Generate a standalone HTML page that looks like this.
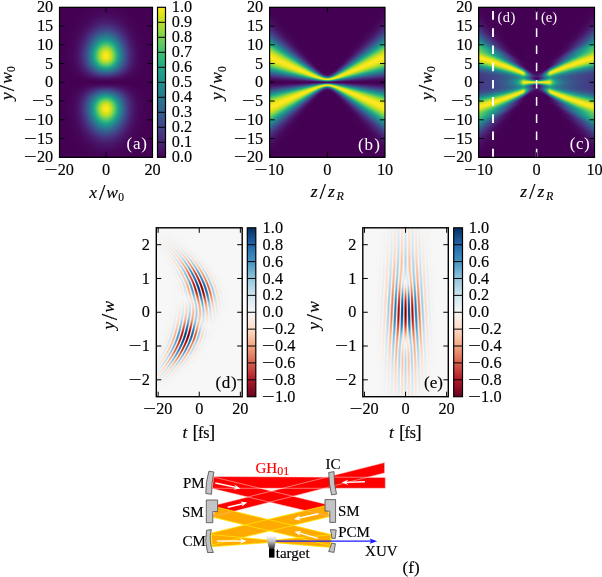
<!DOCTYPE html>
<html><head><meta charset="utf-8"><title>figure</title><style>
html,body{margin:0;padding:0;background:#fff}
#f{position:relative;width:602px;height:577px;overflow:hidden;background:#fff}
.h,.v{position:absolute;overflow:hidden}
.h i{display:block;height:1px}
.v{display:flex}
.v i{display:block;width:1px;height:100%;flex:none}
svg{position:absolute;left:0;top:0;font-family:"Liberation Serif",serif;font-size:16.3px}
svg text{stroke-width:.15px}
.a i{background:radial-gradient(circle at 47.00px var(--c),#fde725 0px,#fbe723 1.09px,#f3e61e 2.17px,#ebe51a 2.81px,#e2e418 3.45px,#dae319 3.91px,#d2e21b 4.32px,#c8e020 4.82px,#bade28 5.41px,#a4db36 6.24px,#88d548 7.27px,#5ac864 8.92px,#3dbc74 10.09px,#2fb47c 10.76px,#26ad81 11.37px,#21a685 11.9px,#1f9f88 12.5px,#1f958b 13.26px,#25858e 14.59px,#2b748e 16.08px,#34618d 17.89px,#3f4788 20.48px,#443b84 21.8px,#46317e 23.15px,#482273 25.31px,#48176a 27.57px,#470e61 30.23px,#46075b 32.91px,#450356 37.44px,#440154 44.05px,#440154 104.63px)}
.b i{background:linear-gradient(180deg,#440154 0%,#440154 43.269%,#440255 44.756%,#450559 45.175%,#460a5d 45.462%,#481567 45.794%,#482474 46.075%,#472e7c 46.225%,#443a83 46.369%,#3f4889 46.513%,#39568c 46.644%,#306a8e 46.812%,#277f8e 46.981%,#20928c 47.119%,#1e9c89 47.194%,#20a486 47.25%,#25ac82 47.3%,#2fb37c 47.356%,#3cbb75 47.413%,#59c765 47.513%,#87d549 47.65%,#a4db36 47.737%,#bade28 47.806%,#c8e020 47.856%,#d2e21b 47.894%,#dae319 47.925%,#e2e418 47.963%,#ebe51a 48.013%,#f2e61d 48.062%,#fbe723 48.15%,#fde725 48.231%,#fae723 48.319%,#f2e61d 48.4%,#ebe51a 48.444%,#e2e418 48.487%,#dbe319 48.519%,#d0e11c 48.556%,#c5e021 48.594%,#b8de29 48.631%,#a3db37 48.688%,#86d549 48.756%,#61ca60 48.844%,#3ebc73 48.931%,#34b779 48.962%,#2bb17e 48.994%,#24aa83 49.025%,#21a586 49.05%,#1e9c89 49.094%,#21908d 49.15%,#26818e 49.219%,#2d6f8e 49.3%,#355e8d 49.381%,#3c4f8a 49.45%,#433e85 49.525%,#472f7d 49.6%,#482071 49.681%,#481366 49.762%,#460a5d 49.831%,#450659 49.875%,#440255 49.938%,#440154 49.994%,#440255 50.056%,#450559 50.119%,#46095d 50.163%,#471265 50.231%,#481f70 50.313%,#472f7d 50.4%,#433e85 50.475%,#3c4f8a 50.55%,#355e8d 50.619%,#2d6f8e 50.7%,#26818e 50.781%,#21908d 50.85%,#1e9c89 50.906%,#21a586 50.95%,#24aa83 50.975%,#2bb17e 51.006%,#34b779 51.038%,#3ebc73 51.069%,#61ca60 51.156%,#86d549 51.244%,#a3db37 51.313%,#b8de29 51.369%,#c5e021 51.406%,#d0e11c 51.444%,#dbe319 51.481%,#e2e418 51.513%,#ebe51a 51.556%,#f2e61d 51.6%,#fae723 51.681%,#fde725 51.769%,#fbe723 51.85%,#f2e61d 51.938%,#ebe51a 51.987%,#e2e418 52.038%,#dae319 52.075%,#d2e21b 52.106%,#c8e020 52.144%,#bade28 52.194%,#a4db36 52.263%,#87d549 52.35%,#59c765 52.487%,#3cbb75 52.587%,#2fb37c 52.644%,#25ac82 52.7%,#20a486 52.75%,#1e9c89 52.806%,#20928c 52.881%,#277f8e 53.019%,#306a8e 53.188%,#39568c 53.356%,#3f4889 53.487%,#443a83 53.631%,#472e7c 53.775%,#482474 53.925%,#481567 54.206%,#460a5d 54.538%,#450559 54.825%,#440255 55.244%,#440154 56.731%,#440154 100%) no-repeat;background-size:1px var(--h);background-position:0 calc(75.30px - var(--h)/2)}
</style></head><body><div id="f">
<div class="h a" style="left:59px;top:7px;width:94px;height:151px;background:#440154"><i style="--c:-35.8px"></i><i style="--c:-35.1px"></i><i style="--c:-34.4px"></i><i style="--c:-33.7px"></i><i style="--c:-33.1px"></i><i style="--c:-32.4px"></i><i style="--c:-31.7px"></i><i style="--c:-31.0px"></i><i style="--c:-30.2px"></i><i style="--c:-29.5px"></i><i style="--c:-28.8px"></i><i style="--c:-28.1px"></i><i style="--c:-27.4px"></i><i style="--c:-26.7px"></i><i style="--c:-26.0px"></i><i style="--c:-25.3px"></i><i style="--c:-24.6px"></i><i style="--c:-23.8px"></i><i style="--c:-23.1px"></i><i style="--c:-22.4px"></i><i style="--c:-21.7px"></i><i style="--c:-20.9px"></i><i style="--c:-20.2px"></i><i style="--c:-19.5px"></i><i style="--c:-18.7px"></i><i style="--c:-18.0px"></i><i style="--c:-17.3px"></i><i style="--c:-16.5px"></i><i style="--c:-15.8px"></i><i style="--c:-15.0px"></i><i style="--c:-14.3px"></i><i style="--c:-13.5px"></i><i style="--c:-12.7px"></i><i style="--c:-12.0px"></i><i style="--c:-11.2px"></i><i style="--c:-10.4px"></i><i style="--c:-9.6px"></i><i style="--c:-8.8px"></i><i style="--c:-8.1px"></i><i style="--c:-7.3px"></i><i style="--c:-6.4px"></i><i style="--c:-5.6px"></i><i style="--c:-4.8px"></i><i style="--c:-4.0px"></i><i style="--c:-3.2px"></i><i style="--c:-2.3px"></i><i style="--c:-1.5px"></i><i style="--c:-0.6px"></i><i style="--c:0.3px"></i><i style="--c:-0.1px"></i><i style="--c:-1.0px"></i><i style="--c:-1.9px"></i><i style="--c:-2.8px"></i><i style="--c:-3.8px"></i><i style="--c:-4.7px"></i><i style="--c:-5.7px"></i><i style="--c:-6.7px"></i><i style="--c:-7.7px"></i><i style="--c:-8.7px"></i><i style="--c:-9.8px"></i><i style="--c:-10.9px"></i><i style="--c:-12.0px"></i><i style="--c:-13.2px"></i><i style="--c:-14.4px"></i><i style="--c:-15.6px"></i><i style="--c:-17.0px"></i><i style="--c:-18.4px"></i><i style="--c:-19.9px"></i><i style="--c:-21.5px"></i><i style="--c:-23.3px"></i><i style="--c:-25.2px"></i><i style="--c:-27.5px"></i><i style="--c:-30.3px"></i><i style="--c:-33.9px"></i><i style="--c:-39.8px"></i><i style="--c:-48.2px"></i><i style="--c:-37.0px"></i><i style="--c:-32.3px"></i><i style="--c:-29.1px"></i><i style="--c:-26.6px"></i><i style="--c:-24.4px"></i><i style="--c:-22.5px"></i><i style="--c:-20.8px"></i><i style="--c:-19.2px"></i><i style="--c:-17.8px"></i><i style="--c:-16.4px"></i><i style="--c:-15.1px"></i><i style="--c:-13.9px"></i><i style="--c:-12.7px"></i><i style="--c:-11.5px"></i><i style="--c:-10.4px"></i><i style="--c:-9.3px"></i><i style="--c:-8.3px"></i><i style="--c:-7.3px"></i><i style="--c:-6.3px"></i><i style="--c:-5.3px"></i><i style="--c:-4.3px"></i><i style="--c:-3.4px"></i><i style="--c:-2.5px"></i><i style="--c:-1.6px"></i><i style="--c:-0.7px"></i><i style="--c:0.2px"></i><i style="--c:-0.1px"></i><i style="--c:-1.0px"></i><i style="--c:-1.8px"></i><i style="--c:-2.7px"></i><i style="--c:-3.5px"></i><i style="--c:-4.3px"></i><i style="--c:-5.1px"></i><i style="--c:-6.0px"></i><i style="--c:-6.8px"></i><i style="--c:-7.6px"></i><i style="--c:-8.4px"></i><i style="--c:-9.2px"></i><i style="--c:-9.9px"></i><i style="--c:-10.7px"></i><i style="--c:-11.5px"></i><i style="--c:-12.3px"></i><i style="--c:-13.0px"></i><i style="--c:-13.8px"></i><i style="--c:-14.6px"></i><i style="--c:-15.3px"></i><i style="--c:-16.1px"></i><i style="--c:-16.8px"></i><i style="--c:-17.6px"></i><i style="--c:-18.3px"></i><i style="--c:-19.0px"></i><i style="--c:-19.8px"></i><i style="--c:-20.5px"></i><i style="--c:-21.2px"></i><i style="--c:-22.0px"></i><i style="--c:-22.7px"></i><i style="--c:-23.4px"></i><i style="--c:-24.1px"></i><i style="--c:-24.9px"></i><i style="--c:-25.6px"></i><i style="--c:-26.3px"></i><i style="--c:-27.0px"></i><i style="--c:-27.7px"></i><i style="--c:-28.4px"></i><i style="--c:-29.1px"></i><i style="--c:-29.8px"></i><i style="--c:-30.5px"></i><i style="--c:-31.2px"></i><i style="--c:-31.9px"></i><i style="--c:-32.6px"></i><i style="--c:-33.3px"></i><i style="--c:-34.0px"></i><i style="--c:-34.7px"></i><i style="--c:-35.4px"></i><i style="--c:-36.1px"></i></div>
<div class="v b" style="left:269px;top:7px;width:116px;height:151px;background:#440154"><i style="--h:1422.3px"></i><i style="--h:1398.0px"></i><i style="--h:1373.8px"></i><i style="--h:1349.5px"></i><i style="--h:1325.2px"></i><i style="--h:1301.0px"></i><i style="--h:1276.8px"></i><i style="--h:1252.5px"></i><i style="--h:1228.3px"></i><i style="--h:1204.1px"></i><i style="--h:1179.9px"></i><i style="--h:1155.7px"></i><i style="--h:1131.5px"></i><i style="--h:1107.3px"></i><i style="--h:1083.2px"></i><i style="--h:1059.0px"></i><i style="--h:1034.9px"></i><i style="--h:1010.8px"></i><i style="--h:986.7px"></i><i style="--h:962.6px"></i><i style="--h:938.5px"></i><i style="--h:914.4px"></i><i style="--h:890.4px"></i><i style="--h:866.4px"></i><i style="--h:842.4px"></i><i style="--h:818.5px"></i><i style="--h:794.6px"></i><i style="--h:770.7px"></i><i style="--h:746.8px"></i><i style="--h:723.0px"></i><i style="--h:699.2px"></i><i style="--h:675.5px"></i><i style="--h:651.8px"></i><i style="--h:628.2px"></i><i style="--h:604.6px"></i><i style="--h:581.2px"></i><i style="--h:557.8px"></i><i style="--h:534.5px"></i><i style="--h:511.3px"></i><i style="--h:488.2px"></i><i style="--h:465.3px"></i><i style="--h:442.5px"></i><i style="--h:419.9px"></i><i style="--h:397.6px"></i><i style="--h:375.5px"></i><i style="--h:353.7px"></i><i style="--h:332.3px"></i><i style="--h:311.3px"></i><i style="--h:290.9px"></i><i style="--h:271.1px"></i><i style="--h:252.1px"></i><i style="--h:234.2px"></i><i style="--h:217.5px"></i><i style="--h:202.5px"></i><i style="--h:189.3px"></i><i style="--h:178.6px"></i><i style="--h:170.8px"></i><i style="--h:166.2px"></i><i style="--h:165.1px"></i><i style="--h:167.6px"></i><i style="--h:173.5px"></i><i style="--h:182.6px"></i><i style="--h:194.3px"></i><i style="--h:208.3px"></i><i style="--h:224.0px"></i><i style="--h:241.2px"></i><i style="--h:259.6px"></i><i style="--h:278.9px"></i><i style="--h:299.0px"></i><i style="--h:319.6px"></i><i style="--h:340.8px"></i><i style="--h:362.4px"></i><i style="--h:384.3px"></i><i style="--h:406.5px"></i><i style="--h:429.0px"></i><i style="--h:451.6px"></i><i style="--h:474.4px"></i><i style="--h:497.4px"></i><i style="--h:520.6px"></i><i style="--h:543.8px"></i><i style="--h:567.1px"></i><i style="--h:590.6px"></i><i style="--h:614.1px"></i><i style="--h:637.6px"></i><i style="--h:661.3px"></i><i style="--h:685.0px"></i><i style="--h:708.7px"></i><i style="--h:732.5px"></i><i style="--h:756.3px"></i><i style="--h:780.2px"></i><i style="--h:804.1px"></i><i style="--h:828.1px"></i><i style="--h:852.0px"></i><i style="--h:876.0px"></i><i style="--h:900.0px"></i><i style="--h:924.1px"></i><i style="--h:948.1px"></i><i style="--h:972.2px"></i><i style="--h:996.3px"></i><i style="--h:1020.4px"></i><i style="--h:1044.5px"></i><i style="--h:1068.7px"></i><i style="--h:1092.8px"></i><i style="--h:1117.0px"></i><i style="--h:1141.2px"></i><i style="--h:1165.4px"></i><i style="--h:1189.6px"></i><i style="--h:1213.8px"></i><i style="--h:1238.0px"></i><i style="--h:1262.2px"></i><i style="--h:1286.5px"></i><i style="--h:1310.7px"></i><i style="--h:1334.9px"></i><i style="--h:1359.2px"></i><i style="--h:1383.5px"></i><i style="--h:1407.7px"></i></div>
<div class="v" style="left:478px;top:7px;width:117px;height:151px"><i style="background:linear-gradient(180deg,#450356 0px,#45065a 6.2px,#460b5f 10px,#48196b 15px,#482878 19.5px,#443b84 22.8px,#37598c 27px,#2a798e 31.5px,#20948c 34.2px,#1fa287 35.5px,#29af7f 36.8px,#43bf71 38.8px,#51c469 40px,#68cc5c 42.8px,#74d054 43.8px,#85d44a 44.8px,#95d840 45.5px,#c3e023 47.2px,#d6e21a 48px,#e7e419 48.8px,#f4e61e 49.5px,#fbe723 50.2px,#fde725 51px,#f9e622 51.8px,#eee51c 52.5px,#dde318 53.2px,#cee11d 53.8px,#b2dd2d 54.5px,#87d549 55.5px,#5cc863 56.5px,#3fbd73 57.2px,#2ab07f 58px,#1fa287 58.8px,#1f958b 59.5px,#2d718e 61.8px,#365d8d 63.2px,#3d4d8a 64.8px,#414487 66px,#433d85 67.2px,#443982 70.5px,#443983 81px,#443b83 82.5px,#424086 84px,#3d4c8a 85.8px,#355f8d 87.5px,#24868e 90.2px,#1f978b 91.2px,#1fa088 91.8px,#28ae80 92.5px,#3cbb75 93.2px,#58c765 94px,#83d44c 95px,#b8de29 96.2px,#d3e21b 97px,#e1e318 97.5px,#f1e51d 98.2px,#fae723 99px,#fde725 99.8px,#fce724 100.2px,#f5e61f 101px,#e4e419 102px,#d9e219 102.5px,#c5e021 103.2px,#97d83e 105px,#82d44c 106px,#76d054 106.8px,#67cc5d 108px,#52c569 110.5px,#45bf70 111.8px,#27ae80 114px,#20a386 115px,#1f958b 116.2px,#29798e 119px,#375a8c 123.5px,#433c84 127.8px,#482878 131.2px,#481769 136.2px,#460b5e 141px,#440356 151px)"></i><i style="background:linear-gradient(180deg,#440255 0px,#450559 6.2px,#460a5d 10.5px,#481769 15.5px,#482777 20.2px,#443a83 23.5px,#38588c 27.8px,#2a788e 32.2px,#1f958b 35px,#20a387 36.2px,#27ae81 37.2px,#40bd73 39.2px,#4dc36c 40.5px,#5fca61 42.8px,#6ece59 44px,#7fd34e 45px,#8fd744 45.8px,#bfdf25 47.5px,#d4e21a 48.2px,#e6e419 49px,#f3e61e 49.8px,#fbe723 50.5px,#fde725 51.2px,#f9e622 52px,#f2e61d 52.5px,#e3e418 53.2px,#d5e21a 53.8px,#bade28 54.5px,#85d44a 55.8px,#5ac864 56.8px,#3ebc74 57.5px,#29af80 58.2px,#1fa187 59px,#1f988b 59.5px,#228b8d 60.2px,#2f6c8e 62.2px,#37598c 63.8px,#3d4c8a 65px,#414387 66.2px,#433d85 67.5px,#443983 70.5px,#443a83 81px,#424086 83.8px,#3e4b8a 85.5px,#355e8d 87.2px,#25858e 90px,#1f968b 91px,#1f9f88 91.5px,#27ad81 92.2px,#33b67a 92.8px,#43be71 93.2px,#60ca60 94px,#8cd646 95px,#b7de2a 96px,#d2e21b 96.8px,#e0e318 97.2px,#f1e51d 98px,#fae722 98.8px,#fde725 99.5px,#fce724 100px,#f5e61f 100.8px,#e3e418 101.8px,#d7e21a 102.2px,#c2df23 103px,#92d742 104.8px,#7cd250 105.8px,#6fcf58 106.5px,#60ca60 107.8px,#41bd72 111.2px,#28ae80 113.2px,#1fa187 114.5px,#20938c 115.8px,#2a778e 118.5px,#38578c 123px,#443b83 127px,#482777 130.5px,#481668 135.5px,#460a5d 140.2px,#450559 144.8px,#440255 151px)"></i><i style="background:linear-gradient(180deg,#440255 0px,#450558 6.8px,#460a5d 11.2px,#481467 15.8px,#482576 20.8px,#443983 24.2px,#39568c 28.2px,#2b768e 32.8px,#20938c 35.5px,#1fa187 36.8px,#26ac82 37.8px,#3cbb75 39.8px,#59c765 43px,#67cc5c 44.2px,#78d152 45.2px,#8ad547 46px,#c3e022 48px,#d8e219 48.8px,#e5e419 49.2px,#f6e620 50.2px,#fce724 51px,#fde725 51.5px,#f9e621 52.2px,#f2e61d 52.8px,#e2e418 53.5px,#d4e21b 54px,#b9de29 54.8px,#84d44b 56px,#58c765 57px,#3cbb75 57.8px,#28ae80 58.5px,#1fa088 59.2px,#238a8d 60.5px,#2e6f8e 62.2px,#375b8d 63.8px,#3d4e8a 65px,#414487 66.2px,#433e85 67.5px,#443a83 70.5px,#443a83 81px,#424186 83.8px,#3d4d8a 85.5px,#34608d 87.2px,#25848e 89.8px,#1f9f88 91.2px,#26ac81 92px,#32b57b 92.5px,#41be72 93px,#5fc961 93.8px,#8ad647 94.8px,#b5de2b 95.8px,#d1e11c 96.5px,#e0e318 97px,#f1e51c 97.8px,#fae722 98.5px,#fde725 99.2px,#fce724 99.8px,#f4e61e 100.5px,#e7e419 101.2px,#d4e21a 102px,#bfdf25 102.8px,#8cd646 104.5px,#7ad251 105.2px,#68cd5c 106.2px,#59c864 107.5px,#3dbc74 110.8px,#27ad81 112.8px,#1fa287 113.8px,#20948c 115px,#2a778e 117.8px,#39568c 122.2px,#453882 126.5px,#482575 130px,#481366 135.2px,#46095d 139.5px,#450458 144.5px,#440255 151px)"></i><i style="background:linear-gradient(180deg,#440255 0px,#450457 6.8px,#46095c 12px,#481466 16.5px,#482475 21.5px,#453882 25px,#39568c 29.2px,#2c738e 33.2px,#20948c 36.2px,#1fa287 37.5px,#26ac81 38.5px,#39b977 40.2px,#54c667 43.5px,#64cb5e 44.8px,#72cf56 45.5px,#8ad547 46.5px,#c0df24 48.2px,#d6e21a 49px,#e3e418 49.5px,#f6e61f 50.5px,#fce724 51.2px,#fde725 51.8px,#f9e621 52.5px,#f2e61d 53px,#e2e418 53.8px,#d3e21b 54.2px,#b8de29 55px,#8dd645 56px,#61ca60 57px,#44bf71 57.8px,#2db27d 58.5px,#20a486 59.2px,#1f968b 60px,#2d718e 62.2px,#365d8d 63.8px,#3c4f8a 65px,#424086 67.2px,#443b83 70.2px,#443b84 81px,#414286 83.8px,#3d4c8a 85.2px,#355e8d 87px,#25838e 89.5px,#1f9e89 91px,#25ab82 91.8px,#30b47b 92.2px,#40bd73 92.8px,#5dc962 93.5px,#89d548 94.5px,#b4dd2c 95.5px,#d0e11c 96.2px,#dfe318 96.8px,#f0e51c 97.5px,#fae722 98.2px,#fde725 99px,#fbe723 99.5px,#f3e61e 100.2px,#e5e419 101px,#d9e219 101.5px,#c3e023 102.2px,#86d549 104.2px,#74d055 105px,#66cc5d 105.8px,#55c667 107px,#37b977 110.5px,#27ad81 112px,#20a386 113px,#1f958b 114.2px,#2b748e 117.2px,#39558c 121.5px,#453782 125.8px,#482374 129.2px,#481366 134.2px,#46095c 138.8px,#450457 144.2px,#440255 151px)"></i><i style="background:linear-gradient(180deg,#440255 0px,#450457 7px,#46085b 12.5px,#471265 17px,#482273 22px,#453782 25.8px,#39558c 30px,#2c738e 34px,#1f958b 37px,#20a387 38.2px,#24ab82 39px,#35b778 40.8px,#4ec36b 43.8px,#5ec962 45px,#71cf56 46px,#84d44b 46.8px,#c4e022 48.8px,#d4e21b 49.2px,#e7e419 50px,#f5e61f 50.8px,#fce724 51.5px,#fde725 52px,#f9e622 52.8px,#f2e61d 53.2px,#e2e418 54px,#d3e21b 54.5px,#b7de2a 55.2px,#8cd646 56.2px,#60ca61 57.2px,#42be71 58px,#2cb17e 58.8px,#20a386 59.5px,#1f958b 60.2px,#2d708e 62.5px,#3b518b 65px,#424186 67.2px,#443c84 70.2px,#443c84 80.8px,#414286 83.5px,#3e4b8a 85px,#355d8d 86.8px,#26828e 89.2px,#1e9d89 90.8px,#24ab82 91.5px,#2fb47c 92px,#3fbc73 92.5px,#5cc863 93.2px,#87d549 94.2px,#b3dd2c 95.2px,#cfe11c 96px,#dfe318 96.5px,#f0e51c 97.2px,#fae723 98px,#fde725 98.8px,#fbe723 99.2px,#f3e61e 100px,#e4e418 100.8px,#d6e21a 101.2px,#bfdf25 102px,#80d34d 104px,#6ece58 104.8px,#5fca61 105.5px,#4fc46a 106.8px,#34b779 110px,#25ab82 111.5px,#1fa187 112.5px,#20938c 113.8px,#2c728e 116.8px,#3a538b 121px,#453681 125px,#482173 128.8px,#471265 133.5px,#46085c 138px,#450457 143.5px,#440255 151px)"></i><i style="background:linear-gradient(180deg,#440254 0px,#450356 7px,#46075b 13.2px,#471063 17.5px,#482071 22.5px,#472c7b 25px,#414387 28.2px,#32648e 33px,#2c748e 34.8px,#24878e 36.5px,#1f968b 37.8px,#1fa187 38.8px,#23a984 39.5px,#30b47c 41px,#48c16e 44px,#57c766 45.2px,#6bcd5a 46.2px,#7fd34e 47px,#c1df24 49px,#d8e219 49.8px,#e5e419 50.2px,#f4e61e 51px,#fce724 51.8px,#fde725 52.2px,#f9e722 53px,#f2e61d 53.5px,#e2e418 54.2px,#d2e21b 54.8px,#b6de2a 55.5px,#8bd646 56.5px,#5ec961 57.5px,#41be72 58.2px,#2bb07f 59px,#1fa287 59.8px,#1f948c 60.5px,#2e6f8e 62.8px,#355e8d 64px,#3c508b 65.2px,#424186 67.5px,#433c84 70.2px,#433c84 80.8px,#414387 83.5px,#3d4d8a 85px,#345f8d 86.8px,#26818e 89px,#1e9c89 90.5px,#24aa83 91.2px,#2eb37c 91.8px,#3ebc74 92.2px,#5ac864 93px,#86d549 94px,#b2dd2d 95px,#cfe11c 95.8px,#dfe318 96.2px,#ebe51a 96.8px,#f5e61f 97.2px,#fbe723 97.8px,#fde725 98.5px,#fbe723 99px,#f2e61d 99.8px,#e2e418 100.5px,#d4e21b 101px,#c4e022 101.5px,#81d34c 103.5px,#6dce59 104.2px,#59c765 105.2px,#46c06f 106.8px,#31b57b 109.5px,#1fa287 111.8px,#1f978b 112.8px,#24888e 114px,#2b758e 115.8px,#32658e 117.5px,#414487 122.2px,#472d7c 125.5px,#482072 128px,#471163 133px,#46085b 137.2px,#450356 143.8px,#440254 151px)"></i><i style="background:linear-gradient(180deg,#440154 0px,#450356 7.5px,#46075a 14px,#471063 18.5px,#481f70 23.2px,#472c7a 25.8px,#424086 28.8px,#34618d 33.5px,#2d718e 35.2px,#25858e 37px,#1f978b 38.5px,#1fa287 39.5px,#2db27d 41.5px,#40bd73 44px,#4ac26d 45px,#55c667 45.8px,#65cb5e 46.5px,#79d152 47.2px,#91d743 48px,#bddf26 49.2px,#d6e21a 50px,#e4e418 50.5px,#f3e61e 51.2px,#fce724 52px,#fde725 52.5px,#fce723 53px,#f3e61e 53.8px,#e2e418 54.5px,#d3e21b 55px,#b6de2a 55.8px,#8ad547 56.8px,#5dc962 57.8px,#40bd73 58.5px,#30b47b 59px,#25ab82 59.5px,#1e9d89 60.2px,#26828e 61.8px,#34608d 64px,#3d4d8a 65.8px,#414387 67.2px,#433d85 70px,#433d84 80.2px,#424286 83px,#3f4889 84.2px,#3b518b 85.2px,#355e8d 86.5px,#2d708e 87.8px,#23898e 89.2px,#1fa088 90.5px,#28ae80 91.2px,#3cbb75 92px,#59c764 92.8px,#86d44a 93.8px,#b2dd2d 94.8px,#cfe11c 95.5px,#dfe318 96px,#f1e51d 96.8px,#f8e621 97.2px,#fde725 98px,#fce724 98.5px,#f5e61f 99.2px,#e0e318 100.2px,#d1e11c 100.8px,#c1df24 101.2px,#7cd250 103.2px,#67cc5c 104px,#53c568 105px,#48c16e 105.8px,#3ebc74 106.8px,#2bb17e 109.2px,#20a387 111px,#20928c 112.5px,#2b758e 115px,#33628d 117px,#424186 121.8px,#472b7a 125px,#481e70 127.5px,#470f62 132.5px,#46075a 136.8px,#450356 143.2px,#440154 151px)"></i><i style="background:linear-gradient(180deg,#440154 0px,#440256 8px,#45065a 14.8px,#470f62 19px,#481d6f 23.8px,#482979 26.2px,#423f85 29.5px,#355f8d 34px,#2c728e 36px,#20928c 38.8px,#1fa287 40.2px,#2ab07f 42px,#3aba76 44.2px,#44bf70 45.2px,#4fc46a 46px,#65cb5e 47px,#7bd251 47.8px,#c2df23 49.8px,#d3e21b 50.2px,#e2e418 50.8px,#f2e61d 51.5px,#fbe723 52.2px,#fde725 52.8px,#fae722 53.5px,#f3e61e 54px,#e2e418 54.8px,#d3e21b 55.2px,#b7de2a 56px,#8ad547 57px,#5dc962 58px,#3fbd73 58.8px,#29af80 59.5px,#1fa188 60.2px,#1f978b 60.8px,#23898d 61.5px,#2d708e 63px,#355f8d 64.2px,#3b518b 65.5px,#3f4989 66.5px,#414287 67.8px,#433e85 70.5px,#424086 75.2px,#433e85 80.8px,#414487 83.2px,#3d4e8a 84.8px,#34618d 86.5px,#25838e 88.8px,#1f958b 89.8px,#1f9f88 90.2px,#27ad81 91px,#3cbb75 91.8px,#59c765 92.5px,#85d44a 93.5px,#b2dd2d 94.5px,#d0e11c 95.2px,#e0e318 95.8px,#f1e51d 96.5px,#f9e621 97px,#fde725 97.8px,#fce724 98.2px,#f4e61e 99px,#e4e419 99.8px,#d6e21a 100.2px,#bddf26 101px,#8fd744 102.2px,#76d053 103px,#61ca60 103.8px,#51c469 104.5px,#45c070 105.2px,#3bba75 106.2px,#29af80 108.8px,#20a386 110.2px,#20938c 111.8px,#2d708e 114.8px,#355d8d 116.8px,#433e85 121.2px,#482878 124.5px,#481d6f 126.8px,#470f62 131.5px,#45065a 136px,#440255 142.8px,#440154 151px)"></i><i style="background:linear-gradient(180deg,#440154 0px,#440255 8.5px,#450659 15.5px,#470e61 19.8px,#481c6e 24.5px,#482777 26.8px,#433c84 30px,#375a8c 34.2px,#2f6d8e 36.2px,#20938c 39.5px,#20a586 41.2px,#27ad81 42.5px,#36b878 44.8px,#42be72 45.8px,#4ec36b 46.5px,#5fca61 47.2px,#75d054 48px,#bfdf25 50px,#d0e11c 50.5px,#e0e318 51px,#f1e51d 51.8px,#fbe723 52.5px,#fde725 53px,#fae722 53.8px,#f4e61e 54.2px,#e3e418 55px,#d4e21a 55.5px,#b7de2a 56.2px,#8ad647 57.2px,#5cc963 58.2px,#3ebc73 59px,#28ae80 59.8px,#1fa088 60.5px,#23888e 61.8px,#2d6f8e 63.2px,#3a538b 65.5px,#3e4a89 66.5px,#414387 67.8px,#433f85 70.5px,#424186 75.2px,#433f85 80.5px,#404588 83.2px,#3c508b 84.8px,#33638d 86.5px,#24878e 88.8px,#1f9e89 90px,#26ac81 90.8px,#3bba75 91.5px,#58c765 92.2px,#86d44a 93.2px,#b3dd2c 94.2px,#d1e11c 95px,#e1e318 95.5px,#f2e61d 96.2px,#fbe723 97px,#fde725 97.5px,#fce724 98px,#f3e61e 98.8px,#e2e418 99.5px,#d4e21b 100px,#c3e023 100.5px,#8ad547 102px,#71cf57 102.8px,#5cc863 103.5px,#4bc26c 104.2px,#40bd73 105px,#35b779 106px,#26ac81 108.2px,#20a386 109.5px,#20918c 111.2px,#2e6e8e 114.2px,#375a8d 116.2px,#443b84 120.8px,#482676 124px,#481b6d 126.2px,#470c5f 131.5px,#450659 135.2px,#440255 142.5px,#440154 151px)"></i><i style="background:linear-gradient(180deg,#440154 0px,#440255 9px,#450559 16.2px,#470c5f 20px,#481b6d 25.2px,#482676 27.5px,#443a83 30.5px,#38578c 34.8px,#306a8e 36.8px,#20918c 40px,#1e9c89 41px,#20a486 42px,#31b57b 45px,#3cbb75 46px,#48c16e 46.8px,#5ac864 47.5px,#70cf57 48.2px,#bcdf27 50.2px,#d6e21a 51px,#e4e419 51.5px,#f4e61e 52.2px,#fce724 53px,#fde725 53.5px,#fbe723 54px,#f4e61f 54.5px,#e4e419 55.2px,#d5e21a 55.8px,#b9de29 56.5px,#8bd646 57.5px,#68cc5c 58.2px,#47c06f 59px,#2eb37d 59.8px,#20a486 60.5px,#1f958b 61.2px,#2c728e 63.2px,#39558c 65.5px,#3d4c8a 66.5px,#404587 67.8px,#423f86 70.2px,#414287 75.2px,#423f86 80.5px,#404588 83px,#3b518b 84.8px,#33628d 86.2px,#24858e 88.5px,#1e9d89 89.8px,#26ac82 90.5px,#3aba76 91.2px,#58c765 92px,#86d549 93px,#b4dd2c 94px,#d2e21b 94.8px,#e2e418 95.2px,#f3e61e 96px,#fae722 96.5px,#fde725 97.2px,#fbe723 97.8px,#f2e61d 98.5px,#e0e318 99.2px,#d1e11c 99.8px,#bfdf25 100.2px,#73d055 102.2px,#5cc963 103px,#4ac26d 103.8px,#3dbc74 104.5px,#32b57a 105.5px,#21a586 108.5px,#1e9d89 109.5px,#20928c 110.5px,#30698e 114px,#39568c 116px,#443a83 120px,#482575 123.2px,#481a6c 125.5px,#460c5f 130.8px,#450559 134.5px,#440255 142px,#440154 151px)"></i><i style="background:linear-gradient(180deg,#440154 0px,#440255 9.5px,#450558 17px,#460a5d 20.2px,#48186b 25.8px,#482273 27.8px,#463480 30.5px,#39568c 35.5px,#2a778e 38.5px,#20928c 40.8px,#1f9e89 42px,#22a785 43.2px,#29af80 44.8px,#31b57b 45.8px,#3aba76 46.5px,#48c16e 47.2px,#5bc864 48px,#73d055 48.8px,#c2df23 50.8px,#d4e21b 51.2px,#e3e418 51.8px,#f3e61e 52.5px,#fce724 53.2px,#fde725 53.8px,#f9e621 54.5px,#f1e51d 55px,#dfe318 55.8px,#cee11d 56.2px,#bade28 56.8px,#80d34d 58px,#5dc963 58.8px,#3dbc74 59.5px,#27ad81 60.2px,#23a884 60.5px,#1f9e89 61px,#24868e 62.2px,#33638d 64.5px,#3b528b 66px,#404688 67.8px,#424086 70.2px,#414387 75.2px,#424086 80px,#404688 82.8px,#3d4d8a 84px,#39568c 85px,#2c748e 87.2px,#20928c 89px,#1fa187 89.8px,#21a685 90px,#2bb07f 90.5px,#43be71 91.2px,#63cb5f 92px,#87d549 92.8px,#b6de2b 93.8px,#d3e21b 94.5px,#e3e418 95px,#f4e61e 95.8px,#fae722 96.2px,#fde725 97px,#fbe723 97.5px,#f5e61f 98px,#e5e419 98.8px,#d7e21a 99.2px,#bcdf27 100px,#6ece58 102px,#56c666 102.8px,#44bf70 103.5px,#38b977 104.2px,#2fb47c 105px,#28ae80 106px,#21a685 107.5px,#1e9d89 108.8px,#21918c 110px,#31668e 113.5px,#39558c 115.2px,#46337f 120.2px,#482273 122.8px,#48196b 124.8px,#460a5d 130.5px,#450558 133.8px,#440255 141.2px,#440154 151px)"></i><i style="background:linear-gradient(180deg,#440154 0px,#440255 10.2px,#450558 17.8px,#46095d 21px,#48176a 26.5px,#482172 28.5px,#463480 31.5px,#3f4989 34.8px,#38588c 36.5px,#2a788e 39.2px,#20938c 41.5px,#1f9e89 42.8px,#22a785 44.2px,#2cb17e 46px,#34b779 46.8px,#42be72 47.5px,#55c667 48.2px,#6ece58 49px,#bfdf25 51px,#d1e11c 51.5px,#e1e318 52px,#f2e61d 52.8px,#fce723 53.5px,#fde725 54px,#fce723 54.5px,#f2e61d 55.2px,#e0e318 56px,#d0e11c 56.5px,#bcdf27 57px,#81d34d 58.2px,#5dc962 59px,#3dbc74 59.8px,#27ad81 60.5px,#22a884 60.8px,#1f9e89 61.2px,#25858e 62.5px,#32658e 64.5px,#3a548c 66px,#3f4888 67.8px,#424186 70.2px,#404588 75.2px,#424186 80px,#404688 82.5px,#3d4d8a 83.8px,#39568c 84.8px,#34618d 85.8px,#2c738e 87px,#228d8d 88.5px,#1fa188 89.5px,#25ab82 90px,#2ab07f 90.2px,#43be71 91px,#64cb5e 91.8px,#89d548 92.5px,#b8de29 93.5px,#d5e21a 94.2px,#e4e419 94.8px,#f0e51c 95.2px,#f8e621 95.8px,#fde725 96.5px,#fae723 97.2px,#f4e61e 97.8px,#e4e418 98.5px,#d5e21a 99px,#b9de29 99.8px,#68cc5c 101.8px,#51c469 102.5px,#44bf70 103px,#36b878 103.8px,#2db27d 104.5px,#22a884 106.2px,#1f9f88 107.8px,#20948c 109px,#29798e 111.2px,#38598c 114px,#3e4a89 115.8px,#453580 119px,#482173 122px,#481769 124.2px,#46095c 129.8px,#450458 133px,#440255 140.5px,#440154 151px)"></i><i style="background:linear-gradient(180deg,#440154 0px,#450458 18.5px,#46095d 22px,#481669 27.2px,#482071 29.2px,#453681 32.8px,#3f4889 35.5px,#375a8c 37.5px,#29798e 40px,#20938c 42.2px,#1f9f88 43.8px,#22a784 45.2px,#2cb17e 46.8px,#37b878 47.5px,#41be72 48px,#4fc36b 48.5px,#68cc5c 49.2px,#9cd93c 50.5px,#bcdf27 51.2px,#cfe11d 51.8px,#dfe318 52.2px,#f1e51d 53px,#f9e621 53.5px,#fde725 54.2px,#fae722 55px,#f3e61e 55.5px,#e2e418 56.2px,#d2e21b 56.8px,#b3dd2c 57.5px,#83d44c 58.5px,#5ec962 59.2px,#3dbc74 60px,#26ac81 60.8px,#1fa287 61.2px,#20938c 62px,#2c738e 63.8px,#33618d 65px,#39568c 66px,#404788 68.2px,#414287 70.8px,#404688 75.2px,#414287 80.2px,#3f4989 82.8px,#39558c 84.5px,#31678e 86px,#24878e 88px,#1f968b 88.8px,#1fa088 89.2px,#24aa83 89.8px,#2ab07f 90px,#43be71 90.8px,#65cb5e 91.5px,#8ad547 92.2px,#bade28 93.2px,#cee11d 93.8px,#dfe318 94.2px,#f1e51d 95px,#f9e621 95.5px,#fde725 96.2px,#fae722 97px,#f3e61e 97.5px,#e2e418 98.2px,#d2e21b 98.8px,#c0df25 99.2px,#6ccd5a 101.2px,#52c569 102px,#44bf71 102.5px,#39b977 103px,#2db27d 103.8px,#26ac81 104.5px,#21a685 105.5px,#1f9e89 107px,#20928c 108.5px,#2a778e 110.8px,#38588c 113.2px,#3f4889 115px,#453581 118px,#482072 121.2px,#481668 123.5px,#46085c 129px,#450457 132.2px,#440154 151px)"></i><i style="background:linear-gradient(180deg,#440154 0px,#450457 19.2px,#46085b 22.5px,#481467 27.8px,#481f70 30px,#453781 33.8px,#404788 36.2px,#375a8c 38.2px,#2a778e 40.5px,#218f8d 42.5px,#1e9c89 44.2px,#21a685 46px,#25ab82 46.8px,#2db27d 47.5px,#3bbb75 48.2px,#48c16e 48.8px,#6bcd5a 49.8px,#b8de29 51.5px,#d5e21a 52.2px,#e4e419 52.8px,#f4e61f 53.5px,#fbe723 54px,#fde725 54.8px,#f8e621 55.5px,#efe51c 56px,#e3e418 56.5px,#d3e21b 57px,#b5de2b 57.8px,#84d44b 58.8px,#52c568 59.8px,#3dbb74 60.2px,#26ac82 61px,#1fa187 61.5px,#20928c 62.2px,#2a768e 63.8px,#32648e 65px,#38588c 66px,#3c508b 67px,#3f4889 68.2px,#414387 70.8px,#3f4888 75.2px,#414387 80.2px,#3f4989 82.5px,#39558c 84.2px,#31668e 85.8px,#24868e 87.8px,#1f9f88 89px,#24aa83 89.5px,#29af7f 89.8px,#39ba76 90.2px,#59c864 91px,#7fd34e 91.8px,#b0dd2e 92.8px,#d0e11c 93.5px,#e0e318 94px,#f2e61d 94.8px,#f9e722 95.2px,#fde725 96px,#f9e722 96.8px,#f2e61d 97.2px,#e7e419 97.8px,#d8e219 98.2px,#bcdf27 99px,#90d743 100px,#65cc5d 101px,#44bf70 102px,#38b977 102.5px,#2bb17e 103.2px,#24aa83 104px,#21a586 104.8px,#1e9b8a 106.5px,#228d8d 108.2px,#2b758e 110.2px,#38588c 112.5px,#3f4788 114.2px,#453681 117px,#481e70 120.8px,#481567 122.8px,#46095c 127.8px,#450457 131.2px,#440154 151px)"></i><i style="background:linear-gradient(180deg,#440154 0px,#450457 20.2px,#46085c 23.8px,#481366 28.5px,#481b6d 30.2px,#482978 32.5px,#424086 36.2px,#3d4c8a 37.8px,#375a8c 39px,#277e8e 41.8px,#228c8d 43px,#1f998a 44.8px,#20a486 46.5px,#28ae80 47.8px,#35b779 48.5px,#41be72 49px,#64cb5e 50px,#91d743 51px,#bedf25 52px,#d2e21b 52.5px,#e2e418 53px,#f3e61e 53.8px,#fae722 54.2px,#fde725 55px,#f8e621 55.8px,#f0e51c 56.2px,#e5e419 56.8px,#d5e21a 57.2px,#b7de2a 58px,#85d44a 59px,#53c568 60px,#3dbb74 60.5px,#2bb17e 61px,#25ac82 61.2px,#1fa188 61.8px,#228c8d 62.8px,#2b758e 64px,#375b8d 66px,#3b528b 67px,#3e4a89 68.2px,#404487 70.8px,#3f4989 75.2px,#404587 80.2px,#3e4a89 82.5px,#38578c 84.2px,#30698e 85.8px,#25858e 87.5px,#1f9f88 88.8px,#23a983 89.2px,#29af80 89.5px,#39b977 90px,#5ac864 90.8px,#80d34d 91.5px,#b2dd2d 92.5px,#d2e11b 93.2px,#e2e418 93.8px,#f3e61e 94.5px,#fae722 95px,#fde725 95.8px,#f8e621 96.5px,#f0e51c 97px,#e5e419 97.5px,#d5e21a 98px,#b8de29 98.8px,#69cd5c 100.5px,#44bf70 101.5px,#37b878 102px,#2aaf7f 102.8px,#20a486 104px,#1f9a8a 105.8px,#238b8d 107.8px,#38588c 111.8px,#3e4b89 113px,#433f85 114.5px,#482878 118.2px,#481a6c 120.5px,#471365 122.2px,#46085b 127px,#450457 130.5px,#440154 151px)"></i><i style="background:linear-gradient(180deg,#440154 0px,#450357 20.8px,#46085b 24.8px,#471264 29px,#48196b 30.8px,#482676 33px,#433d84 36.8px,#3f4989 38.2px,#375a8d 39.8px,#29798e 42px,#24878e 43.2px,#1f968b 45.2px,#20a386 47.2px,#24aa83 48px,#2ab07f 48.5px,#34b779 49px,#42be72 49.5px,#5dc962 50.2px,#8ad547 51.2px,#b9de28 52.2px,#cee11d 52.8px,#d7e21a 53px,#e6e419 53.5px,#f2e61d 54px,#f9e722 54.5px,#fde725 55.2px,#f9e622 56px,#f1e51d 56.5px,#dfe318 57.2px,#cde11d 57.8px,#b8de29 58.2px,#86d549 59.2px,#53c568 60.2px,#3cbb75 60.8px,#2bb17e 61.2px,#25ab82 61.5px,#1fa088 62px,#1f958b 62.5px,#24868e 63.2px,#30698e 65px,#38588c 66.5px,#3e4b8a 68.2px,#404688 70.2px,#3e4a89 75.2px,#404688 80px,#3e4b89 82.2px,#3a538b 83.5px,#365c8d 84.5px,#2a778e 86.5px,#20938c 88px,#20a386 88.8px,#28ae80 89.2px,#43be71 90px,#67cc5d 90.8px,#8ed644 91.5px,#bfdf25 92.5px,#d3e21b 93px,#e3e418 93.5px,#efe51c 94px,#f8e621 94.5px,#fde725 95.2px,#fae722 96px,#f4e61e 96.5px,#e2e418 97.2px,#d2e21b 97.8px,#bedf26 98.2px,#8fd744 99.2px,#61ca60 100.2px,#45bf70 101px,#37b878 101.5px,#2cb17e 102px,#25ab82 102.5px,#20a486 103.2px,#1f988b 105px,#23888e 107.2px,#297a8e 108.5px,#38598c 111px,#3f4888 112.5px,#443c84 114px,#482576 117.8px,#471265 121.5px,#46085c 125.8px,#450357 129.8px,#440154 151px)"></i><i style="background:linear-gradient(180deg,#440154 0px,#450356 21.5px,#46085c 26px,#471163 29.8px,#482575 33.8px,#443983 37.2px,#404688 38.8px,#38588c 40.2px,#2a768e 42.5px,#25848e 43.8px,#1f968b 46.2px,#20a386 48px,#29af7f 49px,#34b779 49.5px,#42be71 50px,#5fca61 50.8px,#8fd744 51.8px,#bfdf25 52.8px,#d3e21b 53.2px,#e3e418 53.8px,#f0e51c 54.2px,#f8e621 54.8px,#fde725 55.5px,#fae722 56.2px,#f2e61e 56.8px,#e0e318 57.5px,#cfe11d 58px,#b9de28 58.5px,#87d549 59.5px,#52c568 60.5px,#3cbb75 61px,#2ab07f 61.5px,#24ab82 61.8px,#1f9f88 62.2px,#218f8d 63px,#2a788e 64.2px,#365d8d 66.2px,#3d4d8a 68.2px,#3f4788 70.5px,#3e4c8a 75.2px,#3f4788 80.2px,#3d4c8a 82.2px,#39578c 83.8px,#31678e 85.2px,#277f8e 86.8px,#1e9d89 88.2px,#23a884 88.8px,#28ae80 89px,#38b977 89.5px,#4dc36b 90px,#81d34c 91px,#b5dd2b 92px,#cbe11e 92.5px,#d4e21a 92.8px,#e5e419 93.2px,#f1e51c 93.8px,#f9e621 94.2px,#fde725 95px,#f9e722 95.8px,#f2e61d 96.2px,#e6e419 96.8px,#d7e21a 97.2px,#c3e023 97.8px,#94d841 98.8px,#64cb5e 99.8px,#46c06f 100.5px,#36b878 101px,#2bb17e 101.5px,#24aa83 102px,#1fa287 102.8px,#20948c 104.8px,#26838e 107px,#365c8d 110px,#3e4a89 111.5px,#433e85 112.8px,#482777 116.5px,#48176a 119.2px,#471063 121px,#46085b 125px,#450356 129.2px,#440154 151px)"></i><i style="background:linear-gradient(180deg,#440154 0px,#450356 22px,#46075b 26.5px,#470f62 30.2px,#482475 34.5px,#443983 38.2px,#404588 39.5px,#38588c 41px,#2d708e 42.8px,#277f8e 44px,#20938c 46.8px,#1fa287 48.5px,#22a884 49px,#29af80 49.5px,#34b679 50px,#43bf71 50.5px,#62ca5f 51.2px,#93d741 52.2px,#c3e022 53.2px,#d7e21a 53.8px,#e7e419 54.2px,#f3e61e 54.8px,#fae722 55.2px,#fde725 56px,#f8e621 56.8px,#efe51c 57.2px,#e1e318 57.8px,#d0e11c 58.2px,#bade28 58.8px,#87d549 59.8px,#46c06f 61px,#2ab07f 61.8px,#20a486 62.2px,#20948c 63px,#287c8e 64.2px,#355f8d 66.2px,#3c4e8a 68.2px,#3f4889 70.5px,#3d4d8a 75.2px,#3f4989 80.2px,#3d4e8a 82.2px,#38598c 83.8px,#306a8e 85.2px,#277e8e 86.5px,#1e9c89 88px,#22a884 88.5px,#27ad81 88.8px,#37b878 89.2px,#59c765 90px,#81d34c 90.8px,#b6de2b 91.8px,#cce11e 92.2px,#d6e21a 92.5px,#e6e419 93px,#f2e61d 93.5px,#f9e722 94px,#fde725 94.8px,#f8e621 95.5px,#f0e51c 96px,#e3e418 96.5px,#d2e11b 97px,#bddf26 97.5px,#8cd646 98.5px,#67cc5d 99.2px,#47c06f 100px,#36b878 100.5px,#2bb07f 101px,#23a983 101.5px,#20a387 102px,#20948c 103.8px,#23888e 105.5px,#287d8e 106.8px,#375a8c 109.5px,#404688 111px,#443a83 112.2px,#482475 116px,#470f62 120.2px,#46085b 123.5px,#450356 128.5px,#440154 151px)"></i><i style="background:linear-gradient(180deg,#440154 0px,#440356 23px,#46085b 28.2px,#470e61 31px,#482475 35.5px,#453882 39px,#404588 40.2px,#39558c 41.5px,#29798e 44.2px,#20938c 47.8px,#1fa088 49px,#22a785 49.5px,#28ae80 50px,#34b779 50.5px,#44bf70 51px,#64cb5e 51.8px,#8ad547 52.5px,#bcdf27 53.5px,#d1e11b 54px,#e3e418 54.5px,#f0e51c 55px,#f8e621 55.5px,#fde725 56.2px,#f9e621 57px,#f0e51c 57.5px,#e3e418 58px,#d1e11c 58.5px,#bbde27 59px,#86d549 60px,#51c469 61px,#3aba76 61.5px,#29af80 62px,#23a983 62.2px,#1f9e89 62.8px,#277f8e 64.2px,#31688e 65.8px,#38578c 67.2px,#3c4e8a 68.5px,#3e4a89 70.2px,#3c4e8a 75.2px,#3e4a89 80.2px,#3c4f8a 82.2px,#355d8d 84px,#29798e 86px,#1f968b 87.5px,#1fa187 88px,#26ad81 88.5px,#2db27d 88.8px,#40bd72 89.2px,#58c765 89.8px,#81d34d 90.5px,#b6de2a 91.5px,#cde11d 92px,#e0e318 92.5px,#eee51b 93px,#f7e620 93.5px,#fde725 94.2px,#fae722 95px,#f2e61d 95.5px,#e6e419 96px,#d5e21a 96.5px,#c1df24 97px,#8fd744 98px,#5dc962 99px,#3fbc73 99.8px,#2ab07f 100.5px,#23a884 101px,#1fa187 101.5px,#20948c 102.8px,#25838e 105.2px,#2a788e 106.5px,#38578c 109px,#414387 110.5px,#453781 111.8px,#482374 115.2px,#470e61 119.5px,#46085b 122.2px,#440256 127.8px,#440154 151px)"></i><i style="background:linear-gradient(180deg,#440154 0px,#440255 23.8px,#46085b 29.5px,#470d60 31.8px,#482172 36px,#463480 39.5px,#404587 41px,#2f6b8e 43.8px,#297b8e 45.2px,#21908c 48.2px,#1fa287 49.8px,#28ae80 50.5px,#34b779 51px,#46c070 51.5px,#67cc5c 52.2px,#8ed645 53px,#c0df25 54px,#d5e21a 54.5px,#e6e419 55px,#f2e61d 55.5px,#fae722 56px,#fde725 56.8px,#fae722 57.2px,#f1e51d 57.8px,#e4e419 58.2px,#d2e21b 58.8px,#bcdf27 59.2px,#86d44a 60.2px,#5cc963 61px,#44bf71 61.5px,#30b47c 62px,#28ae80 62.2px,#20a387 62.8px,#1f988b 63.2px,#297a8e 64.8px,#34618d 66.5px,#3b518b 68.2px,#3e4b8a 70.2px,#3c508b 75.2px,#3e4b8a 80.5px,#3c4f8b 82px,#38588c 83.2px,#30698e 84.8px,#287d8e 86px,#1e9b8a 87.5px,#21a685 88px,#26ac81 88.2px,#2cb27d 88.5px,#3fbd73 89px,#57c766 89.5px,#80d34d 90.2px,#b7de2a 91.2px,#cee11d 91.8px,#e1e318 92.2px,#efe51c 92.8px,#f8e621 93.2px,#fde725 94px,#fbe723 94.5px,#f4e61e 95px,#e1e318 95.8px,#cfe11d 96.2px,#b9de29 96.8px,#86d44a 97.8px,#60ca61 98.5px,#40bd73 99.2px,#2ab07f 100px,#22a784 100.5px,#1fa088 101px,#20948c 102px,#228b8d 103px,#287b8e 105.2px,#30698e 107px,#414387 109.8px,#46337f 111.2px,#482072 114.8px,#470c5f 119px,#46085b 121.2px,#440255 126.8px,#440154 151px)"></i><i style="background:linear-gradient(180deg,#440154 0px,#440255 24.2px,#46075b 30.2px,#460c5f 32.5px,#482978 38.8px,#46317e 40px,#424186 41.5px,#32658e 44px,#2b758e 45.5px,#228d8d 48.8px,#1fa187 50.2px,#28ae80 51px,#3dbc74 51.8px,#5dc962 52.5px,#84d44b 53.2px,#b8de2a 54.2px,#cee11d 54.8px,#e1e318 55.2px,#f4e61e 56px,#fbe723 56.5px,#fde725 57px,#fbe723 57.5px,#f3e61e 58px,#e6e419 58.5px,#d4e21b 59px,#bddf26 59.5px,#86d44a 60.5px,#5bc863 61.2px,#43be71 61.8px,#2fb37c 62.2px,#28ae80 62.5px,#22a884 62.8px,#1e9d89 63.2px,#277e8e 64.8px,#306a8e 66px,#38588c 67.5px,#3c508b 68.8px,#3d4d8a 70.5px,#3b518b 75.8px,#3d4d8a 80.2px,#3b518b 82px,#355f8d 83.8px,#2a788e 85.5px,#1f958b 87px,#1fa088 87.5px,#25ab82 88px,#2cb17e 88.2px,#3ebc74 88.8px,#56c666 89.2px,#8ed644 90.2px,#b8de29 91px,#d0e11c 91.5px,#e3e418 92px,#f1e51d 92.5px,#f9e722 93px,#fde725 93.5px,#fce724 94px,#f6e620 94.5px,#e4e419 95.2px,#d2e21b 95.8px,#bcdf27 96.2px,#89d548 97.2px,#62cb5f 98px,#41be72 98.8px,#2ab07f 99.5px,#22a785 100px,#1f9f88 100.5px,#228c8d 102px,#2b768e 105px,#31668e 106.5px,#3d4d8a 108.2px,#433c84 109.5px,#46327e 110.5px,#482878 112px,#460b5e 118.2px,#46075a 120.5px,#440255 126.2px,#440154 151px)"></i><i style="background:linear-gradient(180deg,#440154 0px,#440255 25.2px,#46075a 31.2px,#460b5e 33.2px,#482676 39.2px,#472d7c 40.5px,#443a83 41.8px,#3d4c8a 43px,#33628d 44.5px,#2c728e 46px,#24888e 49px,#21918c 49.8px,#1fa088 50.8px,#28ae80 51.5px,#3ebc73 52.2px,#60ca61 53px,#87d549 53.8px,#bcdf27 54.8px,#d2e21b 55.2px,#e4e419 55.8px,#f1e51d 56.2px,#fae722 56.8px,#fde725 57.2px,#fbe723 57.8px,#f4e61f 58.2px,#e8e419 58.8px,#d6e21a 59.2px,#bedf25 59.8px,#86d44a 60.8px,#5bc864 61.5px,#42be72 62px,#2eb37c 62.5px,#27ad81 62.8px,#1fa287 63.2px,#1f978b 63.8px,#29798e 65.2px,#34608d 67px,#3a538b 68.5px,#3c4e8a 70.2px,#3a538b 75px,#3c4e8a 80px,#3b518b 81.8px,#375a8c 83px,#30688e 84.2px,#25858e 86px,#1f958c 86.8px,#1fa088 87.2px,#25ab82 87.8px,#2bb17e 88px,#3dbc74 88.5px,#63cb5f 89.2px,#8ed644 90px,#b9de29 90.8px,#d1e11c 91.2px,#e5e419 91.8px,#f2e61d 92.2px,#fae723 92.8px,#fde725 93.2px,#fbe723 93.8px,#f4e61e 94.2px,#e7e419 94.8px,#d6e21a 95.2px,#c0df24 95.8px,#8dd645 96.8px,#65cb5e 97.5px,#42be71 98.2px,#2ab07f 99px,#25ab82 99.2px,#1fa287 99.8px,#1f998a 100.2px,#23898e 101.5px,#2d708e 104.8px,#33638d 106px,#3e4a89 107.8px,#443982 109px,#472e7c 110px,#482676 111.2px,#460a5d 117.5px,#45065a 119.5px,#440255 125.5px,#440154 151px)"></i><i style="background:linear-gradient(180deg,#440154 0px,#440255 26px,#450659 32px,#460a5d 34px,#482474 40px,#472c7b 41.2px,#453782 42.2px,#404588 43.2px,#355e8d 45px,#2f6c8e 46.2px,#26828e 49.2px,#218e8d 50.2px,#1f9f88 51.2px,#23a984 51.8px,#27ae80 52px,#2eb37d 52.2px,#40bd73 52.8px,#63cb5f 53.5px,#8cd646 54.2px,#c0df24 55.2px,#d6e21a 55.8px,#e8e419 56.2px,#f4e61e 56.8px,#fbe723 57.2px,#fde725 57.8px,#fae722 58.2px,#f0e51c 58.8px,#e1e318 59.2px,#cce11e 59.8px,#b2dd2d 60.2px,#86d549 61px,#5bc864 61.8px,#41be72 62.2px,#2eb37d 62.8px,#27ad81 63px,#1fa287 63.5px,#1f968b 64px,#287d8e 65.2px,#33638d 67px,#39558c 68.5px,#3c508b 70.2px,#39558c 75px,#3c508b 80px,#3a538b 81.8px,#365c8d 83px,#2f6b8e 84.2px,#238a8d 86px,#1f9f88 87px,#24ab82 87.5px,#2bb07e 87.8px,#3dbc74 88.2px,#63cb5f 89px,#8fd744 89.8px,#bbde28 90.5px,#d3e21b 91px,#e6e419 91.5px,#f4e61e 92px,#fbe723 92.5px,#fde725 93px,#fae722 93.5px,#f1e51d 94px,#e3e418 94.5px,#d0e11c 95px,#b9de29 95.5px,#91d742 96.2px,#5bc863 97.2px,#44bf71 97.8px,#2ab07f 98.5px,#24ab82 98.8px,#1fa188 99.2px,#21908d 100.2px,#25838e 101.2px,#2e6d8e 104.2px,#34608d 105.5px,#404788 107.2px,#453580 108.5px,#472b7a 109.5px,#482374 110.8px,#46095d 116.8px,#450659 118.8px,#440255 124.8px,#440154 151px)"></i><i style="background:linear-gradient(180deg,#440154 0px,#440255 26.8px,#46085c 34.5px,#481f71 40.2px,#482978 41.8px,#463480 42.8px,#404688 44px,#375b8d 45.5px,#30688e 46.8px,#277f8e 49.8px,#228c8d 50.8px,#1f9e89 51.8px,#22a884 52.2px,#27ad81 52.5px,#2eb37d 52.8px,#41bd72 53.2px,#59c765 53.8px,#90d743 54.8px,#bade28 55.5px,#d1e11b 56px,#e5e419 56.5px,#f2e61d 57px,#fbe723 57.5px,#fde725 58px,#fae723 58.5px,#f2e61d 59px,#e3e418 59.5px,#cee11d 60px,#b4dd2c 60.5px,#88d548 61.2px,#5bc863 62px,#42be72 62.5px,#2eb37d 63px,#27ad81 63.2px,#22a784 63.5px,#1e9c8a 64px,#26828e 65.2px,#2f6c8e 66.5px,#355d8d 67.8px,#3a548c 69px,#3b528b 70.8px,#38588c 75.5px,#3b528b 80.2px,#39578c 82px,#32648e 83.5px,#2c738e 84.5px,#23898d 85.8px,#1f998a 86.5px,#20a586 87px,#2bb07e 87.5px,#33b67a 87.8px,#49c16e 88.2px,#64cb5e 88.8px,#91d743 89.5px,#bcdf27 90.2px,#d5e21a 90.8px,#dfe318 91px,#efe51c 91.5px,#f9e622 92px,#fde725 92.5px,#fce723 93px,#f4e61f 93.5px,#e8e419 94px,#d6e21a 94.5px,#bfdf25 95px,#88d548 96px,#5ec962 96.8px,#45bf70 97.2px,#31b57b 97.8px,#2ab07f 98px,#24aa83 98.2px,#1fa088 98.8px,#218e8d 99.8px,#26808e 100.8px,#30698e 103.8px,#365c8d 105px,#414387 106.8px,#482a79 108.8px,#482071 110.2px,#46085c 116px,#450559 118px,#440255 124px,#440154 151px)"></i><i style="background:linear-gradient(180deg,#440154 0px,#440254 27.5px,#450558 33.5px,#46085c 35.5px,#481d6f 41px,#482676 42.2px,#46307e 43.2px,#414287 44.5px,#38578c 46px,#33628d 47px,#287d8e 50.2px,#238a8d 51.2px,#1e9d89 52.2px,#22a884 52.8px,#27ad81 53px,#2eb37d 53.2px,#42be72 53.8px,#5bc864 54.2px,#87d549 55px,#c0df24 56px,#d8e219 56.5px,#eae51a 57px,#f6e620 57.5px,#fde725 58.2px,#fbe723 58.8px,#f2e61e 59.2px,#e4e419 59.8px,#d0e11c 60.2px,#b6de2b 60.8px,#89d547 61.5px,#5dc962 62.2px,#43be71 62.8px,#2eb37c 63.2px,#27ad81 63.5px,#1fa187 64px,#1f968b 64.5px,#287c8e 65.8px,#32658e 67.2px,#38588c 68.8px,#3a538b 70.5px,#375a8d 75px,#3a538b 79.8px,#39568c 81.5px,#355f8d 82.8px,#2e6e8e 84px,#23898e 85.5px,#1f9f88 86.5px,#25ab82 87px,#2bb17e 87.2px,#3ebc74 87.8px,#57c766 88.2px,#83d44b 89px,#bedf25 90px,#d6e21a 90.5px,#e0e318 90.8px,#f0e51c 91.2px,#fae722 91.8px,#fde725 92.2px,#fbe723 92.8px,#f3e61e 93.2px,#e5e419 93.8px,#d1e11c 94.2px,#b8de29 94.8px,#8dd645 95.5px,#60ca60 96.2px,#3bbb75 97px,#2aaf7f 97.5px,#24aa83 97.8px,#1f9f88 98.2px,#24888e 99.5px,#297b8e 100.5px,#33638d 103.5px,#38588c 104.5px,#414487 106px,#46327e 107.2px,#482677 108.2px,#481d6f 109.8px,#46085b 115.2px,#450558 117px,#440255 123px,#440154 151px)"></i><i style="background:linear-gradient(180deg,#440154 0px,#440254 28.5px,#450458 34.5px,#46075b 36.2px,#481a6c 41.5px,#482273 42.8px,#472d7c 43.8px,#423f85 45px,#39568c 46.8px,#2d6f8e 49.8px,#297a8e 50.8px,#23898e 51.8px,#1f978b 52.5px,#1fa287 53px,#27ad81 53.5px,#2eb37d 53.8px,#43be71 54.2px,#5dc962 54.8px,#8bd646 55.5px,#b9de29 56.2px,#d3e21b 56.8px,#dee318 57px,#efe51c 57.5px,#f9e622 58px,#fde725 58.5px,#fbe723 59px,#f3e61e 59.5px,#e5e419 60px,#d1e11c 60.5px,#b8de2a 61px,#8bd646 61.8px,#5fc961 62.5px,#44bf70 63px,#2fb37c 63.5px,#27ad81 63.8px,#1fa187 64.2px,#1f968b 64.8px,#26808e 65.8px,#30688e 67.2px,#375a8d 68.8px,#39558c 70.5px,#365d8d 75.2px,#39568c 79.5px,#38598c 81.5px,#33628d 82.8px,#2e6e8e 83.8px,#25838e 85px,#1f9f88 86.2px,#25ab82 86.8px,#2bb17e 87px,#3fbd73 87.5px,#59c765 88px,#85d44a 88.8px,#b2dd2d 89.5px,#cce11e 90px,#e1e318 90.5px,#f1e51d 91px,#fae722 91.5px,#fde725 92px,#fae723 92.5px,#f1e51d 93px,#e2e418 93.5px,#d7e219 93.8px,#bfdf25 94.2px,#92d742 95px,#55c667 96px,#3cbb75 96.5px,#29af7f 97px,#24aa83 97.2px,#1f9e89 97.8px,#24868e 99px,#2a788e 100px,#39558c 104px,#424086 105.5px,#472e7c 106.8px,#482374 107.8px,#481a6c 109.2px,#46075a 114.5px,#450457 116.2px,#440254 122.2px,#440154 151px)"></i><i style="background:linear-gradient(180deg,#440154 0px,#440154 29.2px,#450457 35.2px,#46075a 37px,#48176a 42px,#482172 43.5px,#443b84 45.5px,#3b528b 47.2px,#30698e 50px,#2c748e 51px,#24878e 52.2px,#1f968b 53px,#1fa187 53.5px,#27ad81 54px,#2eb37c 54.2px,#44bf70 54.8px,#60ca60 55.2px,#91d743 56px,#b1dd2e 56.5px,#cde11d 57px,#d9e219 57.2px,#e4e418 57.5px,#f3e61e 58px,#fbe723 58.5px,#fde725 59px,#f4e61e 59.8px,#e6e419 60.2px,#d2e21b 60.8px,#b9de28 61.2px,#8ed645 62px,#61ca60 62.8px,#45c070 63.2px,#30b47c 63.8px,#28ae80 64px,#1fa187 64.5px,#1f958b 65px,#27808e 66px,#30688e 67.5px,#365c8d 69px,#38578c 70.8px,#34608d 75.2px,#38588c 79.5px,#365b8d 81.5px,#32648e 82.8px,#2d718e 83.8px,#25838e 84.8px,#1f9f88 86px,#25ab82 86.5px,#2cb17e 86.8px,#41bd72 87.2px,#5bc864 87.8px,#88d549 88.5px,#b4dd2c 89.2px,#cee11d 89.8px,#e3e418 90.2px,#f2e61d 90.8px,#fbe723 91.2px,#fde725 91.8px,#fae722 92.2px,#efe51c 92.8px,#dee318 93.2px,#d2e21b 93.5px,#b7de2a 94px,#87d549 94.8px,#57c766 95.5px,#3dbb74 96px,#29af7f 96.5px,#23a983 96.8px,#1f9d89 97.2px,#25848e 98.5px,#2c728e 99.8px,#3b518b 103.5px,#433d84 105px,#472b7a 106.2px,#482071 107.2px,#48186a 108.5px,#45065a 113.8px,#450457 115.5px,#440254 121.2px,#440154 151px)"></i><i style="background:linear-gradient(180deg,#440154 0px,#440154 30px,#450357 36px,#45065a 37.8px,#481567 42.5px,#481e70 44px,#443b84 46.2px,#3c4e8a 47.8px,#33638d 50.2px,#2d708e 51.5px,#25858e 52.8px,#1f948c 53.5px,#1fa088 54px,#27ad81 54.5px,#2fb37c 54.8px,#46c06f 55.2px,#64cb5e 55.8px,#85d44a 56.2px,#b7de2a 57px,#d3e21b 57.5px,#dfe318 57.8px,#f0e51c 58.2px,#fae723 58.8px,#fde725 59.2px,#fce724 59.5px,#f5e61f 60px,#e8e419 60.5px,#d4e21a 61px,#bcdf27 61.5px,#81d34d 62.5px,#54c667 63.2px,#3bba76 63.8px,#28ae80 64.2px,#22a884 64.5px,#1e9b8a 65px,#25858e 66px,#2c738e 67px,#31668e 68px,#365d8d 69.2px,#375a8c 71px,#33628d 75.5px,#375a8c 80px,#355d8d 81.5px,#2f6a8e 83px,#26838e 84.5px,#1f998a 85.5px,#21a585 86px,#2db27d 86.5px,#42be72 87px,#5dc963 87.5px,#8ad547 88.2px,#b6de2a 89px,#d0e11c 89.5px,#e4e419 90px,#f3e61e 90.5px,#fbe723 91px,#fde725 91.2px,#fce723 91.8px,#f3e61e 92.2px,#e3e418 92.8px,#d8e219 93px,#bddf26 93.5px,#8cd646 94.2px,#5ac864 95px,#3ebc74 95.5px,#2aaf7f 96px,#23a983 96.2px,#1e9d89 96.8px,#26828e 98px,#2e6f8e 99.2px,#32648e 100.2px,#3d4d8a 103px,#443983 104.5px,#481f71 106.5px,#481567 108px,#46075a 112.8px,#450356 114.8px,#440154 120.5px,#440154 151px)"></i><i style="background:linear-gradient(180deg,#440154 0px,#450356 36.2px,#450559 38.2px,#471164 42.8px,#481568 43.8px,#481d6f 44.8px,#463480 46.5px,#424186 47.5px,#3b518b 49px,#31678e 51.5px,#287e8e 53px,#20938c 54px,#1fa088 54.5px,#27ad81 55px,#3bbb75 55.5px,#58c765 56px,#8bd646 56.8px,#aedc30 57.2px,#cce11e 57.8px,#d9e219 58px,#ede51b 58.5px,#f9e621 59px,#fde725 59.5px,#fbe723 60px,#f2e61d 60.5px,#e2e418 61px,#d8e219 61.2px,#cde11e 61.5px,#b2dd2d 62px,#84d44b 62.8px,#56c666 63.5px,#3bbb75 64px,#28ae80 64.5px,#1fa287 65px,#1f958b 65.5px,#27808e 66.5px,#2f6c8e 67.8px,#34608d 69px,#365c8d 70.5px,#32658e 75.2px,#365c8d 79.5px,#355f8d 81.2px,#32668e 82.2px,#2c718e 83.2px,#26838e 84.2px,#1f9f88 85.5px,#26ac82 86px,#2db27d 86.2px,#43be71 86.8px,#5ec961 87.2px,#8dd645 88px,#bade28 88.8px,#d4e21b 89.2px,#e8e419 89.8px,#f5e61f 90.2px,#fce724 90.8px,#fde725 91px,#fae722 91.5px,#f0e51c 92px,#dde318 92.5px,#d1e11b 92.8px,#b4dd2c 93.2px,#81d34d 94px,#5fc961 94.5px,#40bd72 95px,#2ab07f 95.5px,#23a983 95.8px,#1e9c89 96.2px,#27808e 97.5px,#2f6b8e 98.8px,#34608d 99.8px,#3f4889 102.5px,#453581 104px,#481f70 105.8px,#481668 106.8px,#471264 107.8px,#450558 112.5px,#450356 114.2px,#440154 151px)"></i><i style="background:linear-gradient(180deg,#440154 0px,#440255 37px,#450458 38.8px,#470f62 43.5px,#481b6d 45.2px,#46307e 47px,#433d85 48px,#3d4c8a 49.5px,#33638d 52px,#297b8e 53.5px,#228c8d 54.2px,#1fa088 55px,#22a785 55.2px,#28ae80 55.5px,#3ebc74 56px,#5dc962 56.5px,#80d34d 57px,#b5de2b 57.8px,#d2e21b 58.2px,#dee318 58.5px,#f0e51c 59px,#fae722 59.5px,#fde725 60px,#fce724 60.2px,#f5e61f 60.8px,#e7e419 61.2px,#dde318 61.5px,#d2e21b 61.8px,#b7de2a 62.2px,#88d549 63px,#58c765 63.8px,#3cbb75 64.2px,#28af80 64.8px,#22a884 65px,#1e9c8a 65.5px,#25858e 66.5px,#2c748e 67.5px,#31678e 68.5px,#34608d 69.5px,#355e8d 71px,#31678e 73.8px,#30688e 75.5px,#355e8d 80.2px,#33638d 81.5px,#2e6f8e 82.8px,#25838e 84px,#1f998a 85px,#21a685 85.5px,#2db27d 86px,#44bf70 86.5px,#61ca60 87px,#81d34d 87.5px,#b1dd2e 88.2px,#cde11d 88.8px,#d9e219 89px,#e3e418 89.2px,#f3e61e 89.8px,#fbe723 90.2px,#fde725 90.5px,#fbe723 91px,#f3e61e 91.5px,#e2e418 92px,#d7e21a 92.2px,#cae11f 92.5px,#bbde27 92.8px,#88d548 93.5px,#53c568 94.2px,#36b878 94.8px,#2bb17e 95px,#24aa83 95.2px,#1e9c8a 95.8px,#23888e 96.5px,#2a788e 97.2px,#34618d 98.8px,#3d4d8a 101px,#433e85 102.5px,#46327e 103.5px,#481c6d 105.2px,#481366 106.2px,#470f62 107.2px,#440255 113.5px,#440154 151px)"></i><i style="background:linear-gradient(180deg,#440154 0px,#440255 37.8px,#470d60 44px,#48186a 45.8px,#472d7b 47.5px,#443c84 48.8px,#355f8d 52.5px,#2a788e 54px,#238a8d 54.8px,#1fa088 55.5px,#22a784 55.8px,#29af80 56px,#41be72 56.5px,#62cb5f 57px,#87d549 57.5px,#bcdf27 58.2px,#cbe11f 58.5px,#d8e219 58.8px,#e3e418 59px,#f3e61e 59.5px,#fbe723 60px,#fde725 60.5px,#f8e621 61px,#ebe51a 61.5px,#d8e219 62px,#cbe11e 62.2px,#aedc30 62.8px,#8cd646 63.2px,#5ac864 64px,#3dbc74 64.5px,#29af80 65px,#1fa287 65.5px,#1f968b 66px,#24868e 66.8px,#2d718e 68px,#32648e 69.2px,#34618d 70.5px,#306a8e 73.8px,#2f6c8e 75.2px,#2f6a8e 76.8px,#34618d 79.8px,#33638d 81px,#306a8e 82px,#2a778e 83px,#23898e 84px,#1f9f88 85px,#26ac81 85.5px,#2eb37d 85.8px,#45bf70 86.2px,#63cb5f 86.8px,#85d44a 87.2px,#b7de2a 88px,#d3e21b 88.5px,#dee318 88.8px,#f0e51c 89.2px,#fae722 89.8px,#fde725 90.2px,#fae722 90.8px,#efe51c 91.2px,#dce319 91.8px,#d0e11c 92px,#b2dd2d 92.5px,#7cd250 93.2px,#58c765 93.8px,#39b977 94.2px,#2db27d 94.5px,#24aa83 94.8px,#20a387 95px,#1e9b8a 95.2px,#24868e 96px,#2b758e 96.8px,#355d8d 98.2px,#3f4889 100.5px,#443a83 102px,#472e7c 103px,#48196b 104.8px,#470d60 106.5px,#440255 112.8px,#440154 151px)"></i><i style="background:linear-gradient(180deg,#440154 0px,#440255 38.5px,#460b5e 44.8px,#481567 46.2px,#482978 48px,#453782 49.2px,#3c4f8b 52px,#365b8d 53px,#31678e 53.8px,#2b768e 54.5px,#21908c 55.5px,#1f9f88 56px,#22a784 56.2px,#29af7f 56.5px,#43bf71 57px,#67cc5d 57.5px,#8dd645 58px,#b1dd2e 58.5px,#d0e11c 59px,#dce319 59.2px,#efe51c 59.8px,#fae722 60.2px,#fde725 60.8px,#fae722 61.2px,#efe51c 61.8px,#dce319 62.2px,#d0e11c 62.5px,#b2dd2d 63px,#90d743 63.5px,#5cc963 64.2px,#3fbc73 64.8px,#2aaf7f 65.2px,#23a983 65.5px,#1e9c89 66px,#24868e 67px,#2b758e 68px,#306a8e 69px,#32658e 69.8px,#32648e 71px,#2e6e8e 73.8px,#2d708e 75.2px,#2e6f8e 76.5px,#32658e 79.2px,#33638d 80.2px,#30698e 81.5px,#2c748e 82.5px,#25848e 83.5px,#20948c 84.2px,#1fa088 84.8px,#27ad81 85.2px,#2fb37c 85.5px,#47c06f 86px,#66cc5d 86.5px,#89d548 87px,#bcdf27 87.8px,#cae11f 88px,#d7e21a 88.2px,#e2e418 88.5px,#f3e61e 89px,#f8e621 89.2px,#fde725 89.8px,#fbe723 90.2px,#f2e61d 90.8px,#e1e318 91.2px,#d5e21a 91.5px,#b8de29 92px,#81d34d 92.8px,#5bc863 93.2px,#3aba76 93.8px,#2eb27d 94px,#24ab82 94.2px,#20a387 94.5px,#1e9b8a 94.8px,#228c8d 95.2px,#2c738e 96.2px,#32648e 97px,#37598c 97.8px,#414387 100px,#453681 101.5px,#472a79 102.5px,#481668 104.2px,#460b5e 106px,#440255 112.2px,#440154 151px)"></i><i style="background:linear-gradient(180deg,#440154 0px,#440254 39px,#46095c 45.2px,#471264 46.8px,#46337f 49.8px,#3f4889 52.2px,#3a538b 53.2px,#355e8d 54px,#2e6d8e 54.8px,#24888e 55.8px,#1f9f88 56.5px,#22a784 56.8px,#2ab07f 57px,#36b878 57.2px,#56c666 57.8px,#7cd250 58.2px,#b5dd2b 59px,#d3e21b 59.5px,#e0e318 59.8px,#f2e61d 60.2px,#f8e621 60.5px,#fde725 61px,#fbe723 61.5px,#f1e51d 62px,#dee318 62.5px,#d2e21b 62.8px,#b5dd2b 63.2px,#92d742 63.8px,#5ec962 64.5px,#40bd72 65px,#2ab07f 65.5px,#20a387 66px,#1f978b 66.5px,#24868e 67.2px,#2b758e 68.2px,#2f6b8e 69.2px,#31668e 70.5px,#2b758e 75.2px,#2c738e 76.5px,#31678e 79.5px,#31688e 80.8px,#2e6e8e 81.8px,#2a778e 82.5px,#23898d 83.5px,#1fa088 84.5px,#27ae80 85px,#3bbb75 85.5px,#58c765 86px,#8bd646 86.8px,#aedc30 87.2px,#cde11d 87.8px,#dae319 88px,#eee51b 88.5px,#f9e722 89px,#fde725 89.5px,#f9e722 90px,#ede51b 90.5px,#d9e219 91px,#cbe11e 91.2px,#aadc32 91.8px,#84d44b 92.2px,#5ec962 92.8px,#3cbb75 93.2px,#2eb37c 93.5px,#25ab82 93.8px,#20a287 94px,#1f9a8a 94.2px,#238b8d 94.8px,#2d708e 95.8px,#34608d 96.5px,#3a548c 97.2px,#3f4989 98.2px,#463480 100.8px,#482979 101.8px,#471365 103.8px,#46095d 105.2px,#440254 111.5px,#440154 151px)"></i><i style="background:linear-gradient(180deg,#440154 0px,#440154 39.8px,#46085b 46px,#471164 47.5px,#46307e 50.5px,#414387 52.8px,#3d4e8a 53.8px,#375a8c 54.5px,#306a8e 55.2px,#24868e 56.2px,#1f9f88 57px,#22a784 57.2px,#2ab07f 57.5px,#36b878 57.8px,#58c765 58.2px,#7ed34e 58.8px,#b7de2a 59.5px,#c8e020 59.8px,#d7e21a 60px,#e3e418 60.2px,#f4e61f 60.8px,#fae722 61px,#fde725 61.5px,#fce724 61.8px,#f2e61d 62.2px,#e0e318 62.8px,#d4e21b 63px,#b6de2a 63.5px,#83d44c 64.2px,#60ca60 64.8px,#42be71 65.2px,#2cb17e 65.8px,#24aa83 66px,#1e9d89 66.5px,#24868e 67.5px,#29798e 68.2px,#2d708e 69px,#2f6b8e 69.8px,#2f6b8e 71.2px,#2a778e 74.2px,#29798e 75.2px,#2a788e 76.2px,#2f6d8e 78.8px,#306a8e 80px,#2f6c8e 81px,#2b748e 82px,#25848e 83px,#1f958c 83.8px,#1fa187 84.2px,#28ae80 84.8px,#3dbc74 85.2px,#5ac864 85.8px,#8dd645 86.5px,#c0df24 87.2px,#cee11d 87.5px,#dbe319 87.8px,#e6e419 88px,#f6e620 88.5px,#fde724 89px,#fde725 89.2px,#f7e620 89.8px,#f0e51c 90px,#dce319 90.5px,#cee11d 90.8px,#addc31 91.2px,#86d549 91.8px,#5fc961 92.2px,#3cbb75 92.8px,#2fb37c 93px,#25ab82 93.2px,#1fa287 93.5px,#1f9a8a 93.8px,#26828e 94.5px,#31678e 95.5px,#38578c 96.2px,#3d4c8a 97px,#472f7d 100.2px,#471063 103.2px,#46075b 104.8px,#440154 110.8px,#440154 151px)"></i><i style="background:linear-gradient(180deg,#440154 0px,#440154 40.5px,#450659 46.5px,#470f61 48px,#482777 50.5px,#433d85 53.2px,#3f4989 54.2px,#39568c 55px,#31678e 55.8px,#25858e 56.8px,#1f9f88 57.5px,#22a784 57.8px,#2ab07f 58px,#37b977 58.2px,#5ac864 58.8px,#82d34c 59.2px,#aadc33 59.8px,#cde11e 60.2px,#dbe319 60.5px,#f0e51c 61px,#f7e620 61.2px,#fde725 61.8px,#fde724 62px,#f5e61f 62.5px,#e3e418 63px,#d7e219 63.2px,#cae01f 63.5px,#bade28 63.8px,#86d549 64.5px,#64cb5f 65px,#45bf70 65.5px,#2db27d 66px,#20a586 66.5px,#1f988b 67px,#24878e 67.8px,#297a8e 68.5px,#2d708e 69.5px,#2e6d8e 70.5px,#2d708e 71.8px,#287c8e 74.2px,#277e8e 75.2px,#287c8e 76.5px,#2e6e8e 79.2px,#2e6e8e 80.8px,#2c738e 81.5px,#287c8e 82.2px,#238a8d 83px,#1e9b8a 83.8px,#23a984 84.2px,#29af7f 84.5px,#3fbd73 85px,#5dc962 85.5px,#91d743 86.2px,#b4dd2c 86.8px,#d2e21b 87.2px,#dfe318 87.5px,#f2e61d 88px,#fce724 88.5px,#fde725 88.8px,#f9e622 89.2px,#f3e61e 89.5px,#e0e318 90px,#d3e21b 90.2px,#c3e023 90.5px,#b1dd2e 90.8px,#8ad547 91.2px,#61ca60 91.8px,#3dbc74 92.2px,#2fb47c 92.5px,#25ab82 92.8px,#1fa287 93px,#1f998a 93.2px,#27808e 94px,#33638d 95px,#3a538b 95.8px,#404688 96.5px,#433e85 97.2px,#472d7b 99.5px,#470f62 102.5px,#45065a 104px,#440154 110px,#440154 151px)"></i><i style="background:linear-gradient(180deg,#440154 0px,#440154 41.2px,#450559 47.2px,#460c5f 48.5px,#482878 51.5px,#453681 53.5px,#424086 54.5px,#3d4c8a 55.2px,#32648e 56.2px,#25838e 57.2px,#1f9e89 58px,#22a784 58.2px,#2bb07e 58.5px,#39b977 58.8px,#5dc962 59.2px,#88d548 59.8px,#b1dd2e 60.2px,#c4e022 60.5px,#d4e21b 60.8px,#e1e318 61px,#f4e61e 61.5px,#fae722 61.8px,#fde725 62.2px,#fbe723 62.5px,#f1e51d 63px,#dde318 63.5px,#d0e11c 63.8px,#b1dd2e 64.2px,#8dd645 64.8px,#58c765 65.5px,#3aba76 66px,#26ac81 66.5px,#1f9f88 67px,#228d8d 67.8px,#277f8e 68.5px,#2b768e 69.2px,#2d718e 70px,#2d718e 71.2px,#27808e 73.8px,#25848e 75.2px,#26818e 76.5px,#2c738e 79px,#2d708e 80px,#2c738e 81px,#277e8e 82px,#1f968b 83.2px,#20a387 83.8px,#24aa83 84px,#2bb07e 84.2px,#42be71 84.8px,#62ca5f 85.2px,#86d44a 85.8px,#bbde27 86.5px,#cbe11e 86.8px,#d9e219 87px,#e4e419 87.2px,#f5e61f 87.8px,#fde724 88.2px,#fde725 88.5px,#f7e620 89px,#f0e51c 89.2px,#e6e419 89.5px,#dae319 89.8px,#cae11f 90px,#a5db35 90.5px,#7bd250 91px,#51c569 91.5px,#3fbd73 91.8px,#30b47c 92px,#25ab82 92.2px,#1fa287 92.5px,#1f988b 92.8px,#24878e 93.2px,#34608d 94.5px,#3c4e8a 95.2px,#424186 96px,#453781 97px,#482978 99px,#470d60 102px,#450559 103.2px,#440154 109.5px,#440154 151px)"></i><i style="background:linear-gradient(180deg,#440154 0px,#440154 41.8px,#450558 48px,#460b5e 49.2px,#482071 51.5px,#46307e 54px,#443a83 55px,#3f4889 55.8px,#375a8d 56.5px,#26828e 57.8px,#1f9d89 58.5px,#22a784 58.8px,#2bb17e 59px,#3aba76 59.2px,#4cc36c 59.5px,#78d152 60px,#a5db36 60.5px,#cbe11e 61px,#dbe319 61.2px,#e7e419 61.5px,#f1e51d 61.8px,#f8e621 62px,#fde725 62.5px,#fde724 62.8px,#f4e61f 63.2px,#e3e418 63.8px,#d7e219 64px,#c9e01f 64.2px,#b9de28 64.5px,#82d44c 65.2px,#5dc962 65.8px,#3dbc74 66.2px,#27ad81 66.8px,#21a785 67px,#1fa088 67.2px,#218e8d 68px,#26818e 68.8px,#2a798e 69.5px,#2b748e 70.2px,#2b758e 71.2px,#24868e 73.8px,#238a8d 75.2px,#24888e 76.5px,#2a778e 79px,#2b748e 80px,#2a788e 81px,#27808e 81.8px,#1f978b 83px,#20a486 83.5px,#25ab82 83.8px,#2cb27d 84px,#46c06f 84.5px,#68cc5c 85px,#8ed645 85.5px,#b3dd2d 86px,#d2e21b 86.5px,#dfe318 86.8px,#f2e61d 87.2px,#fce723 87.8px,#fde725 88px,#f9e722 88.5px,#f4e61e 88.8px,#e0e318 89.2px,#d2e21b 89.5px,#c1df24 89.8px,#addc30 90px,#81d34d 90.5px,#55c667 91px,#41bd72 91.2px,#30b47b 91.5px,#25ab82 91.8px,#1fa187 92px,#1f988b 92.2px,#25858e 92.8px,#355d8d 94px,#3e4a89 94.8px,#433c84 95.5px,#46317e 96.5px,#482072 99px,#460c5f 101.2px,#450558 102.5px,#440154 108.8px,#440154 151px)"></i><i style="background:linear-gradient(180deg,#440154 0px,#440154 42.5px,#450457 48.8px,#46095c 49.8px,#481e6f 52.2px,#472b7a 54.5px,#453580 55.5px,#414387 56.2px,#39568c 57px,#27808e 58.2px,#1e9d89 59px,#22a784 59.2px,#2cb17e 59.5px,#3bbb75 59.8px,#4fc36a 60px,#7bd250 60.5px,#a9dc33 61px,#bddf26 61.2px,#cfe11c 61.5px,#dee318 61.8px,#f3e61e 62.2px,#f9e622 62.5px,#fde725 63px,#fce723 63.2px,#f1e51d 63.8px,#dde318 64.2px,#cfe11d 64.5px,#bfdf25 64.8px,#87d549 65.5px,#61ca60 66px,#40bd73 66.5px,#29af80 67px,#22a884 67.2px,#1e9b8a 67.8px,#238b8d 68.5px,#26838e 69px,#287d8e 69.5px,#2a788e 70.2px,#297a8e 71.2px,#228e8d 74px,#20928c 75.2px,#218e8d 76.5px,#297a8e 79.2px,#2a788e 80.2px,#287c8e 81px,#25858e 81.8px,#1f998a 82.8px,#21a585 83.2px,#26ac81 83.5px,#2fb37c 83.8px,#49c16e 84.2px,#6cce5a 84.8px,#92d742 85.2px,#b8de29 85.8px,#c9e01f 86px,#d7e219 86.2px,#e4e418 86.5px,#f5e61f 87px,#fde724 87.5px,#fde725 87.8px,#f6e61f 88.2px,#eee51b 88.5px,#e3e418 88.8px,#d5e21a 89px,#c5e022 89.2px,#b1dd2e 89.5px,#85d44a 90px,#43be71 90.8px,#31b57b 91px,#25ab82 91.2px,#1fa187 91.5px,#1f978b 91.8px,#25838e 92.2px,#37598c 93.5px,#404588 94.2px,#453781 95px,#472c7a 96px,#481e70 98.2px,#46095d 100.8px,#450458 101.8px,#440154 108px,#440154 151px)"></i><i style="background:linear-gradient(180deg,#440154 0px,#440154 43.2px,#450457 49.5px,#46085b 50.5px,#481a6c 52.8px,#482576 55px,#47307d 56px,#433e85 56.8px,#3b528b 57.5px,#287d8e 58.8px,#1e9c89 59.5px,#22a784 59.8px,#2cb27e 60px,#3dbb74 60.2px,#51c469 60.5px,#7ed34e 61px,#abdc32 61.5px,#bfdf25 61.8px,#d1e11c 62px,#dfe318 62.2px,#f4e61e 62.8px,#fae722 63px,#fde725 63.5px,#f5e61f 64px,#e2e418 64.5px,#d4e21b 64.8px,#c4e022 65px,#8ad647 65.8px,#64cb5e 66.2px,#43be71 66.8px,#2bb17e 67.2px,#24aa83 67.5px,#20a387 67.8px,#20918c 68.5px,#25848e 69.2px,#277f8e 69.8px,#287c8e 70.5px,#26818e 71.8px,#1f978b 74.2px,#1f9a8a 75.2px,#1f968b 76.5px,#277f8e 79.2px,#287d8e 80.5px,#24868e 81.5px,#218f8d 82px,#1fa088 82.8px,#28ae80 83.2px,#3dbc74 83.8px,#5dc962 84.2px,#83d44c 84.8px,#bddf26 85.5px,#cee11d 85.8px,#dde318 86px,#f2e61d 86.5px,#fde724 87px,#fde725 87.2px,#fbe723 87.5px,#efe51c 88px,#e4e419 88.2px,#d7e21a 88.5px,#c6e021 88.8px,#b3dd2c 89px,#87d549 89.5px,#44bf70 90.2px,#32b67a 90.5px,#25ab82 90.8px,#1fa188 91px,#1f968b 91.2px,#26818e 91.8px,#39558c 93px,#424086 93.8px,#46317e 94.5px,#482676 95.5px,#481b6d 97.8px,#46095c 100px,#450457 101px,#440154 107.2px,#440154 151px)"></i><i style="background:linear-gradient(180deg,#440154 0px,#440154 44px,#450356 50.2px,#46085b 51.2px,#481668 53.2px,#482072 55.5px,#472a79 56.5px,#453882 57.2px,#3d4d8a 58px,#287c8e 59.2px,#1e9c8a 60px,#21a785 60.2px,#2cb17e 60.5px,#3dbb74 60.8px,#52c569 61px,#81d34d 61.5px,#b0dd2f 62px,#c4e022 62.2px,#d6e21a 62.5px,#e4e419 62.8px,#efe51c 63px,#fce724 63.5px,#fde725 63.8px,#f8e621 64.2px,#f1e51d 64.5px,#e7e419 64.8px,#dae319 65px,#cbe11f 65.2px,#b9de29 65.5px,#92d742 66px,#58c765 66.8px,#39b977 67.2px,#2db27d 67.5px,#25ab82 67.8px,#1f9e89 68.2px,#238a8d 69.2px,#26828e 70.2px,#26818e 70.8px,#25848e 71.5px,#1f9e89 74px,#20a386 75.2px,#1f9f88 76.5px,#1f958b 77.5px,#25858e 79px,#26818e 80px,#25848e 80.8px,#23898e 81.2px,#20918c 81.8px,#1fa287 82.5px,#23a884 82.8px,#2aaf7f 83px,#41be72 83.5px,#63cb5f 84px,#8ad547 84.5px,#c4e022 85.2px,#d4e21a 85.5px,#e2e418 85.8px,#f5e61f 86.2px,#fde725 86.8px,#f9e722 87.2px,#f3e61e 87.5px,#e9e41a 87.8px,#dce319 88px,#cce11e 88.2px,#b8de29 88.5px,#8bd647 89px,#45bf70 89.8px,#32b57a 90px,#25ab82 90.2px,#1fa088 90.5px,#1f958b 90.8px,#27808e 91.2px,#3b518b 92.5px,#443b83 93.2px,#472c7a 94px,#482172 95px,#481769 97.2px,#450357 100.2px,#440154 106.8px,#440154 151px)"></i><i style="background:linear-gradient(180deg,#440154 0px,#440154 44.8px,#450356 51px,#471365 53.8px,#481b6d 56px,#482173 56.8px,#482878 57.2px,#46337f 57.8px,#3f4989 58.5px,#297a8e 59.8px,#1e9b8a 60.5px,#21a685 60.8px,#2cb17e 61px,#3dbb74 61.2px,#52c568 61.5px,#84d44b 62px,#b5de2b 62.5px,#cae11f 62.8px,#dce319 63px,#eae51a 63.2px,#f4e61e 63.5px,#fae722 63.8px,#fde725 64px,#fde724 64.2px,#f4e61e 64.8px,#dfe318 65.2px,#d1e11b 65.5px,#c1df24 65.8px,#86d549 66.5px,#4cc36c 67.2px,#30b47b 67.8px,#27ad81 68px,#21a685 68.2px,#1f9a8a 68.8px,#228d8d 69.5px,#24868e 70.5px,#238a8d 71.5px,#1e9c89 73px,#22a884 74px,#28ae80 75px,#27ad81 75.8px,#23a984 76.5px,#1f9a8a 77.8px,#228b8d 79px,#24868e 79.8px,#24888e 80.5px,#228c8d 81px,#1e9d89 82px,#24aa83 82.5px,#2cb17e 82.8px,#37b877 83px,#57c766 83.5px,#7ed34e 84px,#a7db34 84.5px,#cbe11e 85px,#dae319 85.2px,#e7e419 85.5px,#f0e51c 85.8px,#fce724 86.2px,#fde725 86.5px,#fce723 86.8px,#f7e620 87px,#eee51b 87.2px,#e2e418 87.5px,#d2e21b 87.8px,#bedf26 88px,#8ed644 88.5px,#5cc863 89px,#45bf70 89.2px,#32b57a 89.5px,#24aa83 89.8px,#1f9f88 90px,#20948c 90.2px,#277e8e 90.8px,#3d4c8a 92px,#453580 92.8px,#482676 93.5px,#481c6e 94.5px,#471264 97px,#450356 99.5px,#440254 100.8px,#440154 106px,#440154 151px)"></i><i style="background:linear-gradient(180deg,#440154 0px,#440154 50.5px,#450356 51.8px,#471063 54.5px,#48186a 56.8px,#482374 57.8px,#463480 58.5px,#38578c 59.5px,#26828e 60.5px,#1f998a 61px,#21a585 61.2px,#2cb17e 61.5px,#3ebc74 61.8px,#55c667 62px,#89d548 62.5px,#bade28 63px,#cee11d 63.2px,#dee318 63.5px,#ebe51a 63.8px,#f5e61f 64px,#fbe723 64.2px,#fde725 64.5px,#f9e621 65px,#f2e61d 65.2px,#e8e419 65.5px,#dae319 65.8px,#cae01f 66px,#b7de2a 66.2px,#8dd645 66.8px,#63cb5f 67.2px,#41bd72 67.8px,#34b679 68px,#29af7f 68.2px,#20a387 68.8px,#21908c 69.8px,#228c8d 70.2px,#228b8d 70.8px,#21908c 71.5px,#1fa187 72.8px,#23a983 73.2px,#32b57a 74.2px,#38b977 74.8px,#3bbb75 75.2px,#39ba76 75.8px,#33b67a 76.2px,#24aa83 77.2px,#20a387 77.8px,#20918c 79px,#228c8d 79.8px,#228c8d 80.2px,#218f8d 80.8px,#1fa088 81.8px,#26ad81 82.2px,#2fb47c 82.5px,#4ac26d 83px,#6fcf58 83.5px,#9ad93d 84px,#c2df23 84.5px,#d4e21b 84.8px,#e3e418 85px,#eee51b 85.2px,#f6e620 85.5px,#fbe723 85.8px,#fde725 86px,#fce724 86.2px,#f7e620 86.5px,#efe51c 86.8px,#e4e419 87px,#d5e21a 87.2px,#c2df23 87.5px,#acdc31 87.8px,#79d151 88.2px,#47c06f 88.8px,#32b67a 89px,#24aa83 89.2px,#1f9e89 89.5px,#20928c 89.8px,#297b8e 90.2px,#365b8d 91px,#3f4889 91.5px,#47307d 92.2px,#482072 93px,#481769 94px,#471062 96.2px,#440356 99px,#440154 151px)"></i><i style="background:linear-gradient(180deg,#440154 0px,#440154 51px,#450356 52.5px,#470d60 55px,#471365 57.2px,#481e6f 58.2px,#482878 58.8px,#423f85 59.5px,#3a538b 60px,#30698e 60.5px,#27808e 61px,#1f988b 61.5px,#20a586 61.8px,#2bb17e 62px,#3ebc74 62.2px,#56c667 62.5px,#8bd647 63px,#bcdf27 63.5px,#d1e11c 63.8px,#e2e418 64px,#eee51b 64.2px,#f7e620 64.5px,#fce724 64.8px,#fde725 65px,#fbe723 65.2px,#f5e61f 65.5px,#ece51b 65.8px,#e0e318 66px,#d1e11c 66.2px,#bedf25 66.5px,#95d840 67px,#6acd5b 67.5px,#46c06f 68px,#37b977 68.2px,#2cb27e 68.5px,#25ab82 68.8px,#1f9f88 69.2px,#20948c 70px,#20928c 70.8px,#1f978b 71.5px,#21a685 72.5px,#29af7f 73px,#3ebc74 73.8px,#51c469 74.5px,#58c765 75.2px,#56c667 75.8px,#4ec36b 76.2px,#2cb17e 77.5px,#22a884 78px,#1f9f88 78.5px,#1f988b 79px,#20928c 79.8px,#20928c 80.2px,#1f968b 80.8px,#1e9d89 81.2px,#23a884 81.8px,#29af80 82px,#33b67a 82.2px,#50c46a 82.8px,#8cd646 83.5px,#b6de2a 84px,#c9e01f 84.2px,#dae319 84.5px,#e8e419 84.8px,#f2e61d 85px,#f9e722 85.2px,#fde724 85.5px,#fde724 85.8px,#f9e722 86px,#f2e61d 86.2px,#e7e419 86.5px,#d8e219 86.8px,#c5e021 87px,#aedc2f 87.2px,#7ad251 87.8px,#47c06f 88.2px,#32b57a 88.5px,#24aa83 88.8px,#1e9d89 89px,#25858e 89.5px,#38578c 90.5px,#414387 91px,#46327f 91.5px,#481f71 92.2px,#48186a 92.8px,#471265 93.5px,#470e61 95.5px,#450356 98px,#440154 99.5px,#440154 151px)"></i><i style="background:linear-gradient(180deg,#440154 0px,#440154 51.8px,#450356 53.2px,#460b5e 55.5px,#470e61 57.8px,#48186b 58.8px,#482979 59.5px,#443a83 60px,#3c4f8a 60.5px,#32658e 61px,#287d8e 61.5px,#1f978b 62px,#20a486 62.2px,#2ab07f 62.5px,#3dbc74 62.8px,#56c666 63px,#8dd645 63.5px,#c0df24 64px,#d5e21a 64.2px,#e6e419 64.5px,#f2e61d 64.8px,#f9e722 65px,#fde724 65.2px,#fde724 65.5px,#f9e621 65.8px,#f1e51d 66px,#e6e419 66.2px,#d8e219 66.5px,#c6e021 66.8px,#9dd93a 67.2px,#72cf56 67.8px,#4bc26c 68.2px,#3cbb75 68.5px,#30b47c 68.8px,#27ad81 69px,#22a784 69.2px,#1e9b8a 70px,#1f988b 70.8px,#1f9e89 71.5px,#25ab82 72.2px,#2ab07f 72.5px,#3bbb75 73px,#5cc863 73.8px,#79d152 74.5px,#83d44b 75px,#85d44a 75.2px,#81d34d 75.8px,#74d055 76.2px,#55c667 77px,#36b878 77.8px,#27ad81 78.2px,#20a386 78.8px,#1e9c89 79.2px,#1f988b 79.8px,#1f988b 80.2px,#1fa088 81px,#25ab82 81.5px,#2cb17e 81.8px,#37b878 82px,#45bf70 82.2px,#6acd5b 82.8px,#95d840 83.2px,#bfdf25 83.8px,#d1e11c 84px,#e1e318 84.2px,#ede51b 84.5px,#f6e620 84.8px,#fbe723 85px,#fde725 85.2px,#fbe723 85.5px,#f5e61f 85.8px,#ebe51a 86px,#dce319 86.2px,#c9e01f 86.5px,#b2dd2d 86.8px,#7cd250 87.2px,#47c06f 87.8px,#31b57b 88px,#23a984 88.2px,#1e9c89 88.5px,#26828e 89px,#355f8d 89.8px,#433e85 90.5px,#472c7b 91px,#481f71 91.5px,#481668 92px,#471063 92.5px,#470d60 93.2px,#460b5e 95px,#450356 97.2px,#440154 98.8px,#440154 151px)"></i><i style="background:linear-gradient(180deg,#440154 0px,#440154 52.5px,#46085c 56px,#46095d 58px,#470d60 58.8px,#481366 59.2px,#481d6f 59.8px,#472c7b 60.2px,#3e4b89 61px,#33628d 61.5px,#24888e 62.2px,#1f958b 62.5px,#20a387 62.8px,#2ab07f 63px,#3ebc74 63.2px,#74d054 63.8px,#addc30 64.2px,#c6e021 64.5px,#dae319 64.8px,#e9e41a 65px,#f4e61e 65.2px,#fbe723 65.5px,#fde725 65.8px,#fce724 66px,#f7e620 66.2px,#eee51b 66.5px,#e2e418 66.8px,#d1e11c 67px,#bedf26 67.2px,#91d743 67.8px,#65cb5e 68.2px,#52c569 68.5px,#41be72 68.8px,#35b779 69px,#2bb17e 69.2px,#25ab82 69.5px,#1fa088 70.2px,#1f9e88 70.8px,#21a685 71.5px,#29af7f 72px,#31b57b 72.2px,#49c16e 72.8px,#79d152 73.5px,#a6db35 74.2px,#bade28 74.8px,#c2df23 75.2px,#bddf26 75.8px,#abdc32 76.2px,#90d743 76.8px,#4ec36b 77.8px,#35b779 78.2px,#2cb17e 78.5px,#22a784 79px,#1fa188 79.5px,#1f9e89 80px,#1fa187 80.5px,#23a983 81px,#28ae80 81.2px,#30b47b 81.5px,#3cbb75 81.8px,#5dc962 82.2px,#9fda3a 83px,#cae01f 83.5px,#dce319 83.8px,#eae51a 84px,#f4e61e 84.2px,#fbe723 84.5px,#fde725 84.8px,#fce724 85px,#f7e620 85.2px,#eee51b 85.5px,#e1e318 85.8px,#cee11d 86px,#b8de2a 86.2px,#80d34d 86.8px,#48c16e 87.2px,#31b57b 87.5px,#22a884 87.8px,#1f9a8a 88px,#27808e 88.5px,#365b8d 89.2px,#443983 90px,#482777 90.5px,#481a6c 91px,#471164 91.5px,#46095d 92.5px,#46095c 94.5px,#440154 98px,#440154 151px)"></i><i style="background:linear-gradient(180deg,#440154 0px,#440154 53px,#45065a 56.5px,#45065a 58.8px,#46085c 59.2px,#470e61 59.8px,#48186a 60.2px,#482777 60.8px,#443a83 61.2px,#365d8d 62px,#25848e 62.8px,#20918c 63px,#1f9f88 63.2px,#26ac81 63.5px,#38b977 63.8px,#51c469 64px,#89d548 64.5px,#bddf26 65px,#d1e11c 65.2px,#e1e318 65.5px,#ebe51a 65.8px,#f1e51d 66px,#f2e61d 66.2px,#efe51c 66.5px,#e7e419 66.8px,#dce319 67px,#cce11e 67.2px,#bade28 67.5px,#8fd744 68px,#64cb5e 68.5px,#41be72 69px,#34b779 69.2px,#2bb17e 69.5px,#22a784 70px,#20a387 70.5px,#20a486 71px,#24ab82 71.5px,#2ab07f 71.8px,#32b67a 72px,#3ebc73 72.2px,#61ca60 72.8px,#8bd646 73.2px,#b7de2a 73.8px,#cbe11e 74px,#dce319 74.2px,#eae51a 74.5px,#f4e61e 74.8px,#fbe723 75px,#fde725 75.2px,#fce724 75.5px,#f7e620 75.8px,#eee51b 76px,#e2e418 76.2px,#d2e21b 76.5px,#bfdf25 76.8px,#94d840 77.2px,#55c667 78px,#44bf70 78.2px,#37b878 78.5px,#2db27d 78.8px,#26ad81 79px,#22a884 79.2px,#20a386 79.8px,#20a486 80.2px,#24aa83 80.8px,#30b47b 81.2px,#3cbb75 81.5px,#5dc963 82px,#86d549 82.5px,#b2dd2d 83px,#c5e021 83.2px,#d6e21a 83.5px,#e3e418 83.8px,#ece51b 84px,#f2e61d 84.2px,#f2e61d 84.5px,#eee51b 84.8px,#e6e419 85px,#d8e219 85.2px,#c5e021 85.5px,#aedc30 85.8px,#78d152 86.2px,#42be72 86.8px,#2cb27d 87px,#20a486 87.2px,#1f978b 87.5px,#287c8e 88px,#39568c 88.8px,#433e85 89.2px,#482a79 89.8px,#481b6d 90.2px,#471063 90.8px,#46095d 91.2px,#45065a 91.8px,#46065a 94px,#440154 97.5px,#440154 151px)"></i><i style="background:linear-gradient(180deg,#440154 0px,#440154 53.8px,#450558 57.2px,#450457 59.5px,#45065a 60px,#470d60 60.5px,#48186a 61px,#482677 61.5px,#404588 62.2px,#365d8d 62.8px,#218e8d 63.8px,#1e9b8a 64px,#22a785 64.2px,#2eb27d 64.5px,#54c568 65px,#7cd250 65.5px,#8cd646 65.8px,#99d93d 66px,#a1da38 66.2px,#a6db35 66.5px,#a5db35 66.8px,#a1da38 67px,#98d83e 67.2px,#8cd646 67.5px,#6dce59 68px,#3dbc74 68.8px,#28ae80 69.2px,#20a387 69.8px,#1e9b8a 70.2px,#1f998a 70.8px,#1e9d89 71.2px,#22a785 71.8px,#27ad81 72px,#31b57b 72.2px,#3fbc73 72.5px,#51c469 72.8px,#66cc5d 73px,#97d83f 73.5px,#c7e021 74px,#dae319 74.2px,#e9e41a 74.5px,#f4e61e 74.8px,#fbe723 75px,#fde725 75.2px,#fce724 75.5px,#f7e620 75.8px,#eee51b 76px,#e1e318 76.2px,#cfe11c 76.5px,#b9de28 76.8px,#88d548 77.2px,#59c765 77.8px,#46c070 78px,#36b878 78.2px,#2ab07f 78.5px,#23a983 78.8px,#1f9f88 79.2px,#1f998a 79.8px,#1f9a8a 80.2px,#1fa188 80.8px,#25ac82 81.2px,#2db27d 81.5px,#46c06f 82px,#77d153 82.8px,#94d841 83.2px,#9eda3a 83.5px,#a4db36 83.8px,#a6db35 84px,#a4db36 84.2px,#9dd93b 84.5px,#92d742 84.8px,#83d44c 85px,#5cc863 85.5px,#34b779 86px,#25ac82 86.2px,#1fa088 86.5px,#20938c 86.8px,#24878e 87px,#33628d 87.8px,#3e4a89 88.2px,#472a79 89px,#481a6c 89.5px,#470f62 90px,#46075b 90.5px,#450458 91px,#450558 93.5px,#440154 97px,#440154 151px)"></i><i style="background:linear-gradient(180deg,#440154 0px,#450356 60.2px,#450659 60.8px,#470d60 61.2px,#48186a 61.8px,#482777 62.2px,#404588 63px,#365c8d 63.5px,#277e8e 64.2px,#1f948c 64.8px,#1f9f88 65px,#23a984 65.2px,#2cb27d 65.5px,#50c46a 66.2px,#58c765 66.5px,#5dc962 66.8px,#5fc961 67px,#5dc962 67.2px,#58c765 67.5px,#48c16e 68px,#2ab07f 68.8px,#24aa83 69px,#1e9d89 69.5px,#21908c 70.2px,#218f8d 71px,#1e9b8a 71.8px,#20a387 72px,#25ab82 72.2px,#30b47c 72.5px,#40bd72 72.8px,#56c666 73px,#89d548 73.5px,#bcdf27 74px,#d2e21b 74.2px,#e4e419 74.5px,#f1e51d 74.8px,#fae722 75px,#fde725 75.2px,#fce724 75.5px,#f5e61f 75.8px,#eae51a 76px,#dae319 76.2px,#c5e021 76.5px,#93d741 77px,#5fca61 77.5px,#48c16e 77.8px,#36b878 78px,#28ae80 78.2px,#21a685 78.5px,#1f9e89 78.8px,#21908d 79.5px,#218f8d 80.2px,#1f968b 80.8px,#1fa088 81.2px,#22a785 81.5px,#30b47c 82px,#44bf70 82.5px,#56c667 83px,#5bc863 83.2px,#5ec961 83.8px,#5bc864 84px,#54c568 84.2px,#3ebc74 84.8px,#26ac81 85.2px,#20a387 85.5px,#1f998a 85.8px,#2a788e 86.5px,#39558c 87.2px,#463480 88px,#482273 88.5px,#481467 89px,#460a5d 89.5px,#450458 90px,#440255 90.5px,#450457 92.8px,#440254 96.2px,#440154 151px)"></i><i style="background:linear-gradient(180deg,#440154 0px,#440255 60.8px,#450457 61.2px,#46095c 61.8px,#48196b 62.5px,#46307e 63.2px,#404587 63.8px,#375a8c 64.2px,#29798e 65px,#1f968b 65.8px,#20a486 66.2px,#28ae80 66.8px,#2eb37d 67.2px,#2eb37c 67.5px,#2aaf7f 68px,#22a784 68.5px,#1e9d89 69px,#24888e 70px,#26828e 70.5px,#26838e 71px,#25858e 71.2px,#218f8d 71.8px,#1fa088 72.2px,#24aa83 72.5px,#30b47b 72.8px,#44bf70 73px,#5dc962 73.2px,#96d83f 73.8px,#b2dd2d 74px,#cbe11e 74.2px,#e0e318 74.5px,#efe51c 74.8px,#f9e722 75px,#fde725 75.2px,#fbe723 75.5px,#f4e61e 75.8px,#e7e419 76px,#d4e21a 76.2px,#bddf26 76.5px,#85d44a 77px,#4ec36b 77.5px,#38b977 77.8px,#28ae80 78px,#20a486 78.2px,#1f9a8a 78.5px,#24878e 79.2px,#25838e 79.5px,#26828e 80px,#238a8d 80.8px,#1f9a8a 81.5px,#21a585 82px,#28ae80 82.5px,#2eb37c 83.2px,#2ab07f 83.8px,#22a785 84.2px,#1f998a 84.8px,#287d8e 85.5px,#3a548b 86.5px,#463480 87.2px,#482374 87.8px,#481567 88.2px,#46075a 89px,#440255 89.8px,#440154 151px)"></i><i style="background:linear-gradient(180deg,#440154 0px,#440255 61.5px,#46075a 62.2px,#481a6c 63.2px,#46317e 64px,#3d4e8a 64.8px,#287c8e 66px,#238a8d 66.5px,#1f958c 67px,#1e9b8a 67.8px,#1f998a 68.2px,#20938c 68.8px,#287b8e 70px,#2b758e 70.8px,#2a788e 71.2px,#287c8e 71.5px,#238a8d 72px,#1f9e89 72.5px,#24aa83 72.8px,#33b67a 73px,#4bc26d 73.2px,#88d548 73.8px,#c4e022 74.2px,#dce319 74.5px,#ede51b 74.8px,#f9e621 75px,#fde725 75.2px,#fbe723 75.5px,#f3e61e 75.8px,#e4e418 76px,#cee11d 76.2px,#b3dd2c 76.5px,#94d840 76.8px,#56c666 77.2px,#3cbb75 77.5px,#29af80 77.8px,#20a387 78px,#1f978b 78.2px,#25858e 78.8px,#277e8e 79px,#29798e 79.2px,#2b758e 79.8px,#297a8e 80.5px,#1f988b 82.2px,#1e9b8a 82.8px,#1f968b 83.5px,#228d8d 84px,#277f8e 84.5px,#3b528b 85.8px,#463480 86.5px,#481c6e 87.2px,#46085b 88.2px,#440254 89.2px,#440154 151px)"></i><i style="background:linear-gradient(180deg,#440154 0px,#440255 62px,#46085c 63px,#481568 63.8px,#46317e 64.8px,#3e4b89 65.5px,#2f6c8e 66.5px,#2a788e 67px,#26818e 67.5px,#25858e 68px,#25848e 68.5px,#277e8e 69px,#2f6a8e 70.2px,#31678e 71px,#30698e 71.2px,#2c738e 71.8px,#25858e 72.2px,#1f9d89 72.8px,#25ab82 73px,#38b977 73.2px,#55c667 73.5px,#77d153 73.8px,#bade28 74.2px,#d6e21a 74.5px,#ebe51a 74.8px,#f8e621 75px,#fde725 75.2px,#fbe723 75.5px,#f1e51d 75.8px,#dfe318 76px,#c6e021 76.2px,#a7db34 76.5px,#85d44a 76.8px,#62cb5f 77px,#43be71 77.2px,#2bb17e 77.5px,#20a387 77.8px,#1f958b 78px,#277f8e 78.5px,#2b768e 78.8px,#306a8e 79.2px,#31678e 79.5px,#31668e 79.8px,#30698e 80.2px,#25838e 82px,#25848e 82.8px,#277f8e 83.2px,#2e6e8e 84px,#38578c 84.8px,#404688 85.2px,#472c7b 86px,#48186a 86.8px,#46095d 87.5px,#440255 88.5px,#440154 151px)"></i><i style="background:linear-gradient(180deg,#440154 0px,#440255 62.5px,#46075b 63.5px,#481769 64.5px,#46307e 65.5px,#3f4788 66.2px,#33628d 67.2px,#2e6e8e 68px,#2d6f8e 68.8px,#2f6b8e 69.2px,#37598c 70.5px,#38578c 71px,#38598c 71.2px,#365d8d 71.5px,#2f6b8e 72px,#26818e 72.5px,#1f9e88 73px,#28ae80 73.2px,#42be72 73.5px,#64cb5e 73.8px,#8ad547 74px,#afdd2f 74.2px,#cfe11c 74.5px,#e8e419 74.8px,#f7e620 75px,#fde725 75.2px,#fae723 75.5px,#efe51c 75.8px,#dae319 76px,#bddf26 76.2px,#73d055 76.8px,#4fc36b 77px,#31b57b 77.2px,#20a586 77.5px,#1f958b 77.8px,#297a8e 78.2px,#2e6f8e 78.5px,#355f8d 79px,#375a8c 79.2px,#38578c 79.5px,#38588c 80px,#2e6f8e 81.8px,#2d708e 82.2px,#2f6c8e 82.8px,#355f8d 83.5px,#414387 84.5px,#472c7b 85.2px,#481466 86.2px,#46085c 87px,#440356 88px,#440154 151px)"></i><i style="background:linear-gradient(180deg,#440154 0px,#440154 53px,#450357 63.2px,#46095d 64.2px,#481466 65px,#482979 66px,#433d84 66.8px,#3c4f8a 67.5px,#375a8d 68.2px,#365d8d 68.8px,#375b8d 69.2px,#3f4788 70.8px,#3f4788 71.2px,#3e4b89 71.5px,#3b518b 71.8px,#32648e 72.2px,#27808e 72.8px,#21908c 73px,#1fa287 73.2px,#2fb47c 73.5px,#50c46a 73.8px,#79d152 74px,#a3db37 74.2px,#c9e01f 74.5px,#e5e419 74.8px,#f6e620 75px,#fde725 75.2px,#fae722 75.5px,#ede51b 75.8px,#d5e21a 76px,#b3dd2c 76.2px,#8ad547 76.5px,#60ca61 76.8px,#3bba75 77px,#23a983 77.2px,#1f978b 77.5px,#2a778e 78px,#355d8d 78.5px,#3d4d8a 79px,#3f4889 79.2px,#404788 79.5px,#3f4989 80px,#38578c 81px,#365c8d 81.5px,#365b8d 82.2px,#3b518b 83px,#423f85 83.8px,#482576 84.8px,#471164 85.8px,#46085b 86.5px,#450356 87.5px,#440154 97.8px,#440154 151px)"></i><i style="background:linear-gradient(180deg,#440154 0px,#440154 54px,#450357 63.5px,#46075b 64.5px,#471264 65.5px,#482374 66.5px,#443982 67.5px,#404688 68.2px,#3e4a89 68.8px,#3f4989 69.5px,#453681 71px,#453882 71.5px,#433d85 71.8px,#3b518b 72.2px,#2d6f8e 72.8px,#20948c 73.2px,#22a884 73.5px,#3cbb75 73.8px,#66cc5d 74px,#94d841 74.2px,#bfdf25 74.5px,#e0e318 74.8px,#f5e61f 75px,#fde725 75.2px,#f9e722 75.5px,#eae51a 75.8px,#cee11d 76px,#a6db35 76.2px,#78d152 76.5px,#4cc26c 76.8px,#2ab07f 77px,#1e9c89 77.2px,#23888e 77.5px,#2b768e 77.8px,#39578c 78.2px,#424086 78.8px,#443a83 79px,#453681 79.5px,#443a83 80px,#3e4a89 81.2px,#3f4989 82px,#414487 82.5px,#453681 83.2px,#482676 84px,#481366 85px,#46085b 86px,#450457 87px,#440154 96.8px,#440154 151px)"></i><i style="background:linear-gradient(180deg,#440154 0px,#440154 56px,#450457 64px,#46075b 65px,#470e61 65.8px,#48176a 66.5px,#46307e 68px,#453782 68.5px,#443b83 69px,#453882 69.8px,#482777 71px,#482677 71.5px,#472a7a 71.8px,#46327f 72px,#433d85 72.2px,#3d4c8a 72.5px,#2d708e 73px,#25858e 73.2px,#1e9b8a 73.5px,#2cb17e 73.8px,#52c568 74px,#84d44b 74.2px,#b4dd2c 74.5px,#dbe319 74.8px,#f3e61e 75px,#fde724 75.2px,#f9e621 75.5px,#e7e419 75.8px,#c5e021 76px,#98d83e 76.2px,#66cc5d 76.5px,#39b976 76.8px,#20a486 77px,#228e8d 77.2px,#2a788e 77.5px,#3a538b 78px,#414387 78.2px,#453681 78.5px,#472d7b 78.8px,#482878 79px,#482676 79.5px,#443983 81px,#443a83 81.8px,#472e7c 82.8px,#48196b 84px,#470f62 84.8px,#46085c 85.5px,#450457 86.5px,#440154 94.5px,#440154 151px)"></i><i style="background:linear-gradient(180deg,#440154 0px,#440154 56.2px,#450458 64.5px,#460c5f 66px,#482777 68.2px,#472e7c 69.2px,#472a7a 70px,#48186a 71.2px,#481a6c 71.8px,#482072 72px,#472b7a 72.2px,#443983 72.5px,#3e4c8a 72.8px,#2a778e 73.2px,#218e8d 73.5px,#21a685 73.8px,#41bd72 74px,#74d055 74.2px,#aadc32 74.5px,#d6e21a 74.8px,#f2e61d 75px,#fde724 75.2px,#f8e621 75.5px,#e3e418 75.8px,#bddf26 76px,#8ad547 76.2px,#54c667 76.5px,#2ab07f 76.8px,#1f988b 77px,#27808e 77.2px,#30698e 77.5px,#424086 78px,#47307d 78.2px,#482475 78.5px,#481c6e 78.8px,#48186a 79px,#48186a 79.2px,#472c7b 80.8px,#472e7c 81.5px,#482878 82.2px,#470c5f 84.5px,#46075b 85.2px,#450457 86.2px,#440154 94.5px,#440154 151px)"></i><i style="background:linear-gradient(180deg,#440154 0px,#440256 63px,#450558 65px,#46095c 66px,#482374 68.8px,#482576 69.5px,#481f71 70.2px,#470e61 71.2px,#460c5f 71.5px,#470d60 71.8px,#471264 72px,#481b6d 72.2px,#482979 72.5px,#433c84 72.8px,#3b528b 73px,#26838e 73.5px,#1e9d89 73.8px,#34b679 74px,#66cc5d 74.2px,#9fda39 74.5px,#d1e11c 74.8px,#f0e51c 75px,#fde724 75.2px,#f7e621 75.5px,#e0e318 75.8px,#b5dd2b 76px,#7dd24f 76.2px,#46c06f 76.5px,#22a784 76.8px,#228d8d 77px,#2c748e 77.2px,#365b8d 77.5px,#404487 77.8px,#47307d 78px,#482072 78.2px,#481567 78.5px,#470e61 78.8px,#460c5f 79px,#471063 79.5px,#482172 80.5px,#482676 81.2px,#482273 82px,#470f62 83.8px,#46085b 84.8px,#440255 87.8px,#440154 151px)"></i><i style="background:linear-gradient(180deg,#440154 0px,#440256 63px,#46085b 66px,#470e61 67px,#481e6f 68.8px,#482072 69.5px,#481b6d 70.2px,#46075b 71.2px,#450457 71.8px,#46075b 72px,#471163 72.2px,#481e70 72.5px,#46317e 72.8px,#3f4888 73px,#34618d 73.2px,#297b8e 73.5px,#1f968b 73.8px,#2cb17e 74px,#5cc963 74.2px,#98d83e 74.5px,#cde11e 74.8px,#efe51c 75px,#fde724 75.2px,#f7e620 75.5px,#dde318 75.8px,#afdd2f 76px,#74d055 76.2px,#3cbb75 76.5px,#1fa188 76.8px,#25858e 77px,#3b518b 77.5px,#443983 77.8px,#482575 78px,#481568 78.2px,#460a5e 78.5px,#450558 78.8px,#450457 79px,#450659 79.2px,#481d6e 80.5px,#482072 81.2px,#481e70 81.8px,#46085b 84.5px,#440255 87.8px,#440154 151px)"></i><i style="background:linear-gradient(180deg,#440154 0px,#440255 62.8px,#46075b 66px,#470d60 67px,#481c6e 68.8px,#481e70 69.5px,#48196b 70.2px,#450559 71.2px,#440154 71.8px,#450457 72px,#470c5f 72.2px,#481a6c 72.5px,#472c7b 72.8px,#414387 73px,#365d8d 73.2px,#2a778e 73.5px,#20938c 73.8px,#29af80 74px,#59c765 74.2px,#95d840 74.5px,#cbe11e 74.8px,#efe51c 75px,#fde724 75.2px,#f7e620 75.5px,#dce319 75.8px,#acdc31 76px,#71cf57 76.2px,#39b977 76.5px,#1f9e89 76.8px,#26828e 77px,#31678e 77.2px,#3d4d8a 77.5px,#453580 77.8px,#482172 78px,#471164 78.2px,#45065a 78.5px,#440255 78.8px,#440154 79px,#450457 79.2px,#481b6d 80.5px,#481e70 81.2px,#46085b 84.5px,#440255 87.8px,#440154 151px)"></i><i style="background:linear-gradient(180deg,#440154 0px,#440255 62.8px,#46075b 66px,#470e61 67px,#481d6f 68.8px,#482071 69.5px,#481a6c 70.2px,#46075a 71.2px,#450356 71.8px,#45065a 72px,#470f62 72.2px,#481d6f 72.5px,#472f7d 72.8px,#404688 73px,#345f8d 73.2px,#297a8e 73.5px,#1f958b 73.8px,#2bb07e 74px,#5bc863 74.2px,#97d83e 74.5px,#cde11e 74.8px,#efe51c 75px,#fde724 75.2px,#f7e620 75.5px,#dde318 75.8px,#aedc2f 76px,#73d055 76.2px,#3bbb75 76.5px,#1fa088 76.8px,#25848e 77px,#306a8e 77.2px,#3c508b 77.5px,#453882 77.8px,#482474 78px,#481467 78.2px,#46095c 78.5px,#450457 78.8px,#450356 79px,#450559 79.2px,#481c6e 80.5px,#482071 81.2px,#481e6f 81.8px,#46085b 84.5px,#440255 87.8px,#440154 151px)"></i><i style="background:linear-gradient(180deg,#440154 0px,#440256 63px,#450458 64.8px,#46085c 66px,#471063 67px,#482173 68.8px,#482475 69.5px,#481e70 70.2px,#460a5d 71.5px,#460a5e 71.8px,#470f62 72px,#48196b 72.2px,#482677 72.5px,#443983 72.8px,#3c4f8b 73px,#26818e 73.5px,#1e9b8a 73.8px,#32b57a 74px,#64cb5e 74.2px,#9eda3a 74.5px,#d0e11c 74.8px,#f0e51c 75px,#fde724 75.2px,#f7e620 75.5px,#dfe318 75.8px,#b3dd2c 76px,#7bd250 76.2px,#43bf71 76.5px,#21a685 76.8px,#228b8d 77px,#2c718e 77.2px,#37598c 77.5px,#414286 77.8px,#472d7c 78px,#481e6f 78.2px,#471265 78.5px,#460c5f 78.8px,#46095d 79px,#460b5e 79.2px,#482072 80.5px,#482475 81.2px,#482072 82px,#470f61 83.8px,#46085b 84.8px,#440255 87.8px,#440154 151px)"></i><i style="background:linear-gradient(180deg,#440154 0px,#440154 57px,#440255 62.5px,#450558 64.8px,#470d60 66.2px,#482575 68.2px,#472c7b 69.2px,#482978 70px,#481668 71.2px,#481769 71.8px,#481d6f 72px,#482777 72.2px,#453681 72.5px,#3f4889 72.8px,#2c748e 73.2px,#228b8d 73.5px,#20a486 73.8px,#3ebc74 74px,#71cf57 74.2px,#a7db34 74.5px,#d4e21b 74.8px,#f1e51d 75px,#fde724 75.2px,#f8e621 75.5px,#e2e418 75.8px,#bbde28 76px,#87d549 76.2px,#51c469 76.5px,#28ae80 76.8px,#1f958b 77px,#287d8e 77.2px,#31668e 77.5px,#3b508b 77.8px,#433d84 78px,#472c7b 78.2px,#482072 78.5px,#48196b 78.8px,#481568 79px,#481568 79.2px,#472a79 80.8px,#472c7b 81.5px,#482676 82.2px,#460c5f 84.5px,#450458 86px,#440154 93.8px,#440154 151px)"></i><i style="background:linear-gradient(180deg,#440154 0px,#440154 55.8px,#450458 64.2px,#46085c 65.2px,#470f62 66px,#472d7c 68px,#453882 69px,#453681 69.8px,#482374 71.2px,#482777 71.8px,#472e7c 72px,#443983 72.2px,#3f4889 72.5px,#2e6d8e 73px,#26828e 73.2px,#1f988b 73.5px,#29af80 73.8px,#4fc36a 74px,#80d34d 74.2px,#b2dd2d 74.5px,#dae319 74.8px,#f3e61e 75px,#fde724 75.2px,#f9e621 75.5px,#e6e419 75.8px,#c4e022 76px,#95d840 76.2px,#62ca5f 76.5px,#36b878 76.8px,#1fa187 77px,#238b8d 77.2px,#2b758e 77.5px,#3c4f8a 78px,#423f85 78.2px,#46327f 78.5px,#482979 78.8px,#482475 79px,#482374 79.5px,#453580 80.8px,#453882 81.5px,#472f7d 82.5px,#481769 84px,#470e61 84.8px,#46085b 85.5px,#450457 86.5px,#440154 94.8px,#440154 151px)"></i><i style="background:linear-gradient(180deg,#440154 0px,#440154 55.8px,#450457 63.8px,#46085c 64.8px,#471063 65.5px,#482072 66.5px,#453580 67.5px,#414286 68.2px,#404788 68.8px,#404688 69.5px,#46337f 71px,#463480 71.5px,#443a83 71.8px,#3d4d8a 72.2px,#365b8d 72.5px,#287d8e 73px,#20918c 73.2px,#21a585 73.5px,#39b977 73.8px,#62ca60 74px,#91d743 74.2px,#bddf26 74.5px,#dfe318 74.8px,#f5e61f 75px,#fde725 75.2px,#f9e722 75.5px,#e9e41a 75.8px,#cce11e 76px,#a3db37 76.2px,#74d054 76.5px,#48c16e 76.8px,#27ad81 77px,#1f998a 77.2px,#2c738e 77.8px,#3a538b 78.2px,#433c84 78.8px,#453681 79px,#46327f 79.5px,#404588 81px,#3f4788 81.5px,#404688 82px,#424086 82.5px,#46327f 83.2px,#481e6f 84.2px,#471264 85px,#46075b 86px,#450357 87px,#440154 97px,#440154 151px)"></i><i style="background:linear-gradient(180deg,#440154 0px,#440154 52.5px,#450356 63.2px,#46085c 64.2px,#471264 65px,#482071 65.8px,#453882 66.8px,#3e4a89 67.5px,#39568c 68.2px,#37598c 68.8px,#38578c 69.2px,#3f4788 70.5px,#414387 71px,#3f4788 71.5px,#3d4d8a 71.8px,#34608d 72.2px,#287c8e 72.8px,#228d8d 73px,#1f9f88 73.2px,#2cb17e 73.5px,#4cc26c 73.8px,#75d054 74px,#9fda39 74.2px,#c6e021 74.5px,#e3e418 74.8px,#f5e61f 75px,#fde725 75.2px,#fae722 75.5px,#ece51a 75.8px,#d3e21b 76px,#afdd2f 76.2px,#86d54a 76.5px,#5cc863 76.8px,#37b877 77px,#21a685 77.2px,#20948c 77.5px,#2c738e 78px,#375a8c 78.5px,#3f4989 79px,#404588 79.2px,#414387 79.5px,#404688 80px,#3a548b 81px,#38588c 81.5px,#38578c 82.2px,#3d4c8a 83px,#443b83 83.8px,#482878 84.5px,#481366 85.5px,#46075a 86.5px,#450356 87.5px,#440154 98px,#440154 151px)"></i><i style="background:linear-gradient(180deg,#440154 0px,#450356 62.8px,#46095c 63.8px,#481467 64.5px,#472c7b 65.5px,#414287 66.2px,#355d8d 67.2px,#30698e 68px,#2f6c8e 68.5px,#2f6a8e 69px,#39568c 70.5px,#3a548b 71px,#39558c 71.2px,#37598c 71.5px,#31688e 72px,#277e8e 72.5px,#1e9c89 73px,#26ac81 73.2px,#3ebc74 73.5px,#60ca61 73.8px,#87d549 74px,#aedc30 74.2px,#cfe11c 74.5px,#e8e419 74.8px,#f7e620 75px,#fde725 75.2px,#fbe723 75.5px,#efe51c 75.8px,#dae319 76px,#bcdf27 76.2px,#97d83f 76.5px,#6fcf57 76.8px,#4ac26d 77px,#2eb37d 77.2px,#20a287 77.5px,#20938c 77.8px,#25848e 78px,#2f6c8e 78.5px,#365b8d 79px,#39578c 79.2px,#3a548c 79.5px,#39558c 80px,#30698e 81.5px,#2f6c8e 82px,#2f6a8e 82.5px,#345f8d 83.2px,#404588 84.2px,#472f7d 85px,#481669 86px,#46075b 87px,#440256 88px,#440154 151px)"></i><i style="background:linear-gradient(180deg,#440154 0px,#440255 62.2px,#460a5d 63.2px,#48186a 64px,#472c7b 64.8px,#404588 65.5px,#31668e 66.5px,#2c728e 67px,#287b8e 67.5px,#27808e 68px,#27808e 68.5px,#297b8e 69px,#31688e 70.2px,#33648d 71px,#32668e 71.2px,#2d708e 71.8px,#26828e 72.2px,#1e9b8a 72.8px,#23a983 73px,#35b779 73.2px,#51c469 73.5px,#73d055 73.8px,#b8de29 74.2px,#d5e21a 74.5px,#eae51a 74.8px,#f8e621 75px,#fde725 75.2px,#fbe723 75.5px,#f0e51c 75.8px,#dee318 76px,#c4e022 76.2px,#a5db36 76.5px,#81d34c 76.8px,#5ec962 77px,#3fbd73 77.2px,#29af80 77.5px,#1fa088 77.8px,#24868e 78.2px,#2c738e 78.8px,#31678e 79.2px,#32648e 79.5px,#33638d 79.8px,#31668e 80.2px,#297a8e 81.5px,#277f8e 82px,#26818e 82.5px,#29798e 83.2px,#30698e 84px,#3f4989 85px,#472f7d 85.8px,#481a6c 86.5px,#46085b 87.5px,#440255 88.5px,#440154 151px)"></i><i style="background:linear-gradient(180deg,#440154 0px,#440255 61.5px,#46085c 62.5px,#481d6e 63.5px,#463480 64.2px,#3b518b 65px,#287d8e 66.2px,#238a8d 66.8px,#20938c 67.2px,#1f978b 67.8px,#1f958b 68.2px,#218f8d 68.8px,#2b758e 70.2px,#2c728e 70.8px,#2b758e 71.2px,#29798e 71.5px,#24878e 72px,#1e9b8a 72.5px,#22a784 72.8px,#30b47b 73px,#47c06f 73.2px,#84d44b 73.8px,#c2df23 74.2px,#dae319 74.5px,#ede51b 74.8px,#f8e621 75px,#fde725 75.2px,#fbe723 75.5px,#f2e61d 75.8px,#e2e418 76px,#cce11e 76.2px,#b0dd2e 76.5px,#91d742 76.8px,#52c568 77.2px,#38b977 77.5px,#26ac81 77.8px,#1fa088 78px,#238a8d 78.5px,#287b8e 79px,#2c738e 79.5px,#2c728e 79.8px,#2a778e 80.5px,#218e8d 81.8px,#1f948c 82.2px,#1f968b 83px,#21918c 83.5px,#24868e 84px,#2a788e 84.5px,#3e4b89 85.8px,#472f7d 86.5px,#48196b 87.2px,#460a5d 88px,#440255 89px,#440154 151px)"></i><i style="background:linear-gradient(180deg,#440154 0px,#440255 61px,#46075a 61.8px,#481568 62.5px,#482374 63px,#463480 63.5px,#3a538b 64.2px,#2c738e 65px,#218e8d 65.8px,#1f9e89 66.2px,#23a984 66.8px,#28ae80 67.2px,#25ab82 68px,#20a486 68.5px,#1f9a8a 69px,#25858e 70px,#277f8e 70.8px,#26838e 71.2px,#24878e 71.5px,#1e9d89 72.2px,#22a784 72.5px,#2db27d 72.8px,#41bd72 73px,#5ac864 73.2px,#93d841 73.8px,#cae11f 74.2px,#dfe318 74.5px,#efe51c 74.8px,#f9e622 75px,#fde725 75.2px,#fbe723 75.5px,#f4e61e 75.8px,#e6e419 76px,#d3e21b 76.2px,#bbde27 76.5px,#82d34c 77px,#4ac26d 77.5px,#34b779 77.8px,#26ac82 78px,#1fa187 78.2px,#21908d 78.8px,#25848e 79.2px,#26818e 79.5px,#277f8e 80px,#24888e 80.8px,#1f9d89 81.8px,#24aa83 82.5px,#28ae80 83.2px,#24aa83 83.8px,#1fa088 84.2px,#20928c 84.8px,#2a768e 85.5px,#38588c 86.2px,#453882 87px,#482676 87.5px,#48186a 88px,#46085c 88.8px,#440254 89.8px,#440154 151px)"></i><i style="background:linear-gradient(180deg,#440154 0px,#440255 60.2px,#46075a 61px,#470f62 61.5px,#481b6d 62px,#463480 62.8px,#3e4989 63.2px,#34608d 63.8px,#228d8d 64.8px,#1fa187 65.2px,#24aa83 65.5px,#38b977 66px,#4bc26c 66.5px,#53c568 67px,#53c568 67.2px,#49c16e 67.8px,#39b977 68.2px,#28ae80 68.8px,#22a784 69px,#1fa187 69.2px,#1f958b 69.8px,#228c8d 70.5px,#218f8d 71.2px,#1fa188 72px,#23a983 72.2px,#2db27d 72.5px,#3dbc74 72.8px,#52c568 73px,#86d54a 73.5px,#bbde27 74px,#d2e21b 74.2px,#e4e419 74.5px,#f2e61d 74.8px,#fae722 75px,#fde725 75.2px,#fce724 75.5px,#f5e61f 75.8px,#eae51a 76px,#dae319 76.2px,#c5e021 76.5px,#91d742 77px,#5cc863 77.5px,#45bf70 77.8px,#33b67a 78px,#26ad81 78.2px,#20a486 78.5px,#1e9c89 78.8px,#228d8d 79.5px,#228d8d 80.2px,#20948c 80.8px,#20a586 81.5px,#2cb17e 82px,#3ebc74 82.5px,#4dc36b 83px,#52c569 83.2px,#52c568 83.8px,#47c06f 84.2px,#28ae80 85px,#21a586 85.2px,#1e9b8a 85.5px,#24868e 86px,#32658e 86.8px,#414387 87.5px,#472e7c 88px,#481d6f 88.5px,#471163 89px,#46085b 89.5px,#440255 90.2px,#440154 151px)"></i><i style="background:linear-gradient(180deg,#440154 0px,#440154 53.8px,#450558 57.2px,#450357 59.5px,#450559 60px,#460a5d 60.5px,#481466 61px,#482273 61.5px,#463480 62px,#39568c 62.8px,#24868e 63.8px,#1f9f88 64.2px,#24aa83 64.5px,#31b57b 64.8px,#56c666 65.2px,#79d152 65.8px,#86d549 66px,#90d743 66.2px,#96d83f 66.5px,#97d83e 66.8px,#94d841 67px,#8dd645 67.2px,#82d34c 67.5px,#65cb5e 68px,#39ba76 68.8px,#26ac81 69.2px,#21a685 69.5px,#1e9c89 70px,#1f978b 70.5px,#1f988b 71px,#1f9f88 71.5px,#25ab82 72px,#2eb37c 72.2px,#3cbb75 72.5px,#4dc36b 72.8px,#63cb5f 73px,#95d840 73.5px,#c5e021 74px,#d9e219 74.2px,#e8e419 74.5px,#f4e61e 74.8px,#fae723 75px,#fde725 75.2px,#fce724 75.5px,#f7e620 75.8px,#ede51b 76px,#e0e318 76.2px,#cee11d 76.5px,#b7de2a 76.8px,#85d44a 77.2px,#56c667 77.8px,#42be71 78px,#33b67a 78.2px,#28ae80 78.5px,#22a784 78.8px,#1e9d89 79.2px,#1f978b 79.8px,#1f988b 80.2px,#1f9f88 80.8px,#24aa83 81.2px,#2bb07f 81.5px,#41be72 82px,#6ece58 82.8px,#89d548 83.2px,#92d742 83.5px,#97d83f 83.8px,#97d83f 84px,#93d741 84.2px,#8bd647 84.5px,#7ed34e 84.8px,#5dc962 85.2px,#38b977 85.8px,#29af80 86px,#20a486 86.2px,#1f978b 86.5px,#228b8d 86.8px,#375a8c 87.8px,#414387 88.2px,#482575 89px,#481669 89.5px,#460c5f 90px,#450659 90.5px,#450357 91px,#450558 93.2px,#440154 96.8px,#440154 151px)"></i><i style="background:linear-gradient(180deg,#440154 0px,#440154 53.2px,#45065a 56.8px,#450659 59px,#46095c 59.5px,#471063 60px,#481b6d 60.5px,#482a79 61px,#3e4989 61.8px,#33628d 62.2px,#287c8e 62.8px,#1f968b 63.2px,#20a386 63.5px,#2bb07f 63.8px,#3ebc73 64px,#72cf56 64.5px,#a6db35 65px,#bbde27 65.2px,#cce11e 65.5px,#d9e219 65.8px,#e0e318 66px,#e3e418 66.2px,#e1e318 66.5px,#dae319 66.8px,#d0e11c 67px,#c2df23 67.2px,#b1dd2e 67.5px,#88d548 68px,#5fc961 68.5px,#4dc36c 68.8px,#3dbc74 69px,#31b57b 69.2px,#29af80 69.5px,#21a685 70px,#1fa187 70.5px,#1fa287 71px,#23a984 71.5px,#28ae80 71.8px,#30b47c 72px,#3bbb75 72.2px,#5ec962 72.8px,#88d548 73.2px,#c9e01f 74px,#dae319 74.2px,#e9e419 74.5px,#f4e61e 74.8px,#fae723 75px,#fde725 75.2px,#fce724 75.5px,#f7e620 75.8px,#eee51b 76px,#e1e318 76.2px,#d0e11c 76.5px,#bddf26 76.8px,#91d742 77.2px,#66cc5d 77.8px,#41be72 78.2px,#34b779 78.5px,#2ab07f 78.8px,#24aa83 79px,#20a387 79.5px,#1fa287 80.2px,#22a884 80.8px,#2eb37d 81.2px,#38b977 81.5px,#57c766 82px,#80d34d 82.5px,#a9dc33 83px,#cbe11e 83.5px,#d7e21a 83.8px,#dfe318 84px,#e2e418 84.2px,#e2e318 84.5px,#dce319 84.8px,#d2e21b 85px,#c3e023 85.2px,#afdd2f 85.5px,#7dd24f 86px,#48c16e 86.5px,#32b57a 86.8px,#23a984 87px,#1e9b8a 87.2px,#26818e 87.8px,#31678e 88.2px,#414287 89px,#472d7c 89.5px,#481d6f 90px,#471264 90.5px,#460a5d 91px,#45065a 91.5px,#450659 94px,#440154 97.2px,#440154 151px)"></i><i style="background:linear-gradient(180deg,#440154 0px,#440154 52.8px,#46085c 56.2px,#46095c 58.2px,#471163 59.2px,#481a6c 59.8px,#482878 60.2px,#443a83 60.8px,#365c8d 61.5px,#26828e 62.2px,#1e9d89 62.8px,#24aa83 63px,#35b779 63.2px,#4dc36c 63.5px,#86d44a 64px,#bcdf27 64.5px,#d2e21b 64.8px,#e4e418 65px,#f1e51c 65.2px,#f9e621 65.5px,#fde724 65.8px,#fde724 66px,#f9e621 66.2px,#f1e51d 66.5px,#e5e419 66.8px,#d5e21a 67px,#c3e023 67.2px,#97d83f 67.8px,#6acd5b 68.2px,#46c06f 68.8px,#38b977 69px,#2db27d 69.2px,#22a884 69.8px,#1fa187 70.2px,#1fa088 70.8px,#22a784 71.5px,#2bb17e 72px,#34b779 72.2px,#4ec36b 72.8px,#82d44c 73.5px,#a4db36 74px,#b3dd2d 74.2px,#c7e021 74.8px,#cee11d 75.2px,#c9e01f 75.8px,#b8de2a 76.2px,#9bd93c 76.8px,#54c568 77.8px,#38b977 78.2px,#2eb37c 78.5px,#27ae80 78.8px,#21a586 79.2px,#1fa088 79.8px,#1fa088 80.2px,#24aa83 81px,#2ab07f 81.2px,#33b67a 81.5px,#40bd73 81.8px,#62cb5f 82.2px,#a4db36 83px,#cee11d 83.5px,#dfe318 83.8px,#ede51b 84px,#f6e620 84.2px,#fce724 84.5px,#fde725 84.8px,#fbe723 85px,#f4e61f 85.2px,#e9e41a 85.5px,#dae319 85.8px,#c6e021 86px,#91d742 86.5px,#58c765 87px,#3ebc74 87.2px,#2ab07f 87.5px,#1fa287 87.8px,#1f958b 88px,#24878e 88.2px,#34618d 89px,#3e4a89 89.5px,#472b7a 90.2px,#481c6e 90.8px,#471265 91.2px,#470c5f 91.8px,#46095c 92.2px,#46085b 94.5px,#440154 98px,#440154 151px)"></i><i style="background:linear-gradient(180deg,#440154 0px,#440154 52px,#450356 53.5px,#460b5e 55.8px,#470c5f 57.5px,#471063 58.2px,#481668 58.8px,#481f71 59.2px,#472d7b 59.8px,#3e4a89 60.5px,#34608d 61px,#25858e 61.8px,#1f9e89 62.2px,#25ab82 62.5px,#35b779 62.8px,#4cc26c 63px,#83d44b 63.5px,#b9de29 64px,#cfe11d 64.2px,#e1e318 64.5px,#eee51b 64.8px,#f7e620 65px,#fce724 65.2px,#fde725 65.5px,#fbe723 65.8px,#f4e61f 66px,#ebe51a 66.2px,#dde318 66.5px,#cde11d 66.8px,#bade28 67px,#8ed644 67.5px,#63cb5f 68px,#40bd73 68.5px,#33b67a 68.8px,#29af7f 69px,#23a983 69.2px,#1fa088 69.8px,#1f998a 70.5px,#1f9a8a 71px,#20a386 71.8px,#27ad81 72.2px,#2db27d 72.5px,#40bd72 73px,#64cb5e 73.8px,#83d44b 74.5px,#8fd744 75px,#91d743 75.2px,#90d743 75.5px,#86d549 76px,#68cc5c 76.8px,#3aba76 77.8px,#29af7f 78.2px,#24aa83 78.5px,#1e9d89 79.2px,#1f998a 80px,#1e9b8a 80.5px,#22a784 81.2px,#27ad81 81.5px,#2fb37c 81.8px,#3aba76 82px,#49c16d 82.2px,#6fcf57 82.8px,#9bd93c 83.2px,#c5e021 83.8px,#d7e21a 84px,#e6e419 84.2px,#f1e51d 84.5px,#f9e621 84.8px,#fde724 85px,#fde725 85.2px,#fae722 85.5px,#f2e61d 85.8px,#e7e419 86px,#d7e21a 86.2px,#c2df23 86.5px,#8ed644 87px,#57c666 87.5px,#3ebc74 87.8px,#2ab07f 88px,#20a386 88.2px,#1f968b 88.5px,#287d8e 89px,#37598c 89.8px,#443983 90.5px,#482878 91px,#481c6e 91.5px,#481466 92px,#470c5f 93px,#460a5d 95px,#450356 97px,#440154 98.5px,#440154 151px)"></i><i style="background:linear-gradient(180deg,#440154 0px,#440154 51.2px,#450356 52.8px,#470c60 55px,#471164 57.2px,#481b6d 58.2px,#472b7a 59px,#414487 59.8px,#38588c 60.2px,#297b8e 61px,#20938c 61.5px,#1fa088 61.8px,#26ac82 62px,#35b878 62.2px,#4bc26c 62.5px,#80d34d 63px,#b3dd2c 63.5px,#cae01f 63.8px,#dce319 64px,#ebe51a 64.2px,#f5e61f 64.5px,#fbe723 64.8px,#fde725 65px,#fce724 65.2px,#f7e620 65.5px,#efe51c 65.8px,#e3e418 66px,#d5e21a 66.2px,#c3e023 66.5px,#85d44a 67.2px,#5cc863 67.8px,#3bba75 68.2px,#2fb37c 68.5px,#26ac81 68.8px,#1fa188 69.2px,#1f958b 70px,#20938c 70.8px,#1f988b 71.5px,#1f9f88 72px,#22a884 72.5px,#2cb27e 73px,#43bf71 73.8px,#57c766 74.5px,#5fca61 75.2px,#5dc962 75.8px,#54c667 76.2px,#46c06f 76.8px,#2fb37c 77.5px,#24aa83 78px,#21a586 78.2px,#1f968b 79.2px,#20938c 80px,#1f978b 80.8px,#20a486 81.5px,#24aa83 81.8px,#2bb17e 82px,#36b878 82.2px,#44bf71 82.5px,#68cc5c 83px,#92d742 83.5px,#bcdf27 84px,#cee11d 84.2px,#dee318 84.5px,#ebe51a 84.8px,#f4e61f 85px,#fae723 85.2px,#fde725 85.5px,#fce724 85.8px,#f8e621 86px,#efe51c 86.2px,#e2e418 86.5px,#d2e21b 86.8px,#bddf26 87px,#8ad647 87.5px,#55c667 88px,#3ebc74 88.2px,#2bb17e 88.5px,#20a486 88.8px,#1f988b 89px,#277f8e 89.5px,#31688e 90px,#3b528b 90.5px,#433e85 91px,#472e7c 91.5px,#481d6e 92.2px,#471264 93.2px,#470d60 95.5px,#450356 98px,#440154 99.5px,#440154 151px)"></i><i style="background:linear-gradient(180deg,#440154 0px,#440356 51.8px,#470f62 54.5px,#481668 56.8px,#482071 57.8px,#46307e 58.5px,#424086 59px,#3a538b 59.5px,#287d8e 60.5px,#20948c 61px,#1fa088 61.2px,#26ac81 61.5px,#36b878 61.8px,#4cc26c 62px,#7fd34e 62.5px,#b1dd2d 63px,#c7e020 63.2px,#d9e219 63.5px,#e7e419 63.8px,#f2e61d 64px,#f9e621 64.2px,#fde724 64.5px,#fde725 64.8px,#fbe723 65px,#f5e61f 65.2px,#ebe51a 65.5px,#dfe318 65.8px,#cfe11c 66px,#bddf26 66.2px,#92d742 66.8px,#68cc5c 67.2px,#45bf70 67.8px,#2cb17e 68.2px,#24ab82 68.5px,#20a486 68.8px,#1f998a 69.2px,#20928c 69.8px,#228d8d 70.2px,#228d8d 70.8px,#20928c 71.5px,#20a386 72.8px,#25ab82 73.2px,#36b878 74.2px,#3dbc74 74.8px,#40bd72 75.2px,#3ebc74 75.8px,#38b977 76.2px,#26ac81 77.2px,#20a586 77.8px,#1f998a 78.5px,#218e8d 79.5px,#228c8d 80px,#218e8d 80.5px,#20948c 81px,#1e9c89 81.5px,#22a884 82px,#29af80 82.2px,#32b57a 82.5px,#3fbc73 82.8px,#61ca60 83.2px,#8ad547 83.8px,#c8e020 84.5px,#d9e219 84.8px,#e7e419 85px,#f1e51d 85.2px,#f9e621 85.5px,#fde724 85.8px,#fde725 86px,#fbe723 86.2px,#f5e61f 86.5px,#ece51a 86.8px,#dfe318 87px,#cee11d 87.2px,#bade28 87.5px,#8ad547 88px,#56c666 88.5px,#3ebc74 88.8px,#2cb17e 89px,#21a585 89.2px,#1f998a 89.5px,#26818e 90px,#39578c 91px,#414487 91.5px,#46337f 92px,#482273 92.8px,#481769 93.8px,#471062 96px,#450356 98.8px,#440154 100px,#440154 151px)"></i><i style="background:linear-gradient(180deg,#440154 0px,#440154 44.8px,#440254 50px,#450356 51.2px,#471164 53.8px,#481b6d 56.2px,#482676 57.2px,#453581 58px,#3d4d8a 58.8px,#27808e 60px,#1f968b 60.5px,#1fa187 60.8px,#26ad81 61px,#35b778 61.2px,#4ac16d 61.5px,#7bd251 62px,#addc31 62.5px,#c3e023 62.8px,#d6e21a 63px,#e5e419 63.2px,#f1e51c 63.5px,#f8e621 63.8px,#fce724 64px,#fde725 64.2px,#f6e620 64.8px,#e3e418 65.2px,#d6e21a 65.5px,#c6e021 65.8px,#b4dd2c 66px,#8cd646 66.5px,#63cb5f 67px,#40bd72 67.5px,#33b67a 67.8px,#29af80 68px,#22a884 68.2px,#1e9c8a 68.8px,#228b8d 69.8px,#24888e 70.2px,#24888e 71px,#218e8d 71.8px,#1f9e89 73px,#26ac81 74.2px,#2ab07f 75px,#2bb07e 75.5px,#25ab82 76.5px,#1f9f88 77.5px,#228c8d 79px,#24878e 80px,#228d8d 81px,#1f998a 81.8px,#21a585 82.2px,#26ac82 82.5px,#2eb37c 82.8px,#4ac16d 83.2px,#84d44b 84px,#bfdf25 84.8px,#d0e11c 85px,#dee318 85.2px,#f3e61e 85.8px,#fde724 86.2px,#fde725 86.5px,#fae722 86.8px,#f4e61e 87px,#eae51a 87.2px,#dce319 87.5px,#cbe11e 87.8px,#b6de2b 88px,#85d44a 88.5px,#53c568 89px,#3dbc74 89.2px,#2bb17e 89.5px,#21a685 89.8px,#1f9a8a 90px,#29798e 90.8px,#375a8d 91.5px,#3f4889 92px,#46327e 92.8px,#482777 93.2px,#482072 93.8px,#481a6c 94.5px,#471265 96.8px,#450356 99.5px,#440154 105.8px,#440154 151px)"></i><i style="background:linear-gradient(180deg,#440154 0px,#440154 44px,#450357 50.5px,#481669 53.5px,#482072 55.8px,#472b7a 56.8px,#443b83 57.5px,#3b518b 58.2px,#26818e 59.5px,#1f978b 60px,#1fa287 60.2px,#27ad81 60.5px,#35b778 60.8px,#49c16e 61px,#90d743 61.8px,#bedf26 62.2px,#d1e11c 62.5px,#e0e318 62.8px,#ece51b 63px,#f5e61f 63.2px,#fde725 63.8px,#fde724 64px,#f3e61e 64.5px,#dee318 65px,#cfe11c 65.2px,#bedf25 65.5px,#98d83e 66px,#70cf57 66.5px,#4bc26c 67px,#30b47c 67.5px,#27ad81 67.8px,#21a685 68px,#1f998a 68.5px,#228b8d 69.2px,#24868e 69.8px,#26828e 70.5px,#25858e 71.5px,#1f9e89 73.8px,#20a586 75px,#20a486 75.8px,#1fa188 76.5px,#1f978b 77.5px,#23888e 78.8px,#26828e 79.8px,#25838e 80.5px,#24878e 81px,#218e8d 81.5px,#1e9d89 82.2px,#24aa83 82.8px,#2cb17e 83px,#45bf70 83.5px,#68cc5c 84px,#90d743 84.5px,#b7de2a 85px,#c9e020 85.2px,#d8e219 85.5px,#e5e419 85.8px,#f7e620 86.2px,#fde725 86.8px,#f8e621 87.2px,#f0e51c 87.5px,#e6e419 87.8px,#d7e21a 88px,#c6e021 88.2px,#b1dd2e 88.5px,#81d34c 89px,#52c569 89.5px,#3dbb74 89.8px,#2cb17e 90px,#21a685 90.2px,#1e9b8a 90.5px,#287b8e 91.2px,#3d4c8a 92.5px,#453782 93.2px,#482979 94px,#481f71 95px,#481568 97.2px,#46075b 99.2px,#450356 100.2px,#440154 106.5px,#440154 151px)"></i><i style="background:linear-gradient(180deg,#440154 0px,#440154 43.5px,#450457 49.8px,#46095c 50.8px,#481a6c 53px,#482474 55px,#46317e 56.2px,#424086 57px,#39568c 57.8px,#29798e 58.8px,#1f988b 59.5px,#20a387 59.8px,#27ad81 60px,#35b878 60.2px,#48c16e 60.5px,#75d054 61px,#a3db37 61.5px,#cae11f 62px,#dae319 62.2px,#e7e419 62.5px,#f1e51d 62.8px,#f8e621 63px,#fde725 63.5px,#f7e620 64px,#e5e419 64.5px,#d8e219 64.8px,#c8e020 65px,#b6de2a 65.2px,#8fd744 65.8px,#69cd5c 66.2px,#47c06f 66.8px,#2db27d 67.2px,#25ab82 67.5px,#1f9e89 68px,#228d8d 68.8px,#25858e 69.2px,#287d8e 70.2px,#26818e 71.5px,#1f978b 74px,#1e9c89 75.2px,#1f978b 76.5px,#26818e 79px,#287d8e 80px,#277f8e 80.8px,#25848e 81.2px,#21908c 82px,#1fa287 82.8px,#23a984 83px,#2ab07f 83.2px,#41bd72 83.8px,#61ca60 84.2px,#87d549 84.8px,#c1df24 85.5px,#d2e21b 85.8px,#e0e318 86px,#f4e61f 86.5px,#fde724 87px,#fae722 87.5px,#f4e61e 87.8px,#e0e318 88.2px,#d1e11c 88.5px,#c0df25 88.8px,#acdc31 89px,#7fd34e 89.5px,#51c469 90px,#3dbb74 90.2px,#2cb17e 90.5px,#22a785 90.8px,#1e9c89 91px,#287d8e 91.8px,#3b518b 93px,#433d84 93.8px,#472f7d 94.5px,#482475 95.5px,#481b6d 97.5px,#46085b 100px,#450357 101px,#440154 107.2px,#440154 151px)"></i><i style="background:linear-gradient(180deg,#440154 0px,#440154 42.8px,#450458 49px,#46095d 50px,#481e70 52.5px,#472b7a 54.8px,#453681 55.8px,#404588 56.5px,#375a8c 57.2px,#287b8e 58.2px,#1f998a 59px,#20a387 59.2px,#27ad81 59.5px,#35b779 59.8px,#5cc863 60.2px,#8ad547 60.8px,#b6de2b 61.2px,#c8e020 61.5px,#d9e219 61.8px,#e6e419 62px,#f0e51c 62.2px,#f7e620 62.5px,#fde725 63px,#fde724 63.2px,#f3e61e 63.8px,#e0e318 64.2px,#d3e21b 64.5px,#c3e023 64.8px,#b2dd2d 65px,#8bd646 65.5px,#65cb5e 66px,#43bf71 66.5px,#2bb17e 67px,#24aa83 67.2px,#20a387 67.5px,#1f978b 68px,#25848e 69px,#287c8e 69.8px,#29798e 70.5px,#287c8e 71.5px,#218f8d 74px,#20948c 75.2px,#21908d 76.5px,#297b8e 79.2px,#297a8e 80.5px,#277f8e 81.2px,#24868e 81.8px,#1fa088 83px,#22a785 83.2px,#28ae80 83.5px,#3ebc74 84px,#5ec962 84.5px,#84d44b 85px,#bcdf27 85.8px,#cde11d 86px,#dbe319 86.2px,#f0e51c 86.8px,#fce723 87.2px,#fde725 87.5px,#f9e722 88px,#f3e61e 88.2px,#dee318 88.8px,#cfe11c 89px,#bddf26 89.2px,#a9dc33 89.5px,#7cd250 90px,#4fc46a 90.5px,#3cbb75 90.8px,#2cb17e 91px,#22a784 91.2px,#1e9d89 91.5px,#277f8e 92.2px,#39558c 93.5px,#414286 94.2px,#463480 95px,#482a79 96px,#481f70 98px,#46085c 100.8px,#450457 101.8px,#440154 108px,#440154 151px)"></i><i style="background:linear-gradient(180deg,#440154 0px,#440154 42px,#450457 48px,#460a5d 49.2px,#482273 52px,#46307e 54.2px,#453882 55px,#404588 55.8px,#38578c 56.5px,#277e8e 57.8px,#1f998a 58.5px,#20a386 58.8px,#27ad81 59px,#34b679 59.2px,#5ac864 59.8px,#87d549 60.2px,#b3dd2d 60.8px,#c6e021 61px,#d6e21a 61.2px,#e4e418 61.5px,#f6e61f 62px,#fbe723 62.2px,#fde725 62.8px,#fbe723 63px,#f0e51c 63.5px,#dbe319 64px,#cee11d 64.2px,#bedf25 64.5px,#87d549 65.2px,#61ca60 65.8px,#40bd72 66.2px,#29af7f 66.8px,#23a884 67px,#1fa187 67.2px,#238b8d 68.2px,#277f8e 69px,#2a788e 69.8px,#2b758e 70.5px,#2a778e 71.5px,#23888e 74px,#228c8d 75.2px,#24888e 76.8px,#2a778e 79.2px,#2b768e 80.5px,#26818e 81.8px,#218e8d 82.5px,#1f9f88 83.2px,#26ac81 83.8px,#2fb37c 84px,#3bba75 84.2px,#5ac864 84.8px,#93d741 85.5px,#b7de2a 86px,#c8e020 86.2px,#d6e21a 86.5px,#e2e418 86.8px,#f4e61e 87.2px,#fce724 87.8px,#fde725 88px,#f8e621 88.5px,#f2e61d 88.8px,#dce319 89.2px,#cde11e 89.5px,#a6db35 90px,#79d152 90.5px,#4dc36b 91px,#3aba76 91.2px,#2bb17e 91.5px,#22a784 91.8px,#1f9d89 92px,#26818e 92.8px,#375a8c 94px,#3f4788 94.8px,#443983 95.5px,#472f7d 96.5px,#482172 98.8px,#460b5e 101.2px,#450458 102.5px,#440154 108.5px,#440154 151px)"></i><i style="background:linear-gradient(180deg,#440154 0px,#440154 41.2px,#450559 47.5px,#470c5f 48.8px,#482475 51.2px,#453681 53.8px,#424186 54.8px,#3c4f8a 55.5px,#34618d 56.2px,#27808e 57.2px,#1f9a8a 58px,#20a486 58.2px,#27ad81 58.5px,#33b67a 58.8px,#56c666 59.2px,#81d34d 59.8px,#abdc31 60.2px,#cfe11c 60.8px,#dee318 61px,#f2e61d 61.5px,#fce724 62px,#fde725 62.2px,#fce724 62.5px,#f3e61e 63px,#e1e318 63.5px,#d5e21a 63.8px,#b6de2a 64.2px,#93d741 64.8px,#5cc963 65.5px,#3dbc74 66px,#28ae80 66.5px,#22a784 66.8px,#1fa088 67px,#218e8d 67.8px,#26818e 68.5px,#2a778e 69.2px,#2c728e 70px,#2c728e 71.2px,#26818e 73.8px,#25858e 75.2px,#26838e 76.5px,#2c748e 79px,#2d718e 80px,#2b748e 81px,#277f8e 82px,#1f978b 83.2px,#20a486 83.8px,#25ab82 84px,#2db27d 84.2px,#46c06f 84.8px,#67cc5d 85.2px,#8bd646 85.8px,#b0dd2f 86.2px,#cfe11c 86.8px,#dce319 87px,#f0e51c 87.5px,#fbe723 88px,#fde725 88.2px,#fae722 88.8px,#f5e61f 89px,#e3e418 89.5px,#d6e21a 89.8px,#c6e021 90px,#b3dd2c 90.2px,#8ad547 90.8px,#5ec961 91.2px,#39b976 91.8px,#2bb07e 92px,#22a784 92.2px,#1f9e89 92.5px,#25838e 93.2px,#365d8d 94.5px,#3e4c8a 95.2px,#423f85 96px,#453781 96.8px,#482374 99.5px,#460b5e 102px,#450558 103.2px,#440154 109.2px,#440154 151px)"></i><i style="background:linear-gradient(180deg,#440154 0px,#440154 40.8px,#45065a 46.8px,#470d60 48px,#472a79 51px,#443c84 53.2px,#404688 54.2px,#3a538b 55px,#32648e 55.8px,#26818e 56.8px,#1e9b8a 57.5px,#20a486 57.8px,#27ad81 58px,#32b57a 58.2px,#41be72 58.5px,#66cc5d 59px,#8fd744 59.5px,#b6de2a 60px,#c8e020 60.2px,#d7e21a 60.5px,#e4e418 60.8px,#f5e61f 61.2px,#fae723 61.5px,#fde725 62px,#fbe723 62.2px,#f0e51c 62.8px,#dbe319 63.2px,#cee11d 63.5px,#bfdf25 63.8px,#8bd646 64.5px,#68cc5c 65px,#48c16e 65.5px,#2fb47c 66px,#21a685 66.5px,#1f998a 67px,#24888e 67.8px,#297b8e 68.5px,#2d718e 69.5px,#2e6d8e 70.5px,#2d708e 71.8px,#287d8e 74.2px,#277f8e 75.2px,#287d8e 76.5px,#2e6f8e 79.2px,#2e6f8e 80.8px,#2b748e 81.5px,#287d8e 82.2px,#228b8d 83px,#1e9d89 83.8px,#24aa83 84.2px,#2cb17e 84.5px,#43be71 85px,#61ca60 85.5px,#84d44b 86px,#b8de29 86.8px,#c8e020 87px,#d6e21a 87.2px,#e2e418 87.5px,#f4e61e 88px,#fde724 88.5px,#fde725 88.8px,#fce724 89px,#f1e51d 89.5px,#dce319 90px,#cee11d 90.2px,#bddf26 90.5px,#83d44b 91.2px,#5ac864 91.8px,#38b977 92.2px,#2bb07f 92.5px,#22a784 92.8px,#1f9e88 93px,#25848e 93.8px,#31678e 94.8px,#39558c 95.5px,#3f4888 96.2px,#433c84 97.2px,#472b7a 99.5px,#470e61 102.5px,#45065a 103.8px,#440154 110px,#440154 151px)"></i><i style="background:linear-gradient(180deg,#440154 0px,#440154 40px,#46075b 46px,#471063 47.5px,#472f7c 50.5px,#3e4b8a 53.8px,#38578c 54.5px,#31678e 55.2px,#26838e 56.2px,#1e9b8a 57px,#20a486 57.2px,#26ad81 57.5px,#31b57b 57.8px,#40bd73 58px,#63cb5f 58.5px,#8bd647 59px,#b1dd2e 59.5px,#d2e21b 60px,#dfe318 60.2px,#f2e61d 60.8px,#fce724 61.2px,#fde725 61.5px,#fde724 61.8px,#f4e61e 62.2px,#e3e418 62.8px,#d7e21a 63px,#c9e01f 63.2px,#bade28 63.5px,#87d549 64.2px,#64cb5e 64.8px,#46c070 65.2px,#2eb37d 65.8px,#21a585 66.2px,#1f988b 66.8px,#26828e 67.8px,#2a768e 68.5px,#2e6d8e 69.5px,#306a8e 70.5px,#2f6c8e 71.5px,#2a778e 74px,#297a8e 75.2px,#2a788e 76.5px,#2f6b8e 79.2px,#2f6b8e 80.8px,#2d708e 81.5px,#2a788e 82.2px,#25858e 83px,#1e9c89 84px,#23a983 84.5px,#2ab07f 84.8px,#40bd73 85.2px,#5ec962 85.8px,#91d742 86.5px,#b4dd2c 87px,#d2e21b 87.5px,#dee318 87.8px,#f1e51d 88.2px,#fce723 88.8px,#fde725 89px,#fae722 89.5px,#f5e61f 89.8px,#e4e418 90.2px,#d7e21a 90.5px,#c9e01f 90.8px,#b8de29 91px,#7fd34e 91.8px,#58c765 92.2px,#37b878 92.8px,#2ab07f 93px,#22a884 93.2px,#1f9f88 93.5px,#24868e 94.2px,#306a8e 95.2px,#37598c 96px,#3d4d8a 96.8px,#414286 97.8px,#472f7d 100px,#471163 103px,#46075b 104.5px,#440154 110.8px,#440154 151px)"></i><i style="background:linear-gradient(180deg,#440154 0px,#440254 39.2px,#46095c 45.5px,#471365 47px,#482978 49px,#46337f 50px,#3b518b 53.2px,#365c8d 54px,#2f6b8e 54.8px,#25848e 55.8px,#1e9c89 56.5px,#20a486 56.8px,#26ac81 57px,#31b57b 57.2px,#3fbc73 57.5px,#62ca60 58px,#88d548 58.5px,#aedc30 59px,#cfe11d 59.5px,#dce319 59.8px,#efe51c 60.2px,#fae723 60.8px,#fde725 61.2px,#f8e621 61.8px,#f2e61d 62px,#e1e318 62.5px,#d5e21a 62.8px,#b8de29 63.2px,#85d44a 64px,#62ca5f 64.5px,#44bf71 65px,#2cb27d 65.5px,#20a586 66px,#1f988b 66.5px,#26828e 67.5px,#2b768e 68.2px,#2f6b8e 69.2px,#31678e 70.5px,#2b768e 75.2px,#2c738e 76.5px,#30688e 79.2px,#30688e 80.8px,#2e6f8e 81.8px,#2a788e 82.5px,#25858e 83.2px,#1e9c8a 84.2px,#23a884 84.8px,#29af7f 85px,#3ebc74 85.5px,#5cc863 86px,#8fd744 86.8px,#b2dd2d 87.2px,#d0e11c 87.8px,#dce319 88px,#efe51c 88.5px,#fae723 89px,#fde725 89.5px,#f8e621 90px,#f2e61d 90.2px,#e0e318 90.8px,#d4e21a 91px,#c6e021 91.2px,#b5de2b 91.5px,#7dd24f 92.2px,#57c666 92.8px,#36b878 93.2px,#2ab07f 93.5px,#22a784 93.8px,#1f9f88 94px,#24878e 94.8px,#2e6d8e 95.8px,#355d8d 96.5px,#3b528b 97.2px,#3f4788 98.2px,#46327f 100.8px,#481466 103.5px,#46095c 105.2px,#440254 111.2px,#440154 151px)"></i><i style="background:linear-gradient(180deg,#440154 0px,#440255 38.5px,#460a5e 44.8px,#481668 46.5px,#482a79 48.2px,#453581 49.2px,#3d4e8a 52px,#38598c 53px,#32648e 53.8px,#2c738e 54.5px,#228d8d 55.5px,#1e9c89 56px,#20a486 56.2px,#26ac81 56.5px,#30b47b 56.8px,#3ebc74 57px,#60ca61 57.5px,#86d44a 58px,#abdc32 58.5px,#cbe11e 59px,#d8e219 59.2px,#ece51b 59.8px,#f9e621 60.2px,#fde725 60.8px,#fbe723 61.2px,#f1e51c 61.8px,#dfe318 62.2px,#d3e21b 62.5px,#b6de2b 63px,#94d841 63.5px,#60ca61 64.2px,#42be72 64.8px,#2bb17e 65.2px,#20a486 65.8px,#1f978b 66.2px,#24878e 67px,#2c728e 68.2px,#30688e 69.2px,#32648e 70.5px,#2d718e 75.2px,#2e6f8e 76.8px,#32658e 79.5px,#32658e 80.8px,#30698e 81.5px,#2b748e 82.5px,#25858e 83.5px,#1e9b8a 84.5px,#22a884 85px,#28ae80 85.2px,#3dbb74 85.8px,#59c864 86.2px,#8dd645 87px,#b0dd2f 87.5px,#cee11d 88px,#dae319 88.2px,#eee51b 88.8px,#f9e722 89.2px,#fde725 89.8px,#fae722 90.2px,#f0e51c 90.8px,#dde318 91.2px,#d1e11c 91.5px,#b2dd2d 92px,#8dd645 92.5px,#67cc5c 93px,#44bf70 93.5px,#29af7f 94px,#22a784 94.2px,#1f9f88 94.5px,#21908d 95px,#2b758e 96px,#31668e 96.8px,#38578c 97.8px,#453681 101.2px,#472b7a 102.2px,#481467 104.2px,#460b5e 105.8px,#440255 112px,#440154 151px)"></i><i style="background:linear-gradient(180deg,#440154 0px,#440255 38px,#470d60 44.2px,#48196b 46px,#472e7c 47.8px,#443a83 48.8px,#3f4888 50.2px,#365d8d 52.5px,#2b768e 54px,#218e8d 55px,#1e9c89 55.5px,#20a486 55.8px,#26ac82 56px,#2fb37c 56.2px,#3cbb75 56.5px,#5cc863 57px,#81d34d 57.5px,#b7de2a 58.2px,#d4e21b 58.8px,#dfe318 59px,#f1e51d 59.5px,#fbe723 60px,#fde725 60.5px,#f9e622 61px,#eee51b 61.5px,#dbe319 62px,#cfe11d 62.2px,#b2dd2d 62.8px,#90d743 63.2px,#5ec962 64px,#40bd72 64.5px,#2bb07f 65px,#24aa83 65.2px,#1e9d89 65.8px,#24878e 66.8px,#2b758e 67.8px,#30698e 68.8px,#33628d 69.8px,#33628d 71px,#2f6b8e 73.8px,#2e6d8e 75.5px,#34618d 80.2px,#31668e 81.5px,#2d708e 82.5px,#25858e 83.8px,#1f958c 84.5px,#1fa188 85px,#27ae80 85.5px,#3bbb75 86px,#57c766 86.5px,#89d547 87.2px,#bbde27 88px,#d6e21a 88.5px,#e1e318 88.8px,#f2e61d 89.2px,#fbe723 89.8px,#fde725 90.2px,#f8e621 90.8px,#ece51b 91.2px,#d9e219 91.8px,#cce11e 92px,#addc31 92.5px,#88d548 93px,#63cb5f 93.5px,#42be72 94px,#29af80 94.5px,#22a784 94.8px,#1f9f88 95px,#238a8d 95.8px,#2a788e 96.5px,#355e8d 98px,#443b83 101.8px,#472c7b 103px,#481769 104.8px,#470c5f 106.5px,#440255 112.8px,#440154 151px)"></i><i style="background:linear-gradient(180deg,#440154 0px,#440255 37.2px,#470f61 43.5px,#48196b 45.2px,#472e7c 47px,#433e85 48.2px,#34618d 52px,#2a798e 53.5px,#23898e 54.2px,#1e9d89 55px,#20a486 55.2px,#25ab82 55.5px,#39ba76 56px,#57c766 56.5px,#8dd645 57.2px,#b0dd2f 57.8px,#cee11d 58.2px,#dbe319 58.5px,#eee51b 59px,#f9e722 59.5px,#fde725 60px,#fbe723 60.5px,#f1e51d 61px,#e0e318 61.5px,#d6e21a 61.8px,#bbde27 62.2px,#8cd646 63px,#5bc863 63.8px,#3fbd73 64.2px,#2ab07f 64.8px,#20a387 65.2px,#1f978b 65.8px,#26818e 66.8px,#2e6e8e 68px,#33628d 69.2px,#355f8d 70.5px,#30698e 75.2px,#31688e 76.8px,#355f8d 79.8px,#34608d 81px,#31678e 82px,#2c738e 83px,#25848e 84px,#1f948c 84.8px,#1fa188 85.2px,#27ad81 85.8px,#3aba76 86.2px,#55c667 86.8px,#85d44a 87.5px,#b5de2b 88.2px,#d1e11c 88.8px,#dce319 89px,#e6e419 89.2px,#f4e61f 89.8px,#fce724 90.2px,#fde725 90.5px,#fbe723 91px,#f1e51d 91.5px,#dfe318 92px,#d3e21b 92.2px,#b6de2a 92.8px,#82d44c 93.5px,#5ec962 94px,#3fbc73 94.5px,#28ae80 95px,#22a785 95.2px,#1fa088 95.5px,#228c8d 96.2px,#297b8e 97px,#33628d 98.5px,#3e4b8a 101px,#433c84 102.5px,#47307d 103.5px,#481a6c 105.2px,#470f62 107px,#450457 111.8px,#440255 113.5px,#440154 151px)"></i><i style="background:linear-gradient(180deg,#440154 0px,#450356 36.5px,#450558 38.2px,#471164 43px,#481668 44px,#481e70 45px,#46327f 46.5px,#414287 47.8px,#31688e 51.8px,#27808e 53.2px,#1e9d89 54.5px,#25ab82 55px,#2cb27e 55.2px,#44bf70 55.8px,#63cb5f 56.2px,#86d44a 56.8px,#b9de29 57.5px,#d5e21a 58px,#e1e318 58.2px,#f2e61d 58.8px,#fbe723 59.2px,#fde725 59.8px,#fce724 60px,#f4e61e 60.5px,#e5e419 61px,#dbe319 61.2px,#d0e11c 61.5px,#b6de2b 62px,#88d549 62.8px,#59c765 63.5px,#3ebc74 64px,#2ab07f 64.5px,#20a387 65px,#1f978b 65.5px,#26818e 66.5px,#2e6d8e 67.8px,#34618d 69px,#365c8d 70.5px,#31668e 75.2px,#365c8d 79.8px,#355f8d 81.2px,#31668e 82.2px,#2c728e 83.2px,#25848e 84.2px,#20948c 85px,#1fa088 85.5px,#27ad81 86px,#2fb37c 86.2px,#46c070 86.8px,#62ca5f 87.2px,#91d742 88px,#bedf26 88.8px,#d7e21a 89.2px,#eae51a 89.8px,#f7e620 90.2px,#fde724 90.8px,#fde725 91px,#f9e622 91.5px,#ede51b 92px,#dae319 92.5px,#cde11d 92.8px,#afdd2f 93.2px,#8dd645 93.8px,#59c765 94.5px,#3cbb75 95px,#27ad81 95.5px,#1fa088 96px,#20938c 96.5px,#287d8e 97.5px,#31668e 99px,#3c508b 101.5px,#424186 103px,#46337f 104px,#481d6f 105.8px,#481567 106.8px,#471163 107.8px,#450558 112.2px,#450356 114.2px,#440154 151px)"></i><i style="background:linear-gradient(180deg,#440154 0px,#440154 30.2px,#450356 36px,#45065a 38px,#481567 42.8px,#481d6e 44px,#482878 45px,#443983 46.2px,#3d4c8a 47.8px,#33638d 50.5px,#2e6e8e 51.5px,#26828e 52.8px,#1f9e89 54px,#24aa83 54.5px,#2bb17e 54.8px,#41be72 55.2px,#5ec962 55.8px,#91d743 56.5px,#b2dd2d 57px,#cfe11c 57.5px,#dce319 57.8px,#eee51b 58.2px,#f9e722 58.8px,#fde725 59.2px,#fde724 59.5px,#f7e620 60px,#eae51a 60.5px,#d7e21a 61px,#bfdf25 61.5px,#84d44b 62.5px,#57c766 63.2px,#3dbc74 63.8px,#29af7f 64.2px,#23a983 64.5px,#1e9d89 65px,#24868e 66px,#2c738e 67px,#31668e 68px,#365d8d 69.2px,#375a8c 71px,#33638d 75.5px,#375a8c 80px,#355e8d 81.5px,#2f6b8e 83px,#277f8e 84.2px,#20948c 85.2px,#1fa088 85.8px,#27ad81 86.2px,#2eb37c 86.5px,#44bf70 87px,#60ca61 87.5px,#8ed645 88.2px,#bade28 89px,#d3e21b 89.5px,#e7e419 90px,#f5e61f 90.5px,#fce724 91px,#fde725 91.2px,#fbe723 91.8px,#f1e51d 92.2px,#e0e318 92.8px,#d5e21a 93px,#b9de29 93.5px,#86d549 94.2px,#65cb5e 94.8px,#46c06f 95.2px,#2fb37c 95.8px,#27ad81 96px,#1fa088 96.5px,#20948c 97px,#25848e 97.8px,#2d708e 99px,#33628d 100.2px,#3d4d8a 102.8px,#443b83 104.2px,#481d6f 106.5px,#481467 108px,#46075a 112.5px,#450356 114.5px,#440154 120.2px,#440154 151px)"></i><i style="background:linear-gradient(180deg,#440154 0px,#440154 29.5px,#450457 35.2px,#45065a 37px,#48176a 42.2px,#482071 43.5px,#472b7a 44.5px,#433d84 45.8px,#3b508b 47.2px,#2c728e 51px,#25858e 52.2px,#1f9e89 53.5px,#24aa83 54px,#2bb17e 54.2px,#3fbd73 54.8px,#5bc864 55.2px,#8bd646 56px,#bbde27 56.8px,#d6e21a 57.2px,#e1e318 57.5px,#f1e51d 58px,#fbe723 58.5px,#fde725 59px,#f5e61f 59.8px,#e8e419 60.2px,#d5e21a 60.8px,#bcdf27 61.2px,#82d44c 62.2px,#56c667 63px,#3cbb75 63.5px,#29af7f 64px,#23a983 64.2px,#1e9d89 64.8px,#26818e 66px,#2d708e 67px,#33638d 68px,#375b8d 69.2px,#38588c 71px,#34608d 75.5px,#38588c 80px,#365b8d 81.5px,#31688e 83px,#277f8e 84.5px,#20948c 85.5px,#1fa088 86px,#26ad81 86.5px,#2eb37d 86.8px,#43bf71 87.2px,#5ec962 87.8px,#8bd646 88.5px,#b7de2a 89.2px,#d0e11c 89.8px,#e5e419 90.2px,#f3e61e 90.8px,#fbe723 91.2px,#fde725 91.8px,#f9e621 92.2px,#ede51b 92.8px,#dae319 93.2px,#cee11d 93.5px,#b2dd2d 94px,#92d742 94.5px,#61ca60 95.2px,#44bf70 95.8px,#2eb37c 96.2px,#27ad81 96.5px,#1fa188 97px,#1f958b 97.5px,#24868e 98.2px,#2c738e 99.5px,#30688e 100.5px,#3b518b 103.2px,#443b83 105px,#482172 107px,#481769 108.5px,#46075a 113.5px,#450457 115.2px,#440154 121.2px,#440154 151px)"></i><i style="background:linear-gradient(180deg,#440154 0px,#440254 28.5px,#450457 34.5px,#46075a 36.2px,#48196b 41.5px,#482374 43px,#472e7c 44px,#424086 45.2px,#3a548c 46.8px,#2a788e 50.8px,#24868e 51.8px,#1f9f88 53px,#24ab82 53.5px,#2bb07e 53.8px,#3ebc74 54.2px,#58c765 54.8px,#86d549 55.5px,#b5dd2b 56.2px,#d0e11c 56.8px,#dbe319 57px,#e5e419 57.2px,#f3e61e 57.8px,#fbe723 58.2px,#fde725 58.8px,#f4e61f 59.5px,#e7e419 60px,#d3e21b 60.5px,#bbde28 61px,#8fd744 61.8px,#62ca60 62.5px,#47c06f 63px,#31b57b 63.5px,#29af80 63.8px,#20a387 64.2px,#1f978b 64.8px,#287d8e 66px,#31668e 67.5px,#375a8c 69px,#39568c 70.8px,#355e8d 75.2px,#39568c 79.5px,#37598c 81.5px,#33628d 82.8px,#2e6e8e 83.8px,#23898d 85.2px,#1fa088 86.2px,#26ac81 86.8px,#2db27d 87px,#42be72 87.5px,#5cc863 88px,#89d548 88.8px,#b5de2b 89.5px,#cfe11d 90px,#e3e418 90.5px,#f2e61d 91px,#fbe723 91.5px,#fde725 92px,#fae722 92.5px,#f0e51c 93px,#dfe318 93.5px,#d4e21a 93.8px,#bade28 94.2px,#8cd645 95px,#5ec962 95.8px,#43be71 96.2px,#2eb37d 96.8px,#27ad81 97px,#1fa187 97.5px,#1f978b 98px,#23888e 98.8px,#29798e 99.8px,#2e6f8e 100.8px,#39558c 103.8px,#433e85 105.5px,#472c7b 106.8px,#482273 107.8px,#481a6c 109px,#46075b 114.2px,#450457 116px,#440254 122px,#440154 151px)"></i><i style="background:linear-gradient(180deg,#440154 0px,#440254 27.8px,#450558 33.8px,#46085b 35.5px,#481c6e 41px,#482677 42.5px,#424086 44.5px,#38588c 46.2px,#297b8e 50.2px,#23888e 51.2px,#1fa088 52.5px,#25ab82 53px,#2bb17e 53.2px,#3dbc74 53.8px,#56c666 54.2px,#91d743 55.2px,#bcdf27 56px,#d5e21a 56.5px,#dfe318 56.8px,#efe51c 57.2px,#f9e622 57.8px,#fde725 58.2px,#fbe723 58.8px,#f4e61e 59.2px,#e6e419 59.8px,#d2e21b 60.2px,#b9de29 60.8px,#8dd645 61.5px,#60ca61 62.2px,#45c070 62.8px,#30b47b 63.2px,#28ae80 63.5px,#20a287 64px,#1f978b 64.5px,#287d8e 65.8px,#31668e 67.2px,#38588c 68.8px,#3a548b 70.5px,#375b8d 75px,#3a548b 79.8px,#38578c 81.5px,#345f8d 82.8px,#2e6f8e 84px,#238a8d 85.5px,#1fa088 86.5px,#26ac82 87px,#2db27d 87.2px,#41bd72 87.8px,#5ac864 88.2px,#87d549 89px,#b4dd2c 89.8px,#cee11d 90.2px,#e3e418 90.8px,#f1e51d 91.2px,#fae723 91.8px,#fde725 92.2px,#fae723 92.8px,#f1e51d 93.2px,#e3e418 93.8px,#cee11d 94.2px,#b4dd2c 94.8px,#88d549 95.5px,#5bc863 96.2px,#42be72 96.8px,#2eb37d 97.2px,#27ad81 97.5px,#22a884 97.8px,#1e9d89 98.2px,#238a8d 99.2px,#287c8e 100.2px,#34618d 103.5px,#39568c 104.5px,#424286 106px,#47307d 107.2px,#482575 108.2px,#481d6f 109.5px,#46085b 115px,#450458 117px,#440254 123px,#440154 151px)"></i><i style="background:linear-gradient(180deg,#440154 0px,#440255 26.8px,#450558 32.8px,#46085c 34.8px,#481f71 40.5px,#482777 41.8px,#46327f 42.8px,#414387 44px,#365c8d 45.8px,#31668e 46.8px,#26808e 50px,#218e8d 51px,#1fa188 52px,#25ab82 52.5px,#2bb17e 52.8px,#3dbb74 53.2px,#61ca60 54px,#8cd646 54.8px,#b6de2b 55.5px,#cee11d 56px,#e2e418 56.5px,#f1e51d 57px,#fae722 57.5px,#fde725 58px,#fbe723 58.5px,#f3e61e 59px,#e5e419 59.5px,#d1e11c 60px,#b7de2a 60.5px,#8bd646 61.2px,#5ec961 62px,#44bf70 62.5px,#30b47c 63px,#28ae80 63.2px,#20a287 63.8px,#1f978b 64.2px,#287e8e 65.5px,#33638d 67.2px,#39568c 68.8px,#3b528b 70.5px,#38588c 75px,#3b528b 80px,#39568c 81.8px,#365d8d 82.8px,#2f6c8e 84px,#238a8d 85.8px,#1fa088 86.8px,#25ac82 87.2px,#2cb27e 87.5px,#40bd73 88px,#59c765 88.5px,#85d44a 89.2px,#bfdf25 90.2px,#d7e21a 90.8px,#e1e318 91px,#f1e51c 91.5px,#fae722 92px,#fde725 92.5px,#fbe723 93px,#f3e61e 93.5px,#e5e419 94px,#d3e21b 94.5px,#bbde27 95px,#91d742 95.8px,#59c765 96.8px,#41bd72 97.2px,#2eb37d 97.8px,#27ad81 98px,#22a884 98.2px,#1f9e89 98.8px,#228c8d 99.8px,#277f8e 100.8px,#31678e 103.8px,#375a8c 105px,#404588 106.5px,#46337f 107.8px,#482878 108.8px,#482071 110px,#46095c 115.8px,#450559 117.8px,#440255 123.8px,#440154 151px)"></i><i style="background:linear-gradient(180deg,#440154 0px,#440255 26px,#450659 32px,#46095c 34px,#482374 40px,#472b7a 41.2px,#453580 42.2px,#404788 43.5px,#34608d 45.2px,#2f6c8e 46.5px,#25838e 49.5px,#21908c 50.5px,#1fa287 51.5px,#25ac82 52px,#2bb17e 52.2px,#46c06f 53px,#5ec962 53.5px,#87d549 54.2px,#bddf26 55.2px,#d3e21b 55.8px,#e6e419 56.2px,#f3e61e 56.8px,#fbe723 57.2px,#fde725 57.8px,#fae723 58.2px,#f2e61d 58.8px,#e3e418 59.2px,#cfe11c 59.8px,#b5de2b 60.2px,#8ad547 61px,#5ec962 61.8px,#44bf70 62.2px,#2fb47c 62.8px,#28ae80 63px,#23a884 63.2px,#1e9d89 63.8px,#277e8e 65.2px,#306a8e 66.5px,#365b8d 67.8px,#3a548b 68.8px,#3b508b 70.5px,#39568c 75.8px,#3b508b 80.2px,#39558c 82px,#33628d 83.5px,#287c8e 85.2px,#1f958b 86.5px,#1fa088 87px,#26ac82 87.5px,#2cb17e 87.8px,#3fbd73 88.2px,#58c765 88.8px,#93d742 89.8px,#bedf26 90.5px,#d6e21a 91px,#e0e318 91.2px,#efe51c 91.8px,#f9e722 92.2px,#fde725 92.8px,#fce724 93.2px,#f5e61f 93.8px,#e9e419 94.2px,#d7e219 94.8px,#c1df23 95.2px,#8cd645 96.2px,#63cb5f 97px,#40bd73 97.8px,#2eb37d 98.2px,#27ae80 98.5px,#23a884 98.8px,#1f9f88 99.2px,#218e8d 100.2px,#26828e 101.2px,#2f6b8e 104.2px,#355e8d 105.5px,#3f4889 107px,#453681 108.2px,#472b7a 109.2px,#482273 110.8px,#46095d 116.5px,#450659 118.5px,#440255 124.5px,#440154 151px)"></i><i style="background:linear-gradient(180deg,#440154 0px,#440255 25.2px,#45065a 31.2px,#460a5d 33.2px,#482676 39.5px,#472e7c 40.8px,#423f85 42.2px,#34608d 44.5px,#2d708e 46px,#24868e 49px,#20928c 50px,#1f9e89 50.8px,#26ac82 51.5px,#3bba75 52.2px,#5cc863 53px,#83d44c 53.8px,#b8de29 54.8px,#cfe11d 55.2px,#e2e418 55.8px,#f5e61f 56.5px,#fce724 57px,#fde725 57.5px,#fae722 58px,#f0e51c 58.5px,#e2e318 59px,#cde11d 59.5px,#b4dd2c 60px,#89d548 60.8px,#5dc962 61.5px,#44bf70 62px,#30b47c 62.5px,#28ae80 62.8px,#20a387 63.2px,#1f988b 63.8px,#297a8e 65.2px,#34608d 67px,#3a538b 68.5px,#3c4f8a 70.2px,#3a548b 75px,#3c4f8a 80px,#3b528b 81.8px,#375a8c 83px,#30698e 84.2px,#287d8e 85.5px,#1e9b8a 87px,#21a685 87.5px,#26ac82 87.8px,#2cb27d 88px,#3fbd73 88.5px,#58c765 89px,#83d44c 89.8px,#bcdf27 90.8px,#d4e21b 91.2px,#e7e419 91.8px,#f4e61e 92.2px,#fbe723 92.8px,#fde725 93.2px,#fae722 93.8px,#f2e61d 94.2px,#e5e419 94.8px,#d3e21b 95.2px,#bddf26 95.8px,#88d548 96.8px,#61ca60 97.5px,#3fbc73 98.2px,#28ae80 99px,#1fa088 99.8px,#21908c 100.8px,#24878e 101.5px,#2d718e 104.5px,#34618d 106px,#3e4b8a 107.5px,#443a83 108.8px,#472d7b 110px,#482575 111.2px,#460a5e 117.2px,#45065a 119.2px,#440255 125.2px,#440154 151px)"></i><i style="background:linear-gradient(180deg,#440154 0px,#440255 24.5px,#46075a 30.2px,#460b5e 32.5px,#482878 38.8px,#46317e 40.2px,#433c84 41.2px,#3d4d8a 42.5px,#31668e 44.2px,#2b768e 45.8px,#228c8d 48.8px,#1f9f88 50.2px,#22a884 50.8px,#2bb17e 51.2px,#43bf71 52px,#65cc5d 52.8px,#8dd645 53.5px,#bfdf25 54.5px,#d5e21a 55px,#e6e419 55.5px,#f3e61e 56px,#fae723 56.5px,#fde725 57px,#fbe723 57.5px,#f4e61e 58px,#e8e419 58.5px,#d6e21a 59px,#c0df25 59.5px,#88d548 60.5px,#5ec962 61.2px,#45bf70 61.8px,#30b47b 62.2px,#29af80 62.5px,#20a386 63px,#1f988b 63.5px,#297b8e 65px,#34618d 66.8px,#3b528b 68.5px,#3d4d8a 70.2px,#3b528b 75.2px,#3d4d8a 80.5px,#3b518b 82px,#375a8d 83.2px,#30698e 84.5px,#287d8e 85.8px,#1e9c8a 87.2px,#22a785 87.8px,#26ac81 88px,#2db27d 88.2px,#40bd73 88.8px,#59c765 89.2px,#83d44c 90px,#bbde28 91px,#d2e21b 91.5px,#e5e419 92px,#f2e61d 92.5px,#fae722 93px,#fde725 93.5px,#fbe723 94px,#f5e61f 94.5px,#e1e318 95.2px,#cfe11d 95.8px,#b8de29 96.2px,#85d44a 97.2px,#5ec962 98px,#3dbc74 98.8px,#28ae80 99.5px,#1fa188 100.2px,#238a8d 102px,#2b748e 105px,#32648e 106.5px,#424086 109px,#46307d 110.5px,#482878 111.8px,#460b5e 118px,#46075a 120.2px,#440255 126.2px,#440154 151px)"></i><i style="background:linear-gradient(180deg,#440154 0px,#440255 24px,#46075b 29.5px,#460c5f 31.8px,#482072 36px,#46337f 39.5px,#414387 41px,#30698e 43.8px,#29798e 45.2px,#218f8d 48.2px,#1fa088 49.8px,#22a884 50.2px,#2bb17e 50.8px,#42be72 51.5px,#63cb5f 52.2px,#89d548 53px,#bcdf27 54px,#d2e11b 54.5px,#e3e418 55px,#f5e61f 55.8px,#fce723 56.2px,#fde725 56.8px,#fae723 57.2px,#f3e61e 57.8px,#e6e419 58.2px,#d5e21a 58.8px,#bedf25 59.2px,#89d548 60.2px,#52c569 61.2px,#3bba75 61.8px,#29af7f 62.2px,#24aa83 62.5px,#1f9e89 63px,#23898d 64px,#2f6b8e 65.8px,#37598c 67.2px,#3c508b 68.5px,#3e4c8a 70.2px,#3c508b 75.2px,#3e4c8a 80.2px,#3b518b 82.2px,#34608d 84px,#29798e 85.8px,#1f978b 87.2px,#1fa287 87.8px,#27ad81 88.2px,#2eb37d 88.5px,#41be72 89px,#5ac864 89.5px,#83d44b 90.2px,#bade28 91.2px,#d1e11c 91.8px,#e3e418 92.2px,#f1e51c 92.8px,#f9e722 93.2px,#fde725 94px,#fae722 94.5px,#f3e61e 95px,#e6e419 95.5px,#d5e21a 96px,#c0df24 96.5px,#8ed644 97.5px,#68cc5c 98.2px,#46c06f 99px,#34b779 99.5px,#28ae80 100px,#1fa287 100.8px,#21908d 102.2px,#297a8e 105.2px,#306a8e 106.8px,#3c4e8a 108.8px,#433e85 110px,#463480 111px,#482172 114.5px,#470c5f 118.8px,#46085b 121px,#440255 126.8px,#440154 151px)"></i><i style="background:linear-gradient(180deg,#440154 0px,#440256 23px,#46085b 28.5px,#470e61 31.2px,#482374 35.5px,#453681 39px,#404688 40.5px,#2f6c8e 43.2px,#297a8e 44.5px,#24868e 46px,#20948c 48px,#1fa287 49.2px,#23a984 49.8px,#2bb17e 50.2px,#41bd72 51px,#60ca60 51.8px,#86d44a 52.5px,#b8de29 53.5px,#cee11d 54px,#e0e318 54.5px,#eee51b 55px,#f7e621 55.5px,#fde725 56.2px,#f9e722 57px,#f1e51d 57.5px,#e5e419 58px,#d3e21b 58.5px,#bedf26 59px,#89d548 60px,#47c06f 61.2px,#2ab07f 62px,#20a586 62.5px,#20948c 63.2px,#287c8e 64.5px,#355f8d 66.5px,#3c508b 68.2px,#3e4a89 70.2px,#3c4f8a 75.2px,#3e4a89 80.2px,#3c4e8a 82px,#39568c 83.2px,#31678e 84.8px,#277e8e 86.2px,#1e9d89 87.8px,#22a884 88.2px,#28ae80 88.5px,#38b977 89px,#5bc864 89.8px,#83d44b 90.5px,#b9de29 91.5px,#cfe11c 92px,#e1e318 92.5px,#efe51c 93px,#f8e621 93.5px,#fde725 94.2px,#f9e621 95px,#f0e51c 95.5px,#e3e418 96px,#d2e21b 96.5px,#bddf26 97px,#8bd647 98px,#65cb5e 98.8px,#45bf70 99.5px,#34b779 100px,#28ae80 100.5px,#21a785 101px,#1fa088 101.5px,#20938c 102.8px,#2a798e 106.2px,#39558c 109px,#414487 110.2px,#453782 111.5px,#482374 115px,#470d60 119.5px,#46085b 122px,#440256 127.5px,#440154 151px)"></i><i style="background:linear-gradient(180deg,#440154 0px,#450356 22.2px,#46085b 27.2px,#470f62 30.5px,#482475 34.8px,#443a83 38.5px,#404688 39.8px,#375a8c 41.2px,#287d8e 44px,#21908c 46.5px,#1fa088 48.5px,#21a685 49px,#27ad81 49.5px,#31b57b 50px,#40bd73 50.5px,#5ec962 51.2px,#8fd744 52.2px,#c0df25 53.2px,#d4e21a 53.8px,#e5e419 54.2px,#f1e51d 54.8px,#f9e622 55.2px,#fde725 56px,#f8e621 56.8px,#f0e51c 57.2px,#e3e418 57.8px,#d2e21b 58.2px,#bddf26 58.8px,#89d547 59.8px,#54c568 60.8px,#3dbb74 61.2px,#2bb17e 61.8px,#25ab82 62px,#1fa088 62.5px,#1f958c 63px,#26818e 64px,#30698e 65.5px,#38588c 67px,#3d4d8a 68.5px,#3f4989 70.2px,#3d4d8a 75.2px,#3f4989 80.2px,#3d4e8a 82.2px,#355e8d 84.2px,#297b8e 86.2px,#1f988b 87.8px,#20a387 88.2px,#28ae80 88.8px,#30b47c 89px,#43bf71 89.5px,#5cc863 90px,#84d44b 90.8px,#b8de29 91.8px,#cee11d 92.2px,#e0e318 92.8px,#eee51b 93.2px,#f7e620 93.8px,#fde725 94.5px,#fae722 95.2px,#f3e61e 95.8px,#e8e419 96.2px,#d8e219 96.8px,#c4e022 97.2px,#94d841 98.2px,#62cb5f 99.2px,#43bf71 100px,#34b679 100.5px,#29af80 101px,#22a884 101.5px,#1fa187 102px,#20928c 103.8px,#277e8e 106.5px,#365b8d 109.2px,#3f4788 110.8px,#443b83 112px,#482575 115.8px,#470f62 120px,#46085b 123.2px,#450356 128.2px,#440154 151px)"></i><i style="background:linear-gradient(180deg,#440154 0px,#450356 21.5px,#46085b 26px,#471063 29.8px,#481769 31.5px,#482777 34.2px,#433d85 38px,#3e4989 39.2px,#365d8d 40.8px,#2b748e 42.5px,#26838e 43.8px,#1f958b 46.2px,#1fa287 48px,#28ae80 49px,#31b57b 49.5px,#3fbd73 50px,#5cc863 50.8px,#8bd647 51.8px,#bbde27 52.8px,#d0e11c 53.2px,#e1e318 53.8px,#f3e61e 54.5px,#fae722 55px,#fde725 55.8px,#f7e621 56.5px,#efe51c 57px,#e2e418 57.5px,#d1e11c 58px,#bcdf27 58.5px,#89d547 59.5px,#55c667 60.5px,#3ebc74 61px,#2cb17e 61.5px,#25ac82 61.8px,#1fa088 62.2px,#1f958b 62.8px,#2a798e 64.2px,#365d8d 66.2px,#3d4d8a 68.2px,#3f4788 70.5px,#3d4c8a 75.2px,#3f4788 80.2px,#3d4c8a 82.2px,#38578c 83.8px,#31688e 85.2px,#27808e 86.8px,#1f9e89 88.2px,#23a983 88.8px,#29af80 89px,#3aba76 89.5px,#50c46a 90px,#84d44b 91px,#b7de2a 92px,#cde11d 92.5px,#dfe318 93px,#f2e61d 93.8px,#f9e722 94.2px,#fde725 95px,#f9e621 95.8px,#f0e51c 96.2px,#e4e419 96.8px,#d4e21b 97.2px,#c0df25 97.8px,#90d743 98.8px,#60ca61 99.8px,#43be71 100.5px,#34b779 101px,#29af7f 101.5px,#20a386 102.5px,#1f958b 104.2px,#25848e 106.8px,#2b768e 108px,#375b8d 110px,#404588 111.8px,#443982 113.2px,#482475 116.8px,#471063 120.8px,#46085b 124.5px,#450356 129px,#440154 151px)"></i><i style="background:linear-gradient(180deg,#440154 0px,#450357 21px,#46085c 25px,#471264 29.2px,#482777 33.2px,#443b84 36.8px,#3f4788 38.2px,#38598c 39.8px,#297a8e 42.2px,#24888e 43.5px,#1f988b 45.8px,#20a486 47.5px,#26ac82 48.2px,#2db27d 48.8px,#38b977 49.2px,#47c06f 49.8px,#64cb5e 50.5px,#92d742 51.5px,#c1df24 52.5px,#d5e21a 53px,#e5e419 53.5px,#f0e51c 54px,#f8e621 54.5px,#fde725 55.2px,#fae722 56px,#f3e61e 56.5px,#e1e318 57.2px,#d0e11c 57.8px,#bbde28 58.2px,#89d548 59.2px,#55c667 60.2px,#3ebc74 60.8px,#2cb27e 61.2px,#26ac81 61.5px,#1fa187 62px,#228c8d 63px,#2b758e 64.2px,#375b8d 66.2px,#3e4c8a 68.2px,#404688 70.5px,#3e4b89 75.2px,#404688 80.2px,#3e4b89 82.2px,#38578c 84px,#30698e 85.5px,#26808e 87px,#20948c 88px,#1f9f88 88.5px,#24aa83 89px,#29af7f 89.2px,#3aba76 89.8px,#50c46a 90.2px,#84d44b 91.2px,#b6de2a 92.2px,#d5e21a 93px,#e5e419 93.5px,#f1e51d 94px,#f9e621 94.5px,#fde725 95.2px,#fae722 96px,#f2e61d 96.5px,#e7e419 97px,#d8e219 97.5px,#cfe11c 97.8px,#bade28 98.2px,#8bd646 99.2px,#5dc962 100.2px,#42be72 101px,#34b779 101.5px,#2ab07f 102px,#24aa83 102.5px,#20a387 103.2px,#1f978b 105px,#24878e 107.2px,#2a788e 108.5px,#375a8c 110.8px,#3f4889 112.2px,#433c84 113.8px,#482676 117.5px,#48196b 119.8px,#471164 121.5px,#46085b 125.8px,#450356 129.8px,#440154 151px)"></i><i style="background:linear-gradient(180deg,#440154 0px,#450457 20.2px,#46085b 23.8px,#471365 28.5px,#481a6c 30.2px,#482878 32.5px,#433e85 36.2px,#3e4b89 37.8px,#38588c 39px,#287d8e 41.8px,#238b8d 43px,#1f9a8a 45px,#20a486 46.8px,#24ab82 47.5px,#2ab07f 48px,#38b977 48.8px,#46c06f 49.2px,#61ca60 50px,#8dd645 51px,#bbde27 52px,#cfe11c 52.5px,#d8e219 52.8px,#e7e419 53.2px,#f2e61d 53.8px,#f9e722 54.2px,#fde725 55px,#f9e622 55.8px,#f2e61d 56.2px,#dfe318 57px,#cee11d 57.5px,#b9de28 58px,#88d548 59px,#55c667 60px,#3fbc73 60.5px,#2db27d 61px,#26ad81 61.2px,#22a784 61.5px,#1e9c89 62px,#277f8e 63.5px,#31678e 65px,#39568c 66.5px,#3e4a89 68.2px,#404588 70.5px,#3f4989 75.2px,#404588 80px,#3e4a89 82.2px,#3b518b 83.5px,#375a8c 84.5px,#2b748e 86.5px,#238b8d 87.8px,#1f9f88 88.8px,#24aa83 89.2px,#2ab07f 89.5px,#3bba76 90px,#50c46a 90.5px,#83d44c 91.5px,#b5dd2b 92.5px,#d4e21b 93.2px,#e4e418 93.8px,#f0e51c 94.2px,#f8e621 94.8px,#fde725 95.5px,#fae723 96.2px,#f4e61e 96.8px,#e3e418 97.5px,#d3e21b 98px,#bfdf25 98.5px,#92d742 99.5px,#65cb5e 100.5px,#49c16e 101.2px,#3bba76 101.8px,#2bb17e 102.5px,#25ac82 103px,#21a586 103.8px,#1f9a8a 105.5px,#228c8d 107.5px,#277e8e 108.8px,#375a8c 111.5px,#3e4b8a 112.8px,#423f85 114.2px,#482878 118px,#481b6d 120.2px,#481366 122px,#46085b 126.8px,#450457 130.2px,#440154 151px)"></i><i style="background:linear-gradient(180deg,#440154 0px,#450457 19.5px,#46095c 23px,#481567 28px,#481e70 30px,#453581 33.8px,#3f4788 36.5px,#38588c 38.2px,#2b758e 40.5px,#228d8d 42.5px,#1e9b8a 44.2px,#21a586 46px,#24aa83 46.8px,#2bb17e 47.5px,#39b977 48.2px,#45bf70 48.8px,#68cc5c 49.8px,#93d741 50.8px,#bfdf25 51.8px,#d2e21b 52.2px,#e2e418 52.8px,#f3e61e 53.5px,#fae722 54px,#fde725 54.8px,#f8e621 55.5px,#f1e51c 56px,#dee318 56.8px,#cce11e 57.2px,#b8de2a 57.8px,#87d549 58.8px,#55c667 59.8px,#3fbc73 60.2px,#27ad81 61px,#1fa287 61.5px,#20938c 62.2px,#2a778e 63.8px,#32658e 65px,#37598c 66px,#3c508b 67px,#3f4989 68.2px,#414387 70.8px,#3f4889 75.2px,#414487 80.2px,#3f4989 82.5px,#39568c 84.2px,#31678e 85.8px,#24878e 87.8px,#1f968b 88.5px,#1fa088 89px,#25ab82 89.5px,#2ab07f 89.8px,#3bba75 90.2px,#5cc863 91px,#82d34c 91.8px,#b3dd2c 92.8px,#d2e21b 93.5px,#e2e418 94px,#f3e61e 94.8px,#fae722 95.2px,#fde725 96px,#f8e621 96.8px,#f1e51c 97.2px,#e5e419 97.8px,#d6e21a 98.2px,#b9de29 99px,#6cce5a 100.8px,#48c16e 101.8px,#3bba75 102.2px,#2db27d 103px,#25ab82 103.8px,#21a685 104.5px,#1e9b8a 106.2px,#218e8d 108px,#2a778e 110px,#37598c 112.2px,#404688 114.2px,#453681 116.8px,#481e70 120.5px,#481467 122.8px,#46085c 127.8px,#450457 131.2px,#440154 151px)"></i><i style="background:linear-gradient(180deg,#440154 0px,#440255 11.2px,#450458 18.8px,#46095c 22px,#481668 27.2px,#481f70 29.2px,#453581 32.8px,#3f4889 35.8px,#38588c 37.5px,#2a778e 40px,#218f8d 42px,#1e9c89 43.5px,#21a685 45.2px,#26ac81 46.2px,#2db27d 47px,#39ba76 47.8px,#45bf70 48.2px,#53c568 48.8px,#6ece58 49.5px,#b9de29 51.2px,#d5e21a 52px,#e4e419 52.5px,#f4e61f 53.2px,#fbe723 53.8px,#fde725 54.5px,#f8e621 55.2px,#efe51c 55.8px,#e3e418 56.2px,#d4e21b 56.8px,#b6de2b 57.5px,#85d44a 58.5px,#54c667 59.5px,#3fbd73 60px,#27ad81 60.8px,#20a387 61.2px,#20938c 62px,#2a788e 63.5px,#32658e 64.8px,#37598c 65.8px,#3c508b 66.8px,#3f4889 68px,#414287 70.5px,#404688 75.2px,#414287 80.2px,#3f4888 82.5px,#3a538b 84.2px,#32648e 85.8px,#297a8e 87.2px,#1e9c8a 89px,#21a685 89.5px,#25ab82 89.8px,#3bbb75 90.5px,#5bc863 91.2px,#80d34d 92px,#b1dd2e 93px,#d0e11c 93.8px,#e1e318 94.2px,#f2e61d 95px,#f9e722 95.5px,#fde725 96.2px,#fbe723 96.8px,#f6e620 97.2px,#e7e419 98px,#d8e219 98.5px,#bddf26 99.2px,#68cd5c 101.2px,#48c16e 102.2px,#3bbb75 102.8px,#2fb37c 103.5px,#27ad81 104.2px,#21a785 105.2px,#1e9d89 107px,#21908c 108.5px,#29798e 110.5px,#37598c 113px,#3f4989 114.8px,#453681 117.8px,#481f71 121.2px,#481668 123.2px,#46095c 128.5px,#450457 132px,#440154 151px)"></i><i style="background:linear-gradient(180deg,#440154 0px,#440255 10.5px,#450558 18px,#46095d 21.2px,#48186a 26.8px,#482172 28.8px,#453580 31.8px,#3e4989 35px,#38598c 36.8px,#297a8e 39.5px,#20918c 41.5px,#1f9e88 43px,#22a784 44.5px,#2db27d 46.2px,#36b878 47px,#45bf70 47.8px,#52c569 48.2px,#6bcd5a 49px,#9dd93b 50.2px,#bcdf27 51px,#cfe11c 51.5px,#dfe318 52px,#f1e51d 52.8px,#f9e621 53.2px,#fde725 54px,#fae722 54.8px,#f3e61e 55.2px,#e2e418 56px,#d2e21b 56.5px,#b4dd2c 57.2px,#84d44b 58.2px,#5fca61 59px,#3fbd73 59.8px,#28ae80 60.5px,#20a486 61px,#1f948c 61.8px,#2b758e 63.5px,#33638d 64.8px,#38578c 65.8px,#3c4e8a 66.8px,#404788 68px,#424186 70.5px,#404588 75.2px,#424186 80.2px,#3f4788 82.8px,#3a548b 84.5px,#32658e 86px,#25848e 88px,#1e9c89 89.2px,#21a785 89.8px,#26ac82 90px,#3bbb75 90.8px,#5bc864 91.5px,#7fd34e 92.2px,#bade28 93.5px,#cee11d 94px,#dfe318 94.5px,#f1e51d 95.2px,#f9e621 95.8px,#fde725 96.5px,#fce724 97px,#f3e61e 97.8px,#e2e418 98.5px,#d2e21b 99px,#c0df24 99.5px,#6ece58 101.5px,#55c667 102.2px,#42be72 103px,#34b779 103.8px,#2bb17e 104.5px,#21a685 106.2px,#1f9d89 107.8px,#20938c 109px,#2a788e 111.2px,#38578c 114px,#3f4889 115.8px,#463480 119px,#482072 122px,#481769 124px,#460a5d 129.2px,#450458 132.8px,#440255 140.2px,#440154 151px)"></i><i style="background:linear-gradient(180deg,#440154 0px,#440255 9.8px,#450558 17.2px,#460a5d 20.5px,#48196b 26px,#482273 28px,#463480 30.8px,#39578c 35.8px,#2a788e 38.8px,#20938c 41px,#1f9f88 42.2px,#22a784 43.5px,#28ae80 44.8px,#2fb37c 45.8px,#38b977 46.5px,#45c070 47.2px,#58c765 48px,#70cf57 48.8px,#bfdf25 50.8px,#d1e11b 51.2px,#e1e318 51.8px,#f2e61d 52.5px,#fbe723 53.2px,#fde725 53.8px,#f9e722 54.5px,#f2e61d 55px,#e0e318 55.8px,#d0e11c 56.2px,#bddf26 56.8px,#83d44c 58px,#5fc961 58.8px,#3fbd73 59.5px,#28ae80 60.2px,#23a983 60.5px,#1f9f88 61px,#24878e 62.2px,#33638d 64.5px,#3a528b 66px,#404688 67.8px,#424086 70.2px,#414487 75.2px,#424086 80px,#404688 82.8px,#3d4d8a 84px,#39568c 85px,#2b748e 87.2px,#20938c 89px,#1fa287 89.8px,#22a784 90px,#2cb17e 90.5px,#45bf70 91.2px,#66cc5d 92px,#8ad547 92.8px,#b8de29 93.8px,#d5e21a 94.5px,#e5e419 95px,#f0e51c 95.5px,#f8e621 96px,#fde725 96.8px,#fce724 97.2px,#f4e61e 98px,#e4e418 98.8px,#d5e21a 99.2px,#bade28 100px,#6bcd5a 102px,#54c568 102.8px,#42be71 103.5px,#36b878 104.2px,#2eb37d 105px,#21a685 107.2px,#1f9e89 108.5px,#20928c 109.8px,#2a768e 112px,#39558c 115px,#46337f 120px,#482173 122.8px,#48186a 124.8px,#460a5d 130.2px,#450558 133.5px,#440255 141px,#440154 151px)"></i><i style="background:linear-gradient(180deg,#440154 0px,#440255 9px,#450559 16.2px,#460a5e 19.5px,#481a6c 25.2px,#482575 27.5px,#443a83 30.8px,#39558c 34.8px,#30698e 36.8px,#20938c 40.2px,#1e9d89 41.2px,#21a586 42.2px,#30b47c 45px,#3aba76 46px,#46c06f 46.8px,#57c766 47.5px,#6dce59 48.2px,#88d548 49px,#c2e023 50.5px,#d4e21b 51px,#e3e418 51.5px,#f3e61e 52.2px,#fce724 53px,#fde725 53.5px,#fbe723 54px,#f1e51d 54.8px,#dfe318 55.5px,#cfe11d 56px,#bbde27 56.5px,#82d34c 57.8px,#5fc961 58.5px,#40bd73 59.2px,#29af80 60px,#24aa83 60.2px,#1fa088 60.8px,#228d8d 61.8px,#2e6f8e 63.5px,#3a538b 65.8px,#3e4b89 66.8px,#414487 68px,#424086 70.5px,#414287 75.2px,#424086 80.5px,#404688 83px,#3b528b 84.8px,#33638d 86.2px,#24868e 88.5px,#1f9e89 89.8px,#27ad81 90.5px,#3cbb75 91.2px,#5ac864 92px,#89d548 93px,#b7de2a 94px,#d4e21b 94.8px,#e3e418 95.2px,#f4e61e 96px,#fae722 96.5px,#fde725 97.2px,#fbe723 97.8px,#f5e61f 98.2px,#e5e419 99px,#d7e21a 99.5px,#bddf26 100.2px,#71cf57 102.2px,#5ac864 103px,#48c16e 103.8px,#3cbb75 104.5px,#30b47b 105.5px,#21a685 108.2px,#1e9b8a 109.5px,#20918c 110.5px,#306a8e 113.8px,#39568c 115.8px,#443983 120px,#482576 123px,#481a6c 125.2px,#460c5f 130.5px,#450559 134.2px,#440255 141.8px,#440154 151px)"></i><i style="background:linear-gradient(180deg,#440154 0px,#440255 8.5px,#450659 15.5px,#470c5f 19.2px,#481b6d 24.5px,#482676 26.8px,#443b84 30px,#38588c 34.2px,#2e6e8e 36.5px,#20928c 39.5px,#20a386 41.2px,#26ac81 42.5px,#35b779 44.8px,#40bd73 45.8px,#4cc26c 46.5px,#5dc962 47.2px,#73d056 48px,#bcdf27 50px,#d6e21a 50.8px,#e5e419 51.2px,#f4e61e 52px,#fce724 52.8px,#fde725 53.2px,#f8e621 54px,#f0e51c 54.5px,#dee318 55.2px,#cde11d 55.8px,#bade28 56.2px,#81d34d 57.5px,#5fc961 58.2px,#40bd73 59px,#29af7f 59.8px,#1fa188 60.5px,#1f978b 61px,#23898e 61.8px,#2d708e 63.2px,#3a538b 65.5px,#3e4b89 66.5px,#414487 67.8px,#433f85 70.5px,#424186 75.2px,#433f85 80.5px,#404588 83.2px,#3c508b 84.8px,#32648e 86.5px,#24878e 88.8px,#1f9f88 90px,#27ad81 90.8px,#3cbb75 91.5px,#5ac864 92.2px,#88d548 93.2px,#b5de2b 94.2px,#d3e21b 95px,#e2e418 95.5px,#f3e61e 96.2px,#fae722 96.8px,#fde725 97.5px,#fbe723 98px,#f2e61d 98.8px,#e1e318 99.5px,#d2e11b 100px,#c0df24 100.5px,#76d054 102.5px,#59c765 103.5px,#49c16d 104.2px,#3ebc74 105px,#34b679 106px,#20a486 109.2px,#20938c 111px,#2f6c8e 114.2px,#37598c 116.2px,#433c84 120.5px,#482676 123.8px,#481b6d 126px,#470e61 130.8px,#450659 135px,#440255 142.2px,#440154 151px)"></i><i style="background:linear-gradient(180deg,#440154 0px,#440256 8.2px,#45065a 15px,#470f62 19.5px,#481d6f 24px,#482878 26.2px,#433e85 29.5px,#355d8d 34px,#2d708e 36px,#20938c 39px,#20a386 40.5px,#28ae80 42px,#38b977 44.2px,#42be71 45.2px,#4dc36b 46px,#63cb5f 47px,#78d152 47.8px,#c0df24 49.8px,#d1e11c 50.2px,#e0e318 50.8px,#f1e51d 51.5px,#fbe723 52.2px,#fde725 52.8px,#fae722 53.5px,#f4e61e 54px,#e4e419 54.8px,#d5e21a 55.2px,#b9de29 56px,#8cd646 57px,#5fc961 58px,#41bd72 58.8px,#2ab07f 59.5px,#1fa187 60.2px,#20938c 61px,#2d718e 63px,#345f8d 64.2px,#3b518b 65.5px,#3f4989 66.5px,#414287 67.8px,#433e85 70.5px,#424086 75.2px,#433e85 80.5px,#414487 83.2px,#3c4e8a 84.8px,#34618d 86.5px,#25848e 88.8px,#1f968b 89.8px,#1fa088 90.2px,#28ae80 91px,#3dbc74 91.8px,#5bc864 92.5px,#88d548 93.5px,#b5dd2b 94.5px,#d2e21b 95.2px,#e1e318 95.8px,#f2e61d 96.5px,#f9e722 97px,#fde725 97.8px,#fce723 98.2px,#f3e61e 99px,#e3e418 99.8px,#d4e21a 100.2px,#c3e022 100.8px,#8cd646 102.2px,#73d055 103px,#5fc961 103.8px,#4fc46a 104.5px,#44bf71 105.2px,#39ba76 106.2px,#29af7f 108.5px,#20a486 110px,#1e9d89 110.8px,#20928c 111.8px,#2d718e 114.5px,#355e8d 116.5px,#433f85 121px,#482978 124.2px,#481c6e 126.8px,#470e61 131.8px,#45065a 135.8px,#440255 142.8px,#440154 151px)"></i><i style="background:linear-gradient(180deg,#440154 0px,#450356 7.5px,#46075a 14px,#470f62 18.2px,#481e70 23.2px,#472a7a 25.8px,#424186 29px,#34608d 33.5px,#2c728e 35.5px,#20928c 38.2px,#20a387 39.8px,#2bb17e 41.5px,#3ebc74 44px,#48c16e 45px,#53c568 45.8px,#62cb5f 46.5px,#7ed24f 47.5px,#c3e022 49.5px,#d4e21b 50px,#e2e418 50.5px,#f2e61d 51.2px,#fbe723 52px,#fde725 52.5px,#fae722 53.2px,#f3e61e 53.8px,#e3e418 54.5px,#d4e21a 55px,#b8de29 55.8px,#8cd645 56.8px,#5fca61 57.8px,#42be72 58.5px,#2bb07e 59.2px,#1fa287 60px,#20948c 60.8px,#2c728e 62.8px,#34608d 64px,#3b528b 65.2px,#3e4989 66.2px,#414287 67.5px,#433d85 70.5px,#433d85 80.8px,#414487 83.5px,#3c4f8a 85px,#33628d 86.8px,#25858e 89px,#1f978b 90px,#1fa088 90.5px,#28af80 91.2px,#3ebc74 92px,#5bc863 92.8px,#88d548 93.8px,#b4dd2c 94.8px,#d1e11c 95.5px,#e1e318 96px,#f2e61d 96.8px,#f9e622 97.2px,#fde725 98px,#fce724 98.5px,#f4e61e 99.2px,#e4e419 100px,#d7e21a 100.5px,#bedf26 101.2px,#79d152 103.2px,#65cb5e 104px,#51c469 105px,#46c06f 105.8px,#3dbb74 106.8px,#2ab07f 109.2px,#1fa187 111px,#1f978b 112px,#25858e 113.5px,#2d718e 115.2px,#34618d 117px,#424086 121.8px,#472b7a 124.8px,#481e70 127.2px,#470f62 132.2px,#46075a 136.5px,#450356 143px,#440154 151px)"></i><i style="background:linear-gradient(180deg,#440254 0px,#450356 7.2px,#46075b 13.5px,#471164 18px,#482071 22.8px,#472d7b 25.2px,#414286 28.2px,#32658e 33.2px,#2b758e 35px,#23888e 36.8px,#1f978b 38px,#1fa287 39px,#2eb37c 41px,#44bf70 43.8px,#4ec36b 44.8px,#59c864 45.5px,#69cd5c 46.2px,#7cd250 47px,#bedf25 49px,#d6e21a 49.8px,#e4e418 50.2px,#f3e61e 51px,#fce723 51.8px,#fde725 52.2px,#fae722 53px,#f3e61e 53.5px,#e3e418 54.2px,#d4e21a 54.8px,#b8de29 55.5px,#8dd645 56.5px,#60ca60 57.5px,#43be71 58.2px,#2cb17e 59px,#20a386 59.8px,#1f958b 60.5px,#2d6f8e 62.8px,#355e8d 64px,#3c508b 65.2px,#424186 67.5px,#433c84 70.2px,#433d84 80.8px,#414387 83.5px,#3d4d8a 85px,#34608d 86.8px,#26828e 89px,#1e9d89 90.5px,#24ab82 91.2px,#2fb47c 91.8px,#3fbd73 92.2px,#5cc863 93px,#88d548 94px,#b4dd2c 95px,#d1e11c 95.8px,#e0e318 96.2px,#f1e51d 97px,#f9e621 97.5px,#fde725 98.2px,#fce724 98.8px,#f5e61f 99.5px,#e6e419 100.2px,#d2e21b 101px,#c2df23 101.5px,#7fd34e 103.5px,#6bcd5a 104.2px,#57c766 105.2px,#45bf70 106.8px,#2fb37c 109.5px,#20a386 111.5px,#20928c 113px,#2b768e 115.5px,#33638d 117.5px,#414287 122.2px,#472c7b 125.5px,#481f71 128px,#471063 133px,#46075b 137.2px,#450356 143.8px,#440254 151px)"></i><i style="background:linear-gradient(180deg,#440255 0px,#450457 7.2px,#46085b 12.8px,#471265 17.2px,#482172 22px,#472e7c 24.5px,#404487 27.8px,#31678e 32.8px,#2b748e 34.2px,#24878e 36px,#1f968b 37.2px,#1fa287 38.2px,#25ac82 39.2px,#34b679 40.8px,#4cc26c 43.8px,#5cc863 45px,#6fce58 46px,#82d44c 46.8px,#c2df23 48.8px,#d9e219 49.5px,#e6e419 50px,#f4e61e 50.8px,#fce724 51.5px,#fde725 52px,#fce723 52.5px,#f3e61e 53.2px,#e3e418 54px,#d4e21a 54.5px,#b9de29 55.2px,#8ed645 56.2px,#62ca60 57.2px,#44bf71 58px,#2db27d 58.8px,#20a486 59.5px,#1f968b 60.2px,#27808e 61.5px,#32668e 63.2px,#3b518b 65px,#424186 67.2px,#443c84 70.2px,#433c84 80.8px,#414286 83.5px,#3e4b8a 85px,#355e8d 86.8px,#26838e 89.2px,#1f9d89 90.8px,#25ab82 91.5px,#30b47b 92px,#40bd72 92.5px,#5dc962 93.2px,#89d547 94.2px,#b5de2b 95.2px,#d1e11c 96px,#e0e318 96.5px,#f1e51d 97.2px,#fbe723 98px,#fde725 98.8px,#fbe723 99.2px,#f2e61d 100px,#e2e418 100.8px,#d5e21a 101.2px,#bddf26 102px,#85d44a 103.8px,#6bcd5a 104.8px,#5dc962 105.5px,#4dc36b 106.8px,#35b779 109.8px,#26ac81 111.2px,#20a387 112.2px,#1f948c 113.5px,#2c738e 116.5px,#39558c 120.5px,#453781 124.8px,#482273 128.5px,#471265 133.2px,#46085c 137.8px,#450357 143.5px,#440255 151px)"></i><i style="background:linear-gradient(180deg,#440255 0px,#450457 6.5px,#46095c 12px,#471365 16.5px,#482374 21.5px,#453782 25px,#39558c 29.2px,#2b748e 33.5px,#1f958b 36.5px,#20a386 37.8px,#27ad81 38.8px,#37b877 40.2px,#53c568 43.5px,#62ca5f 44.8px,#75d054 45.8px,#88d548 46.5px,#bedf26 48.2px,#d4e21a 49px,#e7e419 49.8px,#f5e61f 50.5px,#fce724 51.2px,#fde725 51.8px,#f9e722 52.5px,#f3e61e 53px,#e3e418 53.8px,#d5e21a 54.2px,#bade28 55px,#84d44b 56.2px,#59c765 57.2px,#3cbb75 58px,#28ae80 58.8px,#1fa088 59.5px,#238a8d 60.8px,#2e6e8e 62.5px,#3c4f8b 65px,#404588 66.2px,#423f85 67.5px,#443b84 70.5px,#443b84 81px,#414287 83.8px,#3d4c8a 85.2px,#355f8d 87px,#25848e 89.5px,#1f9e89 91px,#26ac81 91.8px,#32b57b 92.2px,#42be72 92.8px,#5fc961 93.5px,#8bd647 94.5px,#b6de2b 95.5px,#d1e11b 96.2px,#e0e318 96.8px,#f1e51d 97.5px,#fbe723 98.2px,#fde725 99px,#fbe723 99.5px,#f2e61e 100.2px,#e4e418 101px,#d7e21a 101.5px,#c1df24 102.2px,#84d44b 104.2px,#72cf56 105px,#64cb5e 105.8px,#54c568 107px,#38b977 110.2px,#26ac81 112px,#1fa287 113px,#20938c 114.2px,#2c738e 117.2px,#3a548c 121.5px,#453882 125.5px,#482374 129.2px,#471264 134.5px,#46085c 138.8px,#450457 144.2px,#440255 151px)"></i><i style="background:linear-gradient(180deg,#440255 0px,#450558 7px,#460a5d 11.5px,#481568 16.2px,#482576 21px,#443a83 24.5px,#39568c 28.5px,#2a778e 33px,#20948c 35.8px,#20a387 37px,#27ad81 38px,#3bba76 39.8px,#59c765 43.2px,#69cd5b 44.5px,#76d053 45.2px,#8ed645 46.2px,#c1df24 48px,#d7e21a 48.8px,#e3e418 49.2px,#f5e61f 50.2px,#fce724 51px,#fde725 51.5px,#f9e722 52.2px,#f3e61e 52.8px,#e4e418 53.5px,#d5e21a 54px,#bbde28 54.8px,#85d44a 56px,#5ac864 57px,#3ebc74 57.8px,#29af80 58.5px,#1fa187 59.2px,#1f988b 59.8px,#238b8d 60.5px,#2d6f8e 62.2px,#365b8d 63.8px,#3d4e8a 65px,#404487 66.2px,#433e85 67.5px,#443a83 70.5px,#443b83 81px,#424186 83.8px,#3d4d8a 85.5px,#34608d 87.2px,#25858e 89.8px,#1f968b 90.8px,#1f9f88 91.2px,#27ad81 92px,#33b67a 92.5px,#43be71 93px,#60ca60 93.8px,#8cd646 94.8px,#b7de2a 95.8px,#d2e21b 96.5px,#e1e318 97px,#f1e51d 97.8px,#fbe723 98.5px,#fde725 99.2px,#fbe723 99.8px,#f3e61e 100.5px,#e5e419 101.2px,#d3e21b 102px,#c4e022 102.5px,#8ad547 104.5px,#78d152 105.2px,#66cc5d 106.2px,#58c765 107.5px,#3cbb75 110.8px,#25ab82 112.8px,#1fa187 113.8px,#1f958b 114.8px,#2b758e 117.8px,#39558c 122.2px,#443982 126.2px,#482575 129.8px,#481467 134.8px,#46095d 139.2px,#450458 144.2px,#440255 151px)"></i><i style="background:linear-gradient(180deg,#440255 0px,#450559 6.5px,#460a5e 10.8px,#481669 15.5px,#482677 20.2px,#443b83 23.8px,#38578c 27.8px,#2a778e 32.2px,#20938c 35px,#1fa287 36.2px,#26ac81 37.2px,#3ebc74 39.2px,#4bc26d 40.5px,#60ca61 43px,#6fcf58 44.2px,#7cd24f 45px,#8dd645 45.8px,#c4e022 47.8px,#d9e219 48.5px,#e5e419 49px,#f6e61f 50px,#fce724 50.8px,#fde725 51.2px,#f9e722 52px,#efe51c 52.8px,#dee318 53.5px,#cee11d 54px,#b2dd2d 54.8px,#87d549 55.8px,#5cc863 56.8px,#3fbd73 57.5px,#2ab07f 58.2px,#1fa287 59px,#1f998a 59.5px,#228c8d 60.2px,#2f6d8e 62.2px,#37598c 63.8px,#3d4d8a 65px,#414387 66.2px,#433e85 67.5px,#443a83 70.5px,#443a83 81px,#424086 83.8px,#3d4c8a 85.5px,#355e8d 87.2px,#24868e 90px,#1f978b 91px,#1fa088 91.5px,#28ae80 92.2px,#3cbb75 93px,#58c765 93.8px,#83d44c 94.8px,#b8de29 96px,#d3e21b 96.8px,#e2e418 97.2px,#f2e61d 98px,#fbe723 98.8px,#fde725 99.5px,#fbe723 100px,#f4e61e 100.8px,#e7e419 101.5px,#d5e21a 102.2px,#c0df24 103px,#8fd743 104.8px,#7ed34e 105.5px,#6dce59 106.5px,#5ec962 107.8px,#3fbd73 111.2px,#27ad81 113.2px,#20a387 114.2px,#1f948c 115.5px,#2a788e 118.2px,#38588c 122.8px,#443a83 127px,#482676 130.5px,#481567 135.5px,#460a5d 140px,#450559 144.5px,#440255 151px)"></i><i style="background:linear-gradient(180deg,#450356 0px,#45065a 6.5px,#460b5e 10px,#48196b 15.2px,#482978 19.8px,#414387 24px,#375a8c 27.2px,#29798e 31.8px,#1f958b 34.5px,#20a386 35.8px,#28ae80 36.8px,#44bf70 39px,#52c569 40.2px,#67cc5d 42.8px,#76d054 44px,#93d741 45.5px,#c1df24 47.2px,#d5e21a 48px,#e6e419 48.8px,#f3e61e 49.5px,#fbe723 50.2px,#fde725 51px,#fae722 51.8px,#efe51c 52.5px,#dee318 53.2px,#cfe11c 53.8px,#b4dd2c 54.5px,#89d548 55.5px,#5ec962 56.5px,#41bd72 57.2px,#2bb07e 58px,#20a387 58.8px,#1f958b 59.5px,#2d718e 61.8px,#355d8d 63.2px,#3d4d8a 64.8px,#414487 66px,#433e85 67.2px,#443982 70.2px,#443983 81px,#423f85 83.8px,#3e4a89 85.5px,#365c8d 87.2px,#26838e 90px,#1e9d89 91.5px,#24aa83 92.2px,#2eb37c 92.8px,#3dbc74 93.2px,#59c864 94px,#85d44a 95px,#bade28 96.2px,#d4e21a 97px,#e2e418 97.5px,#f2e61d 98.2px,#fbe723 99px,#fde725 99.8px,#fce723 100.2px,#f4e61f 101px,#e8e419 101.8px,#d7e21a 102.5px,#c3e022 103.2px,#95d840 105px,#80d34d 106px,#74d055 106.8px,#68cc5c 107.8px,#50c46a 110.5px,#43be71 111.8px,#29af80 113.8px,#1fa287 115px,#20948c 116.2px,#2a788e 119px,#38598c 123.5px,#443b83 127.8px,#482878 131px,#48176a 135.8px,#460b5e 140.8px,#45065a 144.5px,#440256 151px)"></i></div>
<div class="h" style="left:156px;top:227px;width:87px;height:170px;background:#f7f7f7"><i style="background:linear-gradient(90deg,#f7f7f7 -0.5px,#f7f6f5,#f7f6f6,#f6f7f7,#f5f6f7,#f6f7f7,#f7f7f6,#f7f6f6,#f7f7f7 7.5px)"></i><i style="background:linear-gradient(90deg,#f7f7f7 -0.5px,#f7f6f5,#f7f5f4,#f7f6f6,#f6f7f7,#f5f6f7,#f6f6f7,#f7f7f6,#f7f6f6,#f7f6f6,#f7f7f7 9.5px)"></i><i style="background:linear-gradient(90deg,#f7f7f7 0.5px,#f7f6f5,#f7f5f4,#f7f6f5,#f6f7f7,#f5f6f7,#f5f6f7,#f7f7f7,#f7f6f5,#f7f6f5,#f7f7f7 10.5px)"></i><i style="background:linear-gradient(90deg,#f7f7f7 -0.5px,#f4f6f6,#f6f7f7,#f7f6f5,#f7f5f3,#f7f6f5,#f6f7f7,#f5f6f7,#f5f6f7,#f6f7f7,#f7f6f5,#f7f6f5,#f7f7f7 11.5px)"></i><i style="background:linear-gradient(90deg,#f7f7f7 -0.5px,#f4f6f6,#f4f5f6,#f6f6f7,#f7f6f5,#f8f4f2,#f7f5f4,#f6f7f7,#f4f6f7,#f4f6f6,#f6f7f7,#f7f6f5,#f7f5f4,#f7f6f5,#f7f7f7,#f6f6f7,#f7f7f7 15.5px)"></i><i style="background:linear-gradient(90deg,#f7f7f7 0.5px,#f4f6f6,#f3f5f6,#f5f6f7,#f7f6f5,#f8f4f2,#f7f5f3,#f7f7f7,#f4f6f6,#f4f5f6,#f6f6f7,#f7f6f5,#f7f5f4,#f7f6f5,#f7f7f7,#f6f6f7,#f6f6f7,#f7f7f7 17.5px)"></i><i style="background:linear-gradient(90deg,#f7f7f7 -0.5px,#f8f5f3,#f7f7f6,#f4f5f6,#f3f5f6,#f5f6f7,#f7f6f5,#f8f4f2,#f8f4f2,#f7f7f6,#f4f6f6,#f3f5f6,#f5f6f7,#f7f6f5,#f7f5f4,#f7f6f5,#f7f7f6,#f6f6f7,#f6f6f7,#f7f7f7 18.5px)"></i><i style="background:linear-gradient(90deg,#f7f7f7 -0.5px,#f8f4f2,#f8f4f2,#f7f6f6,#f4f5f6,#f2f5f6,#f4f6f6,#f7f6f5,#f8f4f1,#f8f4f2,#f7f6f6,#f4f6f6,#f3f5f6,#f5f6f7,#f7f6f6,#f7f5f3,#f7f5f4,#f7f7f6,#f6f6f7,#f5f6f7,#f7f7f7 19.5px)"></i><i style="background:linear-gradient(90deg,#f7f7f7 0.5px,#f8f4f2,#f8f4f2,#f7f6f5,#f4f6f6,#f2f4f6,#f4f5f6,#f7f6f5,#f8f3f1,#f8f3f1,#f7f6f6,#f4f6f6,#f2f5f6,#f4f6f7,#f7f6f6,#f7f5f3,#f7f5f4,#f7f6f6,#f5f6f7,#f5f6f7,#f6f7f7,#f7f6f6,#f7f6f6,#f7f7f7 23.5px)"></i><i style="background:linear-gradient(90deg,#f7f7f7 -0.5px,#f4f6f6,#f7f6f6,#f8f4f2,#f8f3f1,#f7f6f5,#f4f6f6,#f1f4f6,#f3f5f6,#f7f6f6,#f8f3f0,#f8f3f0,#f7f6f5,#f4f5f6,#f2f5f6,#f4f6f6,#f7f6f6,#f8f4f3,#f7f5f3,#f7f6f6,#f5f6f7,#f5f6f7,#f6f6f7,#f7f7f6,#f7f6f6,#f7f7f7 24.5px)"></i><i style="background:linear-gradient(90deg,#f7f7f7 -0.5px,#f3f5f6,#f4f5f6,#f7f7f6,#f8f4f2,#f8f3f0,#f7f5f4,#f4f5f6,#f0f4f6,#f2f5f6,#f7f6f6,#f8f3f0,#f8f2ef,#f7f5f4,#f4f5f6,#f1f4f6,#f3f5f6,#f7f6f6,#f8f4f2,#f8f4f2,#f7f6f6,#f5f6f7,#f5f6f7,#f6f6f7,#f7f7f6,#f7f6f5,#f7f6f6,#f7f7f7 26.5px)"></i><i style="background:linear-gradient(90deg,#f7f7f7 -0.5px,#f6f6f7,#f3f5f6,#f3f5f6,#f7f7f7,#f8f3f1,#f8f2ef,#f7f5f3,#f4f5f6,#eff3f6,#f1f4f6,#f7f7f6,#f8f2ef,#f8f2ee,#f7f5f3,#f3f5f6,#f0f4f6,#f3f5f6,#f7f6f6,#f8f4f2,#f8f4f2,#f7f6f5,#f5f6f7,#f4f6f6,#f5f6f7,#f7f7f6,#f7f6f5,#f7f6f5,#f7f7f7 27.5px)"></i><i style="background:linear-gradient(90deg,#f7f7f7 -0.5px,#f7f5f4,#f5f6f7,#f2f5f6,#f2f5f6,#f7f7f7,#f8f3f0,#f8f1ed,#f8f4f2,#f3f5f6,#eef3f5,#f0f4f6,#f7f7f6,#f8f2ee,#f8f1ec,#f8f5f3,#f3f5f6,#eff3f6,#f2f5f6,#f7f6f6,#f8f3f1,#f8f3f1,#f7f6f5,#f5f6f7,#f4f5f6,#f5f6f7,#f7f7f6,#f7f6f5,#f7f6f5,#f7f7f7 28.5px)"></i><i style="background:linear-gradient(90deg,#f7f7f7 -0.5px,#f8f4f2,#f7f5f4,#f5f6f7,#f1f4f6,#f2f4f6,#f7f7f7,#f8f2ef,#f8f1ec,#f8f4f2,#f3f5f6,#edf2f5,#eff3f6,#f7f7f6,#f8f1ed,#f9f0eb,#f8f4f2,#f3f5f6,#eef3f5,#f1f4f6,#f7f6f6,#f8f3f0,#f8f3f0,#f7f6f5,#f5f6f7,#f3f5f6,#f5f6f7,#f7f7f6,#f7f6f5,#f7f6f5,#f7f7f7 29.5px)"></i><i style="background:linear-gradient(90deg,#f7f7f7 -0.5px,#f7f5f3,#f8f4f1,#f7f5f4,#f5f6f7,#f0f4f6,#f1f4f6,#f7f7f6,#f8f2ee,#f9f0eb,#f8f4f1,#f2f5f6,#ecf2f5,#eef3f5,#f7f6f6,#f8f0eb,#f9efe9,#f8f4f2,#f2f5f6,#edf2f5,#f0f4f6,#f7f6f6,#f8f2ef,#f8f2ef,#f7f6f5,#f4f6f7,#f3f5f6,#f5f6f7,#f7f6f6,#f7f6f4,#f7f6f5,#f7f7f7 30.5px)"></i><i style="background:linear-gradient(90deg,#f7f7f7 0.5px,#f8f5f3,#f8f3f1,#f7f5f4,#f4f6f6,#f0f3f6,#f0f4f6,#f7f7f6,#f8f1ed,#f9efe9,#f8f4f1,#f1f4f6,#eaf1f5,#edf2f5,#f7f6f6,#f9efea,#f9eee8,#f8f4f2,#f1f4f6,#ecf2f5,#f0f4f6,#f7f6f6,#f8f2ee,#f8f2ee,#f7f6f5,#f4f6f6,#f2f5f6,#f4f6f7,#f7f6f6,#f7f5f4,#f7f6f5,#f7f7f7 31.5px)"></i><i style="background:linear-gradient(90deg,#f7f7f7 -0.5px,#f5f6f7,#f7f7f6,#f8f4f2,#f8f3f0,#f7f5f4,#f3f5f6,#eff3f5,#f0f4f6,#f7f6f6,#f8f0eb,#f9eee8,#f8f4f1,#f0f4f6,#e9f0f4,#edf2f5,#f7f6f5,#f9eee8,#f9ede7,#f8f4f2,#f0f4f6,#ebf1f5,#f0f3f6,#f7f6f5,#f8f1ed,#f8f2ee,#f7f6f5,#f3f5f6,#f2f5f6,#f4f6f6,#f7f6f6,#f7f5f4,#f7f5f4,#f7f7f7 32.5px)"></i><i style="background:linear-gradient(90deg,#f7f7f7 -0.5px,#f4f6f7,#f5f6f7,#f7f6f6,#f8f4f2,#f8f3f0,#f7f5f4,#f3f5f6,#eef3f5,#f0f4f6,#f7f6f5,#f9efea,#f9eee7,#f8f4f1,#eff3f6,#e8f0f4,#ecf2f5,#f7f5f4,#f9ede6,#f9ede5,#f8f4f2,#eff3f6,#eaf1f5,#eff3f6,#f7f5f4,#f8f1ec,#f8f1ed,#f7f6f5,#f3f5f6,#f2f4f6,#f4f6f6,#f7f6f6,#f7f5f3,#f7f5f4,#f7f7f7 33.5px)"></i><i style="background:linear-gradient(90deg,#f7f7f7 -0.5px,#f6f6f7,#f4f6f6,#f5f6f7,#f7f6f6,#f8f4f1,#f8f3f0,#f7f5f4,#f2f5f6,#edf2f5,#eff3f6,#f7f6f5,#f9eee8,#f9ede6,#f8f4f2,#edf2f5,#e6eff4,#ecf2f5,#f8f4f3,#f9ece4,#f9ece4,#f8f4f2,#eef3f5,#e9f0f4,#eff3f6,#f7f5f3,#f9f0eb,#f8f1ed,#f7f6f5,#f2f5f6,#f1f4f6,#f4f6f6,#f7f6f5,#f7f5f3,#f7f5f4,#f7f7f6,#f6f6f7,#f6f6f7,#f7f7f7 37.5px)"></i><i style="background:linear-gradient(90deg,#f7f7f7 0.5px,#f6f6f7,#f4f6f6,#f4f6f7,#f7f6f6,#f8f3f1,#f8f2ef,#f7f5f4,#f1f4f6,#ecf2f5,#eff3f6,#f7f5f3,#f9ede6,#f9ece5,#f8f4f2,#ecf2f5,#e5eef4,#ecf2f5,#f8f3f1,#faeae1,#faebe3,#f7f5f3,#ecf2f5,#e8f0f4,#eff3f6,#f8f4f2,#f9efe9,#f8f1ec,#f7f6f6,#f2f4f6,#f1f4f6,#f4f6f6,#f7f6f5,#f8f4f3,#f7f5f4,#f7f7f6,#f6f6f7,#f6f6f7,#f7f7f7 38.5px)"></i><i style="background:linear-gradient(90deg,#f7f7f7 -0.5px,#f7f6f5,#f7f6f6,#f5f6f7,#f3f5f6,#f4f6f6,#f7f6f6,#f8f3f0,#f8f2ee,#f7f6f5,#f0f4f6,#ebf1f5,#eff3f6,#f8f4f2,#f9ece4,#f9ece3,#f7f5f3,#e9f1f4,#e3edf3,#ecf2f5,#f8f2ee,#fae9de,#faebe2,#f7f6f5,#eaf1f5,#e6eff4,#eff3f6,#f8f3f0,#f9eee8,#f8f0eb,#f7f6f6,#f1f4f6,#f0f4f6,#f4f6f7,#f7f6f4,#f8f4f2,#f7f5f4,#f7f7f6,#f5f6f7,#f6f6f7,#f7f7f7 39.5px)"></i><i style="background:linear-gradient(90deg,#f7f7f7 -0.5px,#f7f6f5,#f7f6f5,#f7f6f6,#f5f6f7,#f3f5f6,#f4f6f6,#f7f6f5,#f8f2ee,#f8f1ed,#f7f6f5,#eef3f5,#e9f0f4,#eff3f6,#f8f2ef,#faeae0,#faebe2,#f7f6f5,#e6eff4,#e0ecf3,#ecf2f5,#f8f0eb,#fbe7db,#faeae1,#f7f7f6,#e7f0f4,#e5eef4,#f0f4f6,#f8f2ee,#f9ede6,#f8f0eb,#f6f7f7,#f0f3f6,#f0f3f6,#f5f6f7,#f7f5f4,#f8f4f2,#f7f5f4,#f7f7f7,#f5f6f7,#f5f6f7,#f7f7f7 40.5px)"></i><i style="background:linear-gradient(90deg,#f7f7f7 0.5px,#f7f6f5,#f7f5f4,#f7f6f6,#f4f6f6,#f2f5f6,#f4f6f6,#f7f5f3,#f8f1ec,#f8f1ec,#f7f7f6,#ecf2f5,#e8f0f4,#f0f3f6,#f8f0ec,#fae8dd,#faeae1,#f6f6f7,#e3edf3,#dfebf2,#edf2f5,#f9ede7,#fbe4d7,#faeae1,#f5f6f7,#e4eef4,#e4eef3,#f1f4f6,#f8f0eb,#f9ece4,#f8f0eb,#f5f6f7,#eef3f5,#eff3f6,#f5f6f7,#f8f5f3,#f8f4f1,#f7f5f4,#f6f7f7,#f5f6f7,#f5f6f7,#f7f7f7 41.5px)"></i><i style="background:linear-gradient(90deg,#f7f7f7 1.5px,#f7f5f4,#f7f5f4,#f7f7f7,#f3f5f6,#f1f4f6,#f4f6f7,#f8f4f1,#f9f0ea,#f8f1ec,#f5f6f7,#e9f1f4,#e6eff4,#f1f4f6,#f9eee7,#fbe6d9,#faebe2,#f2f5f6,#dfebf3,#ddebf2,#f0f4f6,#faeae1,#fbe2d4,#faeae1,#f1f4f6,#e1edf3,#e3edf3,#f3f5f6,#f9eee8,#faebe2,#f8f1ec,#f4f5f6,#edf2f5,#eff3f6,#f6f6f7,#f8f4f2,#f8f3f1,#f7f5f4,#f6f7f7,#f5f6f7,#f5f6f7,#f7f7f7 42.5px)"></i><i style="background:linear-gradient(90deg,#f7f7f7 1.5px,#f7f6f5,#f7f5f4,#f7f5f4,#f6f7f7,#f2f5f6,#f1f4f6,#f5f6f7,#f8f2ef,#f9eee8,#f8f1ed,#f3f5f6,#e7eff4,#e5eff4,#f3f5f6,#faebe2,#fbe4d6,#f9ebe3,#eef3f5,#dae9f2,#dceaf2,#f3f5f6,#fbe7db,#fce1d1,#f9ece4,#edf2f5,#deebf2,#e3edf3,#f6f6f7,#f9ece4,#faeae1,#f8f2ee,#f2f4f6,#ecf2f5,#eff3f6,#f7f7f7,#f8f3f1,#f8f3f1,#f7f6f5,#f6f6f7,#f5f6f7,#f6f6f7,#f7f7f7 43.5px)"></i><i style="background:linear-gradient(90deg,#f7f7f7 2.5px,#f7f6f5,#f7f5f3,#f7f6f5,#f5f6f7,#f1f4f6,#f1f4f6,#f6f7f7,#f8f1ed,#f9eee7,#f8f2ee,#f0f4f6,#e4eef3,#e5eff4,#f7f7f7,#fae7dc,#fbe2d3,#f9ede6,#e8f0f4,#d6e7f1,#ddebf2,#f7f6f5,#fbe3d4,#fcdfcf,#f9eee8,#e8f0f4,#dbeaf2,#e4eef3,#f7f5f4,#faeae0,#faeae0,#f8f3f0,#eff3f6,#ebf1f5,#f0f4f6,#f7f6f6,#f8f3ef,#f8f3f0,#f7f6f5,#f5f6f7,#f4f6f7,#f6f6f7,#f7f7f6,#f7f6f6,#f7f7f7 46.5px)"></i><i style="background:linear-gradient(90deg,#f7f7f7 3.5px,#f7f5f4,#f7f5f3,#f7f6f5,#f4f6f6,#f0f4f6,#f1f4f6,#f7f6f5,#f9efea,#f9ede6,#f8f3f1,#ecf2f5,#e1edf3,#e6eff4,#f8f4f2,#fbe4d6,#fce1d2,#f8f0eb,#e2edf3,#d3e6f0,#dfecf3,#f8f2ee,#fcdfce,#fcdfce,#f8f1ed,#e3edf3,#d8e9f1,#e6eff4,#f8f2ef,#fae8dc,#faeae0,#f8f5f3,#edf2f5,#eaf1f5,#f1f4f6,#f7f5f4,#f8f2ee,#f8f3f1,#f7f6f6,#f5f6f7,#f4f6f6,#f6f6f7,#f7f6f6,#f7f6f6,#f7f7f7 47.5px)"></i><i style="background:linear-gradient(90deg,#f7f7f7 4.5px,#f7f5f4,#f7f5f3,#f7f6f6,#f3f5f6,#f0f4f6,#f2f5f6,#f8f5f3,#f9eee8,#f9ede6,#f7f5f4,#e9f0f4,#dfecf3,#e8f0f4,#f9f0eb,#fce1d1,#fce1d2,#f8f4f2,#dceaf2,#cfe4f0,#e3edf3,#f9ece5,#fddbc7,#fce0cf,#f7f5f4,#ddebf2,#d7e8f1,#e9f0f4,#f9efe9,#fbe6d9,#faeae2,#f7f7f6,#ebf1f5,#eaf1f5,#f2f5f6,#f8f4f2,#f8f2ee,#f8f4f1,#f7f7f7,#f4f6f6,#f4f6f7,#f6f7f7,#f7f6f6,#f7f6f6,#f7f7f7 48.5px)"></i><i style="background:linear-gradient(90deg,#f7f7f7 4.5px,#f7f6f6,#f7f5f4,#f7f5f3,#f7f7f7,#f2f5f6,#eff3f6,#f3f5f6,#f8f3f0,#f9ede5,#f9ede7,#f6f7f7,#e4eef4,#deebf2,#ecf2f5,#f9ece3,#fcddcb,#fbe2d4,#f4f6f6,#d5e7f1,#cde3ef,#e8f0f4,#fbe6db,#fcd5c0,#fce2d2,#f2f5f6,#d7e8f1,#d7e8f1,#edf2f5,#faebe3,#fbe4d7,#f9ece4,#f4f5f6,#e8f0f4,#eaf1f5,#f4f6f6,#f8f3f0,#f8f1ed,#f8f4f2,#f6f7f7,#f4f5f6,#f4f6f7,#f6f7f7,#f7f6f6,#f7f6f6,#f7f7f7 49.5px)"></i><i style="background:linear-gradient(90deg,#f7f7f7 5.5px,#f7f6f5,#f7f5f3,#f7f5f4,#f6f7f7,#f1f4f6,#eff3f6,#f4f6f6,#f8f1ed,#faebe3,#f9eee8,#f2f5f6,#e0ecf3,#ddebf2,#f0f4f6,#fbe6db,#fddac6,#fbe5d8,#ecf2f5,#cbe2ee,#cde3ef,#eff3f6,#fce0d0,#fbd0b9,#fbe5d8,#eaf1f5,#d2e5f0,#d8e8f1,#f3f5f6,#fae7dc,#fbe3d5,#f9eee7,#f0f4f6,#e6eff4,#ebf1f5,#f6f7f7,#f8f2ee,#f8f1ed,#f7f5f3,#f5f6f7,#f3f5f6,#f5f6f7,#f7f7f6,#f7f6f5,#f7f6f6,#f7f7f7 50.5px)"></i><i style="background:linear-gradient(90deg,#f7f7f7 4.5px,#f6f6f7,#f6f7f7,#f7f6f5,#f8f4f2,#f7f5f4,#f5f6f7,#eff3f6,#eff3f5,#f6f6f7,#f9efe9,#faeae0,#f9efea,#edf2f5,#dbeaf2,#ddebf2,#f6f7f7,#fce1d1,#fcd6c1,#fae9de,#e2edf3,#c0dceb,#d0e5f0,#f7f6f5,#fcd8c3,#fbceb6,#faeae0,#e1edf3,#cbe2ee,#dae9f2,#f7f5f3,#fbe3d5,#fbe3d5,#f8f1ec,#ecf2f5,#e5eef4,#ecf2f5,#f7f6f5,#f8f1ec,#f8f1ed,#f7f6f5,#f4f6f6,#f3f5f6,#f5f6f7,#f7f6f6,#f7f6f5,#f7f6f6,#f7f7f7 51.5px)"></i><i style="background:linear-gradient(90deg,#f7f7f7 4.5px,#f6f6f7,#f5f6f7,#f7f7f7,#f7f5f4,#f8f4f1,#f7f5f4,#f3f5f6,#eef3f5,#eff3f5,#f7f6f5,#f9ece4,#fae9de,#f8f2ee,#e7eff4,#d7e8f1,#dfecf3,#f8f1ed,#fddac5,#fcd4be,#f9eee8,#d6e8f1,#b7d8e8,#d5e7f1,#f9ede6,#facbb2,#fbceb7,#f8f0eb,#d7e8f1,#c5dfed,#dfecf3,#f9efe9,#fce0cf,#fbe4d7,#f8f4f3,#e7f0f4,#e4eef4,#eff3f5,#f8f4f1,#f9f0ea,#f8f2ee,#f7f6f6,#f3f5f6,#f3f5f6,#f6f6f7,#f7f6f6,#f7f6f5,#f7f6f6,#f7f7f7 52.5px)"></i><i style="background:linear-gradient(90deg,#f7f7f7 5.5px,#f5f6f7,#f5f6f7,#f7f6f6,#f8f4f2,#f8f3f1,#f7f6f5,#f1f4f6,#ecf2f5,#f0f3f6,#f8f3f0,#fae9df,#fae8de,#f7f6f5,#dfecf3,#d3e6f0,#e4eef4,#fae9e0,#fbceb6,#fcd7c1,#f7f7f6,#c5dfed,#b1d5e7,#deebf2,#fbe3d4,#f8bfa3,#fcd4be,#f4f6f6,#cae2ee,#c4deec,#e7eff4,#fae8de,#fdddcb,#fbe6db,#f4f6f6,#e3eef3,#e5eef4,#f2f5f6,#f8f2ee,#f9efe9,#f8f3f0,#f6f7f7,#f2f5f6,#f3f5f6,#f6f7f7,#f7f6f5,#f7f6f5,#f7f7f7 52.5px)"></i><i style="background:linear-gradient(90deg,#f7f7f7 5.5px,#f6f6f7,#f5f6f7,#f6f6f7,#f7f6f5,#f8f3f0,#f8f3f1,#f6f7f7,#eef3f5,#eaf1f5,#f2f5f6,#f9efe9,#fbe6da,#faeae0,#f1f4f6,#d7e8f1,#d2e5f0,#ecf2f5,#fce0d0,#f9c4aa,#fdddcb,#e8f0f4,#b1d5e7,#b2d5e7,#ebf2f5,#fcd4be,#f7b79a,#fcddcb,#e6eff4,#bbdaea,#c8e0ed,#f1f4f6,#fce1d2,#fddcc8,#faeae1,#edf2f5,#e0ecf3,#e6eff4,#f6f6f7,#f9f0ea,#f9efe9,#f8f4f2,#f4f6f7,#f2f5f6,#f4f5f6,#f7f7f7,#f7f6f5,#f7f6f5,#f7f7f7 53.5px)"></i><i style="background:linear-gradient(90deg,#f7f7f7 6.5px,#f5f6f7,#f5f6f7,#f6f7f7,#f8f4f2,#f8f2ef,#f8f4f2,#f3f5f6,#ebf1f5,#ebf1f5,#f6f7f7,#faeae1,#fbe4d6,#f9ede6,#e7eff4,#cee3ef,#d4e6f1,#f7f6f5,#fbd2bb,#f8c0a4,#fbe5d9,#d7e8f1,#a0cce2,#bcdaea,#f8f3ef,#f8bfa3,#f7b698,#fae7db,#d6e7f1,#b1d5e7,#d2e5f0,#f8f2ef,#fddbc7,#fddcca,#f9f0eb,#e6eff4,#deebf2,#e9f1f4,#f7f5f3,#f9eee7,#f9f0ea,#f7f5f4,#f3f5f6,#f2f5f6,#f5f6f7,#f7f6f6,#f7f6f4,#f7f6f5,#f7f7f7 54.5px)"></i><i style="background:linear-gradient(90deg,#f7f7f7 6.5px,#f6f6f7,#f4f6f7,#f5f6f7,#f7f6f6,#f8f3f0,#f8f2ef,#f7f6f5,#eff3f6,#e9f0f4,#edf2f5,#f8f3f0,#fbe6d9,#fbe4d6,#f8f3f0,#dceaf2,#c5dfed,#dbeaf2,#faeae1,#f9c0a5,#f9c3a8,#f8f1ed,#bcdaea,#97c8df,#d0e5f0,#fbe3d6,#f5ad8d,#f8bda1,#f8f4f1,#c0dceb,#add3e6,#ddebf2,#fae8de,#fcd3bd,#fce0cf,#f7f6f6,#e0ecf3,#dfebf2,#eef3f5,#f8f1ed,#f9ede6,#f8f1ec,#f7f7f7,#f2f4f6,#f2f5f6,#f5f6f7,#f7f6f5,#f7f5f4,#f7f6f6,#f7f7f7 55.5px)"></i><i style="background:linear-gradient(90deg,#f7f7f7 7.5px,#f5f6f7,#f4f6f7,#f6f7f7,#f7f5f3,#f8f2ef,#f8f3f0,#f6f6f7,#ecf2f5,#e8f0f4,#f1f4f6,#f9ede7,#fbe2d4,#fbe6da,#f2f4f6,#d1e5f0,#c4deec,#e7eff4,#fcdecb,#f7b495,#fbcfb8,#eaf1f5,#a0cce2,#99c9e0,#e3eef3,#fbcdb5,#f3a280,#fbceb6,#e7eff4,#abd2e5,#b3d6e7,#ebf1f5,#fcdecd,#fbcfb8,#fbe5d9,#eef3f5,#dbeaf2,#e1edf3,#f4f5f6,#f9eee8,#f9ede6,#f8f3ef,#f4f6f6,#f1f4f6,#f3f5f6,#f6f7f7,#f7f6f4,#f7f5f4,#f7f7f7 55.5px)"></i><i style="background:linear-gradient(90deg,#f7f7f7 8.5px,#f5f6f7,#f5f6f7,#f7f7f6,#f8f4f2,#f8f2ef,#f8f4f2,#f2f5f6,#e9f0f4,#e9f0f4,#f7f7f7,#fae8de,#fce1d1,#faebe3,#e5eef4,#c3deec,#cae2ee,#f7f7f6,#fac8ae,#f6af8f,#fce0d0,#d3e6f0,#89bfdb,#a8d0e4,#f8f4f2,#f6b191,#f2a17f,#fce1d2,#d2e5f0,#9dcbe1,#c2deec,#f8f3f0,#fbd2bb,#fbd2bb,#f9ede6,#e4eef3,#d9e9f1,#e6eff4,#f7f5f3,#f9ece4,#f9eee7,#f7f5f3,#f2f5f6,#f1f4f6,#f4f5f6,#f7f6f6,#f7f5f4,#f7f6f5,#f7f7f7 56.5px)"></i><i style="background:linear-gradient(90deg,#f7f7f7 8.5px,#f6f6f7,#f5f6f7,#f6f6f7,#f7f6f5,#f8f3f0,#f8f2ef,#f7f6f5,#eff3f5,#e8f0f4,#ecf2f5,#f8f2ee,#fbe4d6,#fce1d2,#f8f2ef,#d8e8f1,#bad9e9,#d6e8f1,#fae8de,#f6b394,#f7b596,#f9f0eb,#add3e6,#7db8d7,#c3deec,#fce0d0,#ef9878,#f5ad8c,#f8f2ef,#b2d5e7,#9ac9e0,#d7e8f1,#fbe6d9,#fac7ae,#fddbc7,#f7f6f6,#dceaf2,#dae9f2,#ecf2f5,#f8f0ec,#faebe3,#f9efea,#f7f7f7,#f1f4f6,#f1f4f6,#f5f6f7,#f7f6f5,#f7f5f4,#f7f6f5,#f7f7f7 57.5px)"></i><i style="background:linear-gradient(90deg,#f7f7f7 9.5px,#f6f6f7,#f5f6f7,#f6f7f7,#f7f5f4,#f8f3ef,#f8f3f0,#f6f6f7,#ebf1f5,#e7eff4,#f0f4f6,#f9ece5,#fce0cf,#fbe4d7,#f0f4f6,#c7e0ed,#b8d8e9,#e5eff4,#fcd7c1,#f4a481,#f9c5ab,#e6eff4,#8ac0db,#82bbd8,#e1edf3,#f8bfa3,#e8896d,#f9c4a9,#e3edf3,#98c8e0,#a3cee3,#eaf1f5,#fcd8c3,#f9c4a9,#fbe3d4,#ebf1f5,#d6e7f1,#ddebf2,#f4f5f6,#f9ede5,#faebe3,#f8f2ee,#f4f5f6,#f0f3f6,#f2f5f6,#f6f7f7,#f7f5f4,#f7f5f4,#f7f7f7 57.5px)"></i><i style="background:linear-gradient(90deg,#f7f7f7 10.5px,#f5f6f7,#f5f6f7,#f7f7f7,#f8f4f2,#f8f2ee,#f8f4f1,#f2f5f6,#e8f0f4,#e7f0f4,#f7f7f7,#fbe6da,#fcdecb,#faeae1,#e1edf3,#b5d7e8,#c0ddeb,#f7f5f3,#f7b89b,#f19e7d,#fcdecd,#c4deec,#6bacd1,#9ac9e0,#f8f0ec,#ef9a7a,#e98b6e,#fce1d0,#c2ddec,#86beda,#b9d9e9,#f9f0eb,#f9c5ab,#fac9af,#f9ede6,#dfecf3,#d4e6f1,#e4eef3,#f8f4f1,#faeae1,#f9ece5,#f7f5f3,#f1f4f6,#f0f3f6,#f3f5f6,#f7f6f6,#f7f5f3,#f7f6f4,#f7f7f7 58.5px)"></i><i style="background:linear-gradient(90deg,#f7f7f7 11.5px,#f5f6f7,#f5f6f7,#f7f6f6,#f8f3f0,#f8f1ed,#f7f5f4,#eef3f5,#e5eef4,#eaf1f5,#f8f1ec,#fce0cf,#fcdecc,#f8f3f0,#cfe4ef,#aad1e5,#d4e6f0,#fbe2d3,#f09d7c,#f5a886,#f8f3f1,#93c6de,#5ea4cc,#c1ddeb,#fcd3bd,#e17a61,#f2a07e,#f7f7f7,#9ac9e0,#86bdda,#d7e8f1,#fcdfce,#f7b99c,#fcd6c0,#f5f6f7,#d5e7f1,#d6e7f1,#ecf2f5,#f9eee8,#fae9df,#f9efe9,#f6f6f7,#eff3f6,#f0f4f6,#f5f6f7,#f7f5f4,#f7f5f3,#f7f6f5,#f7f7f7 59.5px)"></i><i style="background:linear-gradient(90deg,#f7f7f7 9.5px,#f7f6f6,#f7f6f6,#f5f6f7,#f4f5f6,#f5f6f7,#f7f5f3,#f8f1ed,#f8f1ed,#f5f6f7,#e8f0f4,#e3edf3,#f0f4f6,#fae8de,#fdd9c5,#fce2d2,#eaf1f5,#b3d6e7,#aad1e5,#e9f0f4,#f9c1a5,#e7886b,#f9c1a6,#d8e8f1,#5fa5cd,#6cadd1,#e9f1f4,#f3a280,#db6c56,#f9c3a9,#d4e7f1,#77b4d5,#99c8e0,#f1f4f6,#f9c6ac,#f7b89a,#fbe3d5,#e4eef4,#cfe4ef,#dceaf2,#f6f7f7,#faeae0,#faeae0,#f8f2ef,#f2f5f6,#eef3f5,#f2f5f6,#f7f7f6,#f7f5f3,#f7f5f4,#f7f7f7 59.5px)"></i><i style="background:linear-gradient(90deg,#f7f7f7 9.5px,#f7f6f5,#f7f6f5,#f6f7f7,#f4f5f6,#f3f5f6,#f6f7f7,#f8f2ef,#f9efea,#f8f3f0,#eff3f6,#e2edf3,#e4eef3,#f8f5f3,#fcdfce,#fcd4bf,#faebe3,#d4e6f1,#9dcae1,#bbdaea,#faebe3,#ee9777,#e7886c,#fbe5d8,#9ccae1,#4291c2,#99c9e0,#fce2d3,#dc6e58,#e17960,#fae9de,#9fcbe2,#68aad0,#bcdaea,#fbe6d9,#f6b192,#f9c3a9,#f8f2ee,#d6e7f1,#cee3ef,#e5eff4,#f8f0eb,#fae7dc,#f9ece4,#f7f6f6,#eff3f6,#eff3f5,#f4f6f6,#f7f6f5,#f8f5f3,#f7f5f4,#f7f7f7 60.5px)"></i><i style="background:linear-gradient(90deg,#f7f7f7 9.5px,#f7f6f5,#f7f6f5,#f7f6f6,#f5f6f7,#f2f5f6,#f4f5f6,#f7f5f3,#f9f0eb,#f9efea,#f7f7f6,#e7eff4,#deebf2,#ebf1f5,#faeae0,#fcd3bc,#fddbc7,#f2f4f6,#b0d4e6,#96c7df,#dbeaf2,#fac7ad,#df745d,#f4a684,#e5eff4,#569fc9,#4393c3,#d6e7f1,#f5a987,#cf5146,#f4a582,#e0ecf3,#6aacd0,#77b4d5,#e3eef3,#fac8ae,#f5aa88,#fddac6,#e9f0f4,#c9e1ee,#d4e7f1,#f1f4f6,#faeae0,#fae7dc,#f9f0eb,#f3f5f6,#edf2f5,#f0f4f6,#f6f7f7,#f7f5f3,#f8f5f3,#f7f6f5,#f7f7f7 61.5px)"></i><i style="background:linear-gradient(90deg,#f7f7f7 10.5px,#f7f6f5,#f7f6f5,#f6f6f7,#f3f5f6,#f2f5f6,#f6f7f7,#f8f2ee,#f9eee8,#f8f2ee,#eff3f5,#dfecf3,#e0ecf3,#f7f6f6,#fcdecc,#facbb3,#fbe6da,#d6e7f1,#91c5de,#a7cfe4,#f8f1ed,#eb9173,#dc6e58,#fcd8c3,#a2cde3,#3783bb,#73b1d3,#faeae1,#d86450,#d25849,#fdddca,#a2cde3,#4f9bc7,#a3cde3,#faebe2,#f5aa89,#f6b395,#f9ece4,#d6e7f1,#c4deec,#dfecf3,#f8f2ee,#fbe6da,#fae9e0,#f8f5f3,#eff3f5,#edf2f5,#f3f5f6,#f7f6f5,#f8f4f2,#f7f5f4,#f7f7f7 61.5px)"></i><i style="background:linear-gradient(90deg,#f7f7f7 10.5px,#f7f6f5,#f7f6f5,#f7f7f6,#f4f6f6,#f2f5f6,#f4f6f6,#f8f4f2,#f9efe9,#f9efe9,#f7f7f6,#e5eff4,#dceaf2,#e8f0f4,#faeae0,#fbcdb5,#fcd3bd,#f5f6f7,#abd2e5,#85bdda,#d2e5f0,#fac9b1,#d86551,#ea8e70,#edf2f5,#4c99c6,#3681ba,#c1ddec,#f5ab8a,#c43b3c,#e8886c,#e8f0f4,#5fa5cd,#5ca3cb,#d9e9f1,#fac8af,#f09d7c,#fbceb6,#ecf2f5,#c3deec,#cde3ef,#eef3f5,#faeae0,#fbe5d8,#f9eee8,#f4f5f6,#ecf2f5,#eff3f6,#f6f6f7,#f8f5f3,#f8f4f2,#f7f6f5,#f6f7f7,#f6f6f7,#f7f7f7 64.5px)"></i><i style="background:linear-gradient(90deg,#f7f7f7 10.5px,#f7f6f5,#f7f6f5,#f7f6f6,#f5f6f7,#f2f5f6,#f3f5f6,#f7f6f6,#f8f1ed,#f9eee7,#f8f2ee,#eef3f5,#deebf2,#dfebf3,#f7f6f6,#fddcc9,#fac6ad,#fbe4d6,#d6e7f1,#87beda,#9bc9e0,#f8f4f2,#e88b6e,#d45b4b,#facbb2,#a4cee3,#2e78b5,#58a0ca,#f9efe9,#d35a4a,#c6403e,#fbd0b9,#a2cde3,#408fc1,#91c4dd,#f9eee7,#f4a481,#f4a886,#fae8dd,#d5e7f1,#bcdbea,#dbeaf2,#f8f3ef,#fbe5d7,#fae8dd,#f8f4f1,#eef3f5,#ecf2f5,#f2f5f6,#f7f6f5,#f8f4f2,#f7f5f3,#f7f7f7 62.5px)"></i><i style="background:linear-gradient(90deg,#f7f7f7 11.5px,#f7f6f5,#f7f6f6,#f6f7f7,#f4f5f6,#f2f5f6,#f5f6f7,#f8f4f1,#f9efe9,#f9efea,#f6f7f7,#e5eef4,#dbeaf2,#e9f0f4,#fae9df,#facbb2,#fbd0b9,#f6f6f7,#a7d0e4,#7bb6d6,#cce2ef,#fac9b0,#d3594a,#e37f65,#f1f4f6,#4292c3,#2d75b4,#b5d7e8,#f5aa88,#bb2a34,#e0765e,#ebf1f5,#549ec9,#4997c5,#d3e6f0,#fac7ad,#ec9273,#f9c5ab,#eef3f5,#bfdceb,#c6dfed,#ecf2f5,#fae9df,#fbe4d6,#f9ede5,#f4f6f6,#ecf2f5,#eef3f5,#f5f6f7,#f8f5f3,#f8f4f2,#f7f6f5,#f6f7f7,#f6f6f7,#f7f7f7 65.5px)"></i><i style="background:linear-gradient(90deg,#f7f7f7 11.5px,#f7f6f6,#f7f6f6,#f7f7f6,#f5f6f7,#f3f5f6,#f4f5f6,#f7f6f5,#f8f1ed,#f9efe9,#f8f3f0,#edf2f5,#deebf2,#dfecf3,#f7f6f6,#fddcc8,#f9c5ab,#fbe3d5,#d5e7f1,#81bad8,#95c7df,#f7f5f3,#e68469,#ce5045,#f9c5ab,#a0cce2,#286fb1,#4896c5,#f9f0eb,#cd4f45,#be3036,#fac9b1,#9ecbe1,#3a87bd,#84bcd9,#f9eee8,#f09d7b,#f29f7e,#fbe6da,#d4e6f1,#b7d8e9,#d8e8f1,#f8f3f0,#fbe3d6,#fbe6db,#f8f3f1,#eef3f5,#ebf2f5,#f1f4f6,#f7f6f5,#f8f4f2,#f8f5f3,#f7f6f6,#f6f6f7,#f6f6f7,#f7f7f7 66.5px)"></i><i style="background:linear-gradient(90deg,#f7f7f7 15.5px,#f4f6f7,#f4f5f6,#f6f6f7,#f8f4f2,#f9f0eb,#f8f0eb,#f6f6f7,#e5eff4,#dceaf2,#e9f0f4,#fae9df,#facab2,#fbcfb8,#f5f6f7,#a4cee3,#75b3d4,#cae1ee,#f9c5ab,#ce5045,#e0785f,#f0f4f6,#3d8cbf,#276db0,#b1d5e7,#f4a481,#b41c2d,#dc6d57,#eaf1f5,#4896c5,#408fc1,#d1e5f0,#f9c2a8,#e8896d,#f9c2a6,#edf2f5,#bad9e9,#c2ddec,#ebf1f5,#fae8de,#fbe2d4,#f9ece5,#f4f5f6,#ebf1f5,#eef3f5,#f5f6f7,#f8f4f2,#f8f4f2,#f7f6f5,#f6f7f7,#f6f6f7,#f7f7f7 66.5px)"></i><i style="background:linear-gradient(90deg,#f7f7f7 15.5px,#f6f6f7,#f4f6f7,#f4f6f7,#f7f6f6,#f8f2ef,#f9efea,#f8f3f0,#eef3f5,#dfecf3,#dfecf3,#f7f6f6,#fddcc8,#f9c4a9,#fbe3d4,#d4e6f0,#7bb7d6,#92c5de,#f8f4f1,#e27b62,#c94741,#f9c4aa,#98c8e0,#2166ac,#4292c3,#f9eee7,#c6413e,#b82531,#facab1,#95c7df,#347fb9,#7fb9d8,#f9ede5,#ed9475,#ef9a79,#fbe6da,#d1e5f0,#b3d6e7,#d8e8f1,#f8f2ee,#fbe2d4,#fbe6da,#f8f3f1,#edf2f5,#ebf1f5,#f1f4f6,#f7f6f5,#f8f4f1,#f8f5f3,#f7f6f6,#f6f6f7,#f6f6f7,#f7f7f7 67.5px)"></i><i style="background:linear-gradient(90deg,#f7f7f7 16.5px,#f6f6f7,#f4f6f6,#f5f6f7,#f7f5f4,#f8f1ec,#f9f0eb,#f7f7f6,#e6eff4,#dceaf2,#e8f0f4,#fae9df,#fac8af,#fbcdb5,#f5f6f7,#9ecbe2,#6eaed2,#cae2ee,#f8bea2,#c8433f,#df745c,#ebf1f5,#3681ba,#2267ac,#b5d7e8,#ed9475,#a71429,#db6b55,#e4eef4,#3e8dc0,#3d8bbf,#d4e6f1,#f8ba9d,#e58167,#f9c1a6,#eaf1f5,#b5d7e8,#c0dceb,#ecf2f5,#fae7db,#fce2d2,#f9ece5,#f3f5f6,#eaf1f5,#edf2f5,#f5f6f7,#f8f4f2,#f8f4f1,#f7f6f5,#f6f7f7,#f6f6f7,#f7f7f7 67.5px)"></i><i style="background:linear-gradient(90deg,#f7f7f7 15.5px,#f7f6f6,#f7f7f6,#f5f6f7,#f3f5f6,#f6f6f7,#f8f3f0,#f9efe9,#f8f1ed,#eff3f6,#deebf2,#ddebf2,#f7f7f6,#fdd9c4,#f8bfa3,#fbe3d4,#cee4ef,#6fafd2,#8ec2dd,#f9f0eb,#da6a55,#c43c3c,#facab1,#82bbd9,#1a599a,#4292c3,#fbe6da,#bb2b34,#b41d2d,#fcd2bc,#80b9d8,#2e77b5,#83bbd9,#fae7dc,#e7886c,#ee9777,#fae9df,#cae1ee,#afd4e6,#d9e9f1,#f8f0eb,#fce1d1,#fbe6da,#f8f4f2,#ecf2f5,#ebf1f5,#f2f4f6,#f7f6f4,#f8f3f1,#f8f5f3,#f7f6f6,#f6f6f7,#f6f6f7,#f7f7f7 68.5px)"></i><i style="background:linear-gradient(90deg,#f7f7f7 15.5px,#f7f6f5,#f7f6f5,#f6f6f7,#f3f5f6,#f3f5f6,#f7f6f5,#f9efea,#f9eee7,#f7f6f5,#e4eef4,#d8e8f1,#e7eff4,#fbe7db,#f9c0a5,#fac9b0,#f0f4f6,#8fc3dd,#62a7ce,#d1e5f0,#f5ad8c,#be2f36,#df755d,#deebf2,#2870b1,#1e61a5,#c5dfed,#e0775f,#940e26,#de735c,#d6e8f1,#347fb9,#3c8abe,#ddeaf2,#f5ac8b,#e17a61,#fac6ad,#e3eef3,#add3e6,#c1ddeb,#f0f3f6,#fbe5d8,#fce1d1,#f9ede6,#f1f4f6,#eaf1f5,#eef3f5,#f6f7f7,#f8f4f2,#f8f4f1,#f7f6f5,#f6f7f7,#f5f6f7,#f7f7f7 68.5px)"></i><i style="background:linear-gradient(90deg,#f7f7f7 15.5px,#f7f6f5,#f7f5f4,#f7f7f6,#f3f5f6,#f1f4f6,#f5f6f7,#f8f1ed,#f9ece4,#f8f0eb,#edf2f5,#d9e9f1,#dae9f2,#f8f4f3,#fbceb6,#f7b799,#fbe5d8,#bcdaea,#5aa1cb,#90c4dd,#fbe6d9,#cc4c44,#c03438,#fddcc8,#57a0ca,#124983,#519cc8,#fcd3bd,#a41429,#b41d2d,#fbe2d3,#5aa2cb,#2870b1,#93c6de,#fdddca,#e0785f,#f09b7a,#f9efea,#bddbea,#add3e6,#ddebf2,#f9ece5,#fcdfcf,#fbe7db,#f7f6f5,#ebf1f5,#ebf1f5,#f2f5f6,#f7f5f3,#f8f3f1,#f7f5f3,#f7f7f6,#f6f6f7,#f6f6f7,#f7f7f7 69.5px)"></i><i style="background:linear-gradient(90deg,#f7f7f7 13.5px,#f6f6f7,#f6f7f7,#f7f6f5,#f7f5f3,#f7f6f5,#f4f6f6,#f0f4f6,#f2f5f6,#f8f4f2,#f9ece5,#f9ece4,#f6f6f7,#deebf2,#d4e6f0,#e9f0f4,#fcdfcf,#f6b495,#facbb2,#e3eef3,#70afd2,#5ba2cb,#dfecf3,#e7876b,#b3192c,#e7886c,#bcdbea,#185493,#2063a8,#e1edf3,#ca4741,#840924,#ea8e70,#b2d5e7,#276eb0,#4190c1,#eef3f5,#ec9274,#e0765e,#fcd4be,#d8e8f1,#a6cfe4,#c6e0ed,#f6f7f7,#fce2d2,#fce1d2,#f9efea,#eff3f5,#e9f0f4,#eff3f5,#f7f7f6,#f8f3f1,#f8f4f2,#f7f6f5,#f6f6f7,#f5f6f7,#f7f7f7 69.5px)"></i><i style="background:linear-gradient(90deg,#f7f7f7 13.5px,#f6f6f7,#f6f7f7,#f7f6f5,#f8f5f3,#f7f5f4,#f5f6f7,#f0f4f6,#f0f4f6,#f7f6f6,#f9eee7,#faeae0,#f8f2ee,#e5eef4,#d2e6f0,#dceaf2,#f9ece5,#f8bca0,#f6b495,#f9efe9,#9ac9e0,#4594c4,#a4cee3,#facab1,#b92531,#c43c3c,#f8f0ec,#317bb7,#0c3e75,#7fb9d8,#f3a380,#800823,#be3137,#f6f7f7,#3884bb,#276eb0,#b3d6e7,#f8bfa3,#da6954,#f5a987,#f2f5f6,#aed3e6,#afd4e6,#e4eef4,#fae7dc,#fcdecd,#fae9df,#f5f6f7,#e9f0f4,#ebf1f5,#f4f6f6,#f8f4f2,#f8f3f0,#f7f5f4,#f6f7f7,#f5f6f7,#f7f7f7 69.5px)"></i><i style="background:linear-gradient(90deg,#f7f7f7 13.5px,#f6f6f7,#f6f7f7,#f7f6f6,#f8f5f3,#f7f5f3,#f6f7f7,#f1f4f6,#eff3f5,#f4f6f7,#f9f0eb,#fae9df,#f9ede7,#edf2f5,#d5e7f1,#d3e6f0,#f4f6f6,#fbcdb6,#f5aa88,#fddbc7,#c9e1ee,#4c99c6,#68abd0,#f8f4f1,#cf5146,#aa162a,#f7b596,#77b4d5,#0a396e,#2e78b5,#faeae1,#a71429,#880b24,#f8bfa3,#74b2d4,#1e60a4,#61a6cd,#fae9df,#df755d,#e37f65,#fbe4d7,#c4dfec,#a2cde2,#d3e6f0,#f8f0ec,#fcdecd,#fbe3d5,#f8f3f0,#ecf2f5,#e9f0f4,#f0f4f6,#f7f6f5,#f8f3f0,#f8f4f2,#f7f6f6,#f6f6f7,#f5f6f7,#f7f7f7 70.5px)"></i><i style="background:linear-gradient(90deg,#f7f7f7 13.5px,#f6f6f7,#f6f7f7,#f7f6f6,#f7f5f3,#f8f4f3,#f7f7f6,#f2f5f6,#eef3f5,#f2f5f6,#f8f2ef,#faeae1,#faeae1,#f5f6f7,#dae9f2,#cde3ef,#e6eff4,#fcdfce,#f5ac8b,#f8bfa3,#eaf1f5,#6bacd1,#4393c3,#d1e5f0,#eb9173,#a11328,#d86551,#d4e6f0,#16518f,#124983,#c8e0ed,#d15548,#6c0120,#d96652,#c9e1ee,#246aae,#327cb7,#deebf2,#ef9978,#d96652,#f9c2a7,#deebf2,#a1cde2,#bad9e9,#f1f4f6,#fce2d3,#fcdfce,#f9ede6,#f0f4f6,#e8f0f4,#edf2f5,#f6f7f7,#f8f3f1,#f8f3f1,#f7f6f5,#f6f7f7,#f5f6f7,#f7f7f7 70.5px)"></i><i style="background:linear-gradient(90deg,#f7f7f7 13.5px,#f6f6f7,#f6f6f7,#f7f6f6,#f7f5f4,#f8f4f3,#f7f6f6,#f3f5f6,#eff3f5,#f0f4f6,#f8f5f3,#f9ebe3,#fae9df,#f8f3f1,#e2edf3,#cde3ef,#dbeaf2,#faebe3,#f7b799,#f5ae8d,#f9ede5,#98c8e0,#3f8dc0,#97c8df,#fbcfb8,#b51e2e,#ba2833,#fae9df,#327cb7,#053162,#63a7ce,#f5ae8d,#760521,#b1182b,#f9efea,#3985bc,#1f63a8,#a0cce2,#f9c6ac,#d7624e,#f09b7a,#f7f6f6,#add3e6,#a7d0e4,#e0ecf3,#fae8de,#fdddcb,#fae7db,#f6f7f7,#e9f0f4,#eaf1f5,#f3f5f6,#f8f4f2,#f8f3f0,#f7f5f3,#f7f7f7,#f5f6f7,#f6f6f7,#f7f7f7 71.5px)"></i><i style="background:linear-gradient(90deg,#f7f7f7 13.5px,#f6f6f7,#f6f6f7,#f7f7f6,#f7f5f4,#f8f4f3,#f7f6f5,#f4f6f6,#eff3f6,#f0f3f6,#f7f6f6,#f9eee7,#fae9df,#f9efea,#e9f0f4,#d2e6f0,#d4e6f1,#f7f6f6,#fac8af,#f4a886,#fddcc8,#c4deec,#4695c4,#65a8ce,#f8f3f1,#cc4d44,#a31329,#f6b090,#77b4d5,#073466,#2a71b2,#f9ece5,#a31329,#7e0723,#f7b89a,#75b3d4,#1b5b9d,#569fca,#faebe2,#de725b,#e17860,#fbe2d3,#c4dfec,#9ecbe2,#d0e5f0,#f8f1ed,#fcdecc,#fbe2d3,#f8f2ef,#ebf2f5,#e8f0f4,#f0f4f6,#f7f6f5,#f8f3f0,#f8f4f2,#f7f6f6,#f6f6f7,#f5f6f7,#f7f7f7 71.5px)"></i><i style="background:linear-gradient(90deg,#f7f7f7 16.5px,#f7f5f4,#f8f5f3,#f7f6f5,#f5f6f7,#f0f4f6,#eff3f6,#f6f6f7,#f9f0ea,#faeae0,#f9ede6,#f0f4f6,#d8e8f1,#d1e5f0,#ebf1f5,#fddcc8,#f5ab8a,#f9c5ab,#e4eef3,#65a9cf,#4896c5,#d7e8f1,#e8896c,#a01228,#db6c56,#cde3ef,#154e8b,#134b86,#cee4ef,#cd4f45,#6b0120,#db6a55,#c4deec,#2268ad,#327db8,#e1ecf3,#ed9576,#d86551,#f9c4a9,#ddebf2,#a0cce2,#badaea,#f1f4f6,#fce1d2,#fcdfcd,#f9ede6,#f0f4f6,#e8f0f4,#edf2f5,#f6f7f7,#f8f3f1,#f8f3f1,#f7f6f5,#f6f7f7,#f5f6f7,#f7f7f7 71.5px)"></i><i style="background:linear-gradient(90deg,#f7f7f7 16.5px,#f7f6f5,#f7f5f3,#f7f6f5,#f5f6f7,#f1f4f6,#f0f4f6,#f4f6f6,#f8f2ee,#faebe3,#f9ece4,#f6f7f7,#deebf2,#d2e5f0,#e2edf3,#fbe6da,#f7b698,#f7b89a,#f8f4f1,#90c4dd,#4292c3,#a8d0e4,#f9c3a8,#b51e2e,#c33a3b,#f8f2ee,#2d76b4,#09396d,#7bb6d6,#f2a07e,#770522,#ba2833,#f7f6f6,#3681ba,#2369ae,#aed3e6,#f8bfa3,#d76350,#f4a481,#f3f5f6,#abd2e5,#abd2e5,#e3eef3,#fae7dc,#fcddcb,#fae8dd,#f5f6f7,#e9f0f4,#ebf1f5,#f4f5f6,#f8f4f2,#f8f3f0,#f7f5f4,#f6f7f7,#f5f6f7,#f6f6f7,#f7f7f7 72.5px)"></i><i style="background:linear-gradient(90deg,#f7f7f7 16.5px,#f7f6f5,#f7f5f4,#f7f6f5,#f6f6f7,#f2f5f6,#f1f4f6,#f4f5f6,#f8f3f1,#f9ede6,#f9ece4,#f8f5f3,#e5eef4,#d5e7f1,#dceaf2,#f9f0eb,#f9c5ab,#f6b394,#fbe5d8,#b6d7e8,#4e9ac7,#82bbd8,#fae9df,#c94641,#b61f2e,#facab2,#60a6cd,#0b3c71,#3a86bd,#fce0d0,#9f1228,#970f27,#fbd1ba,#64a8ce,#2063a8,#73b1d3,#fbe3d5,#de725b,#e7876b,#fae9de,#bfdceb,#a3cee3,#d6e7f1,#f9efe9,#fcdecc,#fbe4d6,#f8f4f2,#ebf1f5,#e9f0f4,#f1f4f6,#f7f5f4,#f8f3f0,#f8f4f2,#f7f7f6,#f5f6f7,#f6f6f7,#f7f7f7 72.5px)"></i><i style="background:linear-gradient(90deg,#f7f7f7 16.5px,#f7f6f5,#f7f5f4,#f7f6f5,#f6f7f7,#f3f5f6,#f1f4f6,#f4f5f6,#f7f5f3,#f9efe9,#f9ede6,#f8f3ef,#ebf1f5,#dae9f2,#dae9f2,#f6f6f7,#fcd7c2,#f7b697,#fddac6,#d8e8f1,#68aad0,#69abd0,#eaf1f5,#e17a61,#b41c2d,#ee9777,#afd4e6,#16518e,#2369ad,#e8f0f4,#c53e3d,#850a24,#ee9677,#aad1e5,#256caf,#4292c2,#f2f4f6,#ea8e70,#e0765e,#fcd6c1,#d6e7f1,#a4cee3,#c7e0ed,#f7f7f6,#fce1d1,#fce1d1,#f9f0ea,#eef3f5,#e9f0f4,#eff3f5,#f7f6f6,#f8f3f1,#f8f4f2,#f7f6f5,#f6f6f7,#f5f6f7,#f7f7f7 72.5px)"></i><i style="background:linear-gradient(90deg,#f7f7f7 16.5px,#f7f6f5,#f7f5f4,#f7f6f5,#f6f7f7,#f4f5f6,#f2f5f6,#f4f6f6,#f7f6f5,#f8f1ec,#f9eee8,#f8f2ee,#f0f4f6,#dfecf3,#dbeaf2,#eef3f5,#fbe2d3,#f8bfa3,#fbceb6,#ecf2f5,#8bc1dc,#61a6cd,#cfe4f0,#f6ae8e,#bc2c35,#db6b56,#e4eef4,#2971b1,#195797,#b4d6e8,#e48166,#8b0c25,#d55f4c,#dfecf3,#347fb9,#3480b9,#d3e6f0,#f6b090,#de725b,#f8bca0,#e8f0f4,#acd2e5,#bad9e9,#ecf2f5,#fbe5d8,#fce0cf,#f9ece3,#f2f5f6,#e9f0f4,#edf2f5,#f5f6f7,#f8f4f2,#f8f3f1,#f7f6f4,#f6f7f7,#f5f6f7,#f7f7f7 72.5px)"></i><i style="background:linear-gradient(90deg,#f7f7f7 16.5px,#f7f6f5,#f7f6f5,#f7f6f6,#f6f6f7,#f4f6f6,#f3f5f6,#f5f6f7,#f7f6f5,#f8f2ef,#f8f0eb,#f8f2ee,#f4f6f6,#e5eff4,#ddebf2,#e8f0f4,#faeae2,#facbb3,#fac9b0,#f8f2ef,#acd2e5,#68abd0,#afd4e6,#fdd9c4,#cb4b43,#cf5246,#faeae1,#4594c4,#185595,#79b5d6,#f8bfa3,#a61429,#c2383a,#f9eee7,#4f9bc7,#2f78b5,#a9d1e4,#fcd2bc,#e17a61,#f5a886,#f7f5f3,#bad9e9,#b2d5e7,#e1edf3,#faebe2,#fce0cf,#fae8de,#f7f7f7,#ebf1f5,#ebf1f5,#f3f5f6,#f8f5f3,#f8f3f1,#f7f5f4,#f7f7f7,#f6f6f7,#f6f6f7,#f7f7f7 73.5px)"></i><i style="background:linear-gradient(90deg,#f7f7f7 16.5px,#f7f6f5,#f7f6f5,#f7f6f6,#f6f6f7,#f4f6f6,#f4f6f6,#f6f6f7,#f7f6f5,#f8f4f1,#f8f2ee,#f8f3ef,#f6f7f7,#ebf1f5,#e1edf3,#e6eff4,#f8f2ee,#fddac6,#facab1,#fae8de,#cce2ef,#7bb6d6,#9bcae1,#f9eee7,#de725b,#ca4942,#fbceb7,#89bfdb,#1f62a6,#4896c5,#fae8dd,#c03538,#b82330,#fbd1ba,#88beda,#317bb7,#83bcd9,#fae9df,#e98c6f,#ef9979,#fae8de,#cce3ef,#b1d5e7,#d8e9f1,#f8f1ec,#fce1d2,#fbe6da,#f8f4f2,#edf2f5,#ebf1f5,#f1f4f6,#f7f6f5,#f8f3f1,#f8f5f3,#f7f6f6,#f6f6f7,#f6f6f7,#f7f7f7 73.5px)"></i><i style="background:linear-gradient(90deg,#f7f7f7 16.5px,#f7f6f5,#f7f6f5,#f7f7f6,#f5f6f7,#f4f6f6,#f5f6f7,#f7f7f6,#f7f6f5,#f8f5f3,#f8f4f2,#f8f4f2,#f7f6f6,#f0f4f6,#e6eff4,#e6eff4,#f6f7f7,#fbe2d4,#fbd0b8,#fce2d2,#e0ecf3,#94c6df,#91c4de,#ecf2f5,#f09d7c,#ce4f45,#f5ae8d,#c0dceb,#2c75b4,#3885bc,#eaf1f5,#d96651,#b6202f,#f5ab8a,#bad9e9,#3986bc,#65a8ce,#f2f5f6,#f4a683,#ec9273,#fdddcb,#dbeaf2,#b4d6e8,#d1e5f0,#f7f7f6,#fbe4d7,#fbe4d7,#f8f1ec,#f0f3f6,#ebf1f5,#f0f4f6,#f7f6f6,#f8f4f2,#f8f4f2,#f7f6f6,#f6f7f7,#f6f6f7,#f7f7f7 73.5px)"></i><i style="background:linear-gradient(90deg,#f7f7f7 16.5px,#f7f6f5,#f7f6f5,#f7f7f7,#f5f6f7,#f4f6f6,#f6f6f7,#f7f6f6,#f7f5f4,#f7f5f4,#f7f6f5,#f7f5f4,#f7f6f5,#f4f6f6,#ecf2f5,#e7eff4,#f0f4f6,#faeae1,#fdd9c4,#fcdecc,#f0f4f6,#add3e6,#91c4de,#d9e9f2,#f9c1a6,#d7614e,#ed9475,#e5eef4,#3f8ec0,#337eb8,#cbe2ee,#ef9a79,#bc2c34,#e8896d,#dfecf3,#4b98c6,#539dc9,#ddebf2,#f8bea1,#ec9374,#fbceb6,#e8f0f4,#bcdaea,#cae2ee,#eff3f6,#fae8dd,#fbe4d6,#f9eee8,#f3f5f6,#ebf2f5,#eff3f5,#f6f6f7,#f8f4f2,#f8f4f2,#f7f6f5,#f6f7f7,#f6f6f7,#f7f7f7 73.5px)"></i><i style="background:linear-gradient(90deg,#f7f7f7 15.5px,#f7f6f6,#f7f6f5,#f7f6f5,#f6f7f7,#f4f6f6,#f4f6f6,#f6f7f7,#f7f5f4,#f8f4f3,#f7f6f5,#f6f7f7,#f6f7f7,#f7f6f5,#f7f6f6,#f1f4f6,#eaf1f5,#ecf2f5,#f8f1ed,#fce0cf,#fddcc9,#f8f2ef,#c7e0ed,#98c8e0,#c8e0ed,#fcdfcd,#e27b61,#e68569,#f8f1ec,#6cadd1,#3580b9,#a5cfe4,#f9c5ab,#c7433f,#de725a,#f7f5f4,#71b0d3,#4f9ac7,#c7e0ed,#fcd7c2,#f09c7b,#f9c1a6,#f5f6f7,#c7e0ed,#c6e0ed,#e8f0f4,#f9ece4,#fbe4d7,#f9ece4,#f6f6f7,#edf2f5,#eef3f5,#f5f6f7,#f7f5f3,#f8f4f2,#f7f6f4,#f7f7f7,#f6f6f7,#f7f7f7 73.5px)"></i><i style="background:linear-gradient(90deg,#f7f7f7 15.5px,#f7f6f6,#f7f5f4,#f7f6f5,#f6f7f7,#f4f5f6,#f4f5f6,#f7f7f7,#f8f4f3,#f8f4f1,#f7f6f5,#f4f6f6,#f4f6f6,#f7f6f6,#f8f4f2,#f7f7f7,#edf2f5,#eaf1f5,#f6f7f7,#fbe6da,#fdddca,#faeae1,#dae9f2,#a4cee3,#b8d8e9,#f9eee8,#ef9979,#e48065,#fce1d1,#9ccae1,#3b89be,#88bfdb,#fbe4d6,#d7624e,#d86651,#fbe4d7,#99c9e0,#549ec9,#afd4e6,#fbe6da,#f5a987,#f7b99c,#f9f0ea,#d3e6f0,#c6e0ed,#e2edf3,#f8f0eb,#fbe6d9,#faeae2,#f7f6f5,#eef3f5,#eef3f5,#f3f5f6,#f7f6f5,#f8f4f2,#f7f5f4,#f7f7f7 71.5px)"></i><i style="background:linear-gradient(90deg,#f7f7f7 15.5px,#f7f6f5,#f7f5f4,#f7f6f5,#f6f6f7,#f3f5f6,#f4f5f6,#f7f7f6,#f8f4f1,#f8f3f0,#f7f6f6,#f2f5f6,#f1f4f6,#f7f7f7,#f8f2ef,#f8f3f1,#f1f4f6,#e8f0f4,#eff3f5,#f9ede5,#fcdecd,#fbe4d7,#e9f0f4,#b4d6e8,#b0d4e6,#f1f4f6,#f7b596,#e68469,#fbcdb6,#c4deec,#4997c5,#73b1d3,#f7f6f4,#e68469,#d86450,#fcd3bc,#bbdaea,#63a7ce,#9fcce2,#f8f2ef,#f7b799,#f7b698,#fae8de,#dceaf2,#c9e1ee,#deebf2,#f8f4f2,#fae8dd,#faeae0,#f8f4f1,#f0f4f6,#eef3f5,#f2f5f6,#f7f6f6,#f8f4f3,#f7f5f4,#f7f7f7 71.5px)"></i><i style="background:linear-gradient(90deg,#f7f7f7 15.5px,#f7f6f5,#f7f5f4,#f7f6f5,#f5f6f7,#f3f5f6,#f3f5f6,#f7f6f6,#f8f3f0,#f8f2ef,#f7f6f6,#f0f4f6,#eff3f5,#f6f6f7,#f8f1ed,#f9f0eb,#f6f6f7,#e8f0f4,#e8f0f4,#f8f3f0,#fce1d2,#fce0d0,#f6f7f7,#c5dfed,#add3e6,#e1edf3,#fbceb7,#ea8f71,#f8bc9f,#dfecf3,#67aacf,#68abd0,#e4eef4,#f4a885,#db6b55,#f8bea3,#d7e8f1,#77b4d5,#95c7df,#eff3f6,#fac7ae,#f7b799,#fbe2d3,#e5eff4,#cfe4ef,#dbeaf2,#f6f6f7,#faeae1,#fae9e0,#f8f2ee,#f2f5f6,#eef3f5,#f2f4f6,#f7f7f6,#f7f5f3,#f7f5f4,#f7f7f7 71.5px)"></i><i style="background:linear-gradient(90deg,#f7f7f7 15.5px,#f7f6f5,#f7f5f4,#f7f6f6,#f5f6f7,#f2f5f6,#f3f5f6,#f7f6f5,#f8f2ee,#f8f1ee,#f7f6f6,#eff3f5,#ecf2f5,#f4f6f6,#f9f0eb,#f9ede6,#f7f5f3,#e8f0f4,#e3eef3,#f4f6f6,#fbe5d8,#fdddcb,#f9efe9,#d5e7f1,#aed3e6,#d5e7f1,#fce1d1,#f19e7d,#f6b090,#f3f5f6,#88bfdb,#67aacf,#d3e6f0,#f9c4a9,#e17860,#f6b191,#e9f1f4,#90c4dd,#92c5de,#e3edf3,#fcd8c3,#f8bb9e,#fcdecc,#eef3f5,#d4e6f1,#d9e9f2,#f1f4f6,#f9ede5,#faeae0,#f8f1ec,#f4f6f6,#eff3f6,#f1f4f6,#f6f7f7,#f7f5f4,#f7f5f4,#f7f6f6,#f7f7f7 72.5px)"></i><i style="background:linear-gradient(90deg,#f7f7f7 15.5px,#f7f6f5,#f7f5f4,#f7f6f6,#f4f6f7,#f2f4f6,#f3f5f6,#f7f6f5,#f8f1ed,#f8f1ec,#f7f6f6,#edf2f5,#eaf1f5,#f3f5f6,#f9efe9,#faeae1,#f8f2ee,#e9f0f4,#dfebf3,#edf2f5,#fae9de,#fddbc8,#fae8dd,#e0ecf3,#b3d6e7,#c9e1ee,#f9ece5,#f5ae8d,#f5aa88,#f9eee7,#a5cfe4,#6daed1,#c0dceb,#fddcca,#e88a6d,#f5a886,#f7f6f4,#a6cfe4,#93c6de,#d9e9f1,#fce2d3,#f9c2a7,#fddbc7,#f5f6f7,#d9e9f1,#d9e9f1,#edf2f5,#f9efea,#faeae2,#f9f0eb,#f6f7f7,#f0f4f6,#f1f4f6,#f5f6f7,#f7f6f5,#f7f5f4,#f7f6f5,#f7f7f7 72.5px)"></i><i style="background:linear-gradient(90deg,#f7f7f7 15.5px,#f7f5f4,#f7f5f3,#f7f6f6,#f4f6f6,#f1f4f6,#f3f5f6,#f7f5f4,#f8f0eb,#f8f0eb,#f7f6f6,#ecf2f5,#e8f0f4,#f2f4f6,#f9eee8,#fae8dc,#f9efea,#eaf1f5,#dbeaf2,#e6eff4,#f9ece5,#fddac6,#fce2d3,#eaf1f5,#b9d9e9,#bedbeb,#f7f6f6,#f8bda0,#f4a886,#fbe4d6,#bfdceb,#79b5d5,#b1d5e7,#fae9de,#f19e7d,#f4a582,#f9ece4,#bbdaea,#99c8e0,#d2e5f0,#faeae0,#facab1,#fdd8c3,#f8f4f1,#deebf2,#dae9f2,#eaf1f5,#f8f2ee,#f9ece3,#f9efea,#f7f6f6,#f1f4f6,#f1f4f6,#f5f6f7,#f7f6f5,#f7f5f4,#f7f6f5,#f7f7f7 72.5px)"></i><i style="background:linear-gradient(90deg,#f7f7f7 15.5px,#f7f5f4,#f7f5f3,#f7f6f6,#f3f5f6,#f1f4f6,#f3f5f6,#f7f5f3,#f9efea,#f9f0ea,#f7f7f6,#eaf1f5,#e6eff4,#f1f4f6,#f9ede6,#fbe5d8,#f9ede6,#ebf1f5,#d8e8f1,#e0ecf3,#f9f0ea,#fdd9c5,#fdddca,#f3f5f6,#c1ddeb,#b6d7e8,#ecf2f5,#faccb4,#f5a987,#fddcc9,#d5e7f1,#88bfdb,#a7d0e4,#f8f3f1,#f6b091,#f4a683,#fbe4d7,#cfe4f0,#a1cde2,#cae2ee,#f8f1ec,#fcd3bd,#fcd8c3,#f9f0ea,#e3eef3,#dbeaf2,#e8f0f4,#f8f4f2,#f9ede6,#f9efe9,#f7f6f5,#f2f5f6,#f1f4f6,#f4f6f7,#f7f6f6,#f7f5f4,#f7f6f5,#f7f7f7 72.5px)"></i><i style="background:linear-gradient(90deg,#f7f7f7 12.5px,#f6f6f7,#f6f7f7,#f7f6f6,#f7f5f4,#f7f5f3,#f7f6f6,#f3f5f6,#f0f4f6,#f3f5f6,#f8f4f2,#f9efe8,#f9efe9,#f6f7f7,#e8f0f4,#e4eef3,#f0f4f6,#f9ece4,#fbe3d5,#faebe2,#ebf1f5,#d5e7f1,#dbeaf2,#f8f2ef,#fdd9c4,#fcd7c2,#f8f4f2,#c8e1ee,#b1d5e7,#e2edf3,#fddac6,#f5ac8b,#fbd1bb,#e2edf3,#98c8e0,#a2cde3,#f0f4f6,#f9c1a6,#f5a987,#fcdfcd,#dbeaf2,#abd2e5,#c6dfed,#f7f6f6,#fddcc8,#fdd9c4,#f9ede5,#e8f0f4,#deebf2,#e7eff4,#f7f6f5,#f9eee8,#f9efe9,#f7f5f3,#f3f5f6,#f2f4f6,#f4f6f6,#f7f6f6,#f7f6f5,#f7f6f5,#f7f7f7 72.5px)"></i><i style="background:linear-gradient(90deg,#f7f7f7 12.5px,#f6f6f7,#f6f7f7,#f7f6f6,#f7f5f3,#f8f5f3,#f7f7f6,#f2f5f6,#f0f3f6,#f3f5f6,#f8f3f1,#f9eee7,#f9efe9,#f6f6f7,#e6eff4,#e2edf3,#f0f4f6,#faebe2,#fce1d1,#fae9df,#ebf1f5,#d2e6f0,#d7e8f1,#f7f5f3,#fcd8c3,#fbd0b9,#f9f0ea,#cfe4ef,#aed3e6,#dae9f2,#fce1d1,#f6b091,#fac9b0,#edf2f5,#a5cfe4,#a0cce2,#e6eff4,#fbd1ba,#f6af8e,#fddac6,#e5eff4,#b7d8e8,#c4deec,#f1f4f6,#fce1d1,#fddbc7,#faeae1,#edf2f5,#e0ecf3,#e7eff4,#f6f7f7,#f9f0ea,#f9efea,#f8f4f2,#f4f6f7,#f2f5f6,#f4f6f6,#f7f7f6,#f7f6f5,#f7f6f5,#f7f7f7 72.5px)"></i><i style="background:linear-gradient(90deg,#f7f7f7 12.5px,#f6f6f7,#f6f7f7,#f7f6f6,#f8f5f3,#f8f5f3,#f7f7f7,#f1f4f6,#eff3f6,#f3f5f6,#f8f2ef,#f9ede5,#f9eee8,#f4f6f6,#e4eef3,#e0ecf3,#f1f4f6,#fae9df,#fcdfcd,#fae8dd,#eaf1f5,#cee3ef,#d4e6f0,#f7f6f6,#fcd7c1,#facbb2,#f9ece4,#d3e6f0,#acd2e5,#d4e6f1,#fbe6db,#f7b597,#f9c3a8,#f6f7f7,#b3d6e7,#a1cce2,#deebf2,#fdddcb,#f7b597,#fcd5bf,#eef3f5,#c2ddec,#c5dfec,#ecf2f5,#fbe5d9,#fdddcb,#fae9df,#f1f4f6,#e3edf3,#e7eff4,#f4f6f6,#f8f1ed,#f9f0eb,#f8f4f1,#f5f6f7,#f3f5f6,#f4f6f6,#f6f7f7,#f7f6f5,#f7f6f5,#f7f7f7 72.5px)"></i><i style="background:linear-gradient(90deg,#f7f7f7 12.5px,#f5f6f7,#f6f7f7,#f7f6f5,#f8f4f2,#f8f5f3,#f6f7f7,#f1f4f6,#eff3f5,#f4f6f6,#f8f1ed,#f9ebe3,#f9eee8,#f3f5f6,#e1edf3,#dfecf3,#f1f4f6,#fbe7db,#fddcc9,#fae7dc,#e8f0f4,#c8e1ed,#d0e5f0,#f7f7f6,#fcd4bf,#f9c6ac,#fae9df,#d5e7f1,#aad1e5,#cee3ef,#faebe2,#f7ba9d,#f8bfa4,#f8f2ee,#bfdceb,#a3cee3,#d8e9f1,#fbe4d6,#f8bda1,#fbd2bb,#f6f6f7,#cde3ef,#c7e0ed,#e7f0f4,#fae9e0,#fcdfce,#fae8dd,#f5f6f7,#e6eff4,#e7eff4,#f3f5f6,#f8f2ef,#f8f0eb,#f8f3f1,#f6f7f7,#f3f5f6,#f4f6f6,#f6f7f7,#f7f6f6,#f7f6f5,#f7f7f7 72.5px)"></i><i style="background:linear-gradient(90deg,#f7f7f7 12.5px,#f5f6f7,#f6f7f7,#f7f6f5,#f8f4f2,#f8f5f3,#f6f6f7,#f0f4f6,#eef3f5,#f5f6f7,#f8f0eb,#faeae1,#f9eee8,#f0f4f6,#dfebf2,#deebf2,#f3f5f6,#fbe4d6,#fdd9c5,#fae7dc,#e5eff4,#c2ddec,#cde3ef,#f7f6f6,#fbd1bb,#f9c2a7,#fae7dc,#d7e8f1,#a8d0e4,#c9e1ee,#f9eee8,#f8bea2,#f8bda1,#f9ede7,#c9e1ee,#a7d0e4,#d4e7f1,#fae9df,#f9c5aa,#fbd1ba,#f8f4f1,#d5e7f1,#cae2ee,#e5eef4,#f9ede6,#fce2d2,#fae8dd,#f7f6f6,#e8f0f4,#e8f0f4,#f1f4f6,#f8f4f1,#f8f1ed,#f8f3f1,#f7f7f7,#f4f5f6,#f4f6f6,#f6f7f7,#f7f6f6,#f7f6f5,#f7f7f7 72.5px)"></i><i style="background:linear-gradient(90deg,#f7f7f7 11.5px,#f6f6f7,#f5f6f7,#f6f7f7,#f7f5f4,#f8f4f1,#f7f5f3,#f5f6f7,#eff3f5,#eef3f5,#f6f6f7,#f9efe9,#fae9e0,#f9efe9,#eef3f5,#dceaf2,#ddebf2,#f5f6f7,#fce1d1,#fcd5c0,#fae8dd,#e2edf3,#bcdaea,#cbe2ee,#f7f5f4,#fbcdb6,#f8bfa3,#fbe7db,#d7e8f1,#a7d0e4,#c6dfed,#f8f0ec,#f9c2a7,#f8bda1,#faebe2,#d2e5f0,#acd2e5,#d2e6f0,#f9eee7,#fbccb4,#fbd1bb,#f8f0ec,#dbeaf2,#cfe4ef,#e3edf3,#f8f0eb,#fbe4d6,#fae8dd,#f7f5f4,#ebf1f5,#e9f0f4,#f1f4f6,#f8f5f3,#f8f2ee,#f8f3f1,#f7f7f6,#f4f6f7,#f4f6f6,#f6f7f7,#f7f6f6,#f7f6f6,#f7f7f7 72.5px)"></i><i style="background:linear-gradient(90deg,#f7f7f7 11.5px,#f5f6f7,#f5f6f7,#f7f7f7,#f7f5f3,#f8f4f1,#f7f5f3,#f4f5f6,#eef3f5,#eef3f5,#f7f7f6,#f9ede6,#fae8de,#f9f0ea,#eaf1f5,#d8e9f1,#ddeaf2,#f7f6f5,#fcdecb,#fcd2bc,#fae9e0,#ddebf2,#b5d7e8,#cae2ee,#f8f3f0,#fac8af,#f8bda0,#fae7dc,#d5e7f1,#a6cfe4,#c5dfed,#f8f1ed,#f9c4aa,#f8bea2,#fae9df,#d6e7f1,#b1d5e7,#d1e5f0,#f8f1ed,#fcd3bd,#fcd3bd,#f9eee8,#e0ecf3,#d3e6f0,#e2edf3,#f8f3f0,#fbe6da,#fae8de,#f8f4f1,#edf2f5,#eaf1f5,#f0f4f6,#f7f5f4,#f8f2ef,#f8f3f1,#f7f6f6,#f5f6f7,#f4f6f7,#f7f7f7 69.5px)"></i><i style="background:linear-gradient(90deg,#f7f7f7 11.5px,#f5f6f7,#f5f6f7,#f7f7f6,#f8f5f3,#f8f3f1,#f7f5f4,#f3f5f6,#ecf2f5,#eef3f5,#f7f6f5,#faebe3,#fae7dc,#f8f1ed,#e7eff4,#d5e7f1,#ddebf2,#f8f2ef,#fdd8c4,#fbd0b8,#f9ece4,#d7e8f1,#afd4e6,#cce3ef,#f9f0eb,#f9c2a7,#f8bc9f,#fae9df,#d3e6f0,#a5cfe4,#c7e0ed,#f8f1ed,#fac6ad,#f9c0a5,#fae9de,#d9e9f2,#b6d7e8,#d2e5f0,#f8f4f1,#fddac5,#fcd6c1,#f9ede5,#e4eef3,#d6e7f1,#e2edf3,#f7f5f3,#fae9de,#fae9df,#f8f3f0,#eff3f6,#ebf1f5,#f0f4f6,#f7f6f6,#f8f3f0,#f8f4f1,#f7f6f6,#f5f6f7,#f5f6f7,#f7f7f7 69.5px)"></i><i style="background:linear-gradient(90deg,#f7f7f7 11.5px,#f5f6f7,#f5f6f7,#f7f6f6,#f8f4f2,#f8f3f0,#f7f6f5,#f1f4f6,#ebf1f5,#eef3f5,#f8f4f2,#fae9df,#fae7db,#f8f3f0,#e2edf3,#d2e6f0,#deebf2,#f9eee8,#fbd0ba,#fbceb6,#f9efea,#cfe4f0,#a9d1e5,#d0e5f0,#faebe3,#f8bc9f,#f8bca0,#f9ece4,#cee3ef,#a5cfe3,#cbe2ee,#f9f0eb,#fac7ae,#f9c4a9,#fae9df,#dbeaf2,#bcdaea,#d3e6f0,#f7f5f4,#fdddcb,#fddac6,#f9ece4,#e8f0f4,#d9e9f1,#e2edf3,#f7f6f6,#faebe2,#faeae1,#f8f2ef,#f1f4f6,#ecf2f5,#f0f4f6,#f7f7f6,#f8f4f1,#f8f4f1,#f7f6f5,#f6f6f7,#f5f6f7,#f7f7f7 69.5px)"></i><i style="background:linear-gradient(90deg,#f7f7f7 11.5px,#f5f6f7,#f5f6f7,#f7f6f6,#f8f4f1,#f8f3f0,#f7f6f6,#f0f4f6,#eaf1f5,#eff3f5,#f8f2ef,#fae7dc,#fbe7db,#f7f5f4,#ddebf2,#cee4ef,#e1ecf3,#faeae0,#fac8af,#fbceb6,#f8f4f2,#c2deec,#a4cee3,#d5e7f1,#fbe5d9,#f7b596,#f8bea3,#f8f0ec,#c6dfed,#a5cfe4,#d1e5f0,#f9ede6,#fac8af,#fac8af,#faebe2,#dceaf2,#c2ddec,#d5e7f1,#f7f6f5,#fce0d0,#fdddca,#f9ece4,#eaf1f5,#dceaf2,#e3eef3,#f6f7f7,#f9ece5,#faebe3,#f8f2ef,#f2f5f6,#eef3f5,#f1f4f6,#f7f7f7,#f8f4f2,#f8f4f2,#f7f6f5,#f6f7f7,#f5f6f7,#f7f7f7 69.5px)"></i><i style="background:linear-gradient(90deg,#f7f7f7 10.5px,#f6f6f7,#f5f6f7,#f6f6f7,#f7f6f5,#f8f3f0,#f8f3f0,#f7f7f6,#eef3f5,#e9f0f4,#f0f4f6,#f9f0eb,#fbe5d8,#fbe7db,#f5f6f7,#d7e8f1,#cae1ee,#e4eef4,#fbe4d6,#f8c0a4,#fbd0b8,#f3f5f6,#b4d6e8,#a0cce2,#dbeaf2,#fcdfcd,#f5ad8d,#f9c3a8,#f7f6f5,#bcdbea,#a6cfe4,#d7e8f1,#faeae1,#fac8af,#fbceb6,#f9ede7,#ddebf2,#c7e0ed,#d8e9f1,#f7f6f6,#fbe2d4,#fcdfce,#f9ece5,#edf2f5,#dfecf3,#e4eef4,#f5f6f7,#f9eee8,#f9ece4,#f8f2ee,#f4f5f6,#eff3f5,#f1f4f6,#f6f7f7,#f8f5f3,#f8f4f2,#f7f6f5,#f6f7f7,#f5f6f7,#f7f7f7 69.5px)"></i><i style="background:linear-gradient(90deg,#f7f7f7 10.5px,#f5f6f7,#f5f6f7,#f6f6f7,#f7f5f4,#f8f2ef,#f8f3f0,#f6f6f7,#ecf2f5,#e8f0f4,#f2f4f6,#f9ede6,#fbe3d4,#fae7dc,#f0f4f6,#d1e5f0,#c7e0ed,#e9f1f5,#fdddcb,#f7b79a,#fcd3bd,#e9f1f4,#a4cee3,#9ecbe1,#e3edf3,#fcd3bd,#f4a784,#fac9b0,#eff3f6,#b2d5e7,#a9d1e5,#ddebf2,#fbe6da,#fac8af,#fcd4be,#f8f1ec,#ddeaf2,#cde3ef,#dceaf2,#f7f6f5,#fbe4d7,#fce2d2,#f9ede6,#eff3f5,#e2edf3,#e6eff4,#f4f6f6,#f9f0ea,#f9ede6,#f8f2ef,#f5f6f7,#f0f4f6,#f1f4f6,#f6f7f7,#f7f5f4,#f8f5f3,#f7f6f5,#f6f7f7,#f6f6f7,#f7f7f7 69.5px)"></i><i style="background:linear-gradient(90deg,#f7f7f7 10.5px,#f5f6f7,#f4f6f7,#f6f7f7,#f8f4f3,#f8f2ee,#f8f3f1,#f4f6f6,#eaf1f5,#e8f0f4,#f4f6f6,#faeae1,#fce1d1,#fae9de,#eaf1f5,#c7e0ed,#c6dfed,#f0f4f6,#fbd1ba,#f6b090,#fddac6,#deebf2,#95c6df,#9fcbe2,#edf2f5,#f9c2a7,#f2a07e,#fcd2bc,#e4eef4,#a8d0e4,#aed3e6,#e5eff4,#fce1d2,#fac9b0,#fddcc8,#f8f5f3,#dceaf2,#d2e6f0,#e0ecf3,#f7f5f4,#fbe6da,#fbe4d6,#f9eee8,#f0f4f6,#e5eef4,#e7f0f4,#f4f5f6,#f8f1ec,#f9eee8,#f8f2ef,#f5f6f7,#f1f4f6,#f2f5f6,#f6f6f7,#f7f5f4,#f7f5f3,#f7f6f5,#f7f7f7 67.5px)"></i><i style="background:linear-gradient(90deg,#f7f7f7 10.5px,#f5f6f7,#f4f6f7,#f7f7f7,#f8f4f1,#f8f1ee,#f8f4f1,#f2f5f6,#e8f0f4,#e8f0f4,#f7f7f6,#fbe7db,#fcdfce,#faebe2,#e3edf3,#bcdaea,#c7e0ed,#f7f5f4,#f9c2a7,#f5ab89,#fce0cf,#d0e4f0,#83bbd9,#a3cee3,#f7f5f4,#f6b191,#f09c7b,#fdddca,#d8e8f1,#9fcbe2,#b5d7e8,#eff3f6,#fddcc9,#facab2,#fce0d0,#f4f6f7,#dbeaf2,#d7e8f1,#e5eef4,#f8f4f2,#fae8dd,#fbe7db,#f9efea,#f1f4f6,#e7f0f4,#e9f0f4,#f4f5f6,#f8f2ee,#f9efea,#f8f3ef,#f6f7f7,#f2f5f6,#f2f5f6,#f6f6f7,#f7f6f5,#f7f5f4,#f7f6f5,#f7f7f7 67.5px)"></i><i style="background:linear-gradient(90deg,#f7f7f7 10.5px,#f4f6f7,#f4f6f7,#f7f6f6,#f8f3f0,#f8f1ed,#f8f4f3,#eff3f6,#e6eff4,#e8f0f4,#f8f4f2,#fbe3d5,#fcdecc,#f9eee8,#dae9f2,#b2d5e7,#cbe2ee,#f9ede7,#f6b292,#f4a886,#fae7dc,#b7d8e9,#72b1d3,#add3e6,#faeae1,#f19e7c,#f09c7b,#fbe5d9,#c7e0ed,#97c7df,#bfdceb,#f8f5f3,#fcd4be,#fbcdb5,#fbe6da,#eef3f5,#dbeaf2,#dbeaf2,#eaf1f5,#f8f3f0,#faeae0,#fae9e0,#f8f1ec,#f2f5f6,#eaf1f5,#ebf1f5,#f4f5f6,#f8f3f0,#f8f0ec,#f8f3f0,#f6f7f7,#f3f5f6,#f3f5f6,#f6f6f7,#f7f6f5,#f7f5f4,#f7f6f5,#f7f7f7 67.5px)"></i><i style="background:linear-gradient(90deg,#f7f7f7 7.5px,#f7f6f6,#f7f7f6,#f6f6f7,#f4f6f6,#f5f6f7,#f7f6f5,#f8f2ef,#f8f1ec,#f7f6f4,#edf2f5,#e4eef3,#eaf1f5,#f8f1ec,#fcdfce,#fdddcb,#f8f3f0,#d0e5f0,#aad1e5,#d3e6f0,#fbe4d6,#f2a17f,#f5a886,#f8f1ed,#9ccae1,#65a9cf,#bcdaea,#fdddcb,#e7886c,#f2a17f,#f9f0eb,#b0d4e6,#92c5de,#cee3ef,#f9ece3,#facbb3,#fcd2bc,#f9ece5,#e8f0f4,#dbeaf2,#e0ecf3,#eff3f6,#f8f2ee,#f9ece3,#f9ece4,#f8f2ef,#f3f5f6,#ecf2f5,#edf2f5,#f4f5f6,#f8f4f1,#f8f1ed,#f8f3f1,#f7f7f6,#f3f5f6,#f3f5f6,#f6f6f7,#f7f6f6,#f7f6f5,#f7f6f5,#f7f7f7 67.5px)"></i><i style="background:linear-gradient(90deg,#f7f7f7 7.5px,#f7f6f6,#f7f7f6,#f5f6f7,#f4f5f6,#f5f6f7,#f7f5f4,#f8f1ed,#f8f1ec,#f7f7f6,#e9f1f5,#e2edf3,#ecf2f5,#f9ece4,#fddbc8,#fcdecc,#f5f6f7,#bfdceb,#a4cee3,#dbeaf2,#fcd7c2,#ea8e70,#f5ae8d,#eff3f5,#7cb7d6,#5ea4cc,#d2e5f0,#f9c4a9,#df765e,#f5ab8a,#eff3f6,#99c8e0,#91c4de,#dbeaf2,#fce2d3,#f9c5aa,#fddac6,#f8f4f1,#e2edf3,#dceaf2,#e6eff4,#f5f6f7,#f8f1ed,#f9eee7,#f9efe9,#f8f4f1,#f4f5f6,#eef3f5,#eff3f5,#f4f6f6,#f8f4f3,#f8f2ef,#f8f4f1,#f7f7f6,#f4f6f6,#f4f5f6,#f6f6f7,#f7f6f6,#f7f6f5,#f7f6f6,#f7f7f7 67.5px)"></i><i style="background:linear-gradient(90deg,#f7f7f7 6.5px,#f7f6f6,#f7f6f6,#f7f7f7,#f5f6f7,#f3f5f6,#f5f6f7,#f8f4f2,#f8f0eb,#f8f1ed,#f4f6f7,#e6eff4,#e1edf3,#f0f4f6,#fae7dc,#fcd5bf,#fce0cf,#eaf1f5,#aed3e6,#a2cde3,#e6eff4,#f8bfa3,#e37f64,#f7b99c,#dbeaf2,#5aa2cb,#5fa5cd,#e3eef3,#f4a784,#d96853,#f8ba9d,#dceaf2,#80bad8,#95c7df,#e9f0f4,#fcd5c0,#f9c0a5,#fce0d0,#f1f4f6,#dceaf2,#deebf2,#edf2f5,#f7f5f3,#f8f0ec,#f8f0eb,#f8f2ee,#f7f5f3,#f5f6f7,#f1f4f6,#f0f4f6,#f4f6f6,#f7f5f4,#f8f3f0,#f8f4f2,#f7f6f6,#f5f6f7,#f4f6f6,#f6f6f7,#f7f6f6,#f7f6f5,#f7f6f6,#f7f7f7 67.5px)"></i><i style="background:linear-gradient(90deg,#f7f7f7 6.5px,#f7f6f6,#f7f6f6,#f6f7f7,#f4f6f6,#f3f5f6,#f6f7f7,#f8f3f0,#f9f0ea,#f8f2ee,#f1f4f6,#e3edf3,#e1edf3,#f5f6f7,#fce2d3,#fbd0b9,#fbe4d6,#deebf2,#9dcbe1,#a5cee3,#f5f6f7,#f4a683,#df745c,#facbb3,#bcdaea,#408fc1,#6bacd1,#f7f6f5,#e48167,#d6614e,#fbd0b9,#c0dceb,#6aacd0,#a0cce2,#f7f6f4,#f9c3a9,#f8bfa4,#fae7dc,#e6eff4,#d8e8f1,#e2edf3,#f4f6f6,#f8f1ed,#f8f0ec,#f8f3f0,#f8f5f3,#f7f6f5,#f6f6f7,#f3f5f6,#f2f5f6,#f4f6f6,#f7f6f5,#f8f4f2,#f8f4f2,#f7f6f6,#f5f6f7,#f5f6f7,#f6f6f7,#f7f7f6,#f7f6f6,#f7f7f7 66.5px)"></i><i style="background:linear-gradient(90deg,#f7f7f7 6.5px,#f7f6f5,#f7f6f6,#f6f6f7,#f3f5f6,#f3f5f6,#f7f6f6,#f8f2ee,#f9efe9,#f8f3f0,#edf2f5,#e0ecf3,#e2edf3,#f8f4f2,#fddcc9,#fbcdb5,#fae9e0,#d0e5f0,#8ec2dc,#aed3e6,#f9ebe3,#e7876b,#dd715a,#fce0cf,#94c6df,#3581ba,#82bbd8,#fbe3d5,#d55e4c,#d76350,#fbe4d6,#9ccae1,#5ba2cb,#b2d5e7,#fae8dd,#f6b394,#f9c3a8,#f9f0ea,#dceaf2,#d5e7f1,#e7eff4,#f8f4f2,#f9eee8,#f8f1ed,#f7f5f4,#f7f7f6,#f7f6f6,#f7f7f6,#f5f6f7,#f3f5f6,#f4f6f6,#f7f6f6,#f8f5f3,#f7f5f3,#f7f6f6,#f6f6f7,#f5f6f7,#f6f6f7,#f7f7f7 64.5px)"></i><i style="background:linear-gradient(90deg,#f7f7f7 6.5px,#f7f6f5,#f7f6f6,#f5f6f7,#f3f5f6,#f4f5f6,#f7f6f5,#f8f0ec,#f9efe9,#f7f5f4,#e9f0f4,#ddebf2,#e5eef4,#f9eee8,#fcd2bc,#fbcdb5,#f8f1ed,#b8d8e9,#80bad8,#bedbeb,#fddcc8,#da6954,#e0775f,#f8f1ec,#60a5cd,#2f79b6,#a2cde3,#f9c2a7,#c53e3d,#dd705a,#f7f6f5,#72b1d3,#559ec9,#cbe2ee,#fdd9c4,#f4a784,#facbb2,#f4f6f6,#d2e5f0,#d5e7f1,#edf2f5,#f9efe9,#f9ece4,#f8f2ef,#f5f6f7,#f4f6f6,#f7f7f6,#f7f6f5,#f6f7f7,#f4f6f6,#f4f6f6,#f7f7f7,#f7f5f4,#f7f5f3,#f7f6f6,#f6f7f7,#f5f6f7,#f7f7f7 63.5px)"></i><i style="background:linear-gradient(90deg,#f7f7f7 5.5px,#f7f6f6,#f7f6f5,#f7f7f6,#f4f6f7,#f3f5f6,#f4f6f7,#f8f4f2,#f9efe9,#f9efe9,#f6f7f7,#e4eef4,#dbeaf2,#e9f1f4,#fae7dc,#fac8af,#fbd1bb,#f1f4f6,#9fcce2,#7ab6d6,#d4e7f1,#f8bb9e,#ce5046,#e8896d,#e4eef4,#3a87bd,#2f78b5,#cae1ee,#ed9475,#b92732,#e88a6d,#ddebf2,#4b98c6,#5aa2cb,#e1ecf3,#f8bea2,#f19d7c,#fcd8c3,#e6eff4,#c5dfed,#d6e8f1,#f5f6f7,#faeae0,#faebe2,#f8f4f2,#f2f4f6,#f2f5f6,#f7f7f6,#f7f5f3,#f7f6f6,#f5f6f7,#f4f6f6,#f6f7f7,#f7f6f5,#f7f5f4,#f7f6f5,#f6f7f7,#f5f6f7,#f7f7f7 63.5px)"></i><i style="background:linear-gradient(90deg,#f7f7f7 5.5px,#f7f6f5,#f7f6f5,#f6f7f7,#f4f5f6,#f2f5f6,#f5f6f7,#f8f3f0,#f9eee8,#f9f0eb,#f2f5f6,#e0ecf3,#dbeaf2,#f0f4f6,#fce0cf,#f9c1a5,#fddbc7,#e1ecf3,#85bdd9,#7db8d7,#e8f0f4,#ed9576,#c6403e,#f4a785,#bddbea,#276eb0,#3581ba,#ebf1f5,#d55f4d,#b41c2d,#f5ae8d,#b4d6e8,#3986bc,#6cadd1,#f7f7f6,#f4a582,#f09b7b,#fbe3d4,#d8e8f1,#bcdaea,#dbeaf2,#f8f2ef,#fbe6d9,#faebe2,#f7f6f6,#eef3f5,#f0f4f6,#f7f6f6,#f8f4f2,#f7f5f4,#f5f6f7,#f4f6f6,#f6f6f7,#f7f6f5,#f7f5f4,#f7f6f5,#f6f7f7,#f6f6f7,#f7f7f7 63.5px)"></i><i style="background:linear-gradient(90deg,#f7f7f7 5.5px,#f7f6f5,#f7f6f6,#f6f6f7,#f3f5f6,#f2f5f6,#f7f7f7,#f8f1ed,#f9ede6,#f8f1ed,#edf2f5,#dbeaf2,#dceaf2,#f7f6f5,#fcd6c0,#f8bda0,#fbe3d4,#cce3ef,#6cadd1,#8dc2dc,#f9f0ea,#da6a54,#c43c3c,#facab2,#82bbd9,#1b5a9c,#4494c3,#fbe6da,#bc2d35,#b7222f,#fcd6c0,#7fb9d7,#317bb7,#8dc2dc,#fbe5d8,#e88b6e,#f3a380,#f9eee7,#c7e0ed,#b8d8e9,#e1edf3,#f9ece4,#fbe3d4,#f9ebe3,#f4f5f6,#ebf1f5,#eff3f6,#f7f6f5,#f8f3f0,#f8f5f3,#f6f6f7,#f4f5f6,#f5f6f7,#f7f6f6,#f7f5f4,#f7f6f5,#f7f7f7 61.5px)"></i><i style="background:linear-gradient(90deg,#f7f7f7 4.5px,#f7f6f6,#f7f6f5,#f7f6f6,#f5f6f7,#f2f5f6,#f3f5f6,#f7f6f5,#f9efea,#f9ede6,#f8f4f2,#e7f0f4,#d8e8f1,#e0ecf3,#f9eee8,#fac7ae,#f8bea1,#f9ede7,#acd2e5,#5ca3cb,#a5cfe4,#fddac6,#c7423f,#ca4842,#faeae0,#4090c1,#15508d,#79b5d6,#f7b99c,#9e1228,#c2393a,#f8f1ed,#4594c4,#2f79b6,#b2d5e7,#fac9b0,#e17860,#f6b090,#f2f5f6,#b4d6e8,#b9d9e9,#eaf1f5,#fbe6da,#fce1d1,#f9ede7,#f0f4f6,#e9f0f4,#eff3f6,#f7f5f4,#f8f2ef,#f8f4f2,#f6f6f7,#f3f5f6,#f5f6f7,#f7f6f6,#f7f6f5,#f7f6f5,#f7f7f7 61.5px)"></i><i style="background:linear-gradient(90deg,#f7f7f7 4.5px,#f7f6f5,#f7f6f5,#f7f7f6,#f4f6f6,#f2f5f6,#f4f5f6,#f8f4f2,#f9eee7,#f9ede7,#f6f7f7,#e1edf3,#d6e7f1,#e6eff4,#fbe5d8,#f8bb9f,#f9c5ab,#f1f4f6,#8ac0db,#57a0ca,#c9e1ee,#f5ae8d,#b92531,#d96652,#e3eef3,#256caf,#185493,#b8d8e9,#e0775f,#850a24,#d76350,#d9e9f1,#2f79b6,#3681ba,#dae9f2,#f4a784,#dd715a,#f9c5ab,#dfecf3,#a6cfe4,#c1ddeb,#f4f6f7,#fce1d1,#fce0d0,#f8f0ec,#ecf2f5,#e7f0f4,#f0f4f6,#f8f4f2,#f8f1ed,#f8f4f2,#f5f6f7,#f3f5f6,#f5f6f7,#f7f6f6,#f7f6f5,#f7f6f5,#f7f7f7 61.5px)"></i><i style="background:linear-gradient(90deg,#f7f7f7 4.5px,#f7f6f5,#f7f6f5,#f6f7f7,#f3f5f6,#f2f4f6,#f5f6f7,#f8f2ee,#f9ede5,#f9efe9,#f1f4f6,#dceaf2,#d6e8f1,#f0f3f6,#fddcc8,#f6b495,#fcd4be,#dbeaf2,#67aacf,#62a7ce,#e8f0f4,#e0785f,#b1182b,#ee9777,#aad1e5,#134c87,#2369ad,#edf2f5,#c03438,#820923,#f19e7d,#9dcbe1,#2267ac,#4795c4,#f7f5f4,#e58267,#e0765e,#fcdecc,#cbe2ee,#9fcbe2,#cee4ef,#f8f1ec,#fdddca,#fce2d3,#f8f4f2,#e8f0f4,#e7eff4,#f2f5f6,#f8f3f0,#f8f1ed,#f8f4f2,#f5f6f7,#f3f5f6,#f5f6f7,#f7f6f6,#f7f6f5,#f7f6f5,#f7f7f7 61.5px)"></i><i style="background:linear-gradient(90deg,#f7f7f7 4.5px,#f7f6f5,#f7f6f6,#f5f6f7,#f2f5f6,#f2f5f6,#f7f6f6,#f9f0eb,#f9ece4,#f8f1ed,#eaf1f5,#d7e8f1,#dae9f2,#f8f4f1,#facab1,#f6b293,#fbe3d5,#bad9ea,#4e9ac7,#80bad8,#fae9df,#c84440,#b51f2e,#fbceb6,#58a0ca,#09396d,#3c8abe,#fddcc8,#950f26,#981027,#fddac5,#549ec9,#1e5fa3,#7db7d7,#fdddca,#d96752,#e8896d,#f9eee8,#b2d5e7,#9fcce2,#dbeaf2,#fae9df,#fddac5,#fbe5d8,#f5f6f7,#e5eef4,#e7f0f4,#f4f6f6,#f8f2ee,#f8f1ed,#f7f5f3,#f5f6f7,#f3f5f6,#f5f6f7,#f7f6f6,#f7f6f5,#f7f6f5,#f7f7f7 61.5px)"></i><i style="background:linear-gradient(90deg,#f7f7f7 3.5px,#f7f6f5,#f7f6f5,#f7f6f6,#f4f6f7,#f2f4f6,#f3f5f6,#f7f5f3,#f9eee7,#f9ece4,#f7f5f4,#e3eef3,#d4e6f1,#e0ecf3,#fae9df,#f8bb9e,#f7b89b,#f8f3ef,#93c6de,#4494c3,#abd2e5,#f9c1a5,#b41d2d,#c53e3d,#f7f5f3,#2a72b2,#0a396d,#86bdda,#ec9375,#710321,#bd2f36,#f0f4f6,#2f79b6,#2368ad,#b8d8e9,#f6b293,#d35b4b,#f4a886,#ecf2f5,#9fcce2,#a8d0e4,#e8f0f4,#fce2d3,#fdd9c5,#fae9df,#f0f3f6,#e3eef3,#e9f0f4,#f6f7f7,#f8f1ed,#f8f1ed,#f7f5f4,#f4f6f6,#f3f5f6,#f5f6f7,#f7f6f6,#f7f6f5,#f7f6f6,#f7f7f7 61.5px)"></i><i style="background:linear-gradient(90deg,#f7f7f7 3.5px,#f7f6f5,#f7f6f5,#f6f7f7,#f3f5f6,#f1f4f6,#f4f6f7,#f8f3ef,#f9ece5,#f9eee7,#f3f5f6,#dceaf2,#d4e6f1,#ebf1f5,#fcdecc,#f6b191,#fac8af,#e4eef3,#69abd0,#4e9ac7,#dae9f2,#e68569,#a31329,#df755d,#c3deec,#124a85,#154f8c,#d7e8f1,#c7423f,#69011f,#df755d,#b5d7e8,#1e60a4,#347fb9,#e8f0f4,#e7876b,#d6604d,#fac9b0,#d5e7f1,#96c7df,#b9d9e9,#f6f7f7,#fdddca,#fddcc9,#f9eee8,#ebf1f5,#e3eef3,#ecf2f5,#f7f6f5,#f8f0ec,#f8f2ee,#f7f6f5,#f4f5f6,#f3f5f6,#f6f6f7,#f7f6f6,#f7f6f5,#f7f6f6,#f7f7f7 61.5px)"></i><i style="background:linear-gradient(90deg,#f7f7f7 3.5px,#f7f6f5,#f7f6f5,#f6f6f7,#f2f5f6,#f2f4f6,#f7f7f7,#f8f0eb,#f9ece3,#f8f0ec,#ecf2f5,#d7e8f1,#d7e8f1,#f7f6f6,#fbccb4,#f6ae8e,#fcdfcd,#c2deec,#4c98c6,#6fafd2,#f9f0ea,#cb4942,#aa152a,#f8bb9e,#69abd0,#073365,#2f79b6,#fbe5d9,#991027,#820923,#f9c4a9,#64a8ce,#195797,#5fa5cd,#fbe5d8,#d96752,#e0775e,#fbe5d9,#b9d9e9,#97c7df,#d1e5f0,#f9eee7,#fdd9c4,#fce0cf,#f8f3f1,#e7eff4,#e4eef4,#eff3f6,#f8f4f2,#f8f0ec,#f8f3ef,#f7f7f6,#f4f5f6,#f4f5f6,#f6f6f7,#f7f6f6,#f7f6f5,#f7f7f7 60.5px)"></i><i style="background:linear-gradient(90deg,#f7f7f7 2.5px,#f7f6f5,#f7f6f5,#f7f6f6,#f4f6f7,#f2f4f6,#f3f5f6,#f7f5f4,#f9eee8,#f9ece4,#f8f5f3,#e4eef3,#d4e6f0,#dfecf3,#faeae1,#f8bb9e,#f7b698,#f8f0ec,#96c7df,#4292c3,#a3cee3,#fac7ad,#b51e2e,#c13539,#f8f0eb,#2d76b4,#073568,#76b4d5,#f19f7d,#710321,#b72230,#f7f6f6,#337db8,#2063a8,#aad1e5,#f8bc9f,#d35a4a,#f09d7c,#f3f5f6,#a4cee3,#a2cde3,#e1edf3,#fbe5d9,#fdd9c4,#fbe5d8,#f5f6f7,#e5eff4,#e7eff4,#f2f5f6,#f8f3f0,#f8f1ec,#f8f4f1,#f6f7f7,#f4f5f6,#f4f6f6,#f6f7f7,#f7f6f6,#f7f6f5,#f7f7f7 60.5px)"></i><i style="background:linear-gradient(90deg,#f7f7f7 2.5px,#f7f6f5,#f7f6f5,#f6f7f7,#f3f5f6,#f1f4f6,#f4f6f7,#f8f2ef,#f9ece5,#f9eee7,#f3f5f6,#dceaf2,#d4e6f1,#ebf1f5,#fcdecc,#f6b191,#fac9b0,#e3eef3,#6aacd0,#519cc8,#dbeaf2,#e7866a,#a61429,#e0775f,#c4deec,#144d89,#175290,#d7e8f1,#c94641,#6e0220,#e0765e,#bad9e9,#2165ab,#3580b9,#e5eff4,#ea8f71,#d76350,#f9c6ac,#dae9f2,#9bcae1,#b7d8e9,#f1f4f6,#fce0cf,#fddcc9,#f9ebe3,#eff3f6,#e5eef4,#eaf1f5,#f5f6f7,#f8f2ef,#f8f2ee,#f8f5f3,#f6f6f7,#f4f6f6,#f5f6f7,#f6f7f7,#f7f6f6,#f7f6f6,#f7f7f7 60.5px)"></i><i style="background:linear-gradient(90deg,#f7f7f7 2.5px,#f7f6f5,#f7f6f6,#f5f6f7,#f2f5f6,#f2f5f6,#f7f7f6,#f9f0eb,#f9ece4,#f8f1ed,#ebf1f5,#d7e8f1,#d9e9f1,#f8f5f3,#facbb3,#f6b192,#fce1d2,#bedbeb,#4f9ac7,#7bb7d6,#f9ebe3,#ca4942,#b41c2d,#fac7ad,#62a7ce,#0a3a6f,#3884bb,#fce1d1,#9d1128,#930e26,#fbcfb7,#64a8ce,#1e61a5,#6eaed2,#fbe4d7,#dd7059,#e48166,#fbe6db,#c0dceb,#9fcce2,#d2e5f0,#f8f0eb,#fdddcb,#fce1d1,#f8f2ee,#ebf1f5,#e7eff4,#eef3f5,#f7f6f6,#f8f2ef,#f8f3f0,#f7f5f4,#f6f6f7,#f4f6f7,#f5f6f7,#f7f7f7 57.5px)"></i><i style="background:linear-gradient(90deg,#f7f7f7 1.5px,#f7f6f5,#f7f6f5,#f7f7f6,#f4f6f6,#f2f4f6,#f3f5f6,#f8f4f3,#f9eee7,#f9ede5,#f7f6f5,#e2edf3,#d5e7f1,#e3edf3,#fae8dd,#f8bb9e,#f8bea2,#f7f6f5,#90c4dd,#4d99c6,#b7d8e9,#f7ba9d,#b72230,#ce5045,#f2f4f6,#2a72b2,#104680,#9ac9e0,#ea8e70,#7f0823,#c8433f,#ebf1f5,#347fb9,#2b73b3,#c0dceb,#f7b89a,#da6a54,#f5ae8d,#f0f3f6,#acd2e6,#afd4e6,#e4eef4,#fae8dd,#fcdecc,#fae7dc,#f7f7f7,#e9f1f4,#eaf1f5,#f2f4f6,#f7f5f4,#f8f3f0,#f8f4f1,#f7f6f6,#f6f6f7,#f5f6f7,#f6f6f7,#f7f7f7 57.5px)"></i><i style="background:linear-gradient(90deg,#f7f7f7 1.5px,#f7f6f5,#f7f6f5,#f6f7f7,#f3f5f6,#f2f4f6,#f6f6f7,#f8f2ee,#f9ede5,#f9efea,#f0f4f6,#dbeaf2,#d7e8f1,#f1f4f6,#fddbc6,#f7b596,#fcd7c2,#d9e9f1,#68aad0,#6aacd0,#edf2f5,#df765e,#b51f2e,#f2a17f,#a5cfe3,#16508e,#2970b1,#f1f4f6,#c2383a,#8e0d25,#f4a583,#a1cde2,#276eb0,#4e9ac7,#f6f7f7,#ea8e71,#e37d63,#fddbc6,#d6e8f1,#a8d0e4,#c9e1ee,#f6f6f7,#fbe3d4,#fce2d2,#f9eee8,#f1f4f6,#eaf1f5,#edf2f5,#f5f6f7,#f8f4f2,#f8f4f1,#f7f5f3,#f7f7f6,#f6f6f7,#f5f6f7,#f7f7f7 56.5px)"></i><i style="background:linear-gradient(90deg,#f7f7f7 0.5px,#f7f6f6,#f7f6f5,#f7f6f6,#f5f6f7,#f2f5f6,#f3f5f6,#f7f6f5,#f9efea,#f9ede5,#f8f4f1,#e7eff4,#d7e8f1,#dfecf3,#f9eee8,#fac6ad,#f8bc9f,#f9ede5,#abd2e5,#58a1ca,#a2cde3,#fddbc7,#c6413e,#c8433f,#fae8dd,#4191c2,#144d89,#71b0d3,#f8bea2,#9f1228,#be3137,#f9ede5,#4d99c6,#2d76b4,#a5cfe3,#fcd4be,#e27b61,#f4a683,#f8f3f0,#bedbea,#b3d6e7,#dfecf3,#f9ede6,#fce1d2,#fae8dd,#f7f5f3,#edf2f5,#ecf2f5,#f2f4f6,#f7f6f6,#f8f4f2,#f8f5f3,#f7f6f5,#f7f7f7 53.5px)"></i><i style="background:linear-gradient(90deg,#f7f7f7 0.5px,#f7f6f5,#f7f6f5,#f6f7f7,#f4f5f6,#f2f5f6,#f5f6f7,#f8f3f0,#f9eee7,#f9efe9,#f3f5f6,#dfecf3,#d8e8f1,#ecf2f5,#fce1d1,#f8bc9f,#fbd1ba,#e5eff4,#80b9d8,#6aacd0,#deebf2,#ef9878,#bd2e35,#e98d6f,#cce2ee,#2268ad,#266daf,#dbeaf2,#d7624f,#9b1127,#ea8e70,#c4deec,#337db8,#4796c4,#e8f0f4,#f4a684,#e68469,#fcd2bc,#e0ecf3,#b2d5e7,#cae1ee,#f2f5f6,#fbe6da,#fbe4d6,#f9efe9,#f3f5f6,#ecf2f5,#eff3f6,#f5f6f7,#f7f5f4,#f7f5f3,#f7f6f5,#f7f7f7 52.5px)"></i><i style="background:linear-gradient(90deg,#f7f7f7 0.5px,#f7f6f5,#f7f6f6,#f5f6f7,#f3f5f6,#f3f5f6,#f7f6f6,#f8f0ec,#f9ede6,#f8f3f0,#eaf1f5,#dae9f2,#deebf2,#f8f2ef,#fbcfb8,#f8bea2,#fae8de,#bddbea,#67aacf,#9bcae1,#fbe5d9,#d35b4a,#c94641,#fcdecc,#65a9cf,#1b5a9b,#61a6cd,#fdd8c3,#b6212f,#be3137,#fbe3d5,#6cadd1,#327db8,#9ccae1,#fcdfcf,#e8896c,#f4a784,#f9efea,#c7e0ed,#b8d8e9,#dfecf3,#f9efe8,#fbe3d5,#fae9df,#f7f6f5,#eef3f5,#eef3f5,#f3f5f6,#f7f6f5,#f7f5f4,#f7f6f5,#f7f7f7 51.5px)"></i><i style="background:linear-gradient(90deg,#f7f7f7 -0.5px,#f7f6f5,#f7f6f5,#f7f7f7,#f4f6f6,#f2f5f6,#f4f6f7,#f8f4f1,#f9eee8,#f9efe9,#f5f6f7,#e2edf3,#d9e9f2,#eaf1f5,#fbe4d7,#f9c2a7,#fbd0b9,#ecf2f5,#91c4de,#70b0d2,#d8e8f1,#f5ac8b,#c53e3d,#e7886c,#dae9f2,#2e77b5,#2970b1,#d2e6f0,#e27b62,#ab162a,#e7886b,#d4e6f1,#3b88bd,#4a98c6,#e3edf3,#f6b091,#e98b6e,#fbd1bb,#e3edf3,#b7d8e9,#cce3ef,#f3f5f6,#fbe6db,#fbe5d8,#f9f0eb,#f1f4f6,#ecf2f5,#f1f4f6,#f7f7f6,#f7f5f3,#f7f5f4,#f7f7f7 50.5px)"></i><i style="background:linear-gradient(90deg,#f7f7f7 -0.5px,#f7f6f5,#f7f6f6,#f6f6f7,#f3f5f6,#f3f5f6,#f7f6f6,#f8f1ed,#f9eee7,#f8f2ef,#ecf2f5,#dceaf2,#dfebf3,#f8f4f2,#fcd5c0,#f9c2a7,#fbe7db,#c7e0ed,#73b2d3,#9ccae1,#faeae1,#db6b56,#cd4f45,#fddac6,#7bb6d6,#2165ab,#5fa5cd,#fce0cf,#bf3338,#c2373a,#fce0cf,#7db7d7,#3783bb,#9bcae1,#fbe3d4,#eb9072,#f5a987,#f9efe9,#c9e1ee,#bad9e9,#e0ecf3,#f9eee8,#fbe3d5,#faeae0,#f7f6f6,#edf2f5,#eef3f5,#f5f6f7,#f7f5f3,#f8f4f2,#f7f6f5,#f7f7f7 50.5px)"></i><i style="background:linear-gradient(90deg,#f7f7f7 -0.5px,#f7f6f5,#f7f7f6,#f4f6f7,#f3f5f6,#f4f6f7,#f8f4f2,#f9efe9,#f9efe9,#f6f6f7,#e3eef3,#dbeaf2,#eaf1f5,#fbe6da,#fac6ad,#fcd2bc,#eff3f5,#9ac9e0,#78b5d5,#d7e8f1,#f7b596,#cb4b43,#e98b6e,#dfecf3,#3581ba,#2d76b4,#d0e4f0,#e8896c,#b51e2e,#e88a6d,#d8e9f1,#408fc1,#509bc8,#e1edf3,#f7b596,#ea8f71,#fbd2bb,#e3eef3,#b8d8e9,#cde3ef,#f3f5f6,#fbe6d9,#fbe4d7,#f8f0eb,#f0f4f6,#ebf1f5,#f0f4f6,#f7f6f6,#f8f4f1,#f8f5f3,#f7f7f6,#f5f6f7,#f6f6f7,#f7f7f7 52.5px)"></i><i style="background:linear-gradient(90deg,#f7f7f7 0.5px,#f6f6f7,#f3f5f6,#f3f5f6,#f7f7f6,#f8f1ed,#f9eee8,#f8f3ef,#edf2f5,#ddebf2,#e0ecf3,#f8f4f3,#fdd9c4,#f9c6ac,#fae7dc,#cce3ef,#7db8d7,#a1cce2,#f9ece4,#e0765e,#d3594a,#fddbc7,#86bdda,#276eb0,#67aacf,#fce2d3,#c6403e,#c7413e,#fce0cf,#86bdda,#3b89be,#9ecbe1,#fbe4d6,#ed9576,#f5ab8a,#f9efe9,#cae2ee,#bad9e9,#e0ecf3,#f9eee7,#fbe2d3,#fae9df,#f7f7f6,#ebf1f5,#ecf2f5,#f4f6f6,#f8f4f2,#f8f3f1,#f7f5f4,#f6f7f7,#f5f6f7,#f7f7f7 51.5px)"></i><i style="background:linear-gradient(90deg,#f7f7f7 0.5px,#f4f6f7,#f3f5f6,#f5f6f7,#f8f4f2,#f9efea,#f9efea,#f6f6f7,#e4eef4,#dceaf2,#ebf1f5,#fae7db,#facab2,#fcd6c0,#eff3f5,#a0cce2,#82bbd9,#d9e9f2,#f7b99c,#d25749,#ed9576,#e0ecf3,#3b89be,#347fb9,#d3e6f0,#eb9072,#bc2c34,#ec9374,#d9e9f2,#4795c4,#5aa2cb,#e3edf3,#f7b89b,#ed9475,#fcd4bd,#e4eef3,#b9d9e9,#cde3ef,#f3f5f6,#fbe6d9,#fbe4d6,#f9efea,#f0f4f6,#eaf1f5,#eff3f6,#f7f6f6,#f8f3f1,#f8f4f1,#f7f6f6,#f5f6f7,#f5f6f7,#f7f7f7 51.5px)"></i><i style="background:linear-gradient(90deg,#f7f7f7 -0.5px,#f6f6f7,#f3f5f6,#f3f5f6,#f7f6f6,#f8f2ee,#f9efe9,#f8f3f0,#edf2f5,#dfecf3,#e2edf3,#f8f4f2,#fddbc7,#facab2,#fae9df,#cee3ef,#87beda,#aad1e5,#faebe2,#e37f65,#d96853,#fcdfce,#8bc1dc,#2f78b5,#78b4d5,#fce1d1,#cc4c44,#cf5246,#fbe3d5,#8cc1dc,#4291c2,#a7cfe4,#fbe4d6,#f09c7b,#f6b191,#f9efea,#cde3ef,#bddbea,#e0ecf3,#f9eee8,#fbe3d4,#fae9de,#f7f6f5,#ecf2f5,#ebf2f5,#f3f5f6,#f7f5f3,#f8f3f0,#f7f5f3,#f7f7f7,#f5f6f7,#f5f6f7,#f7f7f7 51.5px)"></i><i style="background:linear-gradient(90deg,#f7f7f7 -0.5px,#f4f6f7,#f3f5f6,#f5f6f7,#f8f4f2,#f9f0ea,#f8f0eb,#f5f6f7,#e5eef4,#deebf2,#edf2f5,#fae7db,#fbceb7,#fddcc8,#ecf2f5,#a4cee3,#91c4de,#dfecf3,#f7ba9c,#d96652,#f4a684,#dceaf2,#4090c1,#3e8dc0,#dbeaf2,#ec9475,#c63f3e,#f4a582,#d7e8f1,#549ec9,#6eaed2,#e7f0f4,#f8bc9f,#f2a07e,#fddac6,#e4eef4,#bfdceb,#d1e5f0,#f3f5f6,#fae7dc,#fbe5d8,#f9efea,#f1f4f6,#ebf1f5,#eff3f5,#f6f7f7,#f8f4f1,#f8f4f1,#f7f6f5,#f6f7f7,#f5f6f7,#f6f6f7,#f7f7f7 51.5px)"></i><i style="background:linear-gradient(90deg,#f7f7f7 -0.5px,#f4f5f6,#f4f5f6,#f7f6f6,#f8f2ee,#f9efea,#f8f4f2,#ecf2f5,#e0ecf3,#e4eef4,#f8f2ef,#fddcc8,#fbd1bb,#f9ede6,#cce3ef,#93c5de,#b9d9e9,#fae7db,#e7866b,#e37e64,#fbe7db,#8bc0dc,#3986bc,#95c7df,#fdddca,#d35a4a,#dc6d57,#faeae1,#90c3dd,#569fca,#b8d8e9,#fbe2d3,#f4a785,#f8bda0,#f8f2ef,#d1e5f0,#c6dfed,#e3eef3,#f9efe9,#fbe5d8,#faeae1,#f7f6f5,#eef3f5,#edf2f5,#f3f5f6,#f7f6f5,#f8f4f1,#f7f5f3,#f7f6f6,#f6f6f7,#f5f6f7,#f7f7f7 50.5px)"></i><i style="background:linear-gradient(90deg,#f7f7f7 -0.5px,#f3f5f6,#f6f6f7,#f8f4f2,#f8f0eb,#f8f1ed,#f4f5f6,#e5eff4,#e1edf3,#f1f4f6,#fbe6d9,#fcd3bd,#fce1d1,#e7f0f4,#a8d0e4,#a1cde2,#eaf1f5,#f7b799,#e0785f,#f8bca0,#d4e6f0,#4a98c6,#5ca3cb,#e9f1f4,#ec9374,#d35a4a,#f8bda1,#d0e5f0,#65a9cf,#8dc2dc,#f1f4f6,#f8bfa3,#f6af8f,#fce1d1,#e3edf3,#c8e0ed,#d8e8f1,#f5f6f7,#fae9df,#fae8dd,#f8f1ec,#f2f5f6,#edf2f5,#f0f4f6,#f6f7f7,#f7f5f3,#f8f4f3,#f7f6f5,#f6f7f7,#f6f6f7,#f7f7f7 49.5px)"></i><i style="background:linear-gradient(90deg,#f7f7f7 -0.5px,#f4f6f7,#f7f6f5,#f8f2ee,#f8f0ec,#f7f5f4,#ecf2f5,#e2edf3,#e9f0f4,#f9f0ea,#fdddca,#fddac6,#f8f3f0,#c8e0ed,#9fcbe2,#cfe4ef,#fce1d0,#ea8e71,#f09b7a,#f8f2ef,#86bdda,#4a97c5,#b7d8e9,#fbd0b9,#da6954,#eb9173,#f7f6f5,#91c4de,#75b3d4,#d2e6f0,#fcdecd,#f6b292,#fbceb7,#f6f7f7,#d4e6f0,#d2e6f0,#eaf1f5,#f9efe9,#fae8dd,#f9ede6,#f7f7f6,#eff3f6,#eff3f6,#f4f6f6,#f7f6f5,#f7f5f3,#f7f5f4,#f7f7f7 46.5px)"></i><i style="background:linear-gradient(90deg,#f7f7f7 0.5px,#f8f3f1,#f8f1ec,#f8f3f0,#f2f4f6,#e5eff4,#e5eef4,#f6f6f7,#fbe4d7,#fdd9c5,#fae7dc,#e0ecf3,#acd2e6,#b6d7e8,#f7f6f6,#f6b293,#ea8e71,#fdd8c4,#c2ddec,#59a1cb,#89bfdb,#f8f3f0,#eb9172,#e17a61,#fddcc8,#c1ddeb,#78b5d5,#add3e6,#f8f2ee,#f9c1a6,#f9c1a6,#faeae1,#e0ecf3,#d2e5f0,#e1ecf3,#f7f5f3,#faeae1,#f9ebe3,#f8f4f1,#f2f5f6,#eff3f6,#f3f5f6,#f7f7f6,#f7f5f4,#f7f5f4,#f7f7f7 45.5px)"></i><i style="background:linear-gradient(90deg,#f7f7f7 -0.5px,#f7f5f4,#f8f2ee,#f8f2ee,#f6f7f7,#eaf1f5,#e4eef4,#eef3f5,#f9ece5,#fcddcb,#fce1d1,#f3f5f6,#c3deec,#add3e6,#e0ecf3,#fcd7c1,#ee9878,#f7b99b,#eaf1f5,#81bad8,#6eaed2,#dae9f2,#f8bfa3,#e27b62,#f7b799,#e6eff4,#91c4de,#97c7df,#e5eff4,#fcd8c3,#f8bea2,#fcdfce,#edf2f5,#d5e7f1,#dbeaf2,#f2f4f6,#f9ede6,#faebe2,#f8f1ed,#f5f6f7,#f0f4f6,#f2f5f6,#f6f7f7,#f7f6f5,#f7f6f4,#f7f7f7 44.5px)"></i><i style="background:linear-gradient(90deg,#f7f7f7 -0.5px,#f8f3f0,#f8f1ed,#f7f5f3,#eff3f6,#e6eff4,#e9f0f4,#f8f4f1,#fbe3d4,#fcdecc,#f9efea,#d8e9f1,#b2d5e7,#cee4ef,#faebe3,#f6ae8e,#f5a986,#faeae1,#aed3e6,#6dadd1,#b3d6e8,#fbe3d6,#eb9072,#f19e7d,#f9ede7,#b1d5e7,#8fc3dd,#d0e4f0,#fae7dc,#f9c3a9,#fcd4be,#f8f4f2,#dceaf2,#d8e8f1,#eaf1f5,#f8f1ed,#faebe2,#f9efe9,#f7f7f6,#f1f4f6,#f1f4f6,#f5f6f7,#f7f6f5,#f7f5f4,#f7f6f6,#f7f7f7 44.5px)"></i><i style="background:linear-gradient(90deg,#f7f7f7 -0.5px,#f8f2ee,#f8f3f0,#f4f5f6,#e9f0f4,#e7eff4,#f4f5f6,#fae9df,#fcdfce,#fae8dd,#e8f0f4,#bfdceb,#c0dceb,#f1f4f6,#fac8af,#f4a683,#fcd8c3,#d7e8f1,#80b9d8,#97c7df,#f3f5f6,#f6b08f,#ec9273,#fddbc7,#d5e7f1,#95c7df,#b6d7e8,#f7f6f6,#fbd0b9,#facbb3,#faeae1,#e5eef4,#d7e8f1,#e3eef3,#f7f6f5,#f9ece4,#f9ede6,#f8f4f3,#f2f5f6,#f0f4f6,#f4f6f6,#f7f6f6,#f7f5f4,#f7f6f5,#f7f7f7 43.5px)"></i><i style="background:linear-gradient(90deg,#f7f7f7 -0.5px,#f8f2ef,#f7f7f6,#edf2f5,#e7eff4,#eef3f5,#f9efe9,#fce2d3,#fbe3d5,#f6f7f7,#d2e5f0,#bcdaea,#e0ecf3,#fce0d0,#f6ae8e,#f9c2a7,#f1f4f6,#9ecbe1,#88bfdb,#d9e9f2,#fbd1ba,#ee9777,#f8bfa4,#edf2f5,#a7cfe4,#a6cfe4,#e5eef4,#fcdfce,#fac9b0,#fce1d2,#f0f3f6,#dae9f2,#deebf2,#f2f5f6,#f9eee8,#f9ece4,#f8f2ee,#f4f6f6,#f0f4f6,#f2f5f6,#f7f7f7,#f7f5f4,#f7f5f4,#f7f7f7 42.5px)"></i><i style="background:linear-gradient(90deg,#f7f7f7 -0.5px,#f7f5f3,#f1f4f6,#e9f0f4,#ebf1f5,#f8f5f3,#fbe6da,#fce2d3,#f9f0ea,#deebf2,#c1ddeb,#d4e7f1,#f9eee8,#f8bfa3,#f7b799,#faebe2,#bfdceb,#8ac0db,#bedbeb,#fae8dd,#f5a886,#f6ae8e,#f9ede6,#c1ddeb,#a1cde2,#d4e6f1,#faeae1,#fbceb6,#fddbc7,#f8f4f2,#dfecf3,#dbeaf2,#ebf1f5,#f8f2ee,#f9ece4,#f9efea,#f7f7f6,#f1f4f6,#f1f4f6,#f5f6f7,#f7f6f5,#f7f5f4,#f7f6f5,#f7f7f7 42.5px)"></i><i style="background:linear-gradient(90deg,#f7f7f7 -0.5px,#f4f6f6,#ebf1f5,#e9f1f4,#f4f6f6,#faebe3,#fbe3d4,#faeae1,#ebf1f5,#cce2ef,#cce2ef,#f2f5f6,#fcd4be,#f7b698,#fcdecc,#dceaf2,#99c9e0,#a9d1e5,#f4f5f6,#f8bfa3,#f5a986,#fcdfce,#dae9f2,#a7d0e4,#c2ddec,#f7f6f6,#fdd9c5,#fcd4be,#f9ece3,#e7eff4,#dbeaf2,#e5eff4,#f7f6f5,#f9ede6,#f9eee7,#f8f4f3,#f2f5f6,#f0f4f6,#f4f5f6,#f7f6f6,#f7f5f4,#f7f5f4,#f7f7f7 41.5px)"></i><i style="background:linear-gradient(90deg,#f7f7f7 -0.5px,#eef3f5,#eaf1f5,#f0f4f6,#f9f0eb,#fbe5d8,#fae7db,#f5f6f7,#d7e8f1,#cae1ee,#e5eef4,#fbe3d4,#f8bea2,#fbd0b9,#f0f4f6,#afd4e6,#a1cce2,#e0ecf3,#fdd9c5,#f5ad8c,#fbceb6,#edf2f5,#b6d7e8,#b7d8e9,#e8f0f4,#fbe2d3,#fcd4be,#fbe5d8,#f0f4f6,#deebf2,#e1edf3,#f2f5f6,#f9efea,#f9ede6,#f8f2ef,#f5f6f7,#f1f4f6,#f2f5f6,#f6f7f7,#f7f5f4,#f7f5f4,#f7f6f6,#f7f7f7 41.5px)"></i><i style="background:linear-gradient(90deg,#f7f7f7 -0.5px,#ebf1f5,#edf2f5,#f8f4f2,#fae9de,#fbe6d9,#f8f2ef,#e1ecf3,#cee3ef,#dceaf2,#f9eee7,#facbb2,#fac9b0,#f9efea,#c9e1ee,#a3cee3,#d1e5f0,#fae8dd,#f7b99b,#f9c2a7,#f8f1ed,#cbe2ee,#b5d7e8,#dceaf2,#faebe3,#fdd9c5,#fce1d0,#f7f5f4,#e3edf3,#e0ecf3,#edf2f5,#f8f2ef,#f9eee7,#f8f1ec,#f7f6f6,#f2f5f6,#f2f5f6,#f5f6f7,#f7f6f6,#f7f5f4,#f7f6f5,#f7f7f7 40.5px)"></i><i style="background:linear-gradient(90deg,#f7f7f7 -0.5px,#ecf2f5,#f6f7f7,#f9ece5,#fbe6db,#f9eee7,#eaf1f5,#d4e7f1,#d8e8f1,#f7f7f6,#fddbc6,#fac9af,#fbe6da,#dceaf2,#add3e6,#c3deec,#f7f5f3,#facab1,#f8bfa3,#fae7dc,#dbeaf2,#bbdaea,#d4e7f1,#f8f4f2,#fcdfcd,#fcdfcd,#f9efea,#e9f0f4,#e1ecf3,#eaf1f5,#f7f6f5,#f9efe9,#f9f0eb,#f7f5f4,#f4f5f6,#f2f5f6,#f4f6f6,#f7f7f6,#f7f6f5,#f7f6f5,#f7f7f7 39.5px)"></i><i style="background:linear-gradient(90deg,#f7f7f7 -0.5px,#f3f5f6,#f9f0eb,#fae8dd,#f9ebe3,#f2f5f6,#dbeaf2,#d6e8f1,#eef3f5,#fbe3d5,#fbcdb6,#fce0cf,#eaf1f5,#bcdbea,#bcdbea,#ecf2f5,#fddcc8,#f9c2a7,#fce0cf,#e9f0f4,#c5dfed,#cfe4ef,#f1f4f6,#fbe4d7,#fcdfce,#faebe3,#eff3f6,#e3eef3,#e8f0f4,#f5f6f7,#f8f1ec,#f9f0eb,#f8f4f2,#f5f6f7,#f3f5f6,#f4f6f6,#f6f7f7,#f7f6f5,#f7f6f5,#f7f7f7 38.5px)"></i><i style="background:linear-gradient(90deg,#f7f7f7 -0.5px,#f8f3f0,#faeae1,#faeae1,#f7f6f6,#e1edf3,#d8e8f1,#e7eff4,#faebe2,#fcd5c0,#fdddca,#f6f7f7,#cde3ef,#bddbea,#e2edf3,#fbe5d8,#fac9b0,#fddbc8,#f4f6f6,#d2e5f0,#cde3ef,#e9f0f4,#faeae1,#fce0d0,#fae9de,#f5f6f7,#e6eff4,#e7eff4,#f2f5f6,#f8f3ef,#f8f0ec,#f8f3f1,#f6f7f7,#f3f5f6,#f4f6f6,#f6f7f7,#f7f6f6,#f7f6f5,#f7f7f7 37.5px)"></i><i style="background:linear-gradient(90deg,#f7f7f7 -0.5px,#f9ede5,#faeae1,#f8f3f0,#e7f0f4,#dae9f2,#e3eef3,#f8f1ed,#fdddca,#fddcc8,#f8f1ec,#d9e9f1,#c1ddeb,#dbeaf2,#f9ede6,#fbd2bb,#fcd8c3,#f8f2ef,#dae9f2,#cfe4ef,#e3eef3,#f9efea,#fbe3d4,#fae7dc,#f7f5f4,#e9f0f4,#e7eff4,#f0f4f6,#f8f4f2,#f8f1ec,#f8f3f0,#f7f7f6,#f4f6f6,#f4f6f6,#f6f6f7,#f7f6f6,#f7f6f6,#f7f7f7 36.5px)"></i><i style="background:linear-gradient(90deg,#f7f7f7 -0.5px,#faebe2,#f8f1ed,#edf2f5,#deebf2,#e1edf3,#f7f6f5,#fce2d3,#fddcc9,#f9ece4,#e2edf3,#c8e0ed,#d7e8f1,#f8f4f2,#fddcc8,#fcd7c1,#f9ede6,#e2edf3,#d2e6f0,#dfecf3,#f8f4f1,#fbe5d9,#fbe6da,#f8f3ef,#ecf2f5,#e8f0f4,#eff3f5,#f7f5f4,#f8f1ed,#f8f3ef,#f7f6f6,#f4f6f7,#f4f6f6,#f6f6f7,#f7f6f6,#f7f6f6,#f7f7f7 35.5px)"></i><i style="background:linear-gradient(90deg,#f7f7f7 -0.5px,#f9efea,#f1f4f6,#e1edf3,#e0ecf3,#f3f5f6,#fbe7db,#fcdecb,#fae8de,#eaf1f5,#d1e5f0,#d4e7f1,#f3f5f6,#fce1d1,#fdd8c3,#fae9df,#e9f0f4,#d5e7f1,#ddebf2,#f6f6f7,#fae8dd,#fbe6da,#f8f0eb,#eff3f6,#e8f0f4,#edf2f5,#f7f6f6,#f8f2ee,#f8f2ef,#f7f6f5,#f5f6f7,#f4f6f6,#f5f6f7,#f7f7f6,#f7f6f6,#f7f7f7 34.5px)"></i><i style="background:linear-gradient(90deg,#f7f7f7 -0.5px,#f5f6f7,#e5eff4,#e1ecf3,#eff3f5,#faebe2,#fce0cf,#fbe6da,#f1f4f6,#d6e8f1,#d4e6f1,#edf2f5,#fbe6da,#fddbc7,#fbe6d9,#f0f3f6,#d9e9f2,#dbeaf2,#f1f4f6,#faebe2,#fbe6da,#f9eee8,#f2f5f6,#e9f1f4,#ecf2f5,#f6f6f7,#f8f3f0,#f8f2ee,#f7f5f4,#f5f6f7,#f4f5f6,#f5f6f7,#f7f7f6,#f7f6f6,#f7f6f6,#f7f7f7 34.5px)"></i><i style="background:linear-gradient(90deg,#f7f7f7 -0.5px,#e9f0f4,#e2edf3,#ecf2f5,#f9efe9,#fbe2d3,#fbe5d8,#f7f7f6,#dceaf2,#d5e7f1,#e8f0f4,#faebe2,#fcdecb,#fbe4d6,#f5f6f7,#deebf2,#dbeaf2,#edf2f5,#f9eee8,#fae7dc,#f9ede6,#f5f6f7,#ebf1f5,#ecf2f5,#f4f6f6,#f8f4f1,#f8f2ee,#f8f4f2,#f6f7f7,#f4f6f6,#f5f6f7,#f6f7f7,#f7f6f6,#f7f6f6,#f7f7f7 33.5px)"></i><i style="background:linear-gradient(90deg,#f7f7f7 -0.5px,#e4eef3,#eaf1f5,#f8f2ef,#fbe5d8,#fbe5d8,#f8f3f1,#e2edf3,#d7e8f1,#e5eef4,#f9efea,#fce1d0,#fbe3d5,#f8f5f3,#e2edf3,#dceaf2,#eaf1f5,#f8f1ed,#fae9de,#f9ece4,#f7f6f6,#edf2f5,#ecf2f5,#f3f5f6,#f8f5f3,#f8f2ef,#f8f4f2,#f7f7f6,#f4f6f7,#f4f6f7,#f6f7f7,#f7f6f6,#f7f6f5,#f7f7f7 32.5px)"></i><i style="background:linear-gradient(90deg,#f7f7f7 -0.5px,#e9f0f4,#f7f5f4,#fae8dd,#fbe5d9,#f8f1ed,#e7eff4,#dae9f2,#e3edf3,#f8f3f1,#fbe4d6,#fbe3d5,#f8f2ee,#e7eff4,#deebf2,#e8f0f4,#f8f4f1,#faeae2,#f9ece4,#f7f5f3,#eff3f6,#ecf2f5,#f2f4f6,#f7f6f5,#f8f3f0,#f8f4f1,#f7f6f6,#f5f6f7,#f4f6f7,#f6f6f7,#f7f6f6,#f7f6f6,#f7f7f7 31.5px)"></i><i style="background:linear-gradient(90deg,#f7f7f7 0.5px,#faebe2,#fbe7db,#f9efea,#ebf2f5,#ddebf2,#e2edf3,#f7f6f6,#fae7db,#fbe4d7,#f9f0eb,#ebf1f5,#e1ecf3,#e8f0f4,#f7f6f5,#f9ece5,#f9ece5,#f8f4f1,#f1f4f6,#edf2f5,#f1f4f6,#f7f6f6,#f8f3f1,#f8f4f2,#f7f6f5,#f6f6f7,#f5f6f7,#f6f6f7,#f7f7f7 28.5px)"></i><i style="background:linear-gradient(90deg,#f7f7f7 -0.5px,#f9ede6,#fae8dd,#f9efe8,#eff3f6,#e0ecf3,#e3edf3,#f5f6f7,#faeae0,#fbe6d9,#f9efe9,#eff3f5,#e3eef3,#e8f0f4,#f6f7f7,#f9eee8,#f9ede6,#f8f3f0,#f3f5f6,#eef3f5,#f1f4f6,#f7f7f7,#f8f4f2,#f8f4f2,#f7f6f5,#f6f7f7,#f5f6f7,#f6f6f7,#f7f7f7 27.5px)"></i><i style="background:linear-gradient(90deg,#f7f7f7 -0.5px,#fae9e0,#f9eee8,#f2f5f6,#e3eef3,#e4eef3,#f3f5f6,#f9ece5,#fae7dc,#f9eee8,#f1f4f6,#e6eff4,#e8f0f4,#f5f6f7,#f9f0eb,#f9eee7,#f8f3f0,#f4f6f6,#eff3f6,#f1f4f6,#f6f7f7,#f7f5f3,#f8f4f3,#f7f6f5,#f6f7f7,#f5f6f7,#f7f7f7 25.5px)"></i><i style="background:linear-gradient(90deg,#f7f7f7 -0.5px,#f9eee8,#f4f6f6,#e6eff4,#e5eef4,#f2f5f6,#f9eee8,#fae9df,#f9eee8,#f3f5f6,#e8f0f4,#e9f0f4,#f4f6f6,#f8f1ed,#f9efe9,#f8f3f0,#f5f6f7,#f0f4f6,#f2f4f6,#f6f7f7,#f7f5f4,#f7f5f3,#f7f6f5,#f6f7f7,#f6f6f7,#f7f7f7 24.5px)"></i><i style="background:linear-gradient(90deg,#f7f7f7 -0.5px,#f5f6f7,#e8f0f4,#e6eff4,#f1f4f6,#f9f0eb,#faeae1,#f9eee8,#f4f6f7,#eaf1f5,#eaf1f5,#f4f5f6,#f8f2ee,#f9efea,#f8f3f0,#f5f6f7,#f1f4f6,#f2f5f6,#f6f7f7,#f7f5f4,#f7f5f3,#f7f6f5,#f6f7f7,#f6f6f7,#f7f7f7 23.5px)"></i><i style="background:linear-gradient(90deg,#f7f7f7 -0.5px,#eaf1f5,#e8f0f4,#f1f4f6,#f8f1ed,#faebe3,#f9efe9,#f5f6f7,#ebf1f5,#ebf1f5,#f3f5f6,#f8f3ef,#f9f0eb,#f8f3f0,#f6f6f7,#f2f4f6,#f2f5f6,#f6f7f7,#f7f5f4,#f7f5f3,#f7f6f5,#f6f7f7,#f6f6f7,#f7f7f7 22.5px)"></i><i style="background:linear-gradient(90deg,#f7f7f7 -0.5px,#e9f0f4,#f1f4f6,#f8f2ee,#f9ece5,#f9efe9,#f6f7f7,#ecf2f5,#ebf2f5,#f3f5f6,#f8f3f0,#f8f0ec,#f8f3f0,#f6f7f7,#f2f5f6,#f2f5f6,#f6f6f7,#f7f5f4,#f7f5f3,#f7f6f5,#f6f7f7,#f6f6f7,#f7f7f7 21.5px)"></i><i style="background:linear-gradient(90deg,#f7f7f7 -0.5px,#f1f4f6,#f8f3f0,#f9ede6,#f9f0ea,#f7f7f7,#eef3f5,#ecf2f5,#f3f5f6,#f8f4f1,#f8f1ed,#f8f3f0,#f6f7f7,#f2f5f6,#f3f5f6,#f6f6f7,#f7f6f5,#f7f5f4,#f7f6f5,#f6f7f7,#f6f6f7,#f7f7f7 20.5px)"></i><i style="background:linear-gradient(90deg,#f7f7f7 -0.5px,#f8f3f1,#f9eee8,#f8f0eb,#f7f7f6,#eff3f5,#edf2f5,#f3f5f6,#f8f4f2,#f8f2ee,#f8f3f1,#f7f7f7,#f3f5f6,#f3f5f6,#f6f6f7,#f7f6f5,#f7f5f4,#f7f6f5,#f7f7f7 17.5px)"></i><i style="background:linear-gradient(90deg,#f7f7f7 -0.5px,#f9efea,#f8f1ec,#f7f6f6,#f0f4f6,#eef3f5,#f3f5f6,#f8f5f3,#f8f2ef,#f8f4f1,#f7f7f6,#f3f5f6,#f3f5f6,#f6f6f7,#f7f6f5,#f7f5f4,#f7f6f5,#f7f7f7 16.5px)"></i><i style="background:linear-gradient(90deg,#f7f7f7 -0.5px,#f8f1ed,#f7f6f6,#f1f4f6,#eff3f6,#f4f5f6,#f7f5f4,#f8f3f0,#f8f4f2,#f7f7f6,#f4f6f6,#f4f5f6,#f6f6f7,#f7f6f6,#f7f6f5,#f7f6f5,#f7f7f7 15.5px)"></i><i style="background:linear-gradient(90deg,#f7f7f7 0.5px,#f1f4f6,#f0f4f6,#f4f6f6,#f7f5f4,#f8f3f1,#f8f4f2,#f7f7f6,#f4f6f7,#f4f6f6,#f6f6f7,#f7f6f6,#f7f6f5,#f7f6f6,#f7f7f7 14.5px)"></i><i style="background:linear-gradient(90deg,#f7f7f7 -0.5px,#f2f5f6,#f1f4f6,#f5f6f7,#f7f5f4,#f8f4f2,#f7f5f3,#f7f7f6,#f5f6f7,#f5f6f7,#f6f7f7,#f7f6f6,#f7f6f6,#f7f7f7 12.5px)"></i><i style="background:linear-gradient(90deg,#f7f7f7 -0.5px,#f2f5f6,#f5f6f7,#f7f5f4,#f8f4f2,#f7f5f4,#f7f7f7,#f5f6f7,#f5f6f7,#f6f7f7,#f7f6f6,#f7f6f6,#f7f7f7 11.5px)"></i><i style="background:linear-gradient(90deg,#f7f7f7 -0.5px,#f6f6f7,#f7f5f4,#f8f5f3,#f7f6f5,#f6f7f7,#f5f6f7,#f5f6f7,#f7f7f7 7.5px)"></i><i style="background:linear-gradient(90deg,#f7f7f7 -0.5px,#f7f5f4,#f7f5f3,#f7f6f5,#f6f7f7,#f5f6f7,#f6f6f7,#f7f7f7 6.5px)"></i><i style="background:linear-gradient(90deg,#f7f7f7 -0.5px,#f7f5f3,#f7f6f5,#f6f7f7,#f5f6f7,#f6f6f7,#f7f7f7 5.5px)"></i><i style="background:linear-gradient(90deg,#f7f7f7 -0.5px,#f7f6f6,#f6f7f7,#f5f6f7,#f7f7f7 3.5px)"></i><i style="background:linear-gradient(90deg,#f7f7f7 0.5px,#f5f6f7,#f7f7f7 2.5px)"></i><i style="background:linear-gradient(90deg,#f7f7f7 -0.5px,#f6f6f7,#f7f7f7 1.5px)"></i><i></i><i></i><i></i></div>
<div class="h" style="left:362px;top:227px;width:87px;height:170px;background:#f7f7f7"><i style="background:linear-gradient(90deg,#f7f7f7 17.5px,#f7f6f5,#f7f6f5,#f7f6f6,#f5f6f7,#f3f5f6,#f4f5f6,#f7f6f6,#f8f3f0,#f8f2ee,#f7f5f4,#f1f4f6,#ecf2f5,#eef3f5,#f7f5f4,#f9ede6,#f9ece4,#f8f3f1,#ecf2f5,#e4eef3,#eaf1f5,#f8f4f2,#fae9e0,#fae9de,#f8f3f0,#eaf1f5,#e1edf3,#e9f0f4,#f8f4f2,#fae9df,#fae9df,#f8f3f0,#ebf1f5,#e4eef3,#ebf1f5,#f8f5f3,#f9ece5,#f9ede5,#f8f4f3,#eff3f6,#ebf2f5,#f1f4f6,#f7f6f4,#f8f2ee,#f8f3ef,#f7f6f6,#f4f6f6,#f3f5f6,#f5f6f7,#f7f6f6,#f7f6f5,#f7f6f5,#f7f7f7 69.5px)"></i><i style="background:linear-gradient(90deg,#f7f7f7 17.5px,#f7f6f5,#f7f6f5,#f7f6f6,#f5f6f7,#f3f5f6,#f4f5f6,#f7f6f6,#f8f3f0,#f8f2ee,#f7f5f3,#f1f4f6,#ebf1f5,#eef3f5,#f7f5f4,#f9ede6,#f9ece3,#f8f3f1,#ecf2f5,#e3eef3,#eaf1f5,#f8f4f2,#fae9df,#fae8de,#f8f3f0,#eaf1f5,#e1ecf3,#e8f0f4,#f8f4f2,#fae9df,#fae8de,#f8f3f0,#ebf1f5,#e3eef3,#ebf1f5,#f8f5f3,#f9ece4,#f9ece5,#f8f4f2,#eff3f6,#ebf1f5,#f0f4f6,#f7f6f4,#f8f2ee,#f8f2ef,#f7f6f5,#f4f6f6,#f3f5f6,#f5f6f7,#f7f6f6,#f7f6f5,#f7f6f5,#f7f7f7 69.5px)"></i><i style="background:linear-gradient(90deg,#f7f7f7 17.5px,#f7f6f5,#f7f6f4,#f7f6f6,#f5f6f7,#f3f5f6,#f4f5f6,#f7f6f6,#f8f3ef,#f8f1ed,#f7f5f3,#f1f4f6,#ebf1f5,#eef3f5,#f7f5f4,#f9ede5,#faebe3,#f8f3f1,#ecf2f5,#e3edf3,#e9f0f4,#f8f4f2,#fae8de,#fae8dd,#f8f3ef,#e9f1f4,#e0ecf3,#e8f0f4,#f8f4f2,#fae8de,#fae8dd,#f8f3f0,#ebf1f5,#e3edf3,#eaf1f5,#f8f5f3,#f9ece3,#f9ece4,#f8f4f2,#eff3f5,#ebf1f5,#f0f4f6,#f7f6f4,#f8f1ee,#f8f2ef,#f7f6f5,#f4f5f6,#f3f5f6,#f5f6f7,#f7f6f6,#f7f6f5,#f7f6f5,#f7f7f7 69.5px)"></i><i style="background:linear-gradient(90deg,#f7f7f7 17.5px,#f7f6f5,#f7f5f4,#f7f6f6,#f5f6f7,#f3f5f6,#f3f5f6,#f7f6f6,#f8f2ef,#f8f1ed,#f7f5f3,#f1f4f6,#eaf1f5,#eef3f5,#f7f5f4,#f9ece4,#faebe2,#f8f3f1,#ebf1f5,#e2edf3,#e9f0f4,#f8f4f2,#fae8dd,#fae7dc,#f8f2ef,#e9f0f4,#dfecf3,#e7f0f4,#f8f4f2,#fae8dd,#fae7dc,#f8f2ef,#eaf1f5,#e2edf3,#eaf1f5,#f8f5f3,#faebe3,#f9ece3,#f8f4f2,#eff3f5,#eaf1f5,#f0f4f6,#f7f6f4,#f8f1ed,#f8f2ee,#f7f6f5,#f4f5f6,#f3f5f6,#f5f6f7,#f7f6f6,#f7f5f4,#f7f6f5,#f7f7f7 69.5px)"></i><i style="background:linear-gradient(90deg,#f7f7f7 17.5px,#f7f6f5,#f7f5f4,#f7f6f6,#f5f6f7,#f3f5f6,#f3f5f6,#f7f6f6,#f8f2ef,#f8f1ed,#f7f5f3,#f0f4f6,#eaf1f5,#edf2f5,#f7f5f3,#f9ece4,#faeae1,#f8f3f1,#eaf1f5,#e1edf3,#e8f0f4,#f8f4f1,#fae7dc,#fbe7db,#f8f2ef,#e8f0f4,#deebf2,#e7eff4,#f8f4f2,#fae7dc,#fae7db,#f8f2ef,#eaf1f5,#e1edf3,#e9f0f4,#f8f5f3,#faebe2,#faebe3,#f8f4f2,#eef3f5,#eaf1f5,#eff3f6,#f7f6f4,#f8f1ed,#f8f2ee,#f7f6f5,#f4f5f6,#f3f5f6,#f5f6f7,#f7f6f6,#f7f5f4,#f7f6f5,#f7f7f7 69.5px)"></i><i style="background:linear-gradient(90deg,#f7f7f7 17.5px,#f7f6f5,#f7f5f4,#f7f6f6,#f5f6f7,#f2f5f6,#f3f5f6,#f7f6f6,#f8f2ee,#f8f1ec,#f7f5f3,#f0f4f6,#e9f1f5,#edf2f5,#f7f5f3,#faebe3,#faeae1,#f8f3f1,#eaf1f5,#e0ecf3,#e8f0f4,#f8f3f1,#fae7db,#fbe6da,#f8f2ef,#e8f0f4,#ddebf2,#e6eff4,#f8f4f2,#fae7db,#fbe6da,#f8f2ee,#e9f1f5,#e0ecf3,#e8f0f4,#f8f5f3,#faeae2,#faebe2,#f8f4f1,#eef3f5,#e9f1f4,#eff3f6,#f7f6f5,#f8f1ed,#f8f2ee,#f7f6f5,#f4f5f6,#f2f5f6,#f5f6f7,#f7f6f6,#f7f5f4,#f7f6f5,#f7f7f7 69.5px)"></i><i style="background:linear-gradient(90deg,#f7f7f7 17.5px,#f7f6f5,#f7f5f4,#f7f6f6,#f5f6f7,#f2f5f6,#f3f5f6,#f7f6f6,#f8f2ee,#f8f1ec,#f7f5f3,#f0f3f6,#e9f0f4,#edf2f5,#f8f4f3,#faebe2,#faeae0,#f8f3f1,#e9f0f4,#dfecf3,#e7f0f4,#f8f3f1,#fbe6da,#fbe5d9,#f8f2ee,#e7f0f4,#dceaf2,#e5eff4,#f8f4f1,#fbe6da,#fbe5d9,#f8f2ee,#e9f0f4,#dfecf3,#e8f0f4,#f8f5f3,#faeae1,#faeae1,#f8f3f1,#eef3f5,#e9f0f4,#eff3f5,#f7f6f5,#f8f1ec,#f8f1ed,#f7f6f5,#f3f5f6,#f2f5f6,#f5f6f7,#f7f6f6,#f7f5f4,#f7f6f5,#f7f7f7 69.5px)"></i><i style="background:linear-gradient(90deg,#f7f7f7 17.5px,#f7f6f5,#f7f5f4,#f7f6f6,#f5f6f7,#f2f5f6,#f3f5f6,#f7f6f5,#f8f1ee,#f8f0ec,#f7f5f3,#eff3f6,#e8f0f4,#edf2f5,#f8f4f2,#faeae1,#fae9df,#f8f3f1,#e9f0f4,#dfebf3,#e7eff4,#f8f3f0,#fbe5d9,#fbe5d8,#f8f2ee,#e7eff4,#dbeaf2,#e5eef4,#f8f4f1,#fbe6d9,#fbe5d8,#f8f1ed,#e9f0f4,#dfebf3,#e7eff4,#f8f5f3,#faeae0,#faeae0,#f8f3f0,#eef3f5,#e8f0f4,#eef3f5,#f7f6f5,#f8f1ec,#f8f1ed,#f7f6f5,#f3f5f6,#f2f5f6,#f4f6f7,#f7f6f6,#f7f5f4,#f7f6f5,#f7f7f7 69.5px)"></i><i style="background:linear-gradient(90deg,#f7f7f7 17.5px,#f7f6f5,#f7f5f4,#f7f6f6,#f5f6f7,#f2f5f6,#f3f5f6,#f7f6f5,#f8f1ed,#f8f0eb,#f7f5f3,#eff3f5,#e8f0f4,#ecf2f5,#f8f4f2,#faeae0,#fae9de,#f8f3f1,#e8f0f4,#deebf2,#e7eff4,#f8f3f0,#fbe5d8,#fbe4d7,#f8f2ee,#e6eff4,#dae9f2,#e4eef4,#f8f4f1,#fbe5d8,#fbe4d7,#f8f1ed,#e8f0f4,#deebf2,#e6eff4,#f7f5f3,#fae9df,#fae9df,#f8f3f0,#eef3f5,#e8f0f4,#eef3f5,#f7f6f5,#f8f0ec,#f8f1ed,#f7f5f4,#f3f5f6,#f2f5f6,#f4f6f6,#f7f6f6,#f7f5f4,#f7f6f5,#f7f7f7 69.5px)"></i><i style="background:linear-gradient(90deg,#f7f7f7 17.5px,#f7f6f5,#f7f5f4,#f7f6f6,#f4f6f7,#f2f4f6,#f3f5f6,#f7f6f5,#f8f1ed,#f9f0eb,#f7f5f3,#eef3f5,#e7f0f4,#ecf2f5,#f8f4f1,#fae9df,#fae8de,#f8f3f1,#e7f0f4,#ddebf2,#e6eff4,#f8f3ef,#fbe4d7,#fbe4d6,#f8f2ee,#e5eff4,#d9e9f2,#e3eef3,#f8f4f1,#fbe4d7,#fbe3d5,#f8f1ec,#e8f0f4,#ddebf2,#e5eff4,#f7f5f3,#fae9df,#fae8de,#f8f2ef,#edf2f5,#e7f0f4,#edf2f5,#f7f6f5,#f8f0eb,#f8f1ec,#f7f5f4,#f3f5f6,#f2f4f6,#f4f6f6,#f7f6f6,#f7f5f4,#f7f6f4,#f7f7f7 69.5px)"></i><i style="background:linear-gradient(90deg,#f7f7f7 17.5px,#f7f6f5,#f7f5f4,#f7f6f6,#f4f6f7,#f2f4f6,#f3f5f6,#f7f6f5,#f8f1ec,#f9f0ea,#f7f5f4,#eef3f5,#e7eff4,#ecf2f5,#f8f3f1,#fae9de,#fae8dd,#f8f3f1,#e6eff4,#dceaf2,#e6eff4,#f8f2ef,#fbe3d5,#fbe3d5,#f8f2ee,#e5eef4,#d8e8f1,#e3edf3,#f8f3f1,#fbe4d6,#fbe3d4,#f8f0ec,#e8f0f4,#dceaf2,#e5eef4,#f7f5f3,#fae8de,#fae8dd,#f8f2ef,#edf2f5,#e7eff4,#edf2f5,#f7f6f5,#f9f0eb,#f8f0ec,#f7f5f4,#f3f5f6,#f1f4f6,#f4f6f6,#f7f6f6,#f7f5f4,#f7f5f4,#f7f7f7 69.5px)"></i><i style="background:linear-gradient(90deg,#f7f7f7 17.5px,#f7f6f4,#f7f5f4,#f7f6f6,#f4f6f6,#f1f4f6,#f3f5f6,#f7f6f5,#f8f0ec,#f9efea,#f7f5f4,#edf2f5,#e6eff4,#ecf2f5,#f8f3f0,#fae8dd,#fae7dc,#f8f3f1,#e6eff4,#dbeaf2,#e5eff4,#f8f2ee,#fbe3d4,#fbe2d3,#f8f1ed,#e4eef4,#d7e8f1,#e2edf3,#f8f3f1,#fbe3d5,#fce2d3,#f9f0eb,#e7f0f4,#dbeaf2,#e4eef3,#f7f5f4,#fae8dd,#fae7dc,#f8f2ee,#edf2f5,#e6eff4,#ecf2f5,#f7f6f5,#f9f0eb,#f8f0eb,#f7f5f4,#f3f5f6,#f1f4f6,#f4f5f6,#f7f6f6,#f7f5f4,#f7f5f4,#f7f7f7 69.5px)"></i><i style="background:linear-gradient(90deg,#f7f7f7 17.5px,#f7f5f4,#f7f5f4,#f7f6f6,#f4f6f6,#f1f4f6,#f3f5f6,#f7f5f4,#f8f0eb,#f9efea,#f7f5f4,#edf2f5,#e6eff4,#ecf2f5,#f8f3f0,#fae7dc,#fae7db,#f8f3f1,#e5eef4,#dae9f2,#e5eef4,#f8f2ee,#fce2d3,#fce2d2,#f8f1ed,#e3eef3,#d6e7f1,#e1edf3,#f8f3f1,#fbe3d4,#fce1d1,#f9f0ea,#e7eff4,#dae9f2,#e3edf3,#f7f5f4,#fae8dd,#fbe7db,#f8f1ed,#edf2f5,#e5eff4,#ecf2f5,#f7f6f5,#f9f0ea,#f9f0eb,#f7f5f3,#f3f5f6,#f1f4f6,#f4f5f6,#f7f6f6,#f7f5f4,#f7f5f4,#f7f7f7 69.5px)"></i><i style="background:linear-gradient(90deg,#f7f7f7 17.5px,#f7f5f4,#f7f5f3,#f7f6f6,#f4f5f6,#f1f4f6,#f3f5f6,#f7f5f4,#f9f0eb,#f9efe9,#f7f5f4,#ecf2f5,#e5eef4,#ebf1f5,#f8f2ef,#fbe7db,#fbe6db,#f8f4f1,#e4eef3,#d9e9f1,#e4eef4,#f8f1ed,#fce1d1,#fce1d1,#f8f1ed,#e3edf3,#d5e7f1,#e0ecf3,#f8f3f1,#fce2d3,#fce0d0,#f9efea,#e7eff4,#d9e9f1,#e2edf3,#f7f5f4,#fae7dc,#fbe6da,#f8f1ed,#edf2f5,#e5eef4,#ebf1f5,#f7f6f6,#f9efea,#f9efea,#f7f5f3,#f3f5f6,#f1f4f6,#f3f5f6,#f7f6f6,#f7f5f4,#f7f5f4,#f7f7f7 69.5px)"></i><i style="background:linear-gradient(90deg,#f7f7f7 17.5px,#f7f5f4,#f7f5f3,#f7f6f6,#f4f5f6,#f1f4f6,#f2f5f6,#f7f5f4,#f9f0ea,#f9efe9,#f7f5f4,#ecf2f5,#e4eef4,#ebf1f5,#f8f2ee,#fbe6da,#fbe6da,#f8f4f1,#e3edf3,#d8e8f1,#e4eef3,#f8f1ec,#fce0d0,#fce0d0,#f8f1ed,#e2edf3,#d4e6f1,#dfecf3,#f8f3f1,#fce1d2,#fcdfce,#f9efe9,#e6eff4,#d8e8f1,#e1edf3,#f7f6f5,#fae7db,#fbe5d9,#f8f1ec,#edf2f5,#e4eef4,#eaf1f5,#f7f6f6,#f9efe9,#f9efea,#f8f4f3,#f3f5f6,#f1f4f6,#f3f5f6,#f7f6f6,#f7f5f3,#f7f5f4,#f7f7f7 69.5px)"></i><i style="background:linear-gradient(90deg,#f7f7f7 17.5px,#f7f5f4,#f7f5f3,#f7f6f6,#f3f5f6,#f0f4f6,#f2f5f6,#f7f5f3,#f9efea,#f9efe9,#f7f5f4,#ebf1f5,#e3eef3,#ebf1f5,#f8f2ee,#fbe5d8,#fbe5d9,#f8f4f2,#e2edf3,#d7e8f1,#e4eef3,#f8f0ec,#fcdfce,#fcdfcf,#f8f1ed,#e1edf3,#d3e6f0,#dfebf3,#f8f3f1,#fce1d0,#fcdecd,#f9eee8,#e6eff4,#d7e8f1,#e0ecf3,#f7f6f5,#fbe6da,#fbe4d7,#f8f0eb,#edf2f5,#e4eef3,#eaf1f5,#f7f6f6,#f9efe9,#f9efe9,#f8f4f2,#f3f5f6,#f0f4f6,#f3f5f6,#f7f7f6,#f7f5f3,#f7f5f4,#f7f7f7 69.5px)"></i><i style="background:linear-gradient(90deg,#f7f7f7 17.5px,#f7f5f4,#f7f5f3,#f7f6f6,#f3f5f6,#f0f4f6,#f2f5f6,#f7f5f3,#f9efe9,#f9eee8,#f7f6f5,#eaf1f5,#e3edf3,#ebf1f5,#f8f1ed,#fbe4d7,#fbe5d8,#f8f4f2,#e1edf3,#d6e7f1,#e3eef3,#f9f0eb,#fcdecd,#fcdfcd,#f8f1ec,#e0ecf3,#d1e5f0,#deebf2,#f8f3f0,#fce0cf,#fcdecb,#f9eee7,#e6eff4,#d6e7f1,#dfecf3,#f7f6f5,#fbe6da,#fbe4d6,#f9f0ea,#edf2f5,#e3edf3,#e9f0f4,#f7f6f6,#f9efe9,#f9eee8,#f8f4f2,#f3f5f6,#f0f4f6,#f3f5f6,#f7f7f6,#f7f5f3,#f7f5f4,#f7f6f6,#f6f7f7,#f6f6f7,#f7f7f7 72.5px)"></i><i style="background:linear-gradient(90deg,#f7f7f7 14.5px,#f6f6f7,#f6f7f7,#f7f6f6,#f7f5f4,#f7f5f3,#f7f6f6,#f3f5f6,#f0f4f6,#f2f5f6,#f8f4f3,#f9eee8,#f9eee8,#f7f6f5,#eaf1f5,#e2edf3,#ebf1f5,#f8f1ec,#fbe4d6,#fbe4d7,#f8f4f2,#e0ecf3,#d4e7f1,#e3edf3,#f9efea,#fcdecb,#fcdecc,#f8f1ec,#dfecf3,#d0e4f0,#ddebf2,#f8f3f0,#fcdfce,#fdddca,#f9ede6,#e5eff4,#d5e7f1,#deebf2,#f7f6f6,#fbe5d9,#fbe3d5,#f9efe9,#edf2f5,#e2edf3,#e8f0f4,#f7f7f6,#f9efe8,#f9eee8,#f8f4f1,#f3f5f6,#f0f4f6,#f3f5f6,#f7f7f6,#f7f5f3,#f7f5f3,#f7f6f6,#f6f7f7,#f6f6f7,#f7f7f7 72.5px)"></i><i style="background:linear-gradient(90deg,#f7f7f7 14.5px,#f6f6f7,#f6f7f7,#f7f6f6,#f7f5f3,#f8f5f3,#f7f6f6,#f3f5f6,#f0f4f6,#f2f5f6,#f8f4f2,#f9eee8,#f9eee7,#f7f6f5,#e9f0f4,#e1edf3,#ebf1f5,#f9f0eb,#fbe3d4,#fbe4d6,#f8f5f3,#dfebf2,#d3e6f0,#e3edf3,#f9efe9,#fdddca,#fdddcb,#f8f1ec,#dfebf3,#cee3ef,#dceaf2,#f8f3f0,#fcdecd,#fddcc8,#f9ece5,#e5eff4,#d4e6f0,#dceaf2,#f7f7f6,#fbe5d8,#fbe2d3,#f9eee8,#edf2f5,#e1edf3,#e7f0f4,#f7f7f7,#f9eee8,#f9eee7,#f8f4f1,#f3f5f6,#f0f3f6,#f2f5f6,#f7f7f6,#f7f5f3,#f7f5f3,#f7f6f6,#f6f7f7,#f6f6f7,#f7f7f7 72.5px)"></i><i style="background:linear-gradient(90deg,#f7f7f7 14.5px,#f6f6f7,#f6f7f7,#f7f6f6,#f7f5f3,#f8f5f3,#f7f6f6,#f2f5f6,#eff3f6,#f2f5f6,#f8f4f2,#f9eee7,#f9eee7,#f7f6f6,#e8f0f4,#e1ecf3,#ebf1f5,#f9efea,#fce2d3,#fbe4d6,#f7f5f3,#ddebf2,#d2e6f0,#e2edf3,#f9eee8,#fddcc8,#fdddca,#f8f1ec,#deebf2,#cce2ee,#dbeaf2,#f8f3f1,#fcdecc,#fddbc6,#f9ece4,#e5eff4,#d3e6f0,#dbeaf2,#f7f7f7,#fbe5d8,#fce1d2,#f9eee7,#edf2f5,#e1ecf3,#e7eff4,#f6f7f7,#f9eee8,#f9ede6,#f8f3f1,#f3f5f6,#eff3f6,#f2f5f6,#f7f7f6,#f8f5f3,#f7f5f3,#f7f6f6,#f6f7f7,#f6f6f7,#f7f7f7 72.5px)"></i><i style="background:linear-gradient(90deg,#f7f7f7 14.5px,#f6f6f7,#f6f7f7,#f7f6f6,#f7f5f3,#f8f4f3,#f7f7f6,#f2f5f6,#eff3f6,#f2f5f6,#f8f4f1,#f9ede6,#f9ede7,#f7f6f6,#e7f0f4,#e0ecf3,#ebf1f5,#f9efe9,#fce1d1,#fbe3d5,#f7f5f4,#dceaf2,#d1e5f0,#e2edf3,#f9eee7,#fddac6,#fddcc8,#f8f1ec,#ddebf2,#cae1ee,#dae9f2,#f8f3f1,#fdddcb,#fdd9c4,#faebe3,#e5eef4,#d1e5f0,#dae9f2,#f6f7f7,#fbe4d7,#fce0d0,#f9ede6,#edf2f5,#e0ecf3,#e6eff4,#f6f7f7,#f9eee8,#f9ede6,#f8f3f0,#f3f5f6,#eff3f6,#f2f4f6,#f7f7f7,#f8f5f3,#f8f5f3,#f7f6f6,#f6f7f7,#f6f6f7,#f7f7f7 72.5px)"></i><i style="background:linear-gradient(90deg,#f7f7f7 14.5px,#f6f6f7,#f6f7f7,#f7f6f6,#f8f5f3,#f8f4f3,#f7f7f6,#f2f5f6,#eff3f6,#f2f5f6,#f8f3f1,#f9ede6,#f9ede6,#f7f7f6,#e6eff4,#dfecf3,#ebf1f5,#f9eee8,#fce0d0,#fbe3d4,#f7f6f5,#dbeaf2,#cfe4ef,#e2edf3,#f9ede6,#fdd9c4,#fddbc7,#f8f1ec,#dceaf2,#c8e0ed,#d9e9f2,#f8f3f1,#fdddca,#fcd7c2,#faeae2,#e5eef4,#d0e5f0,#d8e9f1,#f6f6f7,#fbe4d6,#fce0cf,#f9ece5,#edf2f5,#dfecf3,#e5eef4,#f6f6f7,#f9eee7,#f9ece5,#f8f3ef,#f3f5f6,#eff3f6,#f1f4f6,#f7f7f7,#f8f5f3,#f8f5f3,#f7f6f5,#f6f7f7,#f6f6f7,#f7f7f7 72.5px)"></i><i style="background:linear-gradient(90deg,#f7f7f7 14.5px,#f6f6f7,#f6f7f7,#f7f6f6,#f8f5f3,#f8f4f3,#f7f7f6,#f2f4f6,#eff3f5,#f2f5f6,#f8f3f0,#f9ece5,#f9ede6,#f7f7f7,#e5eff4,#deebf2,#ebf1f5,#f9ede6,#fcdfce,#fbe2d4,#f7f6f6,#d9e9f2,#cde3ef,#e2edf3,#f9ece5,#fcd7c2,#fddac6,#f8f1ec,#dbeaf2,#c6dfed,#d8e8f1,#f8f3f1,#fddcc9,#fcd5bf,#faeae0,#e5eef4,#cee4ef,#d7e8f1,#f5f6f7,#fbe4d6,#fcdfcd,#f9ebe3,#edf2f5,#dfecf3,#e4eef3,#f5f6f7,#f9eee7,#f9ece4,#f8f2ef,#f3f5f6,#eff3f5,#f1f4f6,#f6f7f7,#f8f5f3,#f8f4f3,#f7f6f5,#f6f7f7,#f6f6f7,#f7f7f7 72.5px)"></i><i style="background:linear-gradient(90deg,#f7f7f7 14.5px,#f5f6f7,#f6f7f7,#f7f6f6,#f8f4f3,#f8f4f2,#f7f7f6,#f1f4f6,#eef3f5,#f2f5f6,#f8f3f0,#f9ece4,#f9ede6,#f6f7f7,#e4eef4,#deebf2,#ebf1f5,#f9ece5,#fcdecd,#fce2d3,#f7f7f6,#d8e8f1,#cbe2ee,#e2edf3,#f9ece3,#fcd5bf,#fdd9c4,#f8f1ec,#dae9f2,#c4deec,#d7e8f1,#f8f3f1,#fddbc8,#fcd3bd,#fae9df,#e5eef4,#cce3ef,#d6e7f1,#f4f6f6,#fbe3d5,#fcdecc,#faebe2,#edf2f5,#deebf2,#e3eef3,#f5f6f7,#f9eee7,#f9ece3,#f8f2ee,#f3f5f6,#eef3f5,#f1f4f6,#f6f7f7,#f8f4f3,#f8f4f2,#f7f6f5,#f6f7f7,#f5f6f7,#f7f7f7 72.5px)"></i><i style="background:linear-gradient(90deg,#f7f7f7 14.5px,#f5f6f7,#f6f7f7,#f7f6f5,#f8f4f2,#f8f4f2,#f7f7f7,#f1f4f6,#eef3f5,#f3f5f6,#f8f2ef,#f9ebe3,#f9ede5,#f6f6f7,#e3eef3,#ddebf2,#ebf1f5,#f9ece3,#fcddcb,#fce2d2,#f6f7f7,#d6e8f1,#c9e1ee,#e2edf3,#faebe2,#fcd3bd,#fcd8c3,#f8f1ec,#dae9f2,#c2ddec,#d7e8f1,#f8f4f1,#fddbc7,#fbd1ba,#fae8de,#e5eff4,#cbe2ee,#d4e6f1,#f3f5f6,#fbe3d5,#fdddca,#faeae0,#eef3f5,#ddebf2,#e2edf3,#f4f6f6,#f9eee7,#faebe3,#f8f1ed,#f3f5f6,#eef3f5,#f0f4f6,#f6f7f7,#f8f4f3,#f8f4f2,#f7f6f5,#f6f7f7,#f5f6f7,#f7f7f7 72.5px)"></i><i style="background:linear-gradient(90deg,#f7f7f7 14.5px,#f5f6f7,#f6f7f7,#f7f6f5,#f8f4f2,#f8f4f2,#f6f7f7,#f1f4f6,#eef3f5,#f3f5f6,#f8f2ee,#faebe2,#f9ede5,#f5f6f7,#e2edf3,#dceaf2,#ecf2f5,#faebe2,#fddcc9,#fce1d2,#f6f6f7,#d5e7f1,#c8e0ed,#e2edf3,#faeae1,#fbd1ba,#fcd7c1,#f8f1ec,#d9e9f1,#c0dceb,#d6e7f1,#f8f4f1,#fddac5,#fbcfb8,#fae7dc,#e5eff4,#c9e1ee,#d3e6f0,#f2f5f6,#fbe3d5,#fddcc9,#fae9de,#eef3f5,#ddebf2,#e1edf3,#f3f5f6,#f9ede7,#faebe2,#f8f1ed,#f4f5f6,#eef3f5,#f0f4f6,#f6f7f7,#f8f4f3,#f8f4f2,#f7f6f5,#f6f7f7,#f5f6f7,#f7f7f7 72.5px)"></i><i style="background:linear-gradient(90deg,#f7f7f7 14.5px,#f5f6f7,#f6f7f7,#f7f6f5,#f8f4f2,#f8f4f2,#f6f7f7,#f0f4f6,#eef3f5,#f3f5f6,#f8f1ed,#faebe2,#f9ede5,#f5f6f7,#e1edf3,#dbeaf2,#ecf2f5,#faeae0,#fddbc8,#fce1d1,#f5f6f7,#d3e6f0,#c6dfed,#e2edf3,#fae9df,#fbcfb8,#fcd5c0,#f8f1ec,#d8e8f1,#bedbeb,#d5e7f1,#f8f4f2,#fdd9c4,#fbcdb6,#fbe6db,#e6eff4,#c8e0ed,#d1e5f0,#f1f4f6,#fbe3d4,#fddbc7,#fae8dd,#eff3f5,#dceaf2,#e0ecf3,#f3f5f6,#f9ede6,#faeae1,#f8f1ec,#f4f5f6,#eef3f5,#f0f4f6,#f6f6f7,#f8f4f3,#f8f4f2,#f7f6f5,#f6f7f7,#f5f6f7,#f7f7f7 72.5px)"></i><i style="background:linear-gradient(90deg,#f7f7f7 14.5px,#f5f6f7,#f6f7f7,#f7f6f5,#f8f4f2,#f8f4f2,#f6f7f7,#f0f4f6,#edf2f5,#f3f5f6,#f8f1ed,#faeae1,#f9ece5,#f4f6f6,#e0ecf3,#dbeaf2,#ecf2f5,#fae9df,#fddac6,#fce1d1,#f4f5f6,#d2e5f0,#c4dfec,#e2edf3,#fae8de,#fbcdb6,#fcd5bf,#f8f1ed,#d7e8f1,#bcdbea,#d4e6f1,#f8f4f2,#fdd8c3,#faccb4,#fbe5d9,#e6eff4,#c6dfed,#cee4ef,#f0f4f6,#fbe3d4,#fdd9c5,#fbe7db,#eff3f6,#dceaf2,#dfebf3,#f2f5f6,#f9ede6,#faeae0,#f8f0eb,#f4f6f6,#edf2f5,#eff3f6,#f6f6f7,#f8f4f3,#f8f4f2,#f7f6f5,#f6f7f7,#f5f6f7,#f6f6f7,#f7f7f7 73.5px)"></i><i style="background:linear-gradient(90deg,#f7f7f7 14.5px,#f5f6f7,#f6f7f7,#f7f6f5,#f8f4f2,#f8f4f2,#f6f7f7,#eff3f6,#edf2f5,#f3f5f6,#f8f0ec,#faeae0,#f9ece5,#f3f5f6,#dfecf3,#dae9f2,#edf2f5,#fae8dd,#fdd8c3,#fce1d1,#f2f5f6,#cfe4f0,#c3deec,#e3edf3,#fae7dc,#faccb3,#fcd4be,#f8f1ed,#d6e8f1,#bbdaea,#d3e6f0,#f8f4f2,#fcd7c2,#facab1,#fbe5d7,#e6eff4,#c5dfed,#cce2ee,#eef3f5,#fbe3d4,#fcd7c2,#fbe6d9,#f0f4f6,#dbeaf2,#ddebf2,#f1f4f6,#f9ede7,#fae9e0,#f9f0ea,#f4f6f7,#edf2f5,#eff3f6,#f5f6f7,#f8f4f3,#f8f4f1,#f7f5f4,#f6f7f7,#f5f6f7,#f6f6f7,#f7f7f7 73.5px)"></i><i style="background:linear-gradient(90deg,#f7f7f7 13.5px,#f6f6f7,#f5f6f7,#f6f7f7,#f7f6f5,#f8f4f1,#f8f4f2,#f6f6f7,#eff3f6,#edf2f5,#f3f5f6,#f9f0eb,#fae9df,#f9ece5,#f2f5f6,#deebf2,#dae9f2,#eef3f5,#fbe7db,#fcd6c1,#fce1d1,#f1f4f6,#cde3ef,#c1ddec,#e3eef3,#fbe6db,#facab1,#fcd3bd,#f8f1ed,#d6e7f1,#bad9e9,#d3e6f0,#f8f5f3,#fcd7c2,#fac9af,#fbe4d6,#e7eff4,#c4deec,#c9e1ee,#edf2f5,#fbe3d5,#fcd6c0,#fbe4d7,#f1f4f6,#dbeaf2,#dceaf2,#f0f4f6,#f9ede7,#fae9df,#f9efe9,#f5f6f7,#edf2f5,#eff3f5,#f5f6f7,#f8f4f3,#f8f4f1,#f7f5f4,#f6f7f7,#f5f6f7,#f6f6f7,#f7f7f7 73.5px)"></i><i style="background:linear-gradient(90deg,#f7f7f7 13.5px,#f6f6f7,#f5f6f7,#f6f7f7,#f7f5f4,#f8f4f1,#f8f4f2,#f6f6f7,#eff3f5,#edf2f5,#f4f5f6,#f9efea,#fae9de,#f9ece5,#f1f4f6,#dceaf2,#d9e9f1,#eef3f5,#fbe5d9,#fcd4bf,#fce1d1,#f0f4f6,#cae1ee,#c0dceb,#e4eef3,#fbe5d9,#fac8af,#fcd3bd,#f8f2ee,#d5e7f1,#b9d9e9,#d2e5f0,#f7f5f3,#fcd7c1,#fac7ae,#fbe3d4,#e8f0f4,#c3deec,#c6e0ed,#ecf2f5,#fbe3d5,#fcd4be,#fbe3d5,#f1f4f6,#dae9f2,#dbeaf2,#eff3f6,#f9eee7,#fae8de,#f9eee8,#f5f6f7,#edf2f5,#eef3f5,#f5f6f7,#f8f4f3,#f8f4f1,#f7f5f4,#f6f7f7,#f5f6f7,#f6f6f7,#f7f7f7 73.5px)"></i><i style="background:linear-gradient(90deg,#f7f7f7 13.5px,#f6f6f7,#f5f6f7,#f6f7f7,#f7f5f4,#f8f3f1,#f8f4f2,#f5f6f7,#eef3f5,#ecf2f5,#f4f6f6,#f9efe9,#fae8dd,#f9ede5,#f0f4f6,#dbeaf2,#d9e9f1,#eff3f6,#fbe4d7,#fcd3bc,#fce1d1,#eef3f5,#c7e0ed,#bfdceb,#e4eef4,#fbe4d7,#fac7ad,#fcd3bc,#f8f2ee,#d5e7f1,#b8d8e9,#d1e5f0,#f7f5f4,#fcd7c1,#f9c6ac,#fce1d2,#e9f0f4,#c2ddec,#c3deec,#eaf1f5,#fbe3d5,#fcd2bc,#fce2d3,#f2f5f6,#dae9f2,#dae9f2,#eef3f5,#f9eee7,#fae8dd,#f9eee7,#f5f6f7,#edf2f5,#eef3f5,#f4f6f7,#f8f4f3,#f8f3f1,#f7f5f4,#f6f7f7,#f5f6f7,#f6f6f7,#f7f7f7 73.5px)"></i><i style="background:linear-gradient(90deg,#f7f7f7 13.5px,#f6f6f7,#f5f6f7,#f6f7f7,#f7f5f4,#f8f3f1,#f8f4f2,#f5f6f7,#eef3f5,#ecf2f5,#f4f6f7,#f9eee8,#fae8dd,#f9ede5,#eff3f6,#dae9f2,#d8e8f1,#f0f4f6,#fbe3d4,#fbd1ba,#fce1d2,#ecf2f5,#c4deec,#bedceb,#e5eff4,#fbe3d5,#f9c6ac,#fcd3bc,#f8f2ef,#d4e6f1,#b7d8e9,#d1e5f0,#f7f6f5,#fcd7c1,#f9c5aa,#fce0d0,#eaf1f5,#c1ddec,#c1ddeb,#e8f0f4,#fbe4d6,#fbd1ba,#fce1d1,#f4f5f6,#d9e9f2,#d9e9f1,#edf2f5,#f9eee7,#fae8dc,#f9ede6,#f6f6f7,#edf2f5,#edf2f5,#f4f6f6,#f8f5f3,#f8f3f1,#f7f5f3,#f6f7f7,#f5f6f7,#f5f6f7,#f7f7f7 73.5px)"></i><i style="background:linear-gradient(90deg,#f7f7f7 13.5px,#f5f6f7,#f5f6f7,#f6f7f7,#f7f5f4,#f8f3f1,#f8f4f2,#f5f6f7,#edf2f5,#ecf2f5,#f5f6f7,#f9eee7,#fae7dc,#f9ede6,#eef3f5,#d9e9f1,#d8e8f1,#f1f4f6,#fce1d2,#fbcfb8,#fce2d2,#ebf1f5,#c1ddec,#bedbea,#e6eff4,#fbe2d3,#f9c4aa,#fcd3bc,#f8f3f0,#d4e6f0,#b7d8e8,#d0e4f0,#f7f6f5,#fcd7c2,#f9c3a9,#fcdfce,#ebf1f5,#c1ddeb,#bedbeb,#e6eff4,#fbe4d7,#fbcfb8,#fcdfce,#f5f6f7,#d9e9f2,#d7e8f1,#ebf2f5,#f9eee8,#fae7dc,#f9ede5,#f6f7f7,#ecf2f5,#edf2f5,#f4f5f6,#f8f5f3,#f8f3f0,#f7f5f3,#f7f7f7,#f5f6f7,#f5f6f7,#f7f7f7 73.5px)"></i><i style="background:linear-gradient(90deg,#f7f7f7 13.5px,#f5f6f7,#f5f6f7,#f6f7f7,#f7f5f3,#f8f3f0,#f8f4f2,#f4f6f6,#edf2f5,#ecf2f5,#f5f6f7,#f9ede6,#fbe7db,#f9ede6,#edf2f5,#d7e8f1,#d7e8f1,#f2f5f6,#fce0d0,#fbceb6,#fbe2d3,#e9f0f4,#bedceb,#bddbea,#e8f0f4,#fce1d1,#f9c3a9,#fcd3bd,#f8f3f1,#d3e6f0,#b6d7e8,#cfe4f0,#f7f6f6,#fcd7c2,#f9c3a8,#fcdecc,#ecf2f5,#c1ddeb,#bbdaea,#e4eef4,#fbe5d8,#fbceb6,#fcdecc,#f6f7f7,#d9e9f1,#d6e7f1,#eaf1f5,#f9eee8,#fbe7db,#f9ece4,#f7f7f7,#ecf2f5,#ecf2f5,#f3f5f6,#f8f5f3,#f8f3f0,#f7f5f3,#f7f7f7,#f5f6f7,#f5f6f7,#f7f7f7 73.5px)"></i><i style="background:linear-gradient(90deg,#f7f7f7 13.5px,#f5f6f7,#f5f6f7,#f6f7f7,#f7f5f3,#f8f3f0,#f8f4f2,#f4f5f6,#ecf2f5,#ecf2f5,#f6f6f7,#f9ece5,#fbe6da,#f9ede6,#ecf2f5,#d6e7f1,#d7e8f1,#f4f5f6,#fcdfcd,#fbccb4,#fbe3d4,#e7eff4,#bcdaea,#bddbea,#e9f0f4,#fce0cf,#f9c2a8,#fcd4be,#f8f4f2,#d3e6f0,#b6d8e8,#cfe4ef,#f7f7f7,#fdd8c3,#f9c2a7,#fdddcb,#eef3f5,#c1ddeb,#b9d9e9,#e2edf3,#fbe5d9,#fbcdb5,#fddcc9,#f7f6f6,#d9e9f1,#d5e7f1,#e9f0f4,#f9efe9,#fbe6da,#faebe3,#f7f7f6,#ecf2f5,#ecf2f5,#f3f5f6,#f7f5f3,#f8f3f0,#f8f5f3,#f7f7f6,#f5f6f7,#f5f6f7,#f7f7f7 73.5px)"></i><i style="background:linear-gradient(90deg,#f7f7f7 13.5px,#f5f6f7,#f5f6f7,#f7f7f7,#f8f5f3,#f8f3f0,#f8f4f3,#f3f5f6,#ecf2f5,#ecf2f5,#f6f7f7,#f9ece4,#fbe6da,#f9eee7,#eaf1f5,#d5e7f1,#d7e8f1,#f5f6f7,#fdddcb,#facbb2,#fbe3d5,#e5eef4,#b9d9e9,#bddbea,#eaf1f5,#fcdfcd,#f9c2a7,#fcd5bf,#f8f4f3,#d3e6f0,#b7d8e9,#cfe4ef,#f6f7f7,#fdd9c5,#f9c1a6,#fddcc9,#eff3f6,#c1ddeb,#b6d7e8,#e0ecf3,#fbe6da,#facbb3,#fddbc7,#f7f5f4,#d9e9f1,#d3e6f0,#e7f0f4,#f9efea,#fbe6da,#faebe2,#f7f6f6,#ecf2f5,#ecf2f5,#f3f5f6,#f7f5f3,#f8f3f0,#f8f4f2,#f7f7f6,#f5f6f7,#f5f6f7,#f7f7f7 73.5px)"></i><i style="background:linear-gradient(90deg,#f7f7f7 13.5px,#f5f6f7,#f5f6f7,#f7f7f7,#f8f4f3,#f8f3f0,#f8f5f3,#f3f5f6,#ecf2f5,#ecf2f5,#f7f7f6,#faebe2,#fbe5d9,#f9eee8,#e9f0f4,#d3e6f0,#d7e8f1,#f7f7f7,#fddcc8,#fac9b0,#fbe4d7,#e2edf3,#b6d7e8,#bddbea,#ecf2f5,#fcddcb,#f9c1a6,#fcd6c1,#f7f5f4,#d3e6f0,#b8d8e9,#cfe4ef,#f5f6f7,#fddbc6,#f9c1a6,#fddbc7,#f1f4f6,#c2ddec,#b4d6e8,#deebf2,#fae7dc,#facbb2,#fdd8c3,#f8f4f2,#d9e9f2,#d2e6f0,#e6eff4,#f9f0ea,#fbe6d9,#faeae1,#f7f6f5,#ecf2f5,#ebf1f5,#f2f5f6,#f7f5f3,#f8f3f0,#f8f4f2,#f7f7f6,#f5f6f7,#f5f6f7,#f7f7f7 73.5px)"></i><i style="background:linear-gradient(90deg,#f7f7f7 13.5px,#f5f6f7,#f5f6f7,#f7f7f6,#f8f4f2,#f8f3f0,#f8f5f3,#f3f5f6,#ebf1f5,#ecf2f5,#f7f6f6,#faeae1,#fbe5d8,#f9efe9,#e7eff4,#d2e5f0,#d7e8f1,#f7f6f5,#fdd9c5,#fac8af,#fbe5d8,#e0ecf3,#b4d6e8,#bedbeb,#eef3f5,#fddcc9,#f9c1a6,#fcd8c3,#f7f6f5,#d3e6f0,#b9d9e9,#cfe4f0,#f4f6f7,#fddcc8,#f9c1a6,#fdd8c4,#f3f5f6,#c3deec,#b1d5e7,#dbeaf2,#fae8de,#facab1,#fcd5bf,#f8f3f0,#dae9f2,#d1e5f0,#e4eef4,#f8f0eb,#fbe5d9,#fae9df,#f7f5f4,#ecf2f5,#ebf1f5,#f2f4f6,#f7f5f4,#f8f3f0,#f8f4f2,#f7f7f6,#f5f6f7,#f5f6f7,#f7f7f7 73.5px)"></i><i style="background:linear-gradient(90deg,#f7f7f7 13.5px,#f5f6f7,#f5f6f7,#f7f7f6,#f8f4f2,#f8f3ef,#f7f5f3,#f2f5f6,#ebf1f5,#ecf2f5,#f7f6f5,#fae9e0,#fbe5d8,#f9efe9,#e5eff4,#d0e5f0,#d8e8f1,#f8f5f3,#fcd6c1,#fac7ae,#fbe6da,#ddebf2,#b1d5e7,#bfdceb,#f0f4f6,#fddbc7,#f9c1a6,#fddac5,#f7f6f6,#d3e6f0,#bbdaea,#d0e4f0,#f3f5f6,#fdddca,#f9c2a7,#fcd6c1,#f5f6f7,#c5dfec,#afd4e6,#d9e9f1,#fae9e0,#fac9b0,#fcd2bc,#f8f1ed,#dae9f2,#cfe4ef,#e3edf3,#f8f1ed,#fbe5d8,#fae8de,#f8f5f3,#edf2f5,#eaf1f5,#f1f4f6,#f7f5f4,#f8f3ef,#f8f4f2,#f7f6f6,#f5f6f7,#f5f6f7,#f7f7f7 73.5px)"></i><i style="background:linear-gradient(90deg,#f7f7f7 13.5px,#f5f6f7,#f5f6f7,#f7f7f6,#f8f4f2,#f8f3ef,#f7f5f3,#f2f4f6,#eaf1f5,#ecf2f5,#f7f5f4,#fae9de,#fbe4d7,#f9f0eb,#e4eef3,#cee4ef,#d8e8f1,#f8f3f0,#fcd3bd,#fac7ad,#fae7dc,#dbeaf2,#afd4e6,#c1ddeb,#f3f5f6,#fdd9c4,#f9c2a7,#fddcc8,#f6f7f7,#d4e6f0,#bddbea,#d1e5f0,#f2f5f6,#fcdecc,#f9c2a8,#fcd4be,#f7f6f6,#c6e0ed,#add3e6,#d6e8f1,#faebe2,#fac9b0,#fbcfb8,#f9f0eb,#dbeaf2,#cde3ef,#e1edf3,#f8f2ee,#fbe5d8,#fae8dd,#f8f4f2,#edf2f5,#eaf1f5,#f1f4f6,#f7f5f4,#f8f3ef,#f8f4f1,#f7f6f6,#f5f6f7,#f5f6f7,#f7f7f7 73.5px)"></i><i style="background:linear-gradient(90deg,#f7f7f7 13.5px,#f5f6f7,#f5f6f7,#f7f6f6,#f8f4f2,#f8f2ef,#f7f5f4,#f1f4f6,#eaf1f5,#ecf2f5,#f7f5f3,#fae8dd,#fbe4d7,#f8f0ec,#e2edf3,#cce3ef,#d9e9f1,#f8f1ed,#fbd0b9,#fac6ac,#fae9df,#d8e8f1,#add3e6,#c3deec,#f5f6f7,#fcd6c1,#f9c3a8,#fdddca,#f5f6f7,#d4e6f1,#c0dceb,#d2e5f0,#f1f4f6,#fcdfce,#f9c3a9,#fcd2bc,#f7f5f3,#c9e1ee,#acd2e5,#d4e6f0,#f9ece5,#fac9af,#fbccb4,#f9eee8,#dbeaf2,#cbe2ee,#dfecf3,#f8f2ef,#fbe5d8,#fae7db,#f8f3f1,#edf2f5,#e9f1f5,#f0f4f6,#f7f6f5,#f8f3ef,#f8f4f1,#f7f6f6,#f5f6f7,#f5f6f7,#f7f7f7 73.5px)"></i><i style="background:linear-gradient(90deg,#f7f7f7 13.5px,#f5f6f7,#f5f6f7,#f7f6f6,#f8f4f1,#f8f2ef,#f7f5f4,#f0f4f6,#e9f1f4,#ecf2f5,#f8f4f2,#fae7dc,#fbe4d6,#f8f1ed,#e0ecf3,#cae2ee,#d9e9f2,#f9f0eb,#fbcdb5,#f9c6ac,#faeae1,#d5e7f1,#abd2e5,#c5dfed,#f7f6f6,#fcd4be,#f9c4a9,#fcdfcd,#f4f5f6,#d5e7f1,#c3deec,#d3e6f0,#f0f4f6,#fce1d1,#f9c5ab,#fbd0b9,#f8f3f0,#cce2ee,#aad1e5,#d1e5f0,#f9eee8,#fac9af,#fac9b0,#f9ece5,#dceaf2,#cae1ee,#ddebf2,#f8f3f1,#fbe5d7,#fbe6da,#f8f3f0,#edf2f5,#e9f0f4,#f0f3f6,#f7f6f5,#f8f2ef,#f8f3f1,#f7f6f6,#f5f6f7,#f5f6f7,#f7f7f7 73.5px)"></i><i style="background:linear-gradient(90deg,#f7f7f7 13.5px,#f5f6f7,#f5f6f7,#f7f6f6,#f8f3f1,#f8f2ef,#f7f6f4,#f0f4f6,#e9f0f4,#ecf2f5,#f8f3f1,#fbe6da,#fbe4d6,#f8f2ee,#deebf2,#c8e1ee,#dae9f2,#f9eee7,#facab1,#f9c6ac,#f9ece4,#d2e6f0,#a9d1e5,#c8e1ed,#f8f4f2,#fbd2bb,#f9c5ab,#fce0d0,#f2f5f6,#d6e7f1,#c6e0ed,#d4e6f1,#eff3f6,#fbe3d4,#fac7ad,#fbceb7,#f8f1ec,#cfe4ef,#a9d1e5,#cce3ef,#f8f0eb,#fac9b0,#fac6ad,#faebe2,#ddebf2,#c8e1ed,#dbeaf2,#f8f4f2,#fbe5d7,#fbe5d9,#f8f2ee,#edf2f5,#e9f0f4,#eff3f6,#f7f6f5,#f8f2ef,#f8f3f0,#f7f6f5,#f5f6f7,#f5f6f7,#f7f7f7 73.5px)"></i><i style="background:linear-gradient(90deg,#f7f7f7 13.5px,#f5f6f7,#f5f6f7,#f7f6f6,#f8f3f1,#f8f2ef,#f7f6f5,#eff3f6,#e9f0f4,#edf2f5,#f8f3ef,#fbe6d9,#fbe4d6,#f8f3f0,#dceaf2,#c7e0ed,#dbeaf2,#f9ece4,#fac6ad,#f9c6ac,#f9eee8,#cee4ef,#a7d0e4,#cbe2ee,#f8f2ee,#fbd0b9,#fac7ad,#fbe2d4,#f1f4f6,#d7e8f1,#cbe2ee,#d5e7f1,#eef3f5,#fbe5d8,#fac9b0,#fbccb4,#f9eee8,#d2e5f0,#a8d0e4,#c7e0ed,#f8f2ee,#fac9b1,#f9c3a9,#fae9de,#dfebf2,#c7e0ed,#dae9f2,#f7f5f4,#fbe5d7,#fbe5d8,#f8f1ed,#eef3f5,#e8f0f4,#eef3f5,#f7f6f6,#f8f2ef,#f8f3f0,#f7f6f5,#f5f6f7,#f5f6f7,#f6f6f7,#f7f7f7 74.5px)"></i><i style="background:linear-gradient(90deg,#f7f7f7 13.5px,#f5f6f7,#f5f6f7,#f7f6f5,#f8f3f0,#f8f2ef,#f7f6f5,#eff3f5,#e8f0f4,#edf2f5,#f8f2ee,#fbe5d8,#fbe4d6,#f8f4f2,#dae9f2,#c5dfed,#dceaf2,#faeae1,#f9c3a9,#fac6ad,#f8f0eb,#c9e1ee,#a6cfe4,#cfe4ef,#f9efea,#fbceb6,#fac9b0,#fbe5d7,#eff3f6,#d8e8f1,#cfe4f0,#d7e8f1,#ecf2f5,#fae7dc,#facbb3,#facbb2,#f9ece4,#d4e7f1,#a7d0e4,#c2deec,#f8f4f2,#facab2,#f9c1a5,#fbe7db,#e0ecf3,#c5dfed,#d8e8f1,#f7f6f6,#fbe5d7,#fbe4d6,#f8f0ec,#eef3f5,#e8f0f4,#eef3f5,#f7f6f6,#f8f2ef,#f8f3f0,#f7f6f5,#f5f6f7,#f5f6f7,#f6f6f7,#f7f7f7 74.5px)"></i><i style="background:linear-gradient(90deg,#f7f7f7 12.5px,#f6f6f7,#f5f6f7,#f5f6f7,#f7f6f5,#f8f3f0,#f8f2ef,#f7f6f6,#eef3f5,#e8f0f4,#edf2f5,#f8f1ed,#fbe4d7,#fbe4d6,#f7f5f4,#d8e9f1,#c4deec,#deebf2,#fae8dd,#f9c0a5,#fac7ae,#f8f2ef,#c4deec,#a5cfe3,#d2e6f0,#f9ede6,#facbb3,#faccb4,#fae7dc,#edf2f5,#dae9f2,#d3e6f0,#d8e8f1,#ebf1f5,#faeae0,#fbcfb7,#fac9b0,#fae9e0,#d7e8f1,#a7cfe4,#bddbea,#f7f6f6,#faccb3,#f8bea2,#fbe4d7,#e1edf3,#c4dfec,#d6e7f1,#f6f7f7,#fbe5d8,#fbe3d5,#f9f0ea,#eff3f5,#e8f0f4,#edf2f5,#f7f7f6,#f8f2ef,#f8f3f0,#f7f6f5,#f5f6f7,#f4f6f7,#f6f6f7,#f7f7f7 74.5px)"></i><i style="background:linear-gradient(90deg,#f7f7f7 12.5px,#f6f6f7,#f4f6f7,#f5f6f7,#f7f6f5,#f8f3f0,#f8f2ef,#f7f6f6,#eef3f5,#e8f0f4,#eef3f5,#f8f0eb,#fbe3d5,#fbe4d6,#f7f6f6,#d6e8f1,#c3deec,#dfecf3,#fbe6d9,#f8bda1,#fac8af,#f7f5f3,#bedceb,#a5cee3,#d5e7f1,#faeae1,#facab1,#fbcfb8,#faeae0,#ecf2f5,#dbeaf2,#d7e8f1,#dae9f2,#e9f1f4,#f9ece5,#fcd2bc,#fac8ae,#fbe7db,#dae9f2,#a7cfe4,#b8d8e9,#f4f6f6,#fbcdb5,#f8bb9f,#fbe2d3,#e3eef3,#c4deec,#d4e6f0,#f5f6f7,#fbe5d8,#fbe3d4,#f9efe9,#eff3f6,#e8f0f4,#edf2f5,#f7f7f7,#f8f2ef,#f8f3ef,#f7f5f4,#f5f6f7,#f4f6f7,#f6f6f7,#f7f7f7 74.5px)"></i><i style="background:linear-gradient(90deg,#f7f7f7 12.5px,#f6f6f7,#f4f6f7,#f5f6f7,#f7f6f5,#f8f3ef,#f8f2ef,#f7f7f6,#edf2f5,#e7f0f4,#eef3f5,#f9efea,#fbe3d4,#fbe4d7,#f6f7f7,#d4e7f1,#c2ddec,#e1edf3,#fbe3d5,#f8bb9e,#facab1,#f6f7f7,#b9d9e9,#a4cee3,#d9e9f1,#fae7dc,#fac8ae,#fcd3bc,#f9ede6,#eaf1f5,#ddebf2,#dbeaf2,#ddebf2,#e8f0f4,#f9efea,#fcd6c1,#fac7ad,#fbe4d6,#deebf2,#a7d0e4,#b3d6e7,#f0f4f6,#fbcfb8,#f7b99b,#fce0cf,#e5eff4,#c3deec,#d2e5f0,#f3f5f6,#fbe5d9,#fce2d3,#f9eee7,#f0f4f6,#e7f0f4,#ecf2f5,#f6f7f7,#f8f3ef,#f8f2ef,#f7f5f4,#f6f6f7,#f4f6f7,#f5f6f7,#f7f7f7 74.5px)"></i><i style="background:linear-gradient(90deg,#f7f7f7 12.5px,#f5f6f7,#f4f6f7,#f5f6f7,#f7f5f4,#f8f2ef,#f8f2ef,#f7f7f7,#ecf2f5,#e7eff4,#eff3f6,#f9eee8,#fce2d3,#fbe4d7,#f4f6f7,#d2e6f0,#c1ddeb,#e3edf3,#fce1d1,#f7b89a,#faccb4,#f2f5f6,#b3d6e8,#a4cee3,#dceaf2,#fbe4d6,#fac6ac,#fcd7c2,#f8f0eb,#e8f0f4,#dfecf3,#dfecf3,#dfecf3,#e6eff4,#f8f2ef,#fddbc7,#f9c5ab,#fce1d1,#e2edf3,#a8d0e4,#aed3e6,#ecf2f5,#fbd2bb,#f7b798,#fcdecb,#e7f0f4,#c2deec,#cfe4ef,#f1f4f6,#fbe6d9,#fce1d2,#f9ede5,#f1f4f6,#e7f0f4,#ebf2f5,#f6f6f7,#f8f3ef,#f8f2ef,#f7f5f4,#f6f6f7,#f4f6f7,#f5f6f7,#f7f7f7 74.5px)"></i><i style="background:linear-gradient(90deg,#f7f7f7 12.5px,#f5f6f7,#f4f6f7,#f6f6f7,#f7f5f4,#f8f2ef,#f8f2ef,#f6f7f7,#ecf2f5,#e7eff4,#f0f4f6,#f9ede7,#fce1d2,#fbe5d8,#f2f5f6,#d0e4f0,#c0dceb,#e5eff4,#fcdfcd,#f7b597,#fbceb6,#eef3f5,#aed3e6,#a5cfe3,#e0ecf3,#fce1d1,#f9c5aa,#fddbc7,#f8f3f1,#e6eff4,#e2edf3,#e4eef3,#e2edf3,#e5eef4,#f7f6f5,#fcddcb,#f9c5aa,#fcdecc,#e6eff4,#a9d1e5,#a9d1e5,#e8f0f4,#fcd4be,#f7b496,#fddbc7,#eaf1f5,#c2deec,#cbe2ee,#eff3f5,#fbe6da,#fce1d1,#f9ece4,#f1f4f6,#e7eff4,#ebf1f5,#f5f6f7,#f8f3f0,#f8f2ef,#f7f5f3,#f6f6f7,#f4f6f7,#f5f6f7,#f7f7f7 74.5px)"></i><i style="background:linear-gradient(90deg,#f7f7f7 12.5px,#f5f6f7,#f4f6f7,#f6f6f7,#f7f5f4,#f8f2ef,#f8f2ef,#f6f6f7,#ebf1f5,#e7eff4,#f1f4f6,#f9ece5,#fce1d1,#fbe5d9,#f0f4f6,#cce2ef,#c0dceb,#e7f0f4,#fddcc9,#f6b394,#fbd1ba,#eaf1f5,#a8d0e4,#a6cfe4,#e4eef4,#fcdecb,#f9c3a9,#fcdecc,#f7f7f7,#e4eef3,#e4eef4,#e9f0f4,#e5eef4,#e3eef3,#f4f6f6,#fce0d0,#f9c4aa,#fddac6,#eaf1f5,#abd1e5,#a4cee3,#e4eef3,#fcd7c2,#f6b293,#fcd6c1,#ecf2f5,#c2deec,#c8e0ed,#edf2f5,#fae7db,#fce0d0,#faebe2,#f2f5f6,#e7eff4,#eaf1f5,#f5f6f7,#f8f3f0,#f8f2ee,#f7f5f3,#f6f7f7,#f4f6f7,#f5f6f7,#f7f7f7 74.5px)"></i><i style="background:linear-gradient(90deg,#f7f7f7 12.5px,#f5f6f7,#f4f6f7,#f6f6f7,#f7f5f3,#f8f2ee,#f8f3ef,#f5f6f7,#eaf1f5,#e7eff4,#f1f4f6,#f9ebe3,#fce0d0,#fbe6d9,#eef3f5,#c9e1ee,#c0dceb,#eaf1f5,#fdd8c3,#f6b191,#fcd4bd,#e6eff4,#a3cee3,#a7d0e4,#e9f0f4,#fdd9c5,#f9c2a7,#fce1d1,#f2f4f6,#e1edf3,#e7f0f4,#eef3f5,#e8f0f4,#e1edf3,#eff3f5,#fbe3d5,#f9c4a9,#fcd4be,#eff3f6,#add3e6,#9fcce2,#dfecf3,#fddbc7,#f6b191,#fbd1bb,#eff3f6,#c3deec,#c5dfed,#eaf1f5,#fae7dc,#fce0cf,#faeae0,#f3f5f6,#e7eff4,#eaf1f5,#f4f6f6,#f8f3f0,#f8f2ee,#f8f5f3,#f6f7f7,#f4f6f7,#f5f6f7,#f7f7f7 74.5px)"></i><i style="background:linear-gradient(90deg,#f7f7f7 12.5px,#f5f6f7,#f4f6f7,#f6f7f7,#f8f5f3,#f8f2ee,#f8f3f0,#f5f6f7,#eaf1f5,#e7eff4,#f2f5f6,#faeae1,#fcdfcf,#fbe6db,#ecf2f5,#c5dfed,#c0dceb,#edf2f5,#fcd3bd,#f6af8e,#fcd7c2,#e1edf3,#9ecbe1,#a9d1e5,#eef3f5,#fcd3bc,#f9c1a6,#fbe4d6,#ecf2f5,#dfecf3,#eaf1f5,#f4f5f6,#ecf2f5,#e0ecf3,#e9f1f4,#fbe7db,#f9c3a9,#fbceb6,#f4f6f6,#afd4e6,#9ac9e0,#dbeaf2,#fdddca,#f6af8f,#fbcdb5,#f2f5f6,#c3deec,#c2ddec,#e8f0f4,#fae8de,#fcdfce,#fae9df,#f4f6f6,#e7eff4,#e9f0f4,#f3f5f6,#f8f3f0,#f8f2ee,#f8f4f2,#f6f7f7,#f4f6f7,#f5f6f7,#f7f7f7 74.5px)"></i><i style="background:linear-gradient(90deg,#f7f7f7 12.5px,#f5f6f7,#f4f6f7,#f6f7f7,#f8f4f3,#f8f2ee,#f8f3f0,#f4f6f6,#e9f0f4,#e7eff4,#f3f5f6,#fae9e0,#fcdfce,#fae7dc,#eaf1f5,#c2ddec,#c1ddeb,#f0f4f6,#fbceb6,#f5ad8c,#fddbc7,#dceaf2,#98c8e0,#abd2e5,#f3f5f6,#faccb3,#f9c1a5,#fae7db,#e6eff4,#ddebf2,#eef3f5,#f7f5f3,#eff3f6,#deebf2,#e4eef3,#faeae1,#f9c4a9,#fac7ae,#f7f5f4,#b2d5e7,#96c7df,#d6e7f1,#fcdfce,#f6ae8e,#fac8ae,#f5f6f7,#c4dfec,#bfdceb,#e6eff4,#fae9df,#fcdfce,#fae8dd,#f5f6f7,#e7eff4,#e8f0f4,#f3f5f6,#f8f3f1,#f8f2ee,#f8f4f2,#f6f7f7,#f4f6f7,#f5f6f7,#f7f7f7 74.5px)"></i><i style="background:linear-gradient(90deg,#f7f7f7 12.5px,#f5f6f7,#f4f6f7,#f6f7f7,#f8f4f2,#f8f2ee,#f8f3f0,#f3f5f6,#e9f0f4,#e7eff4,#f4f6f6,#fae8de,#fcdfcd,#fae8dd,#e7f0f4,#bfdceb,#c1ddec,#f3f5f6,#fac9b0,#f5ac8a,#fdddca,#d7e8f1,#93c6de,#aed3e6,#f7f6f5,#f9c5aa,#f9c0a5,#faebe2,#e0ecf3,#dbeaf2,#f1f4f6,#f8f0eb,#f3f5f6,#dceaf2,#deebf2,#f9eee8,#f9c4aa,#f9c1a5,#f8f1ed,#b6d7e8,#91c4de,#d1e5f0,#fce1d2,#f5ad8c,#f9c3a8,#f7f6f5,#c6dfed,#bcdaea,#e3eef3,#faeae1,#fcdecd,#fae7db,#f6f7f7,#e7f0f4,#e8f0f4,#f2f5f6,#f8f3f1,#f8f2ee,#f8f4f2,#f6f7f7,#f4f6f7,#f5f6f7,#f7f7f7 74.5px)"></i><i style="background:linear-gradient(90deg,#f7f7f7 12.5px,#f5f6f7,#f4f6f7,#f6f7f7,#f8f4f2,#f8f2ee,#f8f3f1,#f3f5f6,#e8f0f4,#e7eff4,#f5f6f7,#fae7dc,#fcdecc,#fae9df,#e5eef4,#bcdaea,#c3deec,#f6f7f7,#f9c4a9,#f5aa89,#fcdfce,#d2e5f0,#8dc2dc,#b1d5e7,#f8f2ee,#f8bda1,#f9c0a5,#f9eee8,#dae9f2,#d8e9f1,#f5f6f7,#faebe3,#f7f6f6,#dae9f2,#d8e8f1,#f8f2ef,#f9c5aa,#f7ba9d,#f9ede6,#bad9e9,#8bc1dc,#c8e1ee,#fbe4d7,#f5ad8c,#f8bea2,#f8f3f1,#c7e0ed,#b9d9e9,#e1ecf3,#faebe3,#fcdecd,#fbe6da,#f7f6f6,#e8f0f4,#e7f0f4,#f2f4f6,#f8f4f1,#f8f1ed,#f8f4f1,#f7f7f7,#f4f6f7,#f5f6f7,#f7f7f7 74.5px)"></i><i style="background:linear-gradient(90deg,#f7f7f7 12.5px,#f5f6f7,#f4f6f7,#f6f7f7,#f8f4f2,#f8f1ed,#f8f3f1,#f2f5f6,#e8f0f4,#e7eff4,#f6f7f7,#fbe6da,#fcdecc,#faeae1,#e2edf3,#b9d9e9,#c4deec,#f7f5f4,#f8bea2,#f5aa88,#fce2d3,#cae1ee,#87beda,#b5d7e8,#f9ede6,#f7b698,#f9c0a5,#f8f2ef,#d3e6f0,#d6e7f1,#f7f6f5,#fbe6da,#f8f3f1,#d9e9f1,#d1e5f0,#f7f6f6,#f9c6ac,#f6b394,#fae8de,#bedceb,#86beda,#c0dceb,#fae7db,#f5ac8b,#f7b99b,#f8f1ec,#c9e1ee,#b7d8e8,#deebf2,#f9ece5,#fcdecc,#fbe5d8,#f7f6f5,#e8f0f4,#e7eff4,#f1f4f6,#f8f4f2,#f8f1ed,#f8f4f1,#f7f7f6,#f4f6f7,#f5f6f7,#f7f7f7 74.5px)"></i><i style="background:linear-gradient(90deg,#f7f7f7 12.5px,#f5f6f7,#f4f6f7,#f7f7f7,#f8f4f1,#f8f1ed,#f8f4f1,#f1f4f6,#e7eff4,#e7f0f4,#f7f6f6,#fbe5d9,#fcdecc,#faebe3,#dfecf3,#b6d7e8,#c6dfed,#f8f2ef,#f7b99c,#f5a987,#fbe5d8,#c1ddeb,#82bbd8,#b9d9e9,#fae9de,#f6af8f,#f9c1a5,#f7f6f6,#c9e1ee,#d4e6f1,#f8f3f0,#fce1d1,#f9f0eb,#d7e8f1,#c7e0ed,#f2f4f6,#fac7ad,#f5ac8c,#fbe4d6,#c4deec,#82bbd8,#b7d8e8,#faeae1,#f5ac8b,#f6b495,#f9eee7,#cce2ef,#b4d6e8,#dbeaf2,#f9eee7,#fcdecc,#fbe4d6,#f7f5f3,#e8f0f4,#e6eff4,#f0f4f6,#f8f4f2,#f8f1ed,#f8f3f1,#f7f7f6,#f4f6f7,#f5f6f7,#f7f7f7 74.5px)"></i><i style="background:linear-gradient(90deg,#f7f7f7 12.5px,#f5f6f7,#f4f6f7,#f7f7f6,#f8f3f1,#f8f1ed,#f8f4f2,#f1f4f6,#e7eff4,#e8f0f4,#f7f6f5,#fbe4d7,#fcdecb,#f9ece5,#ddebf2,#b4d6e8,#c8e1ed,#f9f0ea,#f7b495,#f5a987,#fae8dd,#b8d8e9,#7cb7d7,#bedbeb,#fbe4d6,#f4a885,#f9c1a6,#f1f4f6,#bedbeb,#d2e5f0,#f9f0ea,#fddbc7,#f9ece5,#d5e7f1,#bcdaea,#ebf1f5,#fac9b0,#f4a683,#fcdfcd,#c9e1ee,#7db8d7,#aed3e6,#f9ede6,#f5ad8c,#f6af8f,#faebe2,#cfe4ef,#b2d5e7,#d9e9f1,#f9efe9,#fcdecc,#fbe3d4,#f8f4f2,#e9f0f4,#e6eff4,#f0f3f6,#f8f5f3,#f8f1ed,#f8f3f0,#f7f6f6,#f5f6f7,#f5f6f7,#f7f7f7 74.5px)"></i><i style="background:linear-gradient(90deg,#f7f7f7 12.5px,#f5f6f7,#f4f6f7,#f7f7f6,#f8f3f1,#f8f1ed,#f8f4f2,#f0f4f6,#e6eff4,#e8f0f4,#f8f5f3,#fbe3d5,#fcddcb,#f9eee7,#dae9f2,#b1d5e7,#cbe2ee,#f9ede5,#f6af8f,#f5a987,#faebe2,#aed3e6,#77b4d5,#c3deec,#fcdfce,#f19f7d,#f9c3a8,#ebf1f5,#b2d5e7,#cee4ef,#f9ece5,#fbd0b9,#fae9de,#d4e6f1,#b0d4e7,#e5eef4,#facbb2,#f19e7c,#fdd8c4,#cfe4f0,#7ab6d6,#a5cee3,#f8f1ec,#f5ae8d,#f5ab89,#fae8dd,#d1e5f0,#b0d4e7,#d6e7f1,#f8f0ec,#fcdecc,#fce2d3,#f8f3f0,#e9f0f4,#e6eff4,#eff3f5,#f7f5f3,#f8f1ed,#f8f3f0,#f7f6f6,#f5f6f7,#f4f6f7,#f7f7f7 74.5px)"></i><i style="background:linear-gradient(90deg,#f7f7f7 12.5px,#f4f6f7,#f5f6f7,#f7f6f6,#f8f3f0,#f8f1ed,#f8f5f3,#eff3f6,#e6eff4,#e9f0f4,#f8f4f1,#fbe2d4,#fcddcb,#f9efe9,#d7e8f1,#afd4e6,#cee3ef,#faeae0,#f5aa89,#f5a988,#f9eee8,#a5cfe3,#73b1d3,#c9e1ee,#fdd9c4,#ed9676,#f9c4aa,#e5eef4,#a6cfe4,#cae2ee,#fae9df,#f9c5ab,#fbe5d8,#d2e6f0,#a5cfe3,#deebf2,#fbcdb5,#ed9576,#fbceb7,#d4e6f1,#76b3d5,#9ccae1,#f8f4f2,#f6af8e,#f4a683,#fbe5d8,#d4e6f0,#aed3e6,#d3e6f0,#f8f2ee,#fcdecc,#fce1d1,#f8f2ee,#eaf1f5,#e5eff4,#eef3f5,#f7f5f4,#f8f1ed,#f8f3f0,#f7f6f6,#f5f6f7,#f4f6f7,#f7f7f7 74.5px)"></i><i style="background:linear-gradient(90deg,#f7f7f7 12.5px,#f4f6f7,#f5f6f7,#f7f6f6,#f8f3f0,#f8f1ed,#f7f5f3,#eff3f5,#e5eff4,#e9f0f4,#f8f3f0,#fce1d2,#fcdecb,#f8f1ec,#d5e7f1,#add3e6,#d1e5f0,#fbe7db,#f4a683,#f5aa89,#f8f2ee,#9ccae1,#6fafd2,#cfe4f0,#fbcfb7,#ea8d70,#f9c6ac,#deebf2,#9ac9e0,#c7e0ed,#fbe6d9,#f7ba9d,#fce1d1,#d1e5f0,#99c9e0,#d7e8f1,#fbd0b9,#ea8d70,#f9c4aa,#d8e9f1,#73b2d4,#92c5de,#f6f6f7,#f6b091,#f2a17f,#fce2d2,#d6e7f1,#add3e6,#d1e5f0,#f8f3f1,#fcdecd,#fce0d0,#f8f1ec,#ebf1f5,#e5eef4,#edf2f5,#f7f6f5,#f8f1ed,#f8f3ef,#f7f6f5,#f5f6f7,#f4f6f7,#f7f7f7 74.5px)"></i><i style="background:linear-gradient(90deg,#f7f7f7 12.5px,#f4f6f7,#f5f6f7,#f7f6f6,#f8f3f0,#f8f1ed,#f7f5f4,#eef3f5,#e5eff4,#eaf1f5,#f8f2ee,#fce1d0,#fcdecc,#f8f2ef,#d2e5f0,#acd2e5,#d3e6f0,#fbe3d5,#f2a07e,#f5ac8b,#f7f6f4,#92c5de,#6badd1,#d4e6f1,#f9c5aa,#e68469,#fac8ae,#d7e8f1,#8dc2dc,#c3deec,#fbe2d3,#f6ae8e,#fdddca,#cfe4ef,#8cc2dc,#cee4ef,#fcd3bd,#e6856a,#f8ba9d,#ddebf2,#71b0d3,#87beda,#f0f4f6,#f6b293,#f09c7b,#fcdecd,#d8e8f1,#acd2e5,#cce3ef,#f7f5f4,#fcdfce,#fcdfce,#f9f0ea,#ebf1f5,#e5eef4,#edf2f5,#f7f6f5,#f8f1ee,#f8f2ef,#f7f6f5,#f5f6f7,#f4f6f7,#f6f6f7,#f7f7f7 75.5px)"></i><i style="background:linear-gradient(90deg,#f7f7f7 11.5px,#f6f6f7,#f4f6f7,#f5f6f7,#f7f6f5,#f8f3ef,#f8f1ed,#f7f6f5,#edf2f5,#e5eef4,#ebf1f5,#f8f1ec,#fce0cf,#fcdecc,#f8f4f1,#cee4ef,#abd1e5,#d6e7f1,#fce0d0,#f09b7a,#f5ae8d,#f4f5f6,#87beda,#69abd0,#d9e9f1,#f8ba9d,#e27c62,#facab2,#cfe4ef,#7eb8d7,#c0dceb,#fcdecd,#f3a280,#fcd7c2,#cce3ef,#7eb8d7,#c2ddec,#fcd6c1,#e37e64,#f6b090,#e2edf3,#6fafd2,#7cb7d7,#ebf1f5,#f7b596,#ee9777,#fddbc7,#dbeaf2,#abd2e5,#c8e0ed,#f7f7f6,#fcdfce,#fcdfcd,#f9efe9,#ecf2f5,#e5eef4,#ecf2f5,#f7f6f6,#f8f2ee,#f8f2ef,#f7f6f5,#f5f6f7,#f4f6f6,#f6f6f7,#f7f7f7 75.5px)"></i><i style="background:linear-gradient(90deg,#f7f7f7 11.5px,#f6f6f7,#f4f6f7,#f5f6f7,#f7f6f5,#f8f2ef,#f8f1ee,#f7f6f5,#edf2f5,#e5eef4,#ebf1f5,#f9efea,#fcdfce,#fcdfcd,#f7f6f4,#cae1ee,#aad1e5,#d8e8f1,#fdddca,#ed9676,#f6b090,#eef3f5,#7cb7d6,#66a9cf,#ddebf2,#f6b090,#df745c,#fbcdb5,#c3deec,#6fafd2,#bddbea,#fddbc6,#ec9374,#fbcfb8,#cae2ee,#70afd2,#b6d7e8,#fddac6,#e0775e,#f4a583,#e7eff4,#6eaed2,#72b1d3,#e5eff4,#f7b89a,#ec9374,#fcd5c0,#deebf2,#abd2e5,#c4deec,#f5f6f7,#fce0cf,#fcdecc,#f9ede7,#edf2f5,#e5eef4,#ebf1f5,#f7f7f6,#f8f2ee,#f8f2ef,#f7f6f4,#f5f6f7,#f4f6f6,#f6f6f7,#f7f7f7 75.5px)"></i><i style="background:linear-gradient(90deg,#f7f7f7 11.5px,#f6f6f7,#f4f6f7,#f5f6f7,#f7f6f5,#f8f2ef,#f8f2ee,#f7f6f6,#ecf2f5,#e5eef4,#ecf2f5,#f9eee8,#fcdecc,#fcdfce,#f6f7f7,#c6dfed,#a9d1e5,#dbeaf2,#fdd8c4,#eb9173,#f6b293,#e9f0f4,#71b0d3,#65a8ce,#e2edf3,#f4a583,#db6c56,#fbd0b9,#b7d8e9,#60a5cd,#bad9e9,#fcd3bd,#e68469,#fac7ae,#c9e1ee,#61a6cd,#a9d1e5,#fdddca,#dd7059,#ef9878,#ecf2f5,#6eaed2,#67aacf,#e0ecf3,#f8bb9e,#ea8f71,#fbcfb8,#e1edf3,#abd2e5,#c0dceb,#f2f5f6,#fce1d1,#fdddcb,#f9ece5,#eef3f5,#e5eef4,#ebf1f5,#f6f7f7,#f8f2ee,#f8f2ee,#f7f5f4,#f5f6f7,#f4f6f6,#f5f6f7,#f7f7f7 75.5px)"></i><i style="background:linear-gradient(90deg,#f7f7f7 11.5px,#f6f6f7,#f4f6f6,#f5f6f7,#f7f5f4,#f8f2ef,#f8f2ee,#f7f7f6,#ebf1f5,#e4eef4,#edf2f5,#f9ede6,#fcddcb,#fce0cf,#f4f6f6,#c2ddec,#a9d1e4,#deebf2,#fcd2bc,#e98d6f,#f7b597,#e3eef3,#66a9cf,#64a8ce,#e7f0f4,#ee9878,#d86550,#fcd4bd,#abd2e5,#519cc8,#b7d8e9,#fbccb4,#df755d,#f8c0a4,#c7e0ed,#539dc9,#9ccae1,#fcdfcd,#da6a54,#e98b6e,#f2f5f6,#6eaed2,#5da3cc,#dae9f2,#f8bfa3,#e98b6e,#fac9b0,#e4eef4,#abd2e5,#bcdaea,#eff3f6,#fce1d2,#fdddca,#faebe3,#eff3f6,#e5eef4,#eaf1f5,#f6f7f7,#f8f2ee,#f8f2ee,#f7f5f4,#f5f6f7,#f4f6f6,#f5f6f7,#f7f7f7 75.5px)"></i><i style="background:linear-gradient(90deg,#f7f7f7 11.5px,#f5f6f7,#f4f6f6,#f5f6f7,#f7f5f4,#f8f2ee,#f8f2ee,#f6f7f7,#ebf1f5,#e4eef4,#eef3f5,#f9ece4,#fdddca,#fce0d0,#f1f4f6,#bedbea,#a9d1e5,#e1edf3,#faccb4,#e8896c,#f7b99b,#ddebf2,#5ba2cb,#63a7ce,#edf2f5,#e98b6e,#d55e4c,#fcd7c2,#9ecbe2,#4393c3,#b4d7e8,#f9c5ab,#d96752,#f7b89a,#c5dfed,#4695c4,#8fc3dd,#fce1d2,#d86450,#e37e64,#f7f6f6,#6fafd2,#539dc9,#d4e6f1,#f9c3a8,#e7886c,#f9c2a8,#e8f0f4,#acd2e5,#b8d8e9,#edf2f5,#fbe2d3,#fddcc9,#faeae1,#f0f4f6,#e5eef4,#eaf1f5,#f5f6f7,#f8f2ef,#f8f2ee,#f7f5f3,#f6f6f7,#f4f6f6,#f5f6f7,#f7f7f7 75.5px)"></i><i style="background:linear-gradient(90deg,#f7f7f7 11.5px,#f5f6f7,#f4f6f6,#f6f6f7,#f7f5f4,#f8f2ee,#f8f2ee,#f6f6f7,#eaf1f5,#e4eef4,#eff3f6,#faebe2,#fddcc9,#fce1d2,#eff3f5,#bad9e9,#a9d1e5,#e5eef4,#f9c6ac,#e6856a,#f8bda0,#d7e8f1,#519cc8,#64a8ce,#f2f5f6,#e37e64,#d15749,#fddbc7,#92c5de,#3d8bbf,#b2d5e7,#f8bea2,#d25849,#f6b090,#c4dfec,#3e8dc0,#7fb9d8,#fbe4d6,#d55e4c,#de725b,#f8f2ef,#71b0d3,#4a97c5,#cce2ee,#fac7ae,#e6856a,#f8bca0,#ebf2f5,#add2e6,#b5d7e8,#eaf1f5,#fbe3d5,#fddcc8,#fae9df,#f1f4f6,#e5eef4,#e9f0f4,#f5f6f7,#f8f2ef,#f8f2ee,#f7f5f3,#f6f6f7,#f4f6f6,#f5f6f7,#f7f7f7 75.5px)"></i><i style="background:linear-gradient(90deg,#f7f7f7 11.5px,#f5f6f7,#f4f6f6,#f6f6f7,#f7f5f3,#f8f2ee,#f8f2ef,#f5f6f7,#e9f1f4,#e5eef4,#f0f4f6,#faeae0,#fddcc9,#fbe2d3,#ecf2f5,#b6d7e8,#aad1e5,#e8f0f4,#f8bfa4,#e58368,#f9c1a6,#d1e5f0,#4896c5,#65a8cf,#f7f6f6,#de715a,#ce5146,#fcddcb,#83bbd9,#3783bb,#b0d4e7,#f7b799,#cb4942,#f5a886,#c3deec,#3986bc,#70afd2,#fbe6db,#d35a4a,#d86551,#f9eee7,#73b2d3,#4292c2,#c2ddec,#fbccb4,#e58368,#f7b698,#eff3f6,#aed3e6,#b1d5e7,#e7f0f4,#fbe4d7,#fddbc8,#fae8dd,#f2f5f6,#e5eef4,#e8f0f4,#f4f6f6,#f8f3ef,#f8f2ee,#f8f5f3,#f6f7f7,#f4f6f7,#f5f6f7,#f7f7f7 75.5px)"></i><i style="background:linear-gradient(90deg,#f7f7f7 11.5px,#f5f6f7,#f4f6f7,#f6f6f7,#f7f5f3,#f8f2ee,#f8f2ef,#f5f6f7,#e9f0f4,#e5eef4,#f1f4f6,#fae9df,#fddcc8,#fbe3d5,#e9f1f4,#b3d6e7,#abd2e5,#ecf2f5,#f7b99c,#e48066,#f9c6ac,#c8e0ed,#4191c2,#67aacf,#f8f2ee,#d86551,#cc4c43,#fce0cf,#74b2d4,#317cb7,#aed3e6,#f6b191,#c43b3c,#f2a07e,#c3deec,#347fb9,#61a6cd,#fae9e0,#d15548,#d2594a,#fae9df,#76b4d5,#3f8dc0,#b8d8e9,#fbd1bb,#e58167,#f6b191,#f3f5f6,#b0d4e6,#aed3e6,#e4eef4,#fbe5d9,#fddbc7,#fae7db,#f3f5f6,#e5eff4,#e8f0f4,#f3f5f6,#f8f3f0,#f8f2ee,#f8f4f2,#f6f7f7,#f4f6f7,#f5f6f7,#f7f7f7 75.5px)"></i><i style="background:linear-gradient(90deg,#f7f7f7 11.5px,#f5f6f7,#f4f6f7,#f6f7f7,#f8f5f3,#f8f2ee,#f8f3f0,#f4f6f6,#e8f0f4,#e5eff4,#f3f5f6,#fae8dd,#fddbc8,#fbe4d7,#e7eff4,#b0d4e6,#add3e6,#f0f4f6,#f6b495,#e37e64,#facbb2,#bedbeb,#3e8cbf,#6aabd0,#f9eee7,#d2594a,#ca4741,#fbe2d4,#65a9cf,#2c75b4,#add3e6,#f5aa88,#bd2e35,#ee9677,#c2ddec,#2f78b5,#529cc8,#f9ece5,#cf5246,#cd4d44,#fbe4d7,#7ab6d6,#3c89be,#aed3e6,#fcd7c2,#e48066,#f5ab8a,#f7f7f6,#b2d5e7,#abd2e5,#e2edf3,#fae7db,#fddbc7,#fbe6da,#f5f6f7,#e6eff4,#e7f0f4,#f3f5f6,#f8f3f0,#f8f1ee,#f8f4f2,#f6f7f7,#f4f6f7,#f5f6f7,#f7f7f7 75.5px)"></i><i style="background:linear-gradient(90deg,#f7f7f7 11.5px,#f5f6f7,#f4f6f7,#f6f7f7,#f8f4f2,#f8f2ee,#f8f3f0,#f3f5f6,#e8f0f4,#e5eff4,#f4f5f6,#fae7db,#fddbc7,#fbe6d9,#e4eef3,#add3e6,#afd4e6,#f4f5f6,#f5ae8d,#e37d63,#fbd0b9,#b4d6e8,#3b88bd,#6daed1,#fae9df,#cd4d44,#c8433f,#fbe5d8,#57a0ca,#276eb0,#acd2e5,#f3a381,#b6212f,#ea8e70,#c2ddec,#2a72b2,#4393c3,#f9efea,#ce4f45,#c7423f,#fce0cf,#7fb9d7,#3985bc,#a4cee3,#fddcc9,#e48066,#f4a683,#f8f4f2,#b4d6e8,#a9d1e5,#dfecf3,#fae8dd,#fddbc7,#fbe5d8,#f6f7f7,#e6eff4,#e7eff4,#f2f5f6,#f8f3f1,#f8f1ee,#f8f4f2,#f6f7f7,#f4f6f7,#f5f6f7,#f7f7f7 75.5px)"></i><i style="background:linear-gradient(90deg,#f7f7f7 11.5px,#f5f6f7,#f4f6f7,#f6f7f7,#f8f4f2,#f8f2ee,#f8f3f0,#f3f5f6,#e7f0f4,#e6eff4,#f5f6f7,#fbe6d9,#fddbc7,#fae7db,#e1edf3,#aad1e5,#b1d5e7,#f7f6f6,#f5a987,#e27d63,#fcd6c0,#aad1e5,#3884bb,#71b0d3,#fbe4d7,#c7423f,#c6403e,#fae8dd,#4997c5,#2368ad,#abd2e5,#f09b7b,#ae172a,#e68569,#c2ddec,#266daf,#3d8bbf,#f8f2ef,#cd4d44,#c1373a,#fddbc7,#84bcd9,#3682ba,#9ac9e0,#fcdfce,#e48066,#f29f7e,#f8f1ed,#b7d8e9,#a7d0e4,#dceaf2,#fae9e0,#fddbc7,#fbe4d6,#f7f6f6,#e7eff4,#e7eff4,#f1f4f6,#f8f4f1,#f8f1ee,#f8f4f1,#f7f7f7,#f4f6f7,#f5f6f7,#f7f7f7 75.5px)"></i><i style="background:linear-gradient(90deg,#f7f7f7 11.5px,#f5f6f7,#f4f6f7,#f6f7f7,#f8f4f2,#f8f2ee,#f8f3f1,#f2f5f6,#e7eff4,#e6eff4,#f6f7f7,#fbe5d8,#fddbc7,#fae8de,#deebf2,#a8d0e4,#b4d6e8,#f8f3f1,#f3a380,#e27d63,#fddbc8,#a1cde2,#3580ba,#76b3d5,#fce0cf,#c2373a,#c53e3d,#faebe2,#408fc1,#1f62a7,#abd1e5,#ed9475,#a31329,#e37d63,#c2deec,#2267ad,#3884bb,#f7f6f5,#cc4c44,#bc2d35,#fbd2bb,#8ac0db,#347fb9,#91c4de,#fbe3d4,#e48166,#ef9979,#f9eee7,#bbdaea,#a5cfe3,#dae9f2,#faebe2,#fddbc7,#fbe3d5,#f7f6f5,#e7eff4,#e6eff4,#f1f4f6,#f8f4f2,#f8f1ee,#f8f4f1,#f7f7f6,#f5f6f7,#f5f6f7,#f7f7f7 75.5px)"></i><i style="background:linear-gradient(90deg,#f7f7f7 11.5px,#f5f6f7,#f5f6f7,#f7f7f7,#f8f4f2,#f8f2ee,#f8f4f1,#f1f4f6,#e7eff4,#e7eff4,#f7f6f6,#fbe4d6,#fddbc7,#faeae0,#dceaf2,#a6cfe4,#b7d8e9,#f8f0ec,#f09d7c,#e37d64,#fcdfcd,#98c8e0,#337eb8,#7cb7d6,#fddbc8,#bd2d35,#c43c3c,#f9eee7,#3b88bd,#1c5c9e,#aad1e5,#e98d6f,#971027,#df755d,#c3deec,#1f62a7,#327db8,#f4f6f7,#cc4c43,#b82330,#fac9b0,#91c4de,#327db8,#85bdda,#fbe6da,#e58368,#ec9475,#faebe2,#bedbeb,#a4cee3,#d7e8f1,#f9ede5,#fddbc8,#fbe2d3,#f7f5f3,#e8f0f4,#e6eff4,#f0f4f6,#f8f4f2,#f8f2ee,#f8f3f1,#f7f7f6,#f5f6f7,#f5f6f7,#f7f7f7 75.5px)"></i><i style="background:linear-gradient(90deg,#f7f7f7 11.5px,#f5f6f7,#f5f6f7,#f7f7f6,#f8f4f1,#f8f2ee,#f8f4f2,#f1f4f6,#e6eff4,#e7f0f4,#f7f5f4,#fbe3d5,#fddbc8,#faebe3,#d9e9f1,#a4cee3,#bbdaea,#f9ede6,#ee9777,#e37f65,#fbe2d3,#8ec2dd,#317bb7,#82bbd9,#fcd3bd,#b82431,#c43c3c,#f8f1ed,#3681ba,#195797,#abd2e5,#e7866a,#8d0c25,#dc6e58,#c4deec,#1c5da0,#2d76b4,#f0f4f6,#cc4c44,#b31b2c,#f9c0a5,#97c8df,#317bb7,#7ab6d6,#faeae0,#e68569,#ea8e71,#fae8dd,#c2ddec,#a2cde3,#d4e7f1,#f9eee8,#fddcc8,#fce1d2,#f8f4f1,#e8f0f4,#e6eff4,#f0f3f6,#f8f5f3,#f8f2ee,#f8f3f1,#f7f6f6,#f5f6f7,#f5f6f7,#f7f7f7 75.5px)"></i><i style="background:linear-gradient(90deg,#f7f7f7 11.5px,#f5f6f7,#f5f6f7,#f7f7f6,#f8f3f1,#f8f2ee,#f8f4f3,#f0f4f6,#e6eff4,#e8f0f4,#f8f4f3,#fbe2d3,#fddcc8,#f9ede6,#d6e8f1,#a3cee3,#bedceb,#faeae1,#ec9273,#e48166,#fbe6d9,#83bbd9,#2f79b6,#89c0db,#facab2,#b41b2d,#c43c3c,#f8f4f2,#317bb7,#175290,#abd2e5,#e48066,#840924,#d96853,#c5dfed,#1a599a,#2870b1,#ebf1f5,#cd4d44,#ad162a,#f7b79a,#9dcbe1,#307ab6,#70afd2,#f9ede7,#e7876b,#e88a6d,#fbe4d7,#c6e0ed,#a2cde2,#d2e5f0,#f9f0eb,#fddcc9,#fce1d1,#f8f3f0,#e9f0f4,#e6eff4,#eff3f6,#f7f5f4,#f8f2ee,#f8f3f0,#f7f6f6,#f5f6f7,#f5f6f7,#f7f7f7 75.5px)"></i><i style="background:linear-gradient(90deg,#f7f7f7 11.5px,#f5f6f7,#f5f6f7,#f7f6f6,#f8f3f1,#f8f2ee,#f7f5f3,#eff3f6,#e6eff4,#e9f0f4,#f8f3f1,#fce2d2,#fddcc9,#f9efe9,#d4e6f1,#a2cde3,#c3deec,#fae7dc,#ea8d6f,#e58368,#fae9e0,#78b5d5,#2e78b5,#91c4de,#f9c2a7,#ae172a,#c53d3d,#f6f7f7,#2c75b4,#154e8b,#acd2e6,#e27a61,#7d0722,#d7624f,#c7e0ed,#195696,#246aae,#e7eff4,#ce4f45,#a61429,#f6af8f,#a4cee3,#2f79b6,#66a9cf,#f8f1ed,#e98b6e,#e6856a,#fce1d2,#cbe2ee,#a1cde2,#cee4ef,#f8f2ee,#fdddca,#fce0d0,#f8f2ee,#eaf1f5,#e6eff4,#eef3f5,#f7f5f4,#f8f2ee,#f8f3f0,#f7f6f6,#f5f6f7,#f5f6f7,#f7f7f7 75.5px)"></i><i style="background:linear-gradient(90deg,#f7f7f7 11.5px,#f5f6f7,#f5f6f7,#f7f6f6,#f8f3f1,#f8f2ee,#f7f5f4,#eff3f6,#e6eff4,#eaf1f5,#f8f2ef,#fce1d1,#fdddca,#f8f0eb,#d2e5f0,#a2cde3,#c7e0ed,#fbe4d7,#e8896c,#e7866a,#f9ede6,#6fafd2,#2e77b5,#98c8e0,#f7ba9c,#a71429,#c6403e,#f2f5f6,#2870b1,#134b87,#aed3e6,#df755e,#760521,#d45d4b,#c8e1ee,#175392,#2065aa,#e2edf3,#cf5247,#a01228,#f4a784,#acd2e5,#2f79b6,#5da3cc,#f7f5f4,#ea8f71,#e58267,#fcdecd,#d0e5f0,#a1cde2,#cbe2ee,#f8f3f1,#fcddcb,#fce0cf,#f8f1ec,#ebf1f5,#e6eff4,#eef3f5,#f7f6f5,#f8f2ee,#f8f3f0,#f7f6f6,#f5f6f7,#f5f6f7,#f7f7f7 75.5px)"></i><i style="background:linear-gradient(90deg,#f7f7f7 11.5px,#f5f6f7,#f5f6f7,#f7f6f6,#f8f3f0,#f8f2ee,#f7f6f4,#eef3f5,#e6eff4,#eaf1f5,#f8f1ed,#fce0d0,#fdddcb,#f8f2ee,#cee4ef,#a2cde2,#cce2ef,#fce1d1,#e68569,#e88a6d,#f8f1ed,#65a9cf,#2e77b5,#9fcce2,#f6b192,#a11328,#c7433f,#eef3f5,#256bae,#124984,#afd4e6,#dd715a,#700321,#d25849,#cae2ee,#165290,#1d5fa2,#deebf2,#d15648,#9b1127,#f19d7c,#b3d6e8,#2f79b6,#549ec9,#f4f6f6,#ec9374,#e37f64,#fddbc8,#d4e6f0,#a2cde2,#c7e0ed,#f7f5f4,#fcdecd,#fcdfce,#f9f0ea,#ecf2f5,#e6eff4,#edf2f5,#f7f6f6,#f8f2ee,#f8f3f0,#f7f6f5,#f5f6f7,#f5f6f7,#f7f7f7 75.5px)"></i><i style="background:linear-gradient(90deg,#f7f7f7 11.5px,#f5f6f7,#f5f6f7,#f7f6f5,#f8f3f0,#f8f2ee,#f7f6f5,#eef3f5,#e6eff4,#ebf1f5,#f8f0ec,#fce0cf,#fcdecc,#f8f4f1,#cbe2ee,#a2cde3,#d1e5f0,#fcdecc,#e58267,#ea8e71,#f7f5f3,#5da3cc,#2e77b5,#a7d0e4,#f5aa88,#9d1128,#c94741,#e9f0f4,#2267ac,#114882,#b1d5e7,#dc6d57,#6c0220,#d05447,#cde3ef,#16518e,#1b5a9c,#d9e9f1,#d35b4a,#970f27,#ec9475,#bcdaea,#307ab6,#4c99c6,#eff3f6,#ef9878,#e27c63,#fcd6c1,#d7e8f1,#a2cde3,#c4deec,#f7f7f6,#fcdfce,#fcdfcd,#f9efe9,#edf2f5,#e6eff4,#edf2f5,#f7f6f6,#f8f2ef,#f8f3f0,#f7f6f5,#f5f6f7,#f5f6f7,#f7f7f7 75.5px)"></i><i style="background:linear-gradient(90deg,#f7f7f7 11.5px,#f5f6f7,#f5f6f7,#f7f6f5,#f8f3f0,#f8f2ef,#f7f6f6,#edf2f5,#e6eff4,#ecf2f5,#f9f0ea,#fcdfce,#fcdfcd,#f7f6f4,#c7e0ed,#a3cde3,#d4e7f1,#fddbc7,#e47f65,#ec9375,#f5f6f7,#559ec9,#2f78b5,#afd4e6,#f2a27f,#991027,#cc4b43,#e5eef4,#1f63a7,#114882,#b4d6e8,#db6a55,#69011f,#ce5146,#cfe4ef,#16518e,#195797,#d5e7f1,#d6604d,#950f26,#e88a6e,#c4deec,#317cb7,#4594c4,#eaf1f5,#f19e7d,#e17a61,#fbd1ba,#dae9f2,#a4cee3,#c1ddeb,#f5f6f7,#fce0d0,#fcdecd,#f9eee7,#eef3f5,#e6eff4,#ecf2f5,#f7f7f6,#f8f2ef,#f8f3f0,#f7f6f5,#f6f6f7,#f5f6f7,#f6f6f7,#f7f7f7 76.5px)"></i><i style="background:linear-gradient(90deg,#f7f7f7 11.5px,#f5f6f7,#f5f6f7,#f7f6f5,#f8f3f0,#f8f2ef,#f7f6f6,#edf2f5,#e6eff4,#edf2f5,#f9efe9,#fcdfce,#fce0cf,#f6f7f7,#c4dfec,#a4cee3,#d8e8f1,#fcd6c1,#e37d63,#ef9979,#eff3f6,#4e9ac7,#3079b6,#b8d8e9,#ef9878,#970f27,#ce5146,#e1ecf3,#1d5fa2,#114882,#b6d8e8,#da6853,#68001f,#cd4f45,#d2e5f0,#16518f,#175392,#d0e5f0,#d96652,#930e26,#e58267,#cde3ef,#337eb8,#4191c2,#e4eef4,#f4a482,#e17960,#facbb3,#deebf2,#a5cfe3,#bedbeb,#f2f5f6,#fce1d1,#fcdecc,#f9ede5,#eff3f5,#e6eff4,#ecf2f5,#f6f7f7,#f8f3ef,#f8f3f0,#f7f6f4,#f6f6f7,#f5f6f7,#f6f6f7,#f7f7f7 76.5px)"></i><i style="background:linear-gradient(90deg,#f7f7f7 10.5px,#f6f6f7,#f5f6f7,#f6f6f7,#f7f6f5,#f8f3f0,#f8f3ef,#f7f7f7,#ecf2f5,#e6eff4,#eef3f5,#f9eee7,#fcdfcd,#fce1d1,#f4f6f6,#c2ddec,#a5cfe3,#dbeaf2,#fbd1ba,#e27c62,#f19f7e,#eaf1f5,#4796c4,#317cb7,#c0ddeb,#eb9072,#960f26,#d25749,#dceaf2,#1c5c9f,#124984,#b9d9e9,#d96652,#67001f,#cd4d44,#d3e6f0,#175392,#16518f,#c9e1ee,#dc6d57,#930e26,#e17a61,#d4e6f1,#3580b9,#3f8dc0,#dfecf3,#f5aa88,#e17860,#fac7ad,#e1edf3,#a7d0e4,#bcdaea,#f0f4f6,#fbe2d3,#fcdecc,#f9ece4,#f0f4f6,#e6eff4,#ebf2f5,#f6f6f7,#f8f3f0,#f8f3ef,#f7f5f4,#f6f6f7,#f5f6f7,#f6f6f7,#f7f7f7 76.5px)"></i><i style="background:linear-gradient(90deg,#f7f7f7 10.5px,#f6f6f7,#f5f6f7,#f6f6f7,#f7f6f4,#f8f3f0,#f8f3f0,#f6f7f7,#ecf2f5,#e7eff4,#eff3f6,#f9ede5,#fcdfcd,#fce2d2,#f2f4f6,#bfdceb,#a7d0e4,#deebf2,#faccb4,#e27b62,#f4a683,#e5eef4,#4292c3,#337eb8,#c9e1ee,#e7886c,#950f26,#d55f4c,#d8e8f1,#1b5a9c,#134b87,#bddbea,#d86551,#68001f,#cc4c44,#d5e7f1,#185595,#15508d,#c3deec,#df745c,#940e26,#de725b,#d9e9f2,#3783bb,#3d8bbf,#dae9f2,#f6af8f,#e17860,#f9c2a7,#e5eef4,#a9d1e5,#b9d9e9,#edf2f5,#fbe3d5,#fcdecc,#faebe2,#f1f4f6,#e7eff4,#ebf1f5,#f5f6f7,#f8f3f0,#f8f3ef,#f7f5f4,#f6f7f7,#f5f6f7,#f6f6f7,#f7f7f7 76.5px)"></i><i style="background:linear-gradient(90deg,#f7f7f7 10.5px,#f6f6f7,#f5f6f7,#f6f6f7,#f7f5f4,#f8f3f0,#f8f3f0,#f6f6f7,#ecf2f5,#e7eff4,#f0f4f6,#f9ece4,#fcdecd,#fbe3d4,#eff3f6,#bddbea,#a9d1e5,#e2edf3,#fac7ae,#e27b62,#f5ab8a,#e0ecf3,#4090c1,#3681ba,#d2e5f0,#e48166,#960f27,#d96652,#d4e6f1,#1a599a,#154e8b,#c0ddeb,#d86551,#6b0120,#cc4c44,#d7e8f1,#1a5899,#154f8c,#bcdbea,#e27c62,#960f26,#db6c56,#dfecf3,#3a87bd,#3b89be,#d5e7f1,#f7b597,#e17960,#f8bda1,#e9f0f4,#acd2e5,#b7d8e9,#ebf1f5,#fbe4d7,#fcdecc,#faeae1,#f2f5f6,#e7eff4,#ebf1f5,#f5f6f7,#f8f3f0,#f8f3ef,#f7f5f4,#f6f7f7,#f5f6f7,#f6f6f7,#f7f7f7 76.5px)"></i><i style="background:linear-gradient(90deg,#f7f7f7 10.5px,#f6f6f7,#f5f6f7,#f6f7f7,#f7f5f4,#f8f3f0,#f8f3f0,#f5f6f7,#ebf1f5,#e7f0f4,#f1f4f6,#faebe3,#fcdecd,#fbe4d6,#edf2f5,#bbdaea,#acd2e5,#e6eff4,#f9c3a8,#e27c62,#f6b191,#dbeaf2,#3f8dc0,#3885bc,#d8e8f1,#e17a61,#991027,#dc6f58,#d0e4f0,#1a599a,#175290,#c4dfec,#d86651,#6e0220,#cd4d44,#d9e9f2,#1c5c9f,#154f8c,#b6d7e8,#e68469,#991027,#d86651,#e5eef4,#3d8bbf,#3a87bd,#cfe4f0,#f8bc9f,#e17a61,#f7b99c,#ecf2f5,#afd4e6,#b6d7e8,#e8f0f4,#fbe6d9,#fcdecc,#fae9e0,#f3f5f6,#e8f0f4,#eaf1f5,#f4f6f7,#f8f3f1,#f8f3ef,#f7f5f3,#f6f7f7,#f5f6f7,#f6f6f7,#f7f7f7 76.5px)"></i><i style="background:linear-gradient(90deg,#f7f7f7 10.5px,#f6f6f7,#f5f6f7,#f6f7f7,#f7f5f4,#f8f3f0,#f8f3f1,#f5f6f7,#ebf1f5,#e8f0f4,#f2f5f6,#faeae1,#fcdfcd,#fbe5d8,#ebf1f5,#b9d9e9,#afd4e6,#e9f1f5,#f8bfa3,#e27d63,#f7b799,#d6e7f1,#3d8cbf,#3b89be,#ddebf2,#df745c,#9c1127,#e0775f,#c9e1ee,#1a599a,#195797,#c8e1ee,#d96752,#730421,#ce4f45,#dceaf2,#1e61a5,#16508e,#b1d5e7,#ea8d70,#9d1128,#d6604d,#eaf1f5,#4190c1,#3986bc,#c7e0ed,#f9c2a7,#e27c63,#f7b597,#f0f4f6,#b2d5e7,#b5d7e8,#e6eff4,#fae7dc,#fcdecd,#fae9df,#f4f6f7,#e8f0f4,#eaf1f5,#f4f5f6,#f8f4f1,#f8f3ef,#f7f5f3,#f6f7f7,#f5f6f7,#f6f6f7,#f7f7f7 76.5px)"></i><i style="background:linear-gradient(90deg,#f7f7f7 10.5px,#f6f6f7,#f5f6f7,#f6f7f7,#f7f5f4,#f8f3f0,#f8f4f1,#f4f6f7,#ebf1f5,#e8f0f4,#f4f5f6,#faeae0,#fcdfcd,#fbe6db,#e8f0f4,#b8d8e9,#b2d5e7,#edf2f5,#f8bb9e,#e37e64,#f8bea1,#d1e5f0,#3d8abf,#3f8ec0,#e3eef3,#dc6e58,#a01228,#e48166,#c3deec,#1b5a9c,#1c5c9e,#cde3ef,#da6954,#790622,#cf5246,#deebf2,#2167ac,#175290,#abd2e5,#ee9777,#a21329,#d45c4b,#f0f4f6,#4695c4,#3985bc,#c0dceb,#fac9b0,#e37f65,#f6b293,#f4f6f6,#b6d7e8,#b4d6e8,#e4eef3,#fae8de,#fcdfcd,#fae8dd,#f5f6f7,#e9f0f4,#eaf1f5,#f3f5f6,#f8f4f2,#f8f3f0,#f7f5f3,#f6f7f7,#f5f6f7,#f5f6f7,#f7f7f7 76.5px)"></i><i style="background:linear-gradient(90deg,#f7f7f7 10.5px,#f6f6f7,#f5f6f7,#f6f7f7,#f7f5f3,#f8f3f0,#f8f4f2,#f4f5f6,#ebf1f5,#e9f0f4,#f5f6f7,#fae9df,#fcdfce,#fae8dd,#e6eff4,#b7d8e9,#b5d7e8,#f1f4f6,#f7b799,#e48166,#f9c4aa,#cae1ee,#3c8abe,#4393c3,#e9f0f4,#da6a54,#a61429,#e98b6e,#bedbeb,#1c5c9f,#1f62a7,#d1e5f0,#db6b55,#800823,#d15548,#e0ecf3,#256caf,#185594,#a6cfe4,#f2a17f,#a9152a,#d25849,#f6f6f7,#509bc7,#3985bc,#b9d9e9,#fbd0b9,#e58267,#f6af8f,#f7f6f6,#bad9e9,#b3d6e7,#e2edf3,#faeae1,#fcdfce,#fae7dc,#f6f7f7,#e9f0f4,#eaf1f5,#f3f5f6,#f8f4f2,#f8f3f0,#f8f5f3,#f7f7f7,#f5f6f7,#f5f6f7,#f7f7f7 76.5px)"></i><i style="background:linear-gradient(90deg,#f7f7f7 10.5px,#f6f6f7,#f5f6f7,#f7f7f7,#f7f5f3,#f8f3f0,#f8f4f2,#f3f5f6,#eaf1f5,#e9f0f4,#f6f6f7,#fae8de,#fcdfce,#fae9df,#e4eef4,#b6d7e8,#b9d9e9,#f5f6f7,#f7b495,#e68469,#facbb3,#c2deec,#3c8abe,#4c99c6,#eff3f5,#d96651,#ac162a,#ed9576,#b9d9e9,#1e5fa3,#2369ad,#d4e6f1,#dc6e58,#890b24,#d3594a,#e3edf3,#2a71b2,#1a5899,#a2cde3,#f5aa89,#b0172b,#d05548,#f8f4f1,#5aa2cb,#3986bc,#b2d5e7,#fcd7c2,#e6866a,#f5ac8b,#f8f4f1,#bedbeb,#b3d6e7,#e0ecf3,#f9ebe3,#fcdfce,#fae7db,#f7f6f6,#eaf1f5,#eaf1f5,#f2f5f6,#f8f5f3,#f8f3f0,#f8f5f3,#f7f7f6,#f5f6f7,#f5f6f7,#f7f7f7 76.5px)"></i><i style="background:linear-gradient(90deg,#f7f7f7 10.5px,#f6f6f7,#f5f6f7,#f7f7f7,#f7f5f3,#f8f3f0,#f8f4f3,#f3f5f6,#eaf1f5,#eaf1f5,#f7f7f7,#fae8dd,#fce0cf,#faebe2,#e2edf3,#b6d7e8,#bddbea,#f7f6f5,#f6b192,#e7876b,#fcd2bc,#bbdaea,#3c8abe,#579fca,#f5f6f7,#d7634f,#b31a2c,#f2a07e,#b4d6e8,#1f63a8,#286fb1,#d7e8f1,#de725b,#920e26,#d55e4c,#e5eff4,#2e78b5,#1c5c9f,#9ecbe1,#f6b393,#b51e2e,#cf5347,#f9f0ea,#65a9cf,#3a87bd,#acd2e5,#fdddca,#e88a6d,#f5aa88,#f8f1ed,#c2deec,#b3d6e7,#deebf2,#f9ede6,#fce0cf,#fbe6db,#f7f6f5,#ebf1f5,#eaf1f5,#f2f5f6,#f7f5f3,#f8f3f0,#f8f4f3,#f7f7f6,#f5f6f7,#f5f6f7,#f7f7f7 76.5px)"></i><i style="background:linear-gradient(90deg,#f7f7f7 10.5px,#f6f6f7,#f5f6f7,#f7f7f6,#f8f5f3,#f8f3f0,#f7f5f3,#f2f5f6,#eaf1f5,#eaf1f5,#f7f6f6,#fae7dc,#fce0d0,#f9ece4,#e0ecf3,#b6d7e8,#c1ddec,#f8f3f1,#f6af8f,#e98b6e,#fdd9c5,#b5d7e8,#3d8bbf,#62a6cd,#f8f5f3,#d6604d,#b72230,#f5aa89,#afd4e6,#2267ac,#2d76b4,#dae9f2,#e0765e,#9d1128,#d76350,#e8f0f4,#337eb8,#1f61a6,#9ac9e0,#f8bb9e,#ba2732,#cf5146,#f9ece3,#71b0d3,#3b88bd,#a6cfe4,#fce0d0,#ea8f71,#f5a886,#f9eee8,#c7e0ed,#b3d6e8,#dceaf2,#f9eee8,#fce0d0,#fbe6da,#f7f5f3,#ebf1f5,#eaf1f5,#f2f4f6,#f7f5f4,#f8f3f0,#f8f4f2,#f7f7f6,#f5f6f7,#f5f6f7,#f7f7f7 76.5px)"></i><i style="background:linear-gradient(90deg,#f7f7f7 10.5px,#f6f6f7,#f5f6f7,#f7f7f6,#f8f5f3,#f8f3f0,#f7f5f4,#f2f5f6,#eaf1f5,#ebf1f5,#f7f6f4,#fae7db,#fce1d1,#f9eee7,#deebf2,#b6d7e8,#c6dfed,#f8f1ec,#f5ad8c,#eb9072,#fcdecc,#afd4e6,#3e8cc0,#6daed1,#f8f0ec,#d55f4c,#bb2b34,#f6b394,#abd2e5,#256baf,#327db8,#ddebf2,#e27b62,#a81529,#da6954,#eaf1f5,#3986bc,#2267ac,#97c8e0,#f9c4aa,#be3137,#ce5146,#fae8dd,#7db8d7,#3c8abe,#a0cce2,#fbe4d7,#ed9475,#f4a784,#f9ece4,#cce2ef,#b4d6e8,#dae9f2,#f9f0eb,#fce1d1,#fbe6d9,#f8f4f2,#ecf2f5,#eaf1f5,#f1f4f6,#f7f5f4,#f8f3f0,#f8f4f2,#f7f6f6,#f5f6f7,#f5f6f7,#f7f7f7 76.5px)"></i><i style="background:linear-gradient(90deg,#f7f7f7 10.5px,#f6f6f7,#f5f6f7,#f7f7f6,#f8f4f3,#f8f3f0,#f7f5f4,#f2f4f6,#eaf1f5,#ecf2f5,#f7f5f3,#fbe7db,#fce1d2,#f9efe9,#ddebf2,#b7d8e8,#cae2ee,#f9eee8,#f5ab8a,#ed9576,#fce2d2,#a9d1e5,#3f8ec0,#79b5d5,#f9ece5,#d55e4c,#c03438,#f8bca0,#a7d0e4,#2870b1,#3884bc,#e0ecf3,#e48166,#b31a2c,#dd7059,#edf2f5,#3f8dc0,#266caf,#95c6df,#fbcdb5,#c43b3c,#cf5146,#fbe4d6,#89bfdb,#3e8dc0,#9bcae1,#fae8dd,#ef9a79,#f4a583,#fae9e0,#d1e5f0,#b5d7e8,#d9e9f1,#f8f1ed,#fce2d3,#fbe5d9,#f8f3f1,#edf2f5,#eaf1f5,#f1f4f6,#f7f6f5,#f8f3f0,#f8f4f2,#f7f6f6,#f6f6f7,#f5f6f7,#f7f7f7 76.5px)"></i><i style="background:linear-gradient(90deg,#f7f7f7 10.5px,#f6f6f7,#f6f6f7,#f7f6f6,#f8f4f3,#f8f3f1,#f7f6f4,#f1f4f6,#eaf1f5,#edf2f5,#f8f4f2,#fbe6da,#fbe2d3,#f8f0ec,#dbeaf2,#b7d8e9,#cfe4ef,#f9ece4,#f5aa89,#ef9a7a,#fbe5d9,#a4cee3,#4190c2,#85bdda,#fae9de,#d55d4c,#c53f3d,#f9c6ac,#a4cee3,#2c75b4,#3e8cc0,#e3eef3,#e7876b,#b92732,#e0775e,#eff3f6,#4695c4,#2a72b2,#92c5de,#fcd6c0,#c94641,#cf5246,#fce0d0,#95c7df,#408fc1,#97c7df,#f9ece4,#f2a07e,#f4a582,#fae7dc,#d4e6f1,#b6d7e8,#d8e8f1,#f8f3f0,#fbe3d4,#fbe5d9,#f8f3f0,#edf2f5,#eaf1f5,#f0f4f6,#f7f6f5,#f8f3f1,#f8f4f2,#f7f6f6,#f6f6f7,#f5f6f7,#f7f7f7 76.5px)"></i><i style="background:linear-gradient(90deg,#f7f7f7 10.5px,#f6f6f7,#f6f6f7,#f7f6f6,#f8f4f2,#f8f3f1,#f7f6f5,#f1f4f6,#ebf1f5,#edf2f5,#f8f3f1,#fbe6da,#fbe3d4,#f8f2ee,#dae9f2,#b9d9e9,#d3e6f0,#fae9e0,#f5a987,#f2a07e,#fae9df,#9fcce2,#4393c3,#92c5de,#fbe5d8,#d55e4c,#cb4a43,#fbcfb8,#a1cde2,#307ab6,#4695c4,#e6eff4,#ea8d70,#c03438,#e37e64,#f2f4f6,#559ec9,#2e78b5,#91c4dd,#fdddca,#cf5246,#d05447,#fdddca,#9fcce2,#4393c3,#93c5de,#f9efea,#f4a683,#f4a481,#fbe5d8,#d7e8f1,#b8d8e9,#d6e7f1,#f8f4f2,#fbe3d6,#fbe5d8,#f8f2ee,#eef3f5,#eaf1f5,#f0f4f6,#f7f6f6,#f8f3f1,#f8f4f2,#f7f6f6,#f6f6f7,#f5f6f7,#f7f7f7 76.5px)"></i><i style="background:linear-gradient(90deg,#f7f7f7 10.5px,#f6f6f7,#f6f6f7,#f7f6f6,#f8f4f2,#f8f4f1,#f7f6f5,#f1f4f6,#ebf1f5,#eef3f5,#f8f3f0,#fbe6da,#fbe4d6,#f8f3f1,#d8e9f1,#bad9e9,#d6e7f1,#fae7dc,#f5a987,#f4a684,#f9ede5,#9bcae1,#4896c5,#9ccae1,#fce1d1,#d65f4d,#d15548,#fdd8c3,#9fcce2,#3580b9,#559ec9,#e9f1f4,#ed9475,#c7423f,#e7866a,#f4f6f6,#63a7ce,#337eb8,#8fc3dd,#fce2d2,#d55e4c,#d15648,#fcd8c3,#aad1e5,#4997c5,#8fc3dd,#f8f3f0,#f5ab8a,#f4a481,#fbe3d4,#dae9f2,#bad9e9,#d5e7f1,#f7f6f5,#fbe4d7,#fbe5d8,#f8f1ed,#eff3f6,#ebf1f5,#f0f4f6,#f7f6f6,#f8f4f1,#f8f4f2,#f7f6f6,#f6f6f7,#f5f6f7,#f7f7f7 76.5px)"></i><i style="background:linear-gradient(90deg,#f7f7f7 10.5px,#f6f6f7,#f6f6f7,#f7f6f6,#f8f4f2,#f8f4f1,#f7f6f6,#f0f4f6,#ebf1f5,#eff3f5,#f8f2ee,#fbe6da,#fbe4d7,#f7f5f3,#d7e8f1,#bcdaea,#d9e9f1,#fbe5d8,#f5a987,#f5ab8a,#f8f0ec,#97c8e0,#4e9ac7,#a7cfe4,#fcdecc,#d7614e,#d7614e,#fcdecd,#9dcbe1,#3a87bd,#64a8ce,#ecf2f5,#f09b7b,#ce5046,#ea8f71,#f6f7f7,#72b1d3,#3985bc,#8ec3dd,#fbe6da,#db6b55,#d35a4a,#fbd2bb,#b5d7e8,#509bc7,#8bc1dc,#f7f6f6,#f6b191,#f4a582,#fce1d0,#ddebf2,#bcdaea,#d4e6f1,#f7f7f7,#fbe5d9,#fbe5d8,#f8f1ec,#f0f4f6,#ebf1f5,#f0f4f6,#f7f7f6,#f8f4f1,#f8f4f2,#f7f6f6,#f6f7f7,#f6f6f7,#f7f7f7 76.5px)"></i><i style="background:linear-gradient(90deg,#f7f7f7 10.5px,#f6f6f7,#f6f7f7,#f7f6f6,#f8f4f2,#f8f4f2,#f7f6f6,#f0f4f6,#ebf1f5,#f0f3f6,#f8f1ed,#fbe6d9,#fbe5d9,#f7f6f5,#d6e7f1,#bedbea,#dceaf2,#fbe3d5,#f5a987,#f6b191,#f8f4f2,#94c6df,#559ec9,#b1d5e7,#fddac5,#d86450,#dc6e57,#fbe3d5,#9ccae1,#3f8dc0,#74b2d4,#eff3f6,#f3a380,#d65f4d,#ee9777,#f7f6f5,#82bbd8,#3e8dc0,#8ec2dd,#faebe2,#e0775f,#d55e4c,#fbccb4,#bfdceb,#58a0ca,#88bfdb,#f3f5f6,#f7b698,#f4a683,#fcdfcd,#e0ecf3,#bedbeb,#d3e6f0,#f5f6f7,#fbe6da,#fbe5d8,#f8f0eb,#f1f4f6,#ebf1f5,#eff3f6,#f7f7f7,#f8f4f2,#f8f4f2,#f7f6f5,#f6f7f7,#f6f6f7,#f7f7f7 76.5px)"></i><i style="background:linear-gradient(90deg,#f7f7f7 10.5px,#f6f6f7,#f6f7f7,#f7f6f6,#f8f4f2,#f8f4f2,#f7f7f6,#f0f4f6,#ebf2f5,#f0f4f6,#f8f1ec,#fbe6da,#fbe6da,#f6f7f7,#d5e7f1,#c0dceb,#dfecf3,#fce1d1,#f5a988,#f7b698,#f6f7f7,#91c5de,#5ca3cc,#bcdaea,#fcd4be,#d96753,#e17a61,#fae8dd,#9bc9e0,#4695c4,#84bcd9,#f2f5f6,#f5aa88,#dc6e58,#f2a07e,#f8f4f2,#91c5de,#4594c4,#8ec2dd,#f9efe9,#e68469,#d7624f,#fac7ad,#cae1ee,#60a5cd,#86bdda,#eef3f5,#f8bca0,#f4a784,#fdddca,#e4eef3,#c1ddeb,#d3e6f0,#f3f5f6,#fae7dc,#fbe5d8,#f9f0ea,#f2f4f6,#ebf2f5,#eff3f6,#f6f7f7,#f8f4f2,#f8f4f2,#f7f6f5,#f6f7f7,#f6f6f7,#f7f7f7 76.5px)"></i><i style="background:linear-gradient(90deg,#f7f7f7 10.5px,#f6f6f7,#f6f7f7,#f7f6f5,#f8f4f2,#f8f4f2,#f7f7f7,#f0f4f6,#ecf2f5,#f1f4f6,#f8f0eb,#fbe6da,#fae7dc,#f5f6f7,#d5e7f1,#c2deec,#e2edf3,#fcdfce,#f5aa89,#f8bc9f,#f2f5f6,#8fc3dd,#64a8ce,#c6e0ed,#fbceb7,#db6b56,#e7876b,#f9ede5,#9ac9e0,#539dc8,#94c6df,#f5f6f7,#f6b090,#e27d63,#f5a886,#f8f2ef,#9ecbe1,#539dc9,#8fc3dd,#f8f3f1,#eb9173,#d96753,#f9c2a7,#d3e6f0,#69abd0,#84bcd9,#eaf1f5,#f9c2a8,#f5a886,#fddbc7,#e7eff4,#c4deec,#d2e6f0,#f1f4f6,#fae8de,#fbe5d9,#f9efe9,#f2f5f6,#ecf2f5,#eff3f6,#f6f7f7,#f8f4f2,#f8f4f2,#f7f6f5,#f6f7f7,#f6f6f7,#f7f7f7 76.5px)"></i><i style="background:linear-gradient(90deg,#f7f7f7 10.5px,#f6f6f7,#f6f7f7,#f7f6f5,#f8f4f2,#f8f4f2,#f6f7f7,#f0f3f6,#ecf2f5,#f2f5f6,#f9f0eb,#fbe6da,#fae8de,#f3f5f6,#d4e6f1,#c5dfed,#e5eff4,#fcdecb,#f5ac8b,#f9c2a7,#edf2f5,#8dc2dc,#6cadd1,#d1e5f0,#fac9b0,#dd7059,#ec9374,#f8f1ed,#9ac9e0,#60a5cd,#a1cce2,#f7f6f6,#f7b698,#e98b6e,#f6b090,#f8f1ed,#aad1e5,#61a6cd,#90c4dd,#f6f7f7,#f19e7d,#dc6d57,#f8bea1,#d9e9f2,#72b1d3,#83bbd9,#e6eff4,#fac8af,#f5aa88,#fdd9c4,#eaf1f5,#c6e0ed,#d2e5f0,#f0f4f6,#fae9e0,#fbe6d9,#f9efe9,#f3f5f6,#ecf2f5,#eff3f6,#f6f6f7,#f8f4f3,#f8f4f2,#f7f6f5,#f6f7f7,#f6f6f7,#f7f7f7 76.5px)"></i><i style="background:linear-gradient(90deg,#f7f7f7 10.5px,#f6f6f7,#f6f7f7,#f7f6f5,#f8f4f2,#f8f4f3,#f6f7f7,#eff3f6,#ecf2f5,#f3f5f6,#f9efea,#fbe6da,#fae9df,#f1f4f6,#d4e6f0,#c8e0ed,#e8f0f4,#fddcc9,#f5ad8d,#fac8ae,#e9f0f4,#8bc1dc,#75b3d4,#d7e8f1,#f9c4aa,#df755d,#f2a07e,#f7f6f4,#9ac9e0,#6daed1,#add3e6,#f8f4f2,#f8bda0,#ef9a7a,#f7b799,#f9efea,#b7d8e9,#70afd2,#92c5de,#f1f4f6,#f5aa88,#de735b,#f7ba9c,#e0ecf3,#7bb7d6,#83bbd9,#e2edf3,#fbcfb7,#f5ac8b,#fcd6c1,#edf2f5,#cae1ee,#d1e5f0,#eef3f5,#faeae1,#fbe6da,#f9eee8,#f4f6f6,#edf2f5,#eff3f6,#f5f6f7,#f8f5f3,#f8f4f2,#f7f6f5,#f6f7f7,#f6f6f7,#f7f7f7 76.5px)"></i><i style="background:linear-gradient(90deg,#f7f7f7 10.5px,#f6f6f7,#f6f7f7,#f7f6f5,#f8f4f2,#f8f5f3,#f6f6f7,#eff3f6,#edf2f5,#f3f5f6,#f9efe9,#fbe6db,#faeae1,#f0f4f6,#d3e6f0,#cbe2ee,#ebf1f5,#fddac6,#f6af8f,#fbcdb6,#e5eef4,#8ac0db,#7eb8d7,#ddebf2,#f9c0a5,#e17a61,#f5ab8a,#f3f5f6,#9bcae1,#7bb6d6,#bad9e9,#f8f2ef,#f9c3a9,#f5a886,#f8bfa3,#f9eee8,#c3deec,#7eb8d7,#94c6df,#ebf1f5,#f7b495,#e17960,#f7b698,#e6eff4,#85bdda,#83bbd9,#deebf2,#fcd5bf,#f6ae8e,#fcd4be,#f0f4f6,#cde3ef,#d1e5f0,#edf2f5,#f9ebe3,#fbe6da,#f9eee7,#f5f6f7,#edf2f5,#eff3f5,#f5f6f7,#f7f5f3,#f8f4f2,#f7f6f5,#f6f7f7,#f6f6f7,#f7f7f7 76.5px)"></i><i style="background:linear-gradient(90deg,#f7f7f7 12.5px,#f7f6f5,#f8f4f3,#f7f5f3,#f6f6f7,#eff3f6,#edf2f5,#f4f6f6,#f9efe8,#fae7db,#faebe3,#eef3f5,#d3e6f0,#cee3ef,#eef3f5,#fdd8c3,#f6b192,#fcd3bd,#e1edf3,#8ac0db,#87beda,#e3eef3,#f8bca0,#e48065,#f7b597,#eef3f5,#9ccae1,#88bfdb,#c7e0ed,#f8f0ec,#facab1,#f6b495,#fac6ac,#f9ede5,#cfe4ef,#8cc1dc,#96c7df,#e6eff4,#f8bea3,#e48066,#f6b394,#ebf2f5,#8fc3dd,#84bcd9,#dae9f2,#fddbc7,#f6b191,#fbd2bb,#f3f5f6,#d0e5f0,#d1e5f0,#ebf1f5,#f9ede5,#fbe7db,#f9ede7,#f5f6f7,#edf2f5,#eff3f5,#f5f6f7,#f7f5f4,#f8f4f2,#f7f6f5,#f7f7f7 74.5px)"></i><i style="background:linear-gradient(90deg,#f7f7f7 12.5px,#f7f6f5,#f8f4f3,#f7f5f4,#f5f6f7,#eff3f6,#eef3f5,#f5f6f7,#f9eee8,#fae7dc,#f9ece5,#edf2f5,#d3e6f0,#d1e5f0,#f1f4f6,#fcd6c1,#f6b495,#fdd9c5,#deebf2,#8bc0db,#91c4de,#e9f0f4,#f7b99b,#e6866a,#f8bfa4,#e8f0f4,#9dcbe1,#95c7df,#d2e6f0,#f9efe9,#fbd1ba,#f8bfa4,#fbcdb6,#f9ece3,#d7e8f1,#99c9e0,#99c8e0,#e1edf3,#fac9af,#e7876b,#f6b090,#f1f4f6,#98c8e0,#85bdda,#d7e8f1,#fcdecc,#f6b495,#fbd0b9,#f5f6f7,#d3e6f0,#d1e5f0,#eaf1f5,#f9eee7,#fae7db,#f9ede6,#f6f7f7,#eef3f5,#eff3f5,#f5f6f7,#f7f5f4,#f8f4f2,#f7f6f5,#f7f7f7 74.5px)"></i><i style="background:linear-gradient(90deg,#f7f7f7 12.5px,#f7f6f5,#f8f4f3,#f7f5f4,#f5f6f7,#eff3f6,#eef3f5,#f6f6f7,#f9eee7,#fae7dc,#f9ede6,#ecf2f5,#d3e6f0,#d3e6f0,#f4f5f6,#fcd4be,#f7b698,#fdddcb,#dae9f2,#8cc1dc,#99c8e0,#eff3f5,#f7b697,#e98c6f,#fac9b0,#e3eef3,#9fcce2,#a0cce2,#d9e9f2,#f9ede6,#fcd7c2,#facbb2,#fcd5bf,#faeae1,#deebf2,#a5cee3,#9bcae1,#ddebf2,#fcd3bc,#ea8f71,#f6ae8e,#f6f7f7,#a0cce2,#87beda,#d4e6f0,#fce1d1,#f7b799,#fbcfb7,#f7f6f6,#d5e7f1,#d2e5f0,#e9f0f4,#f9efe9,#fae7dc,#f9ede6,#f7f7f7,#eef3f5,#eff3f6,#f4f6f7,#f7f5f4,#f8f4f3,#f7f6f5,#f7f7f7 74.5px)"></i><i style="background:linear-gradient(90deg,#f7f7f7 12.5px,#f7f6f5,#f8f5f3,#f7f5f4,#f5f6f7,#eff3f6,#eff3f5,#f6f7f7,#f9eee7,#fae8dd,#f9eee8,#eaf1f5,#d3e6f0,#d5e7f1,#f6f7f7,#fcd3bd,#f7b99c,#fce0d0,#d7e8f1,#8dc2dc,#a0cce2,#f4f6f6,#f6b394,#ec9374,#fcd3bd,#dfebf3,#a1cde2,#abd2e5,#e0ecf3,#f9ece3,#fddcc9,#fcd6c0,#fddcc8,#fae9e0,#e5eef4,#b0d4e7,#9fcbe2,#d9e9f1,#fddcc8,#ee9677,#f5ac8b,#f8f3f1,#a8d0e4,#89bfdb,#d1e5f0,#fbe4d7,#f8ba9d,#fbceb6,#f8f4f2,#d7e8f1,#d2e6f0,#e8f0f4,#f9f0ea,#fae8dd,#f9ede5,#f7f6f6,#eff3f6,#eff3f6,#f4f6f6,#f7f6f5,#f8f5f3,#f7f6f4,#f7f7f7 74.5px)"></i><i style="background:linear-gradient(90deg,#f7f7f7 12.5px,#f7f6f5,#f8f5f3,#f7f5f4,#f5f6f7,#eff3f6,#eff3f6,#f7f7f6,#f9ede7,#fae8de,#f9efea,#e9f0f4,#d4e6f0,#d7e8f1,#f7f6f5,#fbd2bb,#f8bc9f,#fbe3d5,#d4e6f1,#8fc3dd,#a8d0e4,#f7f5f4,#f6b191,#ef9a7a,#fddcc8,#dae9f2,#a4cee3,#b6d7e8,#e7f0f4,#faeae1,#fce0cf,#fcdecc,#fcdfce,#fae8de,#ebf1f5,#bbdaea,#a2cde3,#d5e7f1,#fce1d1,#f19e7d,#f5ab8a,#f9f0ea,#b0d4e7,#8cc1dc,#cce3ef,#fae7dc,#f8bea1,#fbcdb5,#f8f2ef,#d9e9f1,#d3e6f0,#e7eff4,#f8f1ec,#fae8de,#f9ede5,#f7f6f6,#eff3f6,#eff3f6,#f4f6f6,#f7f6f5,#f8f5f3,#f7f6f4,#f7f7f7 74.5px)"></i><i style="background:linear-gradient(90deg,#f7f7f7 12.5px,#f7f6f5,#f7f5f3,#f7f6f5,#f4f6f7,#eff3f6,#eff3f6,#f7f6f6,#f9ede6,#fae9df,#f8f0eb,#e8f0f4,#d4e6f1,#d9e9f1,#f8f4f2,#fbd1ba,#f8bfa3,#fbe6da,#d1e5f0,#91c5de,#b0d4e7,#f8f2ee,#f6af8f,#f3a27f,#fce1d1,#d6e7f1,#a6cfe4,#c1ddeb,#eef3f5,#fae9df,#fbe3d5,#fbe3d5,#fbe3d5,#fae8dd,#f2f4f6,#c7e0ed,#a6cfe4,#d1e5f0,#fbe6d9,#f4a683,#f5aa88,#f9ece4,#b8d9e9,#8fc3dd,#c8e1ee,#faeae1,#f9c1a6,#fbccb4,#f8f1ec,#dbeaf2,#d3e6f0,#e6eff4,#f8f2ee,#fae9df,#f9ece5,#f7f6f5,#f0f4f6,#eff3f6,#f4f5f6,#f7f6f5,#f7f5f3,#f7f5f4,#f7f7f7 74.5px)"></i><i style="background:linear-gradient(90deg,#f7f7f7 12.5px,#f7f6f5,#f7f5f3,#f7f6f5,#f4f6f6,#f0f3f6,#f0f4f6,#f7f6f5,#f9ede6,#fae9e0,#f8f1ed,#e7f0f4,#d5e7f1,#dbeaf2,#f8f2ef,#fbd0b9,#f9c2a8,#fae9df,#cee3ef,#94c6df,#b8d8e9,#f9eee8,#f6ae8e,#f5a886,#fbe5d9,#d2e6f0,#a9d1e5,#cbe2ee,#f4f6f6,#fae8dd,#fbe6da,#fae9de,#fbe6db,#fae7db,#f7f6f6,#d1e5f0,#a9d1e5,#cbe2ee,#faeae1,#f5ac8b,#f5a988,#fae9df,#c1ddeb,#93c5de,#c5dfed,#f9ede6,#f9c5aa,#fbccb4,#f9efea,#ddebf2,#d4e6f1,#e5eef4,#f8f3f0,#faeae0,#f9ece5,#f7f5f4,#f0f4f6,#eff3f6,#f4f5f6,#f7f6f5,#f7f5f3,#f7f5f4,#f7f7f7 74.5px)"></i><i style="background:linear-gradient(90deg,#f7f7f7 12.5px,#f7f6f5,#f7f5f3,#f7f6f5,#f4f6f6,#f0f4f6,#f0f4f6,#f7f6f5,#f9ede6,#faeae0,#f8f2ef,#e7eff4,#d5e7f1,#ddebf2,#f8f1ec,#fbd0b8,#f9c6ac,#f9ece3,#cae2ee,#96c7df,#c0dceb,#faebe2,#f5ad8c,#f5ae8d,#faeae1,#cde3ef,#acd2e5,#d4e6f0,#f8f5f3,#fbe6db,#fae9df,#f9eee7,#faeae0,#fbe6da,#f8f2ef,#d8e8f1,#add3e6,#c6dfed,#f9efe9,#f6b394,#f5a987,#fbe6d9,#c9e1ee,#96c7df,#c2ddec,#f9f0ea,#fac8af,#faccb4,#f9eee7,#dfecf3,#d5e7f1,#e4eef4,#f8f4f1,#faeae1,#f9ece5,#f7f5f3,#f1f4f6,#eff3f6,#f3f5f6,#f7f6f6,#f7f5f3,#f7f5f4,#f7f7f7 74.5px)"></i><i style="background:linear-gradient(90deg,#f7f7f7 12.5px,#f7f6f5,#f7f5f3,#f7f6f6,#f4f5f6,#f0f4f6,#f1f4f6,#f7f5f4,#f9ede6,#faeae1,#f8f3f0,#e6eff4,#d6e7f1,#dfecf3,#f9efea,#fbcfb8,#fac9b0,#f9eee8,#c7e0ed,#99c9e0,#c7e0ed,#fae8dd,#f5ad8c,#f6b495,#f9eee8,#c8e0ed,#afd4e6,#dae9f2,#f8f0ec,#fbe5d9,#f9ece4,#f8f3ef,#f9ede6,#fbe6d9,#f9eee8,#deebf2,#b1d5e7,#c1ddec,#f8f3f0,#f7b99c,#f5a988,#fbe3d4,#d0e5f0,#9ac9e0,#bfdceb,#f8f2ef,#fbccb4,#fbccb4,#f9ece5,#e2edf3,#d5e7f1,#e4eef3,#f8f4f3,#faebe2,#f9ece5,#f8f4f3,#f1f4f6,#f0f3f6,#f3f5f6,#f7f6f6,#f7f5f3,#f7f5f4,#f7f7f7 74.5px)"></i><i style="background:linear-gradient(90deg,#f7f7f7 12.5px,#f7f6f5,#f7f5f4,#f7f6f6,#f4f5f6,#f0f4f6,#f1f4f6,#f7f5f4,#f9ede6,#faebe2,#f8f4f2,#e5eff4,#d7e8f1,#e1edf3,#f9eee7,#fbcfb8,#fbcdb5,#f8f1ec,#c4dfec,#9ccae1,#cfe4ef,#fbe5d8,#f5ac8c,#f7ba9d,#f8f2ef,#c3deec,#b3d6e7,#dfecf3,#f9ede5,#fbe5d7,#f9efe9,#f7f7f7,#f8f0eb,#fbe5d8,#faebe2,#e4eef3,#b6d7e8,#bddbea,#f7f7f6,#f8c0a4,#f5aa88,#fce0d0,#d5e7f1,#9dcbe1,#bddbea,#f7f5f3,#fbd0b9,#fbcdb5,#faebe2,#e4eef3,#d6e8f1,#e3eef3,#f7f5f4,#faebe3,#f9ece5,#f8f4f2,#f2f5f6,#f0f4f6,#f3f5f6,#f7f6f6,#f7f5f4,#f7f5f4,#f7f7f7 74.5px)"></i><i style="background:linear-gradient(90deg,#f7f7f7 12.5px,#f7f6f5,#f7f5f4,#f7f6f6,#f4f5f6,#f0f4f6,#f2f5f6,#f8f5f3,#f9ede6,#f9ece3,#f7f5f3,#e5eef4,#d8e8f1,#e3eef3,#f9ede5,#fbd0b9,#fbd0b9,#f8f3f0,#c2ddec,#a0cce2,#d4e6f1,#fbe2d3,#f5ad8c,#f8c0a4,#f7f6f6,#bedceb,#b6d7e8,#e5eef4,#fae9df,#fbe4d6,#f8f2ee,#f1f4f6,#f8f3f1,#fbe5d8,#fae7dc,#e9f0f4,#bad9e9,#bad9e9,#f2f5f6,#f9c6ac,#f5ab89,#fcdecc,#dae9f2,#a1cde2,#bbdaea,#f7f7f6,#fcd4be,#fbcdb5,#faeae0,#e6eff4,#d7e8f1,#e3edf3,#f7f6f5,#f9ece4,#f9ede5,#f8f4f2,#f2f5f6,#f0f4f6,#f3f5f6,#f7f6f6,#f7f5f4,#f7f5f4,#f7f7f7 74.5px)"></i><i style="background:linear-gradient(90deg,#f7f7f7 12.5px,#f7f6f5,#f7f5f4,#f7f6f6,#f3f5f6,#f0f4f6,#f2f5f6,#f8f4f2,#f9ede6,#f9ece4,#f7f5f4,#e4eef4,#d8e9f1,#e5eef4,#f9ebe3,#fbd0b9,#fcd4be,#f7f5f4,#c0dceb,#a3cee3,#d8e8f1,#fce0cf,#f5ad8d,#f9c6ac,#f3f5f6,#bbdaea,#bad9e9,#eaf1f5,#fbe5d9,#fbe3d5,#f8f4f2,#ebf2f5,#f7f6f5,#fbe4d7,#fbe4d6,#eff3f5,#bedceb,#b7d8e8,#edf2f5,#fbccb4,#f5ac8b,#fddcc8,#deebf2,#a5cfe4,#bad9e9,#f4f6f6,#fcd8c3,#fbceb6,#fae9df,#e8f0f4,#d8e9f1,#e2edf3,#f7f7f6,#f9ede5,#f9ede5,#f8f4f1,#f3f5f6,#f0f4f6,#f3f5f6,#f7f7f6,#f7f5f4,#f7f5f4,#f7f7f7 74.5px)"></i><i style="background:linear-gradient(90deg,#f7f7f7 12.5px,#f7f6f5,#f7f5f4,#f7f6f6,#f3f5f6,#f0f4f6,#f3f5f6,#f8f4f2,#f9ede6,#f9ede5,#f7f6f6,#e4eef3,#d9e9f2,#e7eff4,#faeae1,#fbd1ba,#fcd8c3,#f6f7f7,#bfdceb,#a7d0e4,#dceaf2,#fcdecb,#f6ae8e,#facbb3,#eef3f5,#b7d8e9,#bedbea,#eff3f6,#fbe2d3,#fbe3d4,#f7f7f6,#e6eff4,#f5f6f7,#fbe4d7,#fce1d1,#f4f5f6,#c3deec,#b4d6e8,#e8f0f4,#fcd2bc,#f5ad8d,#fdd8c3,#e2edf3,#a9d1e5,#b9d9e9,#f1f4f6,#fddbc7,#fbcfb8,#fae8dd,#eaf1f5,#dae9f2,#e2edf3,#f6f7f7,#f9ede6,#f9ede6,#f8f3f1,#f3f5f6,#f0f4f6,#f3f5f6,#f7f7f6,#f7f5f4,#f7f6f4,#f7f7f7 74.5px)"></i><i style="background:linear-gradient(90deg,#f7f7f7 12.5px,#f7f6f5,#f7f5f4,#f7f7f6,#f3f5f6,#f1f4f6,#f3f5f6,#f8f4f1,#f9ede6,#f9ede6,#f7f7f6,#e4eef3,#dae9f2,#e9f0f4,#fae9e0,#fbd2bb,#fddbc7,#f4f5f6,#bddbea,#abd2e5,#e0ecf3,#fddcc8,#f6af8f,#fbd1ba,#eaf1f5,#b5d7e8,#c1ddec,#f4f5f6,#fcdfce,#fbe2d3,#f4f6f6,#e1edf3,#f1f4f6,#fbe4d6,#fcdecc,#f7f6f5,#c7e0ed,#b2d5e7,#e4eef4,#fdd8c3,#f6af8f,#fcd5bf,#e6eff4,#aed3e6,#b8d8e9,#eef3f5,#fdddcb,#fbd0b9,#fae7dc,#ebf2f5,#dbeaf2,#e2edf3,#f5f6f7,#f9eee7,#f9ede6,#f8f3f0,#f4f5f6,#f1f4f6,#f3f5f6,#f7f7f7,#f7f5f4,#f7f6f4,#f7f7f7 74.5px)"></i><i style="background:linear-gradient(90deg,#f7f7f7 12.5px,#f7f6f5,#f7f5f4,#f7f7f6,#f3f5f6,#f1f4f6,#f4f5f6,#f8f4f1,#f9eee7,#f9eee7,#f6f7f7,#e3eef3,#dbeaf2,#eaf1f5,#fae9de,#fcd3bd,#fdddca,#f1f4f6,#bddbea,#afd4e6,#e4eef4,#fdd9c4,#f6b191,#fcd7c1,#e6eff4,#b2d5e7,#c5dfed,#f7f6f5,#fdddca,#fce2d3,#f1f4f6,#ddebf2,#eef3f5,#fbe4d6,#fddcc8,#f8f3ef,#cbe2ee,#b0d4e7,#e0ecf3,#fdddca,#f6b191,#fbd2bb,#eaf1f5,#b2d5e7,#b8d8e9,#ecf2f5,#fcdfce,#fbd2bb,#fbe6da,#edf2f5,#dceaf2,#e2edf3,#f4f6f7,#f9eee8,#f9ede6,#f8f3f0,#f4f6f6,#f1f4f6,#f3f5f6,#f7f7f7,#f7f6f4,#f7f6f5,#f7f7f7 74.5px)"></i><i style="background:linear-gradient(90deg,#f7f7f7 12.5px,#f7f6f5,#f7f6f5,#f7f7f7,#f3f5f6,#f1f4f6,#f4f6f6,#f8f3f1,#f9eee7,#f9eee8,#f5f6f7,#e3eef3,#dceaf2,#ecf2f5,#fae8dd,#fcd4be,#fcdfcd,#eef3f5,#bcdaea,#b3d6e7,#e8f0f4,#fcd6c0,#f6b293,#fddcc8,#e2edf3,#b0d4e7,#c9e1ee,#f8f3f0,#fdd9c5,#fce2d2,#eff3f5,#d9e9f1,#ebf1f5,#fbe4d6,#fcd8c3,#f9efea,#d0e4f0,#afd4e6,#dceaf2,#fcdfcf,#f6b394,#fbcfb8,#eef3f5,#b7d8e8,#b8d8e9,#eaf1f5,#fce1d1,#fcd3bd,#fbe6d9,#eff3f6,#ddebf2,#e2edf3,#f4f5f6,#f9efe9,#f9ede7,#f8f3f0,#f5f6f7,#f1f4f6,#f3f5f6,#f6f7f7,#f7f6f5,#f7f6f5,#f7f7f7 74.5px)"></i><i style="background:linear-gradient(90deg,#f7f7f7 12.5px,#f7f6f5,#f7f6f5,#f7f7f7,#f3f5f6,#f1f4f6,#f4f6f7,#f8f3f0,#f9eee7,#f9efe9,#f5f6f7,#e3eef3,#deebf2,#eef3f5,#fae7dc,#fcd5c0,#fce1d1,#ecf2f5,#bcdaea,#b7d8e9,#ebf2f5,#fcd3bd,#f7b495,#fcdecd,#deebf2,#afd4e6,#cde3ef,#f8f0eb,#fcd5bf,#fce1d2,#ecf2f5,#d5e7f1,#e8f0f4,#fbe4d6,#fcd4be,#f9ede5,#d3e6f0,#aed3e6,#d9e9f1,#fbe2d3,#f7b597,#fbcdb5,#f1f4f6,#bbdaea,#b8d8e9,#e8f0f4,#fbe3d4,#fcd5bf,#fbe5d8,#f1f4f6,#deebf2,#e2edf3,#f3f5f6,#f9f0ea,#f9eee7,#f8f3ef,#f5f6f7,#f1f4f6,#f3f5f6,#f6f7f7,#f7f6f5,#f7f6f5,#f7f7f7 74.5px)"></i><i style="background:linear-gradient(90deg,#f7f7f7 12.5px,#f7f6f5,#f7f6f5,#f6f7f7,#f3f5f6,#f2f4f6,#f5f6f7,#f8f3f0,#f9eee8,#f9f0ea,#f4f5f6,#e3eef3,#dfebf3,#eff3f6,#fbe7db,#fcd7c2,#fbe2d4,#eaf1f5,#bcdaea,#bbdaea,#eff3f5,#fbd1ba,#f7b698,#fce1d1,#dbeaf2,#aed3e6,#d1e5f0,#f9ede7,#fbd1bb,#fce1d2,#eaf1f5,#d2e5f0,#e6eff4,#fbe4d6,#fbd0b9,#faeae1,#d5e7f1,#add3e6,#d6e7f1,#fbe5d8,#f7b89a,#facbb2,#f4f6f7,#bfdceb,#b8d9e9,#e6eff4,#fbe5d8,#fcd6c1,#fbe5d7,#f2f5f6,#dfecf3,#e2edf3,#f2f5f6,#f8f0eb,#f9eee7,#f8f2ef,#f5f6f7,#f2f4f6,#f3f5f6,#f6f7f7,#f7f6f5,#f7f6f5,#f7f7f7 74.5px)"></i><i style="background:linear-gradient(90deg,#f7f7f7 12.5px,#f7f6f5,#f7f6f5,#f6f7f7,#f3f5f6,#f2f5f6,#f5f6f7,#f8f3f0,#f9eee8,#f8f0eb,#f3f5f6,#e3eef3,#e0ecf3,#f1f4f6,#fbe6da,#fdd8c4,#fbe4d6,#e8f0f4,#bcdbea,#bfdceb,#f2f5f6,#fbcfb7,#f7b89b,#fbe3d5,#d8e8f1,#add3e6,#d3e6f0,#faebe2,#fbceb7,#fce1d2,#e8f0f4,#cde3ef,#e3eef3,#fbe4d7,#fbcdb6,#fae7dc,#d8e8f1,#add3e6,#d3e6f0,#fae8dc,#f8ba9d,#fac9b1,#f7f7f6,#c4deec,#b9d9e9,#e4eef3,#fbe6da,#fdd8c3,#fbe4d7,#f4f5f6,#e1ecf3,#e2edf3,#f1f4f6,#f8f1ec,#f9eee8,#f8f2ef,#f6f6f7,#f2f5f6,#f3f5f6,#f6f7f7,#f7f6f5,#f7f6f5,#f7f7f7 74.5px)"></i><i style="background:linear-gradient(90deg,#f7f7f7 12.5px,#f7f6f5,#f7f6f5,#f6f7f7,#f3f5f6,#f2f5f6,#f5f6f7,#f8f3f0,#f9efe9,#f8f1ec,#f3f5f6,#e4eef3,#e1edf3,#f2f5f6,#fbe6da,#fddac6,#fbe6d9,#e7eff4,#bddbea,#c3deec,#f5f6f7,#fbcdb5,#f8bb9e,#fbe6da,#d6e7f1,#add3e6,#d5e7f1,#fae9df,#facbb3,#fce1d2,#e6eff4,#c8e1ee,#e1edf3,#fbe4d7,#facbb2,#fbe5d9,#dae9f2,#aed3e6,#d1e5f0,#faeae1,#f8bda1,#fac8af,#f8f5f3,#c8e1ee,#bad9ea,#e2edf3,#fae8dd,#fddac6,#fbe4d6,#f5f6f7,#e2edf3,#e3edf3,#f1f4f6,#f8f1ed,#f9eee8,#f8f2ef,#f6f7f7,#f2f5f6,#f3f5f6,#f6f7f7,#f7f6f5,#f7f6f5,#f7f7f7 74.5px)"></i><i style="background:linear-gradient(90deg,#f7f7f7 12.5px,#f7f6f5,#f7f6f5,#f6f7f7,#f3f5f6,#f2f5f6,#f6f6f7,#f8f3f0,#f9efe9,#f8f1ed,#f2f5f6,#e4eef3,#e2edf3,#f4f5f6,#fbe6d9,#fddbc8,#fae7dc,#e5eff4,#bedbeb,#c8e0ed,#f7f7f6,#fbccb4,#f8bda1,#fae8de,#d3e6f0,#add3e6,#d8e8f1,#fae7db,#fac9b0,#fce1d2,#e4eef3,#c5dfec,#dfecf3,#fbe5d8,#fac9b0,#fbe3d5,#ddebf2,#aed3e6,#cee3ef,#f9ece5,#f8c0a4,#fac7ae,#f8f3f0,#cde3ef,#bcdaea,#e1edf3,#faeae0,#fddbc8,#fbe4d6,#f6f7f7,#e3edf3,#e3edf3,#f0f4f6,#f8f2ee,#f9efe9,#f8f2ef,#f6f7f7,#f2f5f6,#f3f5f6,#f6f7f7,#f7f6f5,#f7f6f5,#f7f7f7 74.5px)"></i><i style="background:linear-gradient(90deg,#f7f7f7 12.5px,#f7f6f5,#f7f6f5,#f6f7f7,#f3f5f6,#f3f5f6,#f6f7f7,#f8f3f0,#f9efe9,#f8f2ee,#f2f4f6,#e4eef4,#e3eef3,#f5f6f7,#fbe5d9,#fddcc9,#fae9df,#e4eef3,#bfdceb,#cce2ee,#f7f5f3,#facbb3,#f8c0a4,#faeae1,#d1e5f0,#aed3e6,#dae9f2,#fbe5d8,#fac7ad,#fce2d2,#e2edf3,#c1ddeb,#deebf2,#fbe5d8,#fac7ae,#fce1d2,#dfecf3,#afd4e6,#cbe2ee,#f9eee8,#f9c3a8,#fac7ad,#f8f1ed,#d1e5f0,#bddbea,#e0ecf3,#faebe3,#fddcc9,#fbe4d6,#f7f6f6,#e4eef4,#e3eef3,#f0f4f6,#f8f2ef,#f9efe9,#f8f2ef,#f6f7f7,#f3f5f6,#f3f5f6,#f6f6f7,#f7f6f6,#f7f6f5,#f7f7f7 74.5px)"></i><i style="background:linear-gradient(90deg,#f7f7f7 12.5px,#f7f6f5,#f7f6f6,#f6f7f7,#f3f5f6,#f3f5f6,#f6f7f7,#f8f3ef,#f9efea,#f8f2ef,#f1f4f6,#e4eef4,#e4eef4,#f6f7f7,#fbe5d9,#fdddcb,#faeae1,#e3edf3,#c0ddeb,#d0e4f0,#f8f3f0,#facbb2,#f9c3a8,#f9ece5,#cfe4ef,#aed3e6,#dceaf2,#fbe3d5,#f9c5ab,#fce2d3,#e1edf3,#bedceb,#dceaf2,#fbe5d9,#f9c6ac,#fce0cf,#e1edf3,#b0d4e7,#c8e0ed,#f8f1ec,#f9c6ac,#fac7ad,#f9efea,#d3e6f0,#bfdceb,#dfecf3,#f9ede5,#fcddcb,#fbe4d6,#f7f6f5,#e5eff4,#e4eef3,#f0f3f6,#f8f3f0,#f9efea,#f8f2ef,#f7f7f7,#f3f5f6,#f3f5f6,#f6f6f7,#f7f6f6,#f7f6f5,#f7f7f7 74.5px)"></i><i style="background:linear-gradient(90deg,#f7f7f7 12.5px,#f7f6f5,#f7f6f6,#f6f7f7,#f3f5f6,#f3f5f6,#f6f7f7,#f8f3ef,#f9f0ea,#f8f3ef,#f1f4f6,#e5eef4,#e5eff4,#f7f7f6,#fbe5d8,#fcdecc,#f9ece4,#e2edf3,#c2ddec,#d3e6f0,#f8f2ee,#facab2,#f9c5ab,#f9eee8,#cce3ef,#afd4e6,#deebf2,#fce2d3,#f9c4aa,#fbe2d3,#e0ecf3,#bcdaea,#dbeaf2,#fbe6d9,#f9c5aa,#fcdecd,#e3eef3,#b1d5e7,#c6dfed,#f8f2ef,#fac9b0,#fac7ad,#f9eee7,#d6e7f1,#c0ddeb,#deebf2,#f9eee8,#fcdecd,#fbe4d6,#f7f5f4,#e6eff4,#e4eef4,#eff3f6,#f8f3f1,#f9f0ea,#f8f2ef,#f7f7f6,#f3f5f6,#f3f5f6,#f6f6f7,#f7f6f6,#f7f6f5,#f7f7f7 74.5px)"></i><i style="background:linear-gradient(90deg,#f7f7f7 12.5px,#f7f6f5,#f7f6f6,#f6f7f7,#f4f5f6,#f3f5f6,#f7f7f7,#f8f3ef,#f9f0eb,#f8f3f0,#f0f4f6,#e5eff4,#e6eff4,#f7f6f6,#fbe5d8,#fcdfce,#f9ede6,#e1ecf3,#c3deec,#d5e7f1,#f8f0eb,#facab2,#fac8af,#f8f0eb,#cae2ee,#b1d5e7,#e0ecf3,#fce0d0,#f9c3a9,#fbe3d4,#dfebf3,#bad9e9,#dae9f2,#fbe6da,#f9c4aa,#fdddcb,#e5eff4,#b3d6e7,#c4deec,#f8f4f2,#faccb4,#fac7ad,#f9ede5,#d8e8f1,#c2deec,#ddebf2,#f9efea,#fce0cf,#fbe4d6,#f8f4f3,#e7f0f4,#e4eef4,#eff3f6,#f8f4f1,#f9f0eb,#f8f2ef,#f7f6f6,#f3f5f6,#f3f5f6,#f6f6f7,#f7f6f6,#f7f6f5,#f7f7f7 74.5px)"></i><i style="background:linear-gradient(90deg,#f7f7f7 12.5px,#f7f6f5,#f7f6f6,#f6f6f7,#f4f5f6,#f3f5f6,#f7f7f6,#f8f3ef,#f8f0eb,#f8f3f1,#f0f4f6,#e5eff4,#e7f0f4,#f7f6f4,#fbe5d8,#fce0d0,#f9eee8,#e0ecf3,#c5dfed,#d7e8f1,#f9efe9,#facab2,#facbb2,#f8f2ee,#c9e1ee,#b2d5e7,#e2edf3,#fcdfcf,#f9c3a8,#fbe3d5,#deebf2,#b8d9e9,#d9e9f2,#fbe7db,#f9c4a9,#fddcc9,#e7eff4,#b5d7e8,#c3deec,#f7f6f5,#fbcfb7,#fac7ae,#f9ebe3,#dae9f2,#c4dfec,#ddebf2,#f8f1ec,#fce1d0,#fbe4d6,#f8f4f2,#e8f0f4,#e5eef4,#eff3f5,#f8f4f2,#f8f0eb,#f8f2ef,#f7f6f6,#f4f5f6,#f3f5f6,#f6f6f7,#f7f6f6,#f7f6f5,#f7f7f7 74.5px)"></i><i style="background:linear-gradient(90deg,#f7f7f7 12.5px,#f7f6f5,#f7f6f6,#f6f6f7,#f4f5f6,#f4f5f6,#f7f7f6,#f8f3ef,#f8f0ec,#f8f4f2,#f0f4f6,#e6eff4,#e8f0f4,#f7f5f3,#fbe5d9,#fce1d1,#f9efea,#dfecf3,#c7e0ed,#d9e9f2,#f9eee7,#facbb2,#fbceb6,#f8f4f1,#c7e0ed,#b4d6e8,#e4eef3,#fcdecd,#f9c3a8,#fbe3d5,#ddebf2,#b7d8e9,#d9e9f1,#fae7dc,#f9c4a9,#fddbc8,#e9f0f4,#b7d8e8,#c2ddec,#f6f7f7,#fbd2bb,#fac8af,#faeae1,#ddebf2,#c6e0ed,#dceaf2,#f8f2ee,#fce2d2,#fbe4d7,#f8f3f1,#eaf1f5,#e5eff4,#eff3f5,#f8f5f3,#f8f0ec,#f8f2ef,#f7f6f6,#f4f6f6,#f4f5f6,#f6f6f7,#f7f6f6,#f7f6f5,#f7f7f7 74.5px)"></i><i style="background:linear-gradient(90deg,#f7f7f7 12.5px,#f7f6f5,#f7f6f6,#f6f6f7,#f4f5f6,#f4f6f6,#f7f6f6,#f8f3ef,#f8f1ec,#f8f4f2,#f0f3f6,#e6eff4,#e9f1f4,#f8f4f2,#fbe5d9,#fce2d3,#f8f1ec,#dfecf3,#c9e1ee,#dbeaf2,#f9ede5,#facbb3,#fbd1ba,#f7f5f4,#c7e0ed,#b6d7e8,#e5eff4,#fcdecc,#f9c3a8,#fbe4d6,#ddeaf2,#b7d8e8,#d8e8f1,#fae8dc,#f9c4a9,#fddac6,#ebf1f5,#b9d9e9,#c1ddec,#f4f6f7,#fcd5bf,#fac9b0,#fae9e0,#dfecf3,#c9e1ee,#dceaf2,#f8f3f0,#fbe3d4,#fbe4d7,#f8f3f0,#eaf1f5,#e6eff4,#eef3f5,#f7f5f3,#f8f1ec,#f8f2ef,#f7f6f6,#f4f6f6,#f4f5f6,#f6f6f7,#f7f6f6,#f7f6f5,#f7f7f7 74.5px)"></i><i style="background:linear-gradient(90deg,#f7f7f7 12.5px,#f7f6f5,#f7f6f6,#f6f6f7,#f4f6f6,#f4f6f6,#f7f6f6,#f8f3f0,#f8f1ed,#f8f5f3,#eff3f6,#e7eff4,#eaf1f5,#f8f4f2,#fbe6d9,#fbe3d5,#f8f2ee,#dfebf2,#cbe2ee,#ddebf2,#f9ece4,#fbccb4,#fcd3bd,#f7f6f6,#c6dfed,#b8d8e9,#e7eff4,#fdddcb,#f9c3a8,#fbe4d7,#dceaf2,#b6d7e8,#d8e8f1,#fae8dd,#f9c4aa,#fdd9c5,#ecf2f5,#bbdaea,#c1ddeb,#f3f5f6,#fcd8c3,#facab1,#fae9de,#e1ecf3,#cbe2ee,#dceaf2,#f8f4f2,#fbe4d6,#fbe5d8,#f8f2ef,#ebf2f5,#e7eff4,#eef3f5,#f7f5f4,#f8f1ed,#f8f2ef,#f7f6f6,#f4f6f6,#f4f5f6,#f6f6f7,#f7f6f6,#f7f6f5,#f7f7f7 74.5px)"></i><i style="background:linear-gradient(90deg,#f7f7f7 12.5px,#f7f6f6,#f7f6f6,#f6f6f7,#f4f6f6,#f4f6f6,#f7f6f6,#f8f3f0,#f8f1ed,#f7f5f3,#eff3f6,#e7f0f4,#ebf1f5,#f8f3f1,#fbe6da,#fbe4d6,#f8f3ef,#deebf2,#cde3ef,#dfecf3,#faebe2,#fbcdb5,#fcd6c1,#f6f7f7,#c6dfed,#bad9e9,#e9f0f4,#fdddca,#f9c4a9,#fbe5d8,#dceaf2,#b6d8e8,#d7e8f1,#fae9de,#f9c5ab,#fdd9c4,#eef3f5,#bddbea,#c1ddeb,#f1f4f6,#fddac6,#facbb3,#fae8dd,#e3edf3,#cde3ef,#dceaf2,#f7f5f3,#fbe5d7,#fbe5d8,#f8f2ee,#ecf2f5,#e7eff4,#eef3f5,#f7f6f5,#f8f1ed,#f8f2ef,#f7f6f5,#f4f6f7,#f4f6f6,#f6f6f7,#f7f6f6,#f7f6f6,#f7f7f7 74.5px)"></i><i style="background:linear-gradient(90deg,#f7f7f7 12.5px,#f7f6f6,#f7f6f6,#f6f6f7,#f4f6f6,#f4f6f7,#f7f6f6,#f8f3f0,#f8f2ee,#f7f5f4,#eff3f6,#e8f0f4,#ecf2f5,#f8f3f0,#fbe6da,#fbe5d8,#f8f3f1,#deebf2,#cfe4ef,#e1edf3,#faeae1,#fbceb7,#fdd9c4,#f5f6f7,#c6dfed,#bcdaea,#eaf1f5,#fddcc9,#f9c4aa,#fbe5d9,#dceaf2,#b7d8e9,#d7e8f1,#fae9df,#f9c6ac,#fdd8c3,#eff3f6,#c0dceb,#c1ddec,#f0f4f6,#fddcc9,#fbcdb5,#fae7dc,#e5eef4,#d0e4f0,#dceaf2,#f7f6f5,#fbe6d9,#fbe5d9,#f8f2ee,#edf2f5,#e8f0f4,#eef3f5,#f7f6f5,#f8f2ee,#f8f2ef,#f7f6f5,#f5f6f7,#f4f6f6,#f6f6f7,#f7f7f6,#f7f6f6,#f7f7f7 74.5px)"></i><i style="background:linear-gradient(90deg,#f7f7f7 12.5px,#f7f6f6,#f7f6f6,#f6f6f7,#f4f6f6,#f5f6f7,#f7f6f6,#f8f3f0,#f8f2ee,#f7f6f4,#eff3f6,#e8f0f4,#edf2f5,#f8f3f0,#fbe7db,#fbe6d9,#f8f4f2,#deebf2,#d1e5f0,#e3eef3,#faeae0,#fbd0b8,#fddbc8,#f3f5f6,#c6dfed,#bedceb,#ebf2f5,#fddcc9,#f9c5ab,#fbe6da,#dceaf2,#b7d8e9,#d7e8f1,#faeae0,#fac7ad,#fcd8c3,#f1f4f6,#c2ddec,#c2ddec,#eef3f5,#fcdecb,#fbceb7,#fae7db,#e6eff4,#d2e5f0,#dceaf2,#f7f6f6,#fbe6db,#fbe6da,#f8f1ed,#eef3f5,#e8f0f4,#eef3f5,#f7f6f6,#f8f2ee,#f8f3ef,#f7f6f5,#f5f6f7,#f4f6f6,#f6f6f7,#f7f7f6,#f7f6f6,#f7f7f7 74.5px)"></i><i style="background:linear-gradient(90deg,#f7f7f7 12.5px,#f7f6f6,#f7f7f6,#f6f6f7,#f4f6f6,#f5f6f7,#f7f6f6,#f8f3f0,#f8f2ef,#f7f6f5,#eff3f6,#e9f0f4,#eef3f5,#f8f2ef,#fae7db,#fbe7db,#f7f5f4,#deebf2,#d3e6f0,#e5eef4,#fae9df,#fbd1ba,#fdddca,#f2f5f6,#c6e0ed,#c1ddeb,#edf2f5,#fddcc9,#fac6ad,#fbe6db,#dceaf2,#b8d8e9,#d7e8f1,#faeae1,#fac8af,#fcd8c3,#f2f4f6,#c4dfec,#c3deec,#edf2f5,#fcdfce,#fbd0b9,#fbe6db,#e8f0f4,#d3e6f0,#dceaf2,#f7f7f7,#fae7dc,#fbe6da,#f8f1ed,#eff3f5,#e9f0f4,#eef3f5,#f7f6f6,#f8f2ef,#f8f3f0,#f7f6f5,#f5f6f7,#f4f6f6,#f6f6f7,#f7f7f6,#f7f6f6,#f7f7f7 74.5px)"></i><i style="background:linear-gradient(90deg,#f7f7f7 14.5px,#f6f6f7,#f4f6f7,#f5f6f7,#f7f6f5,#f8f3f0,#f8f2ef,#f7f6f5,#eff3f6,#e9f1f4,#eef3f5,#f8f2ef,#fae7dc,#fae7dc,#f7f6f5,#deebf2,#d4e6f1,#e6eff4,#fae9df,#fcd2bc,#fcdecc,#f1f4f6,#c7e0ed,#c3deec,#eef3f5,#fddcc8,#fac8ae,#fae7dc,#dceaf2,#b9d9e9,#d7e8f1,#faebe2,#fac9b0,#fcd8c3,#f3f5f6,#c7e0ed,#c3deec,#ecf2f5,#fce0d0,#fbd1bb,#fbe6da,#e9f1f4,#d4e7f1,#dceaf2,#f6f6f7,#fae8de,#fbe7db,#f8f1ec,#f0f3f6,#e9f1f4,#eef3f5,#f7f6f6,#f8f2ef,#f8f3f0,#f7f6f5,#f5f6f7,#f4f6f7,#f6f6f7,#f7f7f7 72.5px)"></i><i style="background:linear-gradient(90deg,#f7f7f7 14.5px,#f6f6f7,#f4f6f7,#f5f6f7,#f7f6f5,#f8f3f0,#f8f3ef,#f7f6f6,#eff3f6,#eaf1f5,#eff3f6,#f8f2ee,#fae8dd,#fae8de,#f7f6f6,#deebf2,#d5e7f1,#e8f0f4,#fae8de,#fcd4be,#fcdfce,#f0f4f6,#c8e0ed,#c6dfed,#eff3f6,#fddcc9,#fac9b0,#fae8dd,#dceaf2,#badaea,#d8e8f1,#faebe2,#facbb2,#fdd8c3,#f4f6f6,#c9e1ee,#c4dfec,#ebf1f5,#fce2d2,#fcd3bd,#fbe6da,#ebf1f5,#d6e7f1,#ddeaf2,#f5f6f7,#fae9df,#fae7dc,#f8f1ec,#f0f4f6,#eaf1f5,#eef3f5,#f7f7f6,#f8f3f0,#f8f3f0,#f7f6f5,#f5f6f7,#f4f6f7,#f6f6f7,#f7f7f7 72.5px)"></i><i style="background:linear-gradient(90deg,#f7f7f7 14.5px,#f6f6f7,#f5f6f7,#f5f6f7,#f7f6f5,#f8f3f1,#f8f3f0,#f7f6f6,#eff3f6,#eaf1f5,#f0f4f6,#f8f2ee,#fae8dd,#fae9df,#f7f7f7,#dfecf3,#d6e8f1,#e9f0f4,#fae8de,#fcd5c0,#fce1d1,#eff3f5,#c9e1ee,#c8e1ed,#f0f4f6,#fddcc9,#facbb2,#fae8de,#dceaf2,#bcdaea,#d8e8f1,#f9ece3,#fbccb4,#fdd9c4,#f5f6f7,#cce2ef,#c6dfed,#ebf1f5,#fbe3d4,#fcd5bf,#fbe6d9,#ecf2f5,#d7e8f1,#ddebf2,#f4f6f7,#faeae1,#fae8dc,#f8f1ec,#f1f4f6,#eaf1f5,#eef3f5,#f7f7f7,#f8f3f0,#f8f3f0,#f7f6f5,#f5f6f7,#f5f6f7,#f6f6f7,#f7f7f7 72.5px)"></i><i style="background:linear-gradient(90deg,#f7f7f7 14.5px,#f6f6f7,#f5f6f7,#f5f6f7,#f7f6f5,#f8f3f1,#f8f3f0,#f7f6f6,#eff3f6,#ebf1f5,#f0f4f6,#f8f2ee,#fae8de,#faeae0,#f6f7f7,#dfecf3,#d8e8f1,#eaf1f5,#fae8dd,#fcd7c2,#fce2d3,#eef3f5,#cae1ee,#cbe2ee,#f1f4f6,#fddcc9,#fbccb4,#fae9de,#dceaf2,#bddbea,#d9e9f1,#f9ece4,#fbceb6,#fdd9c5,#f6f6f7,#cee4ef,#c7e0ed,#eaf1f5,#fbe4d6,#fcd6c1,#fbe6d9,#edf2f5,#d8e9f1,#ddebf2,#f4f5f6,#faebe2,#fae8dd,#f8f0ec,#f1f4f6,#ebf1f5,#eff3f5,#f6f7f7,#f8f3f0,#f8f3f0,#f7f6f5,#f6f6f7,#f5f6f7,#f6f6f7,#f7f7f7 72.5px)"></i><i style="background:linear-gradient(90deg,#f7f7f7 14.5px,#f6f6f7,#f5f6f7,#f6f6f7,#f7f6f5,#f8f3f1,#f8f3f1,#f7f7f6,#eff3f6,#ebf2f5,#f1f4f6,#f8f1ed,#fae9df,#faebe2,#f6f6f7,#dfecf3,#d9e9f1,#ecf2f5,#fae8dd,#fdd9c4,#fbe3d5,#edf2f5,#cbe2ee,#cde3ef,#f2f5f6,#fdddca,#fbceb6,#fae9df,#ddebf2,#bfdceb,#d9e9f1,#f9ece5,#fbcfb8,#fddac6,#f6f7f7,#d1e5f0,#c9e1ee,#e9f1f4,#fbe5d8,#fdd8c4,#fbe6d9,#eff3f5,#dae9f2,#deebf2,#f3f5f6,#f9ebe3,#fae8de,#f8f0ec,#f2f5f6,#ebf2f5,#eff3f5,#f6f7f7,#f8f3f1,#f8f3f1,#f7f6f5,#f6f6f7,#f5f6f7,#f6f6f7,#f7f7f7 72.5px)"></i><i style="background:linear-gradient(90deg,#f7f7f7 14.5px,#f6f6f7,#f5f6f7,#f6f6f7,#f7f6f5,#f8f4f1,#f8f3f1,#f7f7f6,#f0f3f6,#ecf2f5,#f1f4f6,#f8f1ed,#fae9e0,#faebe3,#f5f6f7,#e0ecf3,#dae9f2,#edf2f5,#fae8dd,#fddac6,#fbe4d6,#edf2f5,#cde3ef,#d0e4f0,#f3f5f6,#fdddca,#fbd0b8,#faeae0,#ddebf2,#c1ddeb,#dae9f2,#f9ede6,#fbd1bb,#fddbc7,#f7f7f6,#d2e6f0,#cae1ee,#e9f0f4,#fbe6da,#fddac6,#fbe6da,#f0f4f6,#dbeaf2,#deebf2,#f3f5f6,#f9ece4,#fae9df,#f8f0ec,#f3f5f6,#ecf2f5,#eff3f6,#f6f7f7,#f8f4f1,#f8f3f1,#f7f6f5,#f6f6f7,#f5f6f7,#f6f6f7,#f7f7f7 72.5px)"></i><i style="background:linear-gradient(90deg,#f7f7f7 14.5px,#f6f6f7,#f5f6f7,#f6f6f7,#f7f6f5,#f8f4f1,#f8f4f1,#f7f7f7,#f0f4f6,#ecf2f5,#f2f5f6,#f8f1ed,#faeae0,#f9ece4,#f4f6f7,#e0ecf3,#dbeaf2,#eef3f5,#fae8dd,#fddcc8,#fbe5d8,#ecf2f5,#cee4ef,#d2e5f0,#f4f5f6,#fcddcb,#fbd1bb,#faeae1,#deebf2,#c3deec,#dae9f2,#f9ede7,#fcd3bd,#fddbc8,#f7f6f6,#d4e6f1,#cce2ef,#e9f0f4,#fae7dc,#fddbc8,#fbe6da,#f1f4f6,#dceaf2,#dfecf3,#f2f5f6,#f9ede6,#fae9e0,#f8f0ec,#f3f5f6,#edf2f5,#eff3f6,#f6f7f7,#f8f4f2,#f8f3f1,#f7f6f5,#f6f7f7,#f5f6f7,#f6f6f7,#f7f7f7 72.5px)"></i><i style="background:linear-gradient(90deg,#f7f7f7 14.5px,#f6f6f7,#f5f6f7,#f6f6f7,#f7f6f5,#f8f4f1,#f8f4f2,#f6f7f7,#f0f4f6,#edf2f5,#f2f5f6,#f8f1ed,#faeae1,#f9ede5,#f4f6f6,#e1ecf3,#ddebf2,#eff3f5,#fae8dd,#fddcca,#fbe6da,#ecf2f5,#d0e4f0,#d3e6f0,#f4f6f7,#fcdecc,#fcd3bd,#faebe2,#deebf2,#c5dfec,#dbeaf2,#f9eee7,#fcd5bf,#fddcc9,#f7f6f5,#d5e7f1,#cee3ef,#e8f0f4,#fae8de,#fddcc9,#fbe6da,#f2f4f6,#deebf2,#dfecf3,#f2f5f6,#f9ede7,#faeae1,#f8f0ec,#f4f5f6,#edf2f5,#eff3f6,#f6f6f7,#f8f4f2,#f8f4f1,#f7f6f5,#f6f7f7,#f5f6f7,#f6f6f7,#f7f7f7 72.5px)"></i><i style="background:linear-gradient(90deg,#f7f7f7 15.5px,#f5f6f7,#f6f7f7,#f7f6f5,#f8f4f2,#f8f4f2,#f6f7f7,#f0f4f6,#edf2f5,#f3f5f6,#f8f1ed,#faebe2,#f9ede6,#f4f5f6,#e1edf3,#deebf2,#f0f4f6,#fae8dd,#fcddcb,#fae7dc,#ecf2f5,#d1e5f0,#d5e7f1,#f5f6f7,#fcdecd,#fcd5bf,#faebe3,#dfecf3,#c7e0ed,#dbeaf2,#f9eee8,#fcd7c2,#fdddca,#f7f6f5,#d7e8f1,#cfe4f0,#e8f0f4,#fae9df,#fcddcb,#fbe6da,#f2f5f6,#dfebf3,#e0ecf3,#f2f4f6,#f9eee8,#faeae1,#f8f0ec,#f4f6f6,#edf2f5,#eff3f6,#f6f6f7,#f8f4f2,#f8f4f1,#f7f6f5,#f6f7f7,#f5f6f7,#f6f6f7,#f7f7f7 72.5px)"></i><i style="background:linear-gradient(90deg,#f7f7f7 15.5px,#f5f6f7,#f6f7f7,#f7f6f5,#f8f4f2,#f8f4f2,#f6f7f7,#f0f4f6,#eef3f5,#f3f5f6,#f8f1ed,#faebe2,#f9eee7,#f3f5f6,#e2edf3,#dfecf3,#f1f4f6,#fae8de,#fcdecd,#fae8dd,#ebf1f5,#d2e6f0,#d6e7f1,#f6f6f7,#fcdfce,#fcd7c2,#f9ece4,#dfecf3,#c9e1ee,#dceaf2,#f9efe9,#fdd9c4,#fdddcb,#f7f5f4,#d8e8f1,#d1e5f0,#e8f0f4,#faeae1,#fcdecd,#fbe7db,#f3f5f6,#e0ecf3,#e1ecf3,#f1f4f6,#f9efe9,#faebe2,#f8f0ec,#f4f6f7,#eef3f5,#f0f3f6,#f6f6f7,#f8f4f3,#f8f4f2,#f7f6f5,#f6f7f7,#f5f6f7,#f6f6f7,#f7f7f7 72.5px)"></i><i style="background:linear-gradient(90deg,#f7f7f7 15.5px,#f5f6f7,#f6f7f7,#f7f6f5,#f8f4f2,#f8f4f2,#f6f7f7,#f0f4f6,#eef3f5,#f4f5f6,#f8f1ed,#f9ebe3,#f9eee8,#f3f5f6,#e2edf3,#e0ecf3,#f1f4f6,#fae8de,#fcdfce,#fae9df,#ebf1f5,#d3e6f0,#d7e8f1,#f6f7f7,#fcdfce,#fdd9c4,#f9ece5,#e0ecf3,#cbe2ee,#ddebf2,#f9efe9,#fddac6,#fcdecc,#f7f5f4,#d9e9f2,#d2e6f0,#e8f0f4,#faebe2,#fcdfce,#fae7db,#f4f6f6,#e1edf3,#e1edf3,#f1f4f6,#f9efea,#faebe3,#f8f0ec,#f5f6f7,#eef3f5,#f0f4f6,#f6f6f7,#f8f5f3,#f8f4f2,#f7f6f5,#f6f7f7,#f5f6f7,#f6f6f7,#f7f7f7 72.5px)"></i><i style="background:linear-gradient(90deg,#f7f7f7 15.5px,#f5f6f7,#f6f7f7,#f7f6f5,#f8f4f2,#f8f5f3,#f6f7f7,#f0f4f6,#eff3f5,#f4f6f6,#f8f1ed,#f9ece4,#f9efe9,#f3f5f6,#e3edf3,#e1edf3,#f2f5f6,#fae9de,#fce0cf,#faeae0,#ebf1f5,#d4e6f1,#d8e9f1,#f6f7f7,#fce0cf,#fddac6,#f9ede5,#e1ecf3,#cde3ef,#ddebf2,#f9efea,#fddcc8,#fcdecd,#f7f5f3,#dbeaf2,#d3e6f0,#e8f0f4,#f9ece3,#fce0d0,#fae7dc,#f4f6f7,#e2edf3,#e2edf3,#f1f4f6,#f9f0ea,#f9ece4,#f8f1ec,#f5f6f7,#eff3f5,#f0f4f6,#f6f6f7,#f7f5f3,#f8f4f2,#f7f6f5,#f6f7f7,#f5f6f7,#f6f6f7,#f7f7f7 72.5px)"></i><i style="background:linear-gradient(90deg,#f7f7f7 15.5px,#f5f6f7,#f6f7f7,#f7f6f5,#f8f4f2,#f8f5f3,#f6f7f7,#f1f4f6,#eff3f6,#f4f6f7,#f8f1ed,#f9ece5,#f9efea,#f2f5f6,#e3eef3,#e2edf3,#f3f5f6,#fae9df,#fce1d1,#faeae1,#ebf1f5,#d5e7f1,#dae9f2,#f7f7f7,#fce0d0,#fddcc8,#f9ede6,#e1edf3,#cfe4ef,#deebf2,#f9f0eb,#fddcca,#fcdfce,#f8f4f3,#dceaf2,#d4e7f1,#e8f0f4,#f9ece5,#fce1d1,#fae7dc,#f5f6f7,#e3edf3,#e2edf3,#f1f4f6,#f8f0eb,#f9ece4,#f8f1ec,#f5f6f7,#eff3f6,#f0f4f6,#f5f6f7,#f7f5f3,#f8f4f2,#f7f6f5,#f6f7f7,#f5f6f7,#f7f7f7 71.5px)"></i><i style="background:linear-gradient(90deg,#f7f7f7 15.5px,#f5f6f7,#f6f7f7,#f7f6f5,#f8f4f2,#f7f5f3,#f6f6f7,#f1f4f6,#eff3f6,#f5f6f7,#f8f1ed,#f9ede5,#f9f0eb,#f2f5f6,#e4eef3,#e3eef3,#f3f5f6,#fae9df,#fce2d2,#faebe3,#ebf1f5,#d6e7f1,#dbeaf2,#f7f7f6,#fce1d1,#fdddca,#f9eee7,#e2edf3,#d1e5f0,#dfecf3,#f8f0eb,#fcddcb,#fce0cf,#f8f4f2,#ddebf2,#d5e7f1,#e8f0f4,#f9ede6,#fce2d2,#fae8dd,#f6f6f7,#e4eef3,#e3eef3,#f1f4f6,#f8f1ec,#f9ede5,#f8f1ec,#f6f6f7,#eff3f6,#f0f4f6,#f5f6f7,#f7f5f4,#f8f4f2,#f7f6f5,#f6f7f7,#f5f6f7,#f7f7f7 71.5px)"></i><i style="background:linear-gradient(90deg,#f7f7f7 15.5px,#f6f6f7,#f6f7f7,#f7f6f5,#f8f4f3,#f7f5f3,#f6f6f7,#f1f4f6,#f0f4f6,#f5f6f7,#f8f2ee,#f9ede6,#f8f0eb,#f2f5f6,#e5eef4,#e4eef3,#f4f5f6,#fae9e0,#fbe2d4,#f9ece4,#ebf1f5,#d7e8f1,#dceaf2,#f7f6f6,#fce2d2,#fcddcb,#f9eee8,#e2edf3,#d2e5f0,#e0ecf3,#f8f0ec,#fcdecd,#fce0d0,#f8f4f2,#deebf2,#d6e8f1,#e8f0f4,#f9eee7,#fbe3d4,#fae8dd,#f6f7f7,#e5eef4,#e4eef3,#f1f4f6,#f8f1ed,#f9ede6,#f8f1ec,#f6f6f7,#f0f4f6,#f1f4f6,#f5f6f7,#f7f5f4,#f8f4f3,#f7f6f5,#f6f7f7,#f6f6f7,#f7f7f7 71.5px)"></i><i style="background:linear-gradient(90deg,#f7f7f7 15.5px,#f6f6f7,#f6f7f7,#f7f6f5,#f8f5f3,#f7f5f4,#f6f6f7,#f1f4f6,#f0f4f6,#f5f6f7,#f8f2ee,#f9ede7,#f8f1ec,#f2f5f6,#e5eff4,#e5eef4,#f4f6f7,#faeae0,#fbe3d5,#f9ede5,#ebf1f5,#d8e8f1,#ddebf2,#f7f6f6,#fbe2d3,#fcdecd,#f9eee8,#e3eef3,#d3e6f0,#e0ecf3,#f8f1ec,#fcdfce,#fce1d1,#f8f4f2,#dfecf3,#d7e8f1,#e8f0f4,#f9eee8,#fbe3d5,#fae8de,#f6f7f7,#e6eff4,#e4eef4,#f1f4f6,#f8f1ed,#f9ede6,#f8f1ed,#f6f7f7,#f0f4f6,#f1f4f6,#f5f6f7,#f7f5f4,#f8f4f3,#f7f6f5,#f6f7f7,#f6f6f7,#f7f7f7 71.5px)"></i><i style="background:linear-gradient(90deg,#f7f7f7 15.5px,#f6f6f7,#f6f7f7,#f7f6f5,#f8f5f3,#f7f5f4,#f6f6f7,#f1f4f6,#f0f4f6,#f5f6f7,#f8f2ee,#f9eee7,#f8f1ed,#f2f5f6,#e6eff4,#e6eff4,#f5f6f7,#faeae1,#fbe4d6,#f9ede6,#ebf1f5,#d9e9f2,#deebf2,#f7f6f6,#fbe3d5,#fcdfce,#f9efe9,#e4eef3,#d4e7f1,#e1edf3,#f8f1ed,#fce0d0,#fce2d2,#f8f4f2,#e0ecf3,#d9e9f1,#e9f0f4,#f9efe9,#fbe4d7,#fae9df,#f7f7f7,#e6eff4,#e5eef4,#f0f4f6,#f8f2ee,#f9eee7,#f8f1ed,#f6f7f7,#f1f4f6,#f1f4f6,#f5f6f7,#f7f5f4,#f8f5f3,#f7f6f5,#f7f7f7,#f6f6f7,#f7f7f7 71.5px)"></i><i style="background:linear-gradient(90deg,#f7f7f7 15.5px,#f6f6f7,#f6f7f7,#f7f6f5,#f7f5f3,#f7f5f4,#f6f6f7,#f1f4f6,#f1f4f6,#f6f6f7,#f8f2ee,#f9eee8,#f8f1ed,#f2f5f6,#e6eff4,#e6eff4,#f5f6f7,#faeae1,#fbe5d7,#f9eee7,#ebf1f5,#dae9f2,#dfecf3,#f7f6f5,#fbe3d6,#fce0d0,#f9efea,#e4eef4,#d6e7f1,#e2edf3,#f8f1ed,#fce1d1,#fbe2d3,#f8f4f2,#e1edf3,#dae9f2,#e9f0f4,#f9efea,#fbe5d8,#fae9df,#f7f7f6,#e7f0f4,#e6eff4,#f1f4f6,#f8f2ef,#f9eee8,#f8f1ed,#f6f7f7,#f1f4f6,#f1f4f6,#f5f6f7,#f7f5f4,#f7f5f3,#f7f6f5,#f7f7f7,#f6f6f7,#f7f7f7 71.5px)"></i><i style="background:linear-gradient(90deg,#f7f7f7 15.5px,#f6f6f7,#f6f7f7,#f7f6f5,#f7f5f3,#f7f5f4,#f6f6f7,#f2f4f6,#f1f4f6,#f6f6f7,#f8f2ee,#f9eee8,#f8f2ee,#f2f5f6,#e7eff4,#e7eff4,#f5f6f7,#faebe2,#fbe5d9,#f9eee8,#ebf2f5,#dbeaf2,#e0ecf3,#f7f6f5,#fbe4d7,#fce1d1,#f9efea,#e5eef4,#d7e8f1,#e2edf3,#f8f2ee,#fce2d2,#fbe3d5,#f8f4f2,#e2edf3,#dbeaf2,#e9f0f4,#f9f0eb,#fbe6d9,#fae9e0,#f7f6f6,#e8f0f4,#e6eff4,#f1f4f6,#f8f2ef,#f9eee8,#f8f1ed,#f6f7f7,#f1f4f6,#f1f4f6,#f5f6f7,#f7f6f5,#f7f5f3,#f7f6f5,#f7f7f7 69.5px)"></i><i style="background:linear-gradient(90deg,#f7f7f7 17.5px,#f7f6f5,#f7f5f3,#f7f5f4,#f6f6f7,#f2f5f6,#f1f4f6,#f6f6f7,#f8f2ef,#f9efe9,#f8f2ee,#f2f5f6,#e7f0f4,#e8f0f4,#f6f6f7,#faebe2,#fbe6da,#f9efe9,#ecf2f5,#dceaf2,#e1edf3,#f7f6f5,#fbe5d8,#fce2d2,#f9f0eb,#e5eff4,#d8e8f1,#e3eef3,#f8f2ee,#fbe2d4,#fbe4d6,#f8f4f1,#e3eef3,#dbeaf2,#e9f1f4,#f8f0eb,#fbe6da,#faeae0,#f7f6f6,#e9f0f4,#e7eff4,#f1f4f6,#f8f3f0,#f9efe9,#f8f2ee,#f6f7f7,#f1f4f6,#f2f4f6,#f5f6f7,#f7f6f5,#f7f5f3,#f7f6f5,#f7f7f7 69.5px)"></i><i style="background:linear-gradient(90deg,#f7f7f7 17.5px,#f7f6f5,#f7f5f4,#f7f6f5,#f6f6f7,#f2f5f6,#f1f4f6,#f6f7f7,#f8f2ef,#f9efe9,#f8f2ef,#f2f5f6,#e8f0f4,#e8f0f4,#f6f7f7,#faebe3,#fbe7db,#f9efea,#ecf2f5,#ddebf2,#e2edf3,#f7f6f5,#fbe5d8,#fbe2d4,#f8f0eb,#e6eff4,#d9e9f1,#e4eef3,#f8f2ef,#fbe3d5,#fbe4d7,#f8f4f1,#e4eef3,#dceaf2,#eaf1f5,#f8f1ec,#fae7db,#faeae1,#f7f6f6,#e9f1f4,#e7f0f4,#f1f4f6,#f8f3f0,#f9efe9,#f8f2ee,#f7f7f7,#f2f4f6,#f2f4f6,#f5f6f7,#f7f6f5,#f7f5f3,#f7f6f5,#f7f7f7 69.5px)"></i><i style="background:linear-gradient(90deg,#f7f7f7 17.5px,#f7f6f5,#f7f5f4,#f7f6f5,#f6f6f7,#f2f5f6,#f2f4f6,#f6f7f7,#f8f2ef,#f9efea,#f8f3ef,#f2f5f6,#e8f0f4,#e9f0f4,#f6f7f7,#f9ebe3,#fae7dc,#f9f0ea,#ecf2f5,#deebf2,#e3eef3,#f7f6f5,#fbe6d9,#fbe3d5,#f8f0ec,#e6eff4,#dae9f2,#e4eef4,#f8f2ef,#fbe4d6,#fbe5d8,#f8f4f1,#e5eef4,#ddebf2,#eaf1f5,#f8f1ed,#fae7dc,#faebe2,#f7f6f6,#eaf1f5,#e8f0f4,#f1f4f6,#f8f3f0,#f9efea,#f8f2ee,#f7f7f7,#f2f5f6,#f2f5f6,#f5f6f7,#f7f6f5,#f7f5f4,#f7f6f5,#f7f7f7 69.5px)"></i><i style="background:linear-gradient(90deg,#f7f7f7 17.5px,#f7f6f5,#f7f5f4,#f7f6f5,#f6f6f7,#f2f5f6,#f2f5f6,#f6f7f7,#f8f2ef,#f9f0ea,#f8f3f0,#f2f5f6,#e9f0f4,#eaf1f5,#f6f7f7,#f9ece4,#fae8dd,#f9f0eb,#ecf2f5,#dfebf2,#e4eef3,#f7f5f4,#fbe6da,#fbe4d6,#f8f1ec,#e7eff4,#dbeaf2,#e5eef4,#f8f2ef,#fbe5d7,#fbe5d9,#f8f4f1,#e5eff4,#deebf2,#eaf1f5,#f8f1ed,#fae8dd,#faebe2,#f7f6f5,#ebf1f5,#e8f0f4,#f1f4f6,#f8f3f1,#f9f0ea,#f8f2ee,#f7f7f6,#f2f5f6,#f2f5f6,#f5f6f7,#f7f6f5,#f7f5f4,#f7f6f5,#f7f7f7 69.5px)"></i><i style="background:linear-gradient(90deg,#f7f7f7 17.5px,#f7f6f5,#f7f5f4,#f7f6f5,#f6f6f7,#f2f5f6,#f2f5f6,#f6f7f7,#f8f2ef,#f9f0eb,#f8f3f0,#f2f5f6,#e9f0f4,#eaf1f5,#f7f7f7,#f9ece4,#fae8de,#f8f0ec,#ecf2f5,#dfecf3,#e5eef4,#f7f5f4,#fae7db,#fbe5d7,#f8f1ed,#e8f0f4,#dceaf2,#e6eff4,#f8f3f0,#fbe5d8,#fbe6da,#f8f4f1,#e6eff4,#dfecf3,#eaf1f5,#f8f2ee,#fae9de,#faebe3,#f7f6f5,#ebf1f5,#e9f0f4,#f1f4f6,#f8f4f1,#f9f0eb,#f8f2ef,#f7f7f6,#f2f5f6,#f2f5f6,#f5f6f7,#f7f6f5,#f7f5f4,#f7f6f5,#f7f7f7 69.5px)"></i><i style="background:linear-gradient(90deg,#f7f7f7 17.5px,#f7f6f5,#f7f5f4,#f7f6f5,#f6f6f7,#f3f5f6,#f2f5f6,#f6f7f7,#f8f3ef,#f8f0eb,#f8f3f1,#f2f5f6,#eaf1f5,#ebf1f5,#f7f7f7,#f9ece5,#fae9df,#f8f1ec,#edf2f5,#e0ecf3,#e5eff4,#f7f5f4,#fae7dc,#fbe5d8,#f8f1ed,#e8f0f4,#ddebf2,#e6eff4,#f8f3f0,#fbe6da,#fbe6db,#f8f4f1,#e7eff4,#e0ecf3,#ebf1f5,#f8f2ee,#fae9df,#f9ece3,#f7f6f5,#ecf2f5,#e9f0f4,#f1f4f6,#f8f4f2,#f8f0eb,#f8f2ef,#f7f7f6,#f3f5f6,#f2f5f6,#f5f6f7,#f7f6f5,#f7f5f4,#f7f6f5,#f7f7f7 69.5px)"></i><i style="background:linear-gradient(90deg,#f7f7f7 17.5px,#f7f6f5,#f7f5f4,#f7f6f5,#f6f6f7,#f3f5f6,#f3f5f6,#f6f7f7,#f8f3f0,#f8f0ec,#f8f3f1,#f2f5f6,#eaf1f5,#ebf1f5,#f7f7f6,#f9ede5,#fae9e0,#f8f1ed,#edf2f5,#e1edf3,#e6eff4,#f7f5f4,#fae8dd,#fbe6da,#f8f1ed,#e9f0f4,#deebf2,#e7eff4,#f8f3f0,#fbe6db,#fae7dc,#f8f4f1,#e8f0f4,#e1ecf3,#ebf1f5,#f8f2ef,#faeae0,#f9ece4,#f7f6f5,#ecf2f5,#eaf1f5,#f1f4f6,#f8f4f2,#f8f1ec,#f8f2ef,#f7f7f6,#f3f5f6,#f3f5f6,#f5f6f7,#f7f6f5,#f7f5f4,#f7f6f5,#f7f7f7 69.5px)"></i><i style="background:linear-gradient(90deg,#f7f7f7 17.5px,#f7f6f5,#f7f5f4,#f7f6f5,#f6f6f7,#f3f5f6,#f3f5f6,#f7f7f7,#f8f3f0,#f8f1ec,#f8f4f1,#f2f5f6,#eaf1f5,#ecf2f5,#f7f7f6,#f9ede6,#faeae1,#f8f1ed,#edf2f5,#e2edf3,#e7eff4,#f7f5f4,#fae8de,#fbe6db,#f8f2ee,#e9f0f4,#dfebf3,#e7f0f4,#f8f3f1,#fae7dc,#fae8dc,#f8f4f2,#e8f0f4,#e1edf3,#ebf1f5,#f8f3ef,#faeae1,#f9ece5,#f7f6f5,#edf2f5,#eaf1f5,#f1f4f6,#f8f4f2,#f8f1ec,#f8f2ef,#f7f7f6,#f3f5f6,#f3f5f6,#f5f6f7,#f7f6f5,#f7f5f4,#f7f6f5,#f7f7f7 69.5px)"></i><i style="background:linear-gradient(90deg,#f7f7f7 17.5px,#f7f6f5,#f7f5f4,#f7f6f5,#f6f6f7,#f3f5f6,#f3f5f6,#f7f7f7,#f8f3f0,#f8f1ed,#f8f4f2,#f2f5f6,#ebf1f5,#ecf2f5,#f7f7f6,#f9ede6,#faeae1,#f8f2ee,#edf2f5,#e2edf3,#e7f0f4,#f7f5f4,#fae9df,#fae7dc,#f8f2ee,#e9f1f5,#dfecf3,#e8f0f4,#f8f3f1,#fae8dd,#fae8dd,#f8f4f2,#e9f0f4,#e2edf3,#ecf2f5,#f8f3f0,#faebe2,#f9ede5,#f7f6f5,#edf2f5,#ebf1f5,#f1f4f6,#f8f4f2,#f8f1ed,#f8f3ef,#f7f7f6,#f3f5f6,#f3f5f6,#f5f6f7,#f7f6f6,#f7f5f4,#f7f6f5,#f7f7f7 69.5px)"></i><i style="background:linear-gradient(90deg,#f7f7f7 17.5px,#f7f6f6,#f7f5f4,#f7f6f5,#f6f6f7,#f3f5f6,#f3f5f6,#f7f7f7,#f8f3f0,#f8f1ed,#f8f4f2,#f2f5f6,#ebf1f5,#edf2f5,#f7f6f6,#f9eee7,#faebe2,#f8f2ee,#eef3f5,#e3eef3,#e8f0f4,#f7f5f4,#fae9df,#fae8dd,#f8f2ef,#eaf1f5,#e0ecf3,#e8f0f4,#f8f4f1,#fae8de,#fae9de,#f8f4f2,#e9f1f4,#e3edf3,#ecf2f5,#f8f3f0,#faebe3,#f9ede6,#f7f6f5,#edf2f5,#ebf1f5,#f1f4f6,#f8f4f3,#f8f1ed,#f8f3f0,#f7f7f6,#f3f5f6,#f3f5f6,#f5f6f7,#f7f6f6,#f7f5f4,#f7f6f5,#f7f7f7 69.5px)"></i><i style="background:linear-gradient(90deg,#f7f7f7 17.5px,#f7f6f6,#f7f6f5,#f7f6f5,#f6f6f7,#f3f5f6,#f3f5f6,#f7f7f7,#f8f3f0,#f8f1ed,#f8f4f2,#f2f5f6,#ecf2f5,#edf2f5,#f7f6f6,#f9eee7,#faebe3,#f8f2ef,#eef3f5,#e4eef3,#e9f0f4,#f7f5f4,#faeae0,#fae8dd,#f8f2ef,#eaf1f5,#e1edf3,#e9f0f4,#f8f4f1,#fae9de,#fae9df,#f8f4f2,#eaf1f5,#e4eef3,#ecf2f5,#f8f3f0,#f9ece3,#f9ede6,#f7f6f5,#eef3f5,#ebf1f5,#f2f4f6,#f8f5f3,#f8f1ed,#f8f3f0,#f7f6f6,#f3f5f6,#f3f5f6,#f5f6f7,#f7f6f6,#f7f6f4,#f7f6f5,#f7f7f7 69.5px)"></i></div>
<svg width="602" height="577" viewBox="0 0 602 577"><path d="M493 157.30V7.30" stroke="#fff" stroke-width="1.9" stroke-dasharray="8.6 8.6" fill="none"/><path d="M536.6 157.30V7.30" stroke="#fff" stroke-width="1.5" stroke-dasharray="8.6 8.6" fill="none"/><rect x="59.50" y="7.30" width="93.00" height="150.00" fill="none" stroke="#000" stroke-width="1.20"/><path d="M106.00 157.30v-5.00M106.00 7.30v5.00M59.50 138.55h5.00M152.50 138.55h-5.00M59.50 119.80h5.00M152.50 119.80h-5.00M59.50 101.05h5.00M152.50 101.05h-5.00M59.50 82.30h5.00M152.50 82.30h-5.00M59.50 63.55h5.00M152.50 63.55h-5.00M59.50 44.80h5.00M152.50 44.80h-5.00M59.50 26.05h5.00M152.50 26.05h-5.00" stroke="#000" stroke-width="1" fill="none"/><text transform="translate(50.90,174.60) scale(1.4,1)" text-anchor="middle" fill="#000" stroke="#000">−</text><text x="61.72 69.72" y="174.60" text-anchor="middle" fill="#000" stroke="#000">20</text><text x="106.00" y="174.60" text-anchor="middle" fill="#000" stroke="#000">0</text><text x="148.50 156.50" y="174.60" text-anchor="middle" fill="#000" stroke="#000">20</text><text transform="translate(30.18,162.40) scale(1.4,1)" text-anchor="middle" fill="#000" stroke="#000">−</text><text x="41.00 49.00" y="162.40" text-anchor="middle" fill="#000" stroke="#000">20</text><text transform="translate(30.18,143.65) scale(1.4,1)" text-anchor="middle" fill="#000" stroke="#000">−</text><text x="41.00 49.00" y="143.65" text-anchor="middle" fill="#000" stroke="#000">15</text><text transform="translate(30.18,124.90) scale(1.4,1)" text-anchor="middle" fill="#000" stroke="#000">−</text><text x="41.00 49.00" y="124.90" text-anchor="middle" fill="#000" stroke="#000">10</text><text transform="translate(38.18,106.15) scale(1.4,1)" text-anchor="middle" fill="#000" stroke="#000">−</text><text x="49.00" y="106.15" text-anchor="middle" fill="#000" stroke="#000">5</text><text x="49.00" y="87.40" text-anchor="middle" fill="#000" stroke="#000">0</text><text x="49.00" y="68.65" text-anchor="middle" fill="#000" stroke="#000">5</text><text x="41.00 49.00" y="49.90" text-anchor="middle" fill="#000" stroke="#000">10</text><text x="41.00 49.00" y="31.15" text-anchor="middle" fill="#000" stroke="#000">15</text><text x="41.00 49.00" y="12.40" text-anchor="middle" fill="#000" stroke="#000">20</text><rect x="269.60" y="7.30" width="115.40" height="150.00" fill="none" stroke="#000" stroke-width="1.20"/><path d="M327.30 157.30v-5.00M327.30 7.30v5.00M269.60 138.55h5.00M385.00 138.55h-5.00M269.60 119.80h5.00M385.00 119.80h-5.00M269.60 101.05h5.00M385.00 101.05h-5.00M269.60 82.30h5.00M385.00 82.30h-5.00M269.60 63.55h5.00M385.00 63.55h-5.00M269.60 44.80h5.00M385.00 44.80h-5.00M269.60 26.05h5.00M385.00 26.05h-5.00" stroke="#000" stroke-width="1" fill="none"/><text transform="translate(261.00,174.60) scale(1.4,1)" text-anchor="middle" fill="#000" stroke="#000">−</text><text x="271.82 279.82" y="174.60" text-anchor="middle" fill="#000" stroke="#000">10</text><text x="327.30" y="174.60" text-anchor="middle" fill="#000" stroke="#000">0</text><text x="381.00 389.00" y="174.60" text-anchor="middle" fill="#000" stroke="#000">10</text><text transform="translate(240.28,162.40) scale(1.4,1)" text-anchor="middle" fill="#000" stroke="#000">−</text><text x="251.10 259.10" y="162.40" text-anchor="middle" fill="#000" stroke="#000">20</text><text transform="translate(240.28,143.65) scale(1.4,1)" text-anchor="middle" fill="#000" stroke="#000">−</text><text x="251.10 259.10" y="143.65" text-anchor="middle" fill="#000" stroke="#000">15</text><text transform="translate(240.28,124.90) scale(1.4,1)" text-anchor="middle" fill="#000" stroke="#000">−</text><text x="251.10 259.10" y="124.90" text-anchor="middle" fill="#000" stroke="#000">10</text><text transform="translate(248.28,106.15) scale(1.4,1)" text-anchor="middle" fill="#000" stroke="#000">−</text><text x="259.10" y="106.15" text-anchor="middle" fill="#000" stroke="#000">5</text><text x="259.10" y="87.40" text-anchor="middle" fill="#000" stroke="#000">0</text><text x="259.10" y="68.65" text-anchor="middle" fill="#000" stroke="#000">5</text><text x="251.10 259.10" y="49.90" text-anchor="middle" fill="#000" stroke="#000">10</text><text x="251.10 259.10" y="31.15" text-anchor="middle" fill="#000" stroke="#000">15</text><text x="251.10 259.10" y="12.40" text-anchor="middle" fill="#000" stroke="#000">20</text><rect x="478.70" y="7.30" width="115.80" height="150.00" fill="none" stroke="#000" stroke-width="1.20"/><path d="M536.60 157.30v-5.00M536.60 7.30v5.00M478.70 138.55h5.00M594.50 138.55h-5.00M478.70 119.80h5.00M594.50 119.80h-5.00M478.70 101.05h5.00M594.50 101.05h-5.00M478.70 82.30h5.00M594.50 82.30h-5.00M478.70 63.55h5.00M594.50 63.55h-5.00M478.70 44.80h5.00M594.50 44.80h-5.00M478.70 26.05h5.00M594.50 26.05h-5.00" stroke="#000" stroke-width="1" fill="none"/><text transform="translate(470.10,174.60) scale(1.4,1)" text-anchor="middle" fill="#000" stroke="#000">−</text><text x="480.92 488.92" y="174.60" text-anchor="middle" fill="#000" stroke="#000">10</text><text x="536.60" y="174.60" text-anchor="middle" fill="#000" stroke="#000">0</text><text x="590.50 598.50" y="174.60" text-anchor="middle" fill="#000" stroke="#000">10</text><text transform="translate(449.38,162.40) scale(1.4,1)" text-anchor="middle" fill="#000" stroke="#000">−</text><text x="460.20 468.20" y="162.40" text-anchor="middle" fill="#000" stroke="#000">20</text><text transform="translate(449.38,143.65) scale(1.4,1)" text-anchor="middle" fill="#000" stroke="#000">−</text><text x="460.20 468.20" y="143.65" text-anchor="middle" fill="#000" stroke="#000">15</text><text transform="translate(449.38,124.90) scale(1.4,1)" text-anchor="middle" fill="#000" stroke="#000">−</text><text x="460.20 468.20" y="124.90" text-anchor="middle" fill="#000" stroke="#000">10</text><text transform="translate(457.38,106.15) scale(1.4,1)" text-anchor="middle" fill="#000" stroke="#000">−</text><text x="468.20" y="106.15" text-anchor="middle" fill="#000" stroke="#000">5</text><text x="468.20" y="87.40" text-anchor="middle" fill="#000" stroke="#000">0</text><text x="468.20" y="68.65" text-anchor="middle" fill="#000" stroke="#000">5</text><text x="460.20 468.20" y="49.90" text-anchor="middle" fill="#000" stroke="#000">10</text><text x="460.20 468.20" y="31.15" text-anchor="middle" fill="#000" stroke="#000">15</text><text x="460.20 468.20" y="12.40" text-anchor="middle" fill="#000" stroke="#000">20</text><rect x="156.30" y="227.80" width="85.90" height="168.90" fill="none" stroke="#000" stroke-width="1.40"/><path d="M158.15 396.70v-5.00M158.15 227.80v5.00M199.25 396.70v-5.00M199.25 227.80v5.00M240.35 396.70v-5.00M240.35 227.80v5.00M156.30 379.81h5.00M242.20 379.81h-5.00M156.30 346.03h5.00M242.20 346.03h-5.00M156.30 312.25h5.00M242.20 312.25h-5.00M156.30 278.47h5.00M242.20 278.47h-5.00M156.30 244.69h5.00M242.20 244.69h-5.00" stroke="#000" stroke-width="1" fill="none"/><text transform="translate(149.55,414.00) scale(1.4,1)" text-anchor="middle" fill="#000" stroke="#000">−</text><text x="160.37 168.37" y="414.00" text-anchor="middle" fill="#000" stroke="#000">20</text><text x="199.25" y="414.00" text-anchor="middle" fill="#000" stroke="#000">0</text><text x="236.35 244.35" y="414.00" text-anchor="middle" fill="#000" stroke="#000">20</text><text transform="translate(134.98,384.91) scale(1.4,1)" text-anchor="middle" fill="#000" stroke="#000">−</text><text x="145.80" y="384.91" text-anchor="middle" fill="#000" stroke="#000">2</text><text transform="translate(134.98,351.13) scale(1.4,1)" text-anchor="middle" fill="#000" stroke="#000">−</text><text x="145.80" y="351.13" text-anchor="middle" fill="#000" stroke="#000">1</text><text x="145.80" y="317.35" text-anchor="middle" fill="#000" stroke="#000">0</text><text x="145.80" y="283.57" text-anchor="middle" fill="#000" stroke="#000">1</text><text x="145.80" y="249.79" text-anchor="middle" fill="#000" stroke="#000">2</text><rect x="362.80" y="227.80" width="85.50" height="168.90" fill="none" stroke="#000" stroke-width="1.40"/><path d="M364.45 396.70v-5.00M364.45 227.80v5.00M405.55 396.70v-5.00M405.55 227.80v5.00M446.65 396.70v-5.00M446.65 227.80v5.00M362.80 379.81h5.00M448.30 379.81h-5.00M362.80 346.03h5.00M448.30 346.03h-5.00M362.80 312.25h5.00M448.30 312.25h-5.00M362.80 278.47h5.00M448.30 278.47h-5.00M362.80 244.69h5.00M448.30 244.69h-5.00" stroke="#000" stroke-width="1" fill="none"/><text transform="translate(355.85,414.00) scale(1.4,1)" text-anchor="middle" fill="#000" stroke="#000">−</text><text x="366.67 374.67" y="414.00" text-anchor="middle" fill="#000" stroke="#000">20</text><text x="405.55" y="414.00" text-anchor="middle" fill="#000" stroke="#000">0</text><text x="442.65 450.65" y="414.00" text-anchor="middle" fill="#000" stroke="#000">20</text><text transform="translate(341.48,384.91) scale(1.4,1)" text-anchor="middle" fill="#000" stroke="#000">−</text><text x="352.30" y="384.91" text-anchor="middle" fill="#000" stroke="#000">2</text><text transform="translate(341.48,351.13) scale(1.4,1)" text-anchor="middle" fill="#000" stroke="#000">−</text><text x="352.30" y="351.13" text-anchor="middle" fill="#000" stroke="#000">1</text><text x="352.30" y="317.35" text-anchor="middle" fill="#000" stroke="#000">0</text><text x="352.30" y="283.57" text-anchor="middle" fill="#000" stroke="#000">1</text><text x="352.30" y="249.79" text-anchor="middle" fill="#000" stroke="#000">2</text><defs><linearGradient id="gv" x1="0" y1="0" x2="0" y2="1"><stop offset="0.0000" stop-color="#fde725"/><stop offset="0.0312" stop-color="#eae51a"/><stop offset="0.0625" stop-color="#d5e21a"/><stop offset="0.0938" stop-color="#c0df24"/><stop offset="0.1250" stop-color="#abdc32"/><stop offset="0.1562" stop-color="#96d83f"/><stop offset="0.1875" stop-color="#82d34c"/><stop offset="0.2188" stop-color="#6ece58"/><stop offset="0.2500" stop-color="#5dc963"/><stop offset="0.2812" stop-color="#4cc26c"/><stop offset="0.3125" stop-color="#3ebc74"/><stop offset="0.3438" stop-color="#31b57b"/><stop offset="0.3750" stop-color="#28ae80"/><stop offset="0.4062" stop-color="#21a685"/><stop offset="0.4375" stop-color="#1f9f88"/><stop offset="0.4688" stop-color="#1f988b"/><stop offset="0.5000" stop-color="#21908c"/><stop offset="0.5312" stop-color="#23898e"/><stop offset="0.5625" stop-color="#26818e"/><stop offset="0.5938" stop-color="#297a8e"/><stop offset="0.6250" stop-color="#2c728e"/><stop offset="0.6562" stop-color="#2f6a8e"/><stop offset="0.6875" stop-color="#33638d"/><stop offset="0.7188" stop-color="#375a8d"/><stop offset="0.7500" stop-color="#3b528b"/><stop offset="0.7812" stop-color="#3f4989"/><stop offset="0.8125" stop-color="#424086"/><stop offset="0.8438" stop-color="#453681"/><stop offset="0.8750" stop-color="#472d7b"/><stop offset="0.9062" stop-color="#482374"/><stop offset="0.9375" stop-color="#48186a"/><stop offset="0.9688" stop-color="#470d60"/><stop offset="1.0000" stop-color="#440154"/></linearGradient></defs><rect x="157.50" y="7.30" width="8.00" height="150.00" fill="url(#gv)" stroke="#000" stroke-width="1.2"/><text x="175.70 181.92 188.15" y="162.40" text-anchor="middle" fill="#000" stroke="#000">0.0</text><text x="175.70 181.92 188.15" y="147.40" text-anchor="middle" fill="#000" stroke="#000">0.1</text><text x="175.70 181.92 188.15" y="132.40" text-anchor="middle" fill="#000" stroke="#000">0.2</text><text x="175.70 181.92 188.15" y="117.40" text-anchor="middle" fill="#000" stroke="#000">0.3</text><text x="175.70 181.92 188.15" y="102.40" text-anchor="middle" fill="#000" stroke="#000">0.4</text><text x="175.70 181.92 188.15" y="87.40" text-anchor="middle" fill="#000" stroke="#000">0.5</text><text x="175.70 181.92 188.15" y="72.40" text-anchor="middle" fill="#000" stroke="#000">0.6</text><text x="175.70 181.92 188.15" y="57.40" text-anchor="middle" fill="#000" stroke="#000">0.7</text><text x="175.70 181.92 188.15" y="42.40" text-anchor="middle" fill="#000" stroke="#000">0.8</text><text x="175.70 181.92 188.15" y="27.40" text-anchor="middle" fill="#000" stroke="#000">0.9</text><text x="175.70 181.92 188.15" y="12.40" text-anchor="middle" fill="#000" stroke="#000">1.0</text><path d="M157.50 142.30H165.50M157.50 127.30H165.50M157.50 112.30H165.50M157.50 97.30H165.50M157.50 82.30H165.50M157.50 67.30H165.50M157.50 52.30H165.50M157.50 37.30H165.50M157.50 22.30H165.50" stroke="#000" stroke-width="1" fill="none"/><defs><linearGradient id="gr" x1="0" y1="0" x2="0" y2="1"><stop offset="0.0000" stop-color="#053061"/><stop offset="0.0312" stop-color="#0e4178"/><stop offset="0.0625" stop-color="#175290"/><stop offset="0.0938" stop-color="#1f63a7"/><stop offset="0.1250" stop-color="#2971b2"/><stop offset="0.1562" stop-color="#347fb9"/><stop offset="0.1875" stop-color="#3f8dc0"/><stop offset="0.2188" stop-color="#529cc8"/><stop offset="0.2500" stop-color="#6bacd0"/><stop offset="0.2812" stop-color="#83bcd9"/><stop offset="0.3125" stop-color="#9ac9e0"/><stop offset="0.3438" stop-color="#aed3e6"/><stop offset="0.3750" stop-color="#c1ddec"/><stop offset="0.4062" stop-color="#d3e6f0"/><stop offset="0.4375" stop-color="#dfecf3"/><stop offset="0.4688" stop-color="#ebf1f5"/><stop offset="0.5000" stop-color="#f7f7f6"/><stop offset="0.5312" stop-color="#f9eee8"/><stop offset="0.5625" stop-color="#fbe5d9"/><stop offset="0.5938" stop-color="#fdddca"/><stop offset="0.6250" stop-color="#fbceb6"/><stop offset="0.6562" stop-color="#f8bda0"/><stop offset="0.6875" stop-color="#f5ac8b"/><stop offset="0.7188" stop-color="#ee9878"/><stop offset="0.7500" stop-color="#e58267"/><stop offset="0.7812" stop-color="#dc6d57"/><stop offset="0.8125" stop-color="#d25749"/><stop offset="0.8438" stop-color="#c6413e"/><stop offset="0.8750" stop-color="#bb2a33"/><stop offset="0.9062" stop-color="#ad162a"/><stop offset="0.9375" stop-color="#960f26"/><stop offset="0.9688" stop-color="#7e0823"/><stop offset="1.0000" stop-color="#67001f"/></linearGradient></defs><rect x="247.30" y="227.80" width="8.50" height="168.90" fill="url(#gr)" stroke="#000" stroke-width="1.2"/><text transform="translate(268.12,401.80) scale(1.4,1)" text-anchor="middle" fill="#000" stroke="#000">−</text><text x="278.95 285.17 291.40" y="401.80" text-anchor="middle" fill="#000" stroke="#000">1.0</text><text transform="translate(268.12,384.91) scale(1.4,1)" text-anchor="middle" fill="#000" stroke="#000">−</text><text x="278.95 285.17 291.40" y="384.91" text-anchor="middle" fill="#000" stroke="#000">0.8</text><text transform="translate(268.12,368.02) scale(1.4,1)" text-anchor="middle" fill="#000" stroke="#000">−</text><text x="278.95 285.17 291.40" y="368.02" text-anchor="middle" fill="#000" stroke="#000">0.6</text><text transform="translate(268.12,351.13) scale(1.4,1)" text-anchor="middle" fill="#000" stroke="#000">−</text><text x="278.95 285.17 291.40" y="351.13" text-anchor="middle" fill="#000" stroke="#000">0.4</text><text transform="translate(268.12,334.24) scale(1.4,1)" text-anchor="middle" fill="#000" stroke="#000">−</text><text x="278.95 285.17 291.40" y="334.24" text-anchor="middle" fill="#000" stroke="#000">0.2</text><text x="266.50 272.72 278.95" y="317.35" text-anchor="middle" fill="#000" stroke="#000">0.0</text><text x="266.50 272.72 278.95" y="300.46" text-anchor="middle" fill="#000" stroke="#000">0.2</text><text x="266.50 272.72 278.95" y="283.57" text-anchor="middle" fill="#000" stroke="#000">0.4</text><text x="266.50 272.72 278.95" y="266.68" text-anchor="middle" fill="#000" stroke="#000">0.6</text><text x="266.50 272.72 278.95" y="249.79" text-anchor="middle" fill="#000" stroke="#000">0.8</text><text x="266.50 272.72 278.95" y="232.90" text-anchor="middle" fill="#000" stroke="#000">1.0</text><path d="M247.30 379.81H255.80M247.30 362.92H255.80M247.30 346.03H255.80M247.30 329.14H255.80M247.30 312.25H255.80M247.30 295.36H255.80M247.30 278.47H255.80M247.30 261.58H255.80M247.30 244.69H255.80" stroke="#000" stroke-width="1" fill="none"/><defs><linearGradient id="gr2" x1="0" y1="0" x2="0" y2="1"><stop offset="0.0000" stop-color="#053061"/><stop offset="0.0312" stop-color="#0e4178"/><stop offset="0.0625" stop-color="#175290"/><stop offset="0.0938" stop-color="#1f63a7"/><stop offset="0.1250" stop-color="#2971b2"/><stop offset="0.1562" stop-color="#347fb9"/><stop offset="0.1875" stop-color="#3f8dc0"/><stop offset="0.2188" stop-color="#529cc8"/><stop offset="0.2500" stop-color="#6bacd0"/><stop offset="0.2812" stop-color="#83bcd9"/><stop offset="0.3125" stop-color="#9ac9e0"/><stop offset="0.3438" stop-color="#aed3e6"/><stop offset="0.3750" stop-color="#c1ddec"/><stop offset="0.4062" stop-color="#d3e6f0"/><stop offset="0.4375" stop-color="#dfecf3"/><stop offset="0.4688" stop-color="#ebf1f5"/><stop offset="0.5000" stop-color="#f7f7f6"/><stop offset="0.5312" stop-color="#f9eee8"/><stop offset="0.5625" stop-color="#fbe5d9"/><stop offset="0.5938" stop-color="#fdddca"/><stop offset="0.6250" stop-color="#fbceb6"/><stop offset="0.6562" stop-color="#f8bda0"/><stop offset="0.6875" stop-color="#f5ac8b"/><stop offset="0.7188" stop-color="#ee9878"/><stop offset="0.7500" stop-color="#e58267"/><stop offset="0.7812" stop-color="#dc6d57"/><stop offset="0.8125" stop-color="#d25749"/><stop offset="0.8438" stop-color="#c6413e"/><stop offset="0.8750" stop-color="#bb2a33"/><stop offset="0.9062" stop-color="#ad162a"/><stop offset="0.9375" stop-color="#960f26"/><stop offset="0.9688" stop-color="#7e0823"/><stop offset="1.0000" stop-color="#67001f"/></linearGradient></defs><rect x="453.70" y="227.80" width="8.80" height="168.90" fill="url(#gr2)" stroke="#000" stroke-width="1.2"/><text transform="translate(474.32,401.80) scale(1.4,1)" text-anchor="middle" fill="#000" stroke="#000">−</text><text x="485.15 491.37 497.60" y="401.80" text-anchor="middle" fill="#000" stroke="#000">1.0</text><text transform="translate(474.32,384.91) scale(1.4,1)" text-anchor="middle" fill="#000" stroke="#000">−</text><text x="485.15 491.37 497.60" y="384.91" text-anchor="middle" fill="#000" stroke="#000">0.8</text><text transform="translate(474.32,368.02) scale(1.4,1)" text-anchor="middle" fill="#000" stroke="#000">−</text><text x="485.15 491.37 497.60" y="368.02" text-anchor="middle" fill="#000" stroke="#000">0.6</text><text transform="translate(474.32,351.13) scale(1.4,1)" text-anchor="middle" fill="#000" stroke="#000">−</text><text x="485.15 491.37 497.60" y="351.13" text-anchor="middle" fill="#000" stroke="#000">0.4</text><text transform="translate(474.32,334.24) scale(1.4,1)" text-anchor="middle" fill="#000" stroke="#000">−</text><text x="485.15 491.37 497.60" y="334.24" text-anchor="middle" fill="#000" stroke="#000">0.2</text><text x="472.70 478.92 485.15" y="317.35" text-anchor="middle" fill="#000" stroke="#000">0.0</text><text x="472.70 478.92 485.15" y="300.46" text-anchor="middle" fill="#000" stroke="#000">0.2</text><text x="472.70 478.92 485.15" y="283.57" text-anchor="middle" fill="#000" stroke="#000">0.4</text><text x="472.70 478.92 485.15" y="266.68" text-anchor="middle" fill="#000" stroke="#000">0.6</text><text x="472.70 478.92 485.15" y="249.79" text-anchor="middle" fill="#000" stroke="#000">0.8</text><text x="472.70 478.92 485.15" y="232.90" text-anchor="middle" fill="#000" stroke="#000">1.0</text><path d="M453.70 379.81H462.50M453.70 362.92H462.50M453.70 346.03H462.50M453.70 329.14H462.50M453.70 312.25H462.50M453.70 295.36H462.50M453.70 278.47H462.50M453.70 261.58H462.50M453.70 244.69H462.50" stroke="#000" stroke-width="1" fill="none"/><text x="126.40" y="149.30" fill="#fff" stroke="none" font-size="17" textLength="20.6" lengthAdjust="spacing">(a)</text><text x="357.90" y="150.00" fill="#fff" stroke="none" font-size="17" textLength="21.9" lengthAdjust="spacing">(b)</text><text x="569.70" y="148.90" fill="#fff" stroke="none" font-size="17" textLength="20.0" lengthAdjust="spacing">(c)</text><text x="497.40" y="21.70" fill="#fff" stroke="none" font-size="14.5" textLength="17.9" lengthAdjust="spacing">(d)</text><text x="541.10" y="21.70" fill="#fff" stroke="none" font-size="14.5" textLength="15.9" lengthAdjust="spacing">(e)</text><text x="215.50" y="388.30" fill="#000" stroke="#000" font-size="17" textLength="21.2" lengthAdjust="spacing">(d)</text><text x="424.10" y="388.30" fill="#000" stroke="#000" font-size="17" textLength="18.9" lengthAdjust="spacing">(e)</text><text transform="translate(106.20,197.60)" text-anchor="middle" stroke="#000"><tspan x="-13.00" y="0" font-style="italic" font-size="17.5">x</tspan><tspan x="-4.10" y="0" font-size="23" dy="2.8">/</tspan><tspan x="5.99" y="0" font-style="italic" font-size="17.5">w</tspan><tspan x="14.84" y="0" font-size="11.5" dy="3.6">0</tspan></text><text transform="translate(327.50,196.50)" text-anchor="middle" stroke="#000"><tspan x="-13.32" y="0" font-style="italic" font-size="17.5">z</tspan><tspan x="-4.73" y="0" font-size="23" dy="2.8">/</tspan><tspan x="3.86" y="0" font-style="italic" font-size="17.5">z</tspan><tspan x="12.73" y="0" font-size="12" dy="3.4" font-style="italic">R</tspan></text><text transform="translate(537.00,196.50)" text-anchor="middle" stroke="#000"><tspan x="-13.32" y="0" font-style="italic" font-size="17.5">z</tspan><tspan x="-4.73" y="0" font-size="23" dy="2.8">/</tspan><tspan x="3.86" y="0" font-style="italic" font-size="17.5">z</tspan><tspan x="12.73" y="0" font-size="12" dy="3.4" font-style="italic">R</tspan></text><text transform="translate(11.60,83.20) rotate(-90)" text-anchor="middle" stroke="#000"><tspan x="-13.00" y="0" font-style="italic" font-size="17.5">y</tspan><tspan x="-4.78" y="0" font-size="23" dy="2.8">/</tspan><tspan x="5.31" y="0" font-style="italic" font-size="17.5">w</tspan><tspan x="14.16" y="0" font-size="11.5" dy="3.6">0</tspan></text><text transform="translate(222.20,83.20) rotate(-90)" text-anchor="middle" stroke="#000"><tspan x="-13.00" y="0" font-style="italic" font-size="17.5">y</tspan><tspan x="-4.78" y="0" font-size="23" dy="2.8">/</tspan><tspan x="5.31" y="0" font-style="italic" font-size="17.5">w</tspan><tspan x="14.16" y="0" font-size="11.5" dy="3.6">0</tspan></text><text transform="translate(431.60,83.20) rotate(-90)" text-anchor="middle" stroke="#000"><tspan x="-13.00" y="0" font-style="italic" font-size="17.5">y</tspan><tspan x="-4.78" y="0" font-size="23" dy="2.8">/</tspan><tspan x="5.31" y="0" font-style="italic" font-size="17.5">w</tspan><tspan x="14.16" y="0" font-size="11.5" dy="3.6">0</tspan></text><text transform="translate(113.80,315.20) rotate(-90)" text-anchor="middle" stroke="#000"><tspan x="-10.46" y="0" font-style="italic" font-size="17.5">y</tspan><tspan x="-1.94" y="0" font-size="23" dy="2.8">/</tspan><tspan x="8.51" y="0" font-style="italic" font-size="17.5">w</tspan></text><text transform="translate(319.20,315.40) rotate(-90)" text-anchor="middle" stroke="#000"><tspan x="-10.46" y="0" font-style="italic" font-size="17.5">y</tspan><tspan x="-1.94" y="0" font-size="23" dy="2.8">/</tspan><tspan x="8.51" y="0" font-style="italic" font-size="17.5">w</tspan></text><text transform="translate(198.20,437.80)" text-anchor="middle" stroke="#000"><tspan x="-13.19" y="0" font-style="italic" font-size="17.5">t</tspan><tspan x="-2.36" y="0" font-size="19.5">[</tspan><tspan x="2.49" y="0" font-size="16">f</tspan><tspan x="8.30" y="0" font-size="16">s</tspan><tspan x="13.88" y="0" font-size="19.5">]</tspan></text><text transform="translate(404.60,437.80)" text-anchor="middle" stroke="#000"><tspan x="-13.19" y="0" font-style="italic" font-size="17.5">t</tspan><tspan x="-2.36" y="0" font-size="19.5">[</tspan><tspan x="2.49" y="0" font-size="16">f</tspan><tspan x="8.30" y="0" font-size="16">s</tspan><tspan x="13.88" y="0" font-size="19.5">]</tspan></text><g><polygon points="213.2,476.5 385.3,477.4 385.3,488.3 212.2,488.3" fill="#ff0000"/><polygon points="213.5,477.0 325.0,504.0 329.8,516.4 212.3,488.6" fill="#ff0000"/><polygon points="217.6,504.6 384.6,462.6 384.6,472.9 212.8,516.7" fill="#ff0000"/><polygon points="213.2,476.5 385.3,477.4 385.3,488.3 212.2,488.3" fill="none" stroke="#ffe0e0" stroke-width="0.5" stroke-linejoin="round"/><polygon points="213.5,477.0 325.0,504.0 329.8,516.4 212.3,488.6" fill="none" stroke="#ffe0e0" stroke-width="0.5" stroke-linejoin="round"/><polygon points="217.6,504.6 384.6,462.6 384.6,472.9 212.8,516.7" fill="none" stroke="#ffe0e0" stroke-width="0.5" stroke-linejoin="round"/><polygon points="217.6,507.3 331.4,534.6 331.0,545.6 212.8,517.3" fill="#ffaa00"/><polygon points="325.0,505.8 211.3,533.0 211.8,545.0 329.8,516.6" fill="#ffaa00"/><polygon points="211.2,534.6 271.0,540.2 330.9,534.8 330.4,547.4 271.0,542.4 212.0,546.8" fill="#ffaa00"/><polygon points="217.6,507.3 331.4,534.6 331.0,545.6 212.8,517.3" fill="none" stroke="#ffee00" stroke-width="0.7" stroke-linejoin="round"/><polygon points="325.0,505.8 211.3,533.0 211.8,545.0 329.8,516.6" fill="none" stroke="#ffee00" stroke-width="0.7" stroke-linejoin="round"/><polygon points="211.2,534.6 271.0,540.2 330.9,534.8 330.4,547.4 271.0,542.4 212.0,546.8" fill="none" stroke="#ffee00" stroke-width="0.7" stroke-linejoin="round"/><path d="M212.8 516.7L233 511.5M329.8 516.4L306 510.6" stroke="#ffb0b0" stroke-width="0.5" fill="none"/><path d="M274 541.2H372" stroke="#1a1aff" stroke-width="1.3" fill="none"/><polygon points="377.3,541.2 369.5,538.6 371.3,541.2 369.5,543.8" fill="#1a1aff"/><defs><linearGradient id="tg" x1="0" y1="0" x2="0" y2="1"><stop offset="0" stop-color="#fff"/><stop offset="0.45" stop-color="#bbb"/><stop offset="1" stop-color="#222"/></linearGradient></defs><polygon points="265.8,535.6 276.8,535.6 274.3,549.2 269.2,549.2" fill="url(#tg)"/><rect x="269" y="549" width="5.5" height="8.6" fill="#000"/><path d="M208.9 471.2L213.9 472Q211.3 483.5 211.6 494.3L205.8 493.5Q205.6 482 208.9 471.2Z" fill="#c4c4c4" stroke="#4a4a4a" stroke-width="0.8" stroke-linejoin="round"/><path d="M328.7 472.5L334 471.6Q333.8 483 336.5 494.1L331.5 494.9Q328.9 483.8 328.7 472.5Z" fill="#c4c4c4" stroke="#4a4a4a" stroke-width="0.8" stroke-linejoin="round"/><path d="M206.3 500H217.6V511.6H212.8V522.7H206.3Z" fill="#c4c4c4" stroke="#4a4a4a" stroke-width="0.8" stroke-linejoin="round"/><path d="M325 499.6H335.6V522.4H329.8V511.1H325Z" fill="#c4c4c4" stroke="#4a4a4a" stroke-width="0.8" stroke-linejoin="round"/><path d="M206.6 530.3L211.3 529.6Q208.3 541 213.3 552.5L207.5 552.5Q204.3 541 206.6 530.3Z" fill="#c4c4c4" stroke="#4a4a4a" stroke-width="0.8" stroke-linejoin="round"/><path d="M330.4 529.6L336.2 529.9L335.2 538.6L331.9 538.2Q331.6 534 330.4 529.6Z" fill="#c4c4c4" stroke="#4a4a4a" stroke-width="0.8" stroke-linejoin="round"/><path d="M331.6 543.2L335.4 543.7L334 552.4L328.6 551.5Q330.6 547.5 331.6 543.2Z" fill="#c4c4c4" stroke="#4a4a4a" stroke-width="0.8" stroke-linejoin="round"/><path d="M215.3 483.0L236.0 487.4" stroke="#fff" stroke-width="1.4" fill="none"/><polygon points="240.4,488.4 233.5,489.7 236.0,487.4 234.6,484.4" fill="#fff"/><path d="M227.7 507.3L242.9 503.7" stroke="#fff" stroke-width="1.4" fill="none"/><polygon points="247.3,502.6 241.6,506.7 242.9,503.7 240.3,501.5" fill="#fff"/><path d="M216.8 541.0L241.9 541.0" stroke="#fff" stroke-width="1.4" fill="none"/><polygon points="246.5,541.0 240.0,543.7 241.9,541.0 240.0,538.3" fill="#fff"/><path d="M318.4 513.7L298.3 518.2" stroke="#fff" stroke-width="1.4" fill="none"/><polygon points="293.9,519.2 299.7,515.1 298.3,518.2 300.8,520.4" fill="#fff"/><path d="M317.8 538.3L298.9 532.9" stroke="#fff" stroke-width="1.4" fill="none"/><polygon points="294.5,531.7 301.5,530.9 298.9,532.9 300.0,536.1" fill="#fff"/><path d="M365.0 481.8L346.2 482.4" stroke="#fff" stroke-width="1.4" fill="none"/><polygon points="341.7,482.6 348.1,479.7 346.2,482.4 348.3,485.1" fill="#fff"/><text x="183.0" y="488.3" font-size="15" fill="#000" stroke="#000" text-anchor="start">PM</text><text x="182.0" y="516.7" font-size="15" fill="#000" stroke="#000" text-anchor="start">SM</text><text x="182.5" y="545.8" font-size="15" fill="#000" stroke="#000" text-anchor="start">CM</text><text x="325.5" y="469.2" font-size="15" fill="#000" stroke="#000" text-anchor="start">IC</text><text x="338.0" y="515.8" font-size="15" fill="#000" stroke="#000" text-anchor="start">SM</text><text x="338.2" y="536.6" font-size="15" fill="#000" stroke="#000" text-anchor="start">PCM</text><text x="365.1" y="556.2" font-size="15" fill="#000" stroke="#000" text-anchor="start">XUV</text><text x="275.8" y="557.5" font-size="15" fill="#000" stroke="#000" text-anchor="start">target</text><text x="255.5" y="473" font-size="15" fill="#ff0000" stroke="#ff0000">GH<tspan font-size="12" dy="1.8">01</tspan></text><text x="402.4" y="572.8" font-size="17" fill="#000" stroke="#000" text-anchor="start" textLength="17.3" lengthAdjust="spacing">(f)</text></g></svg>
</div></body></html>
